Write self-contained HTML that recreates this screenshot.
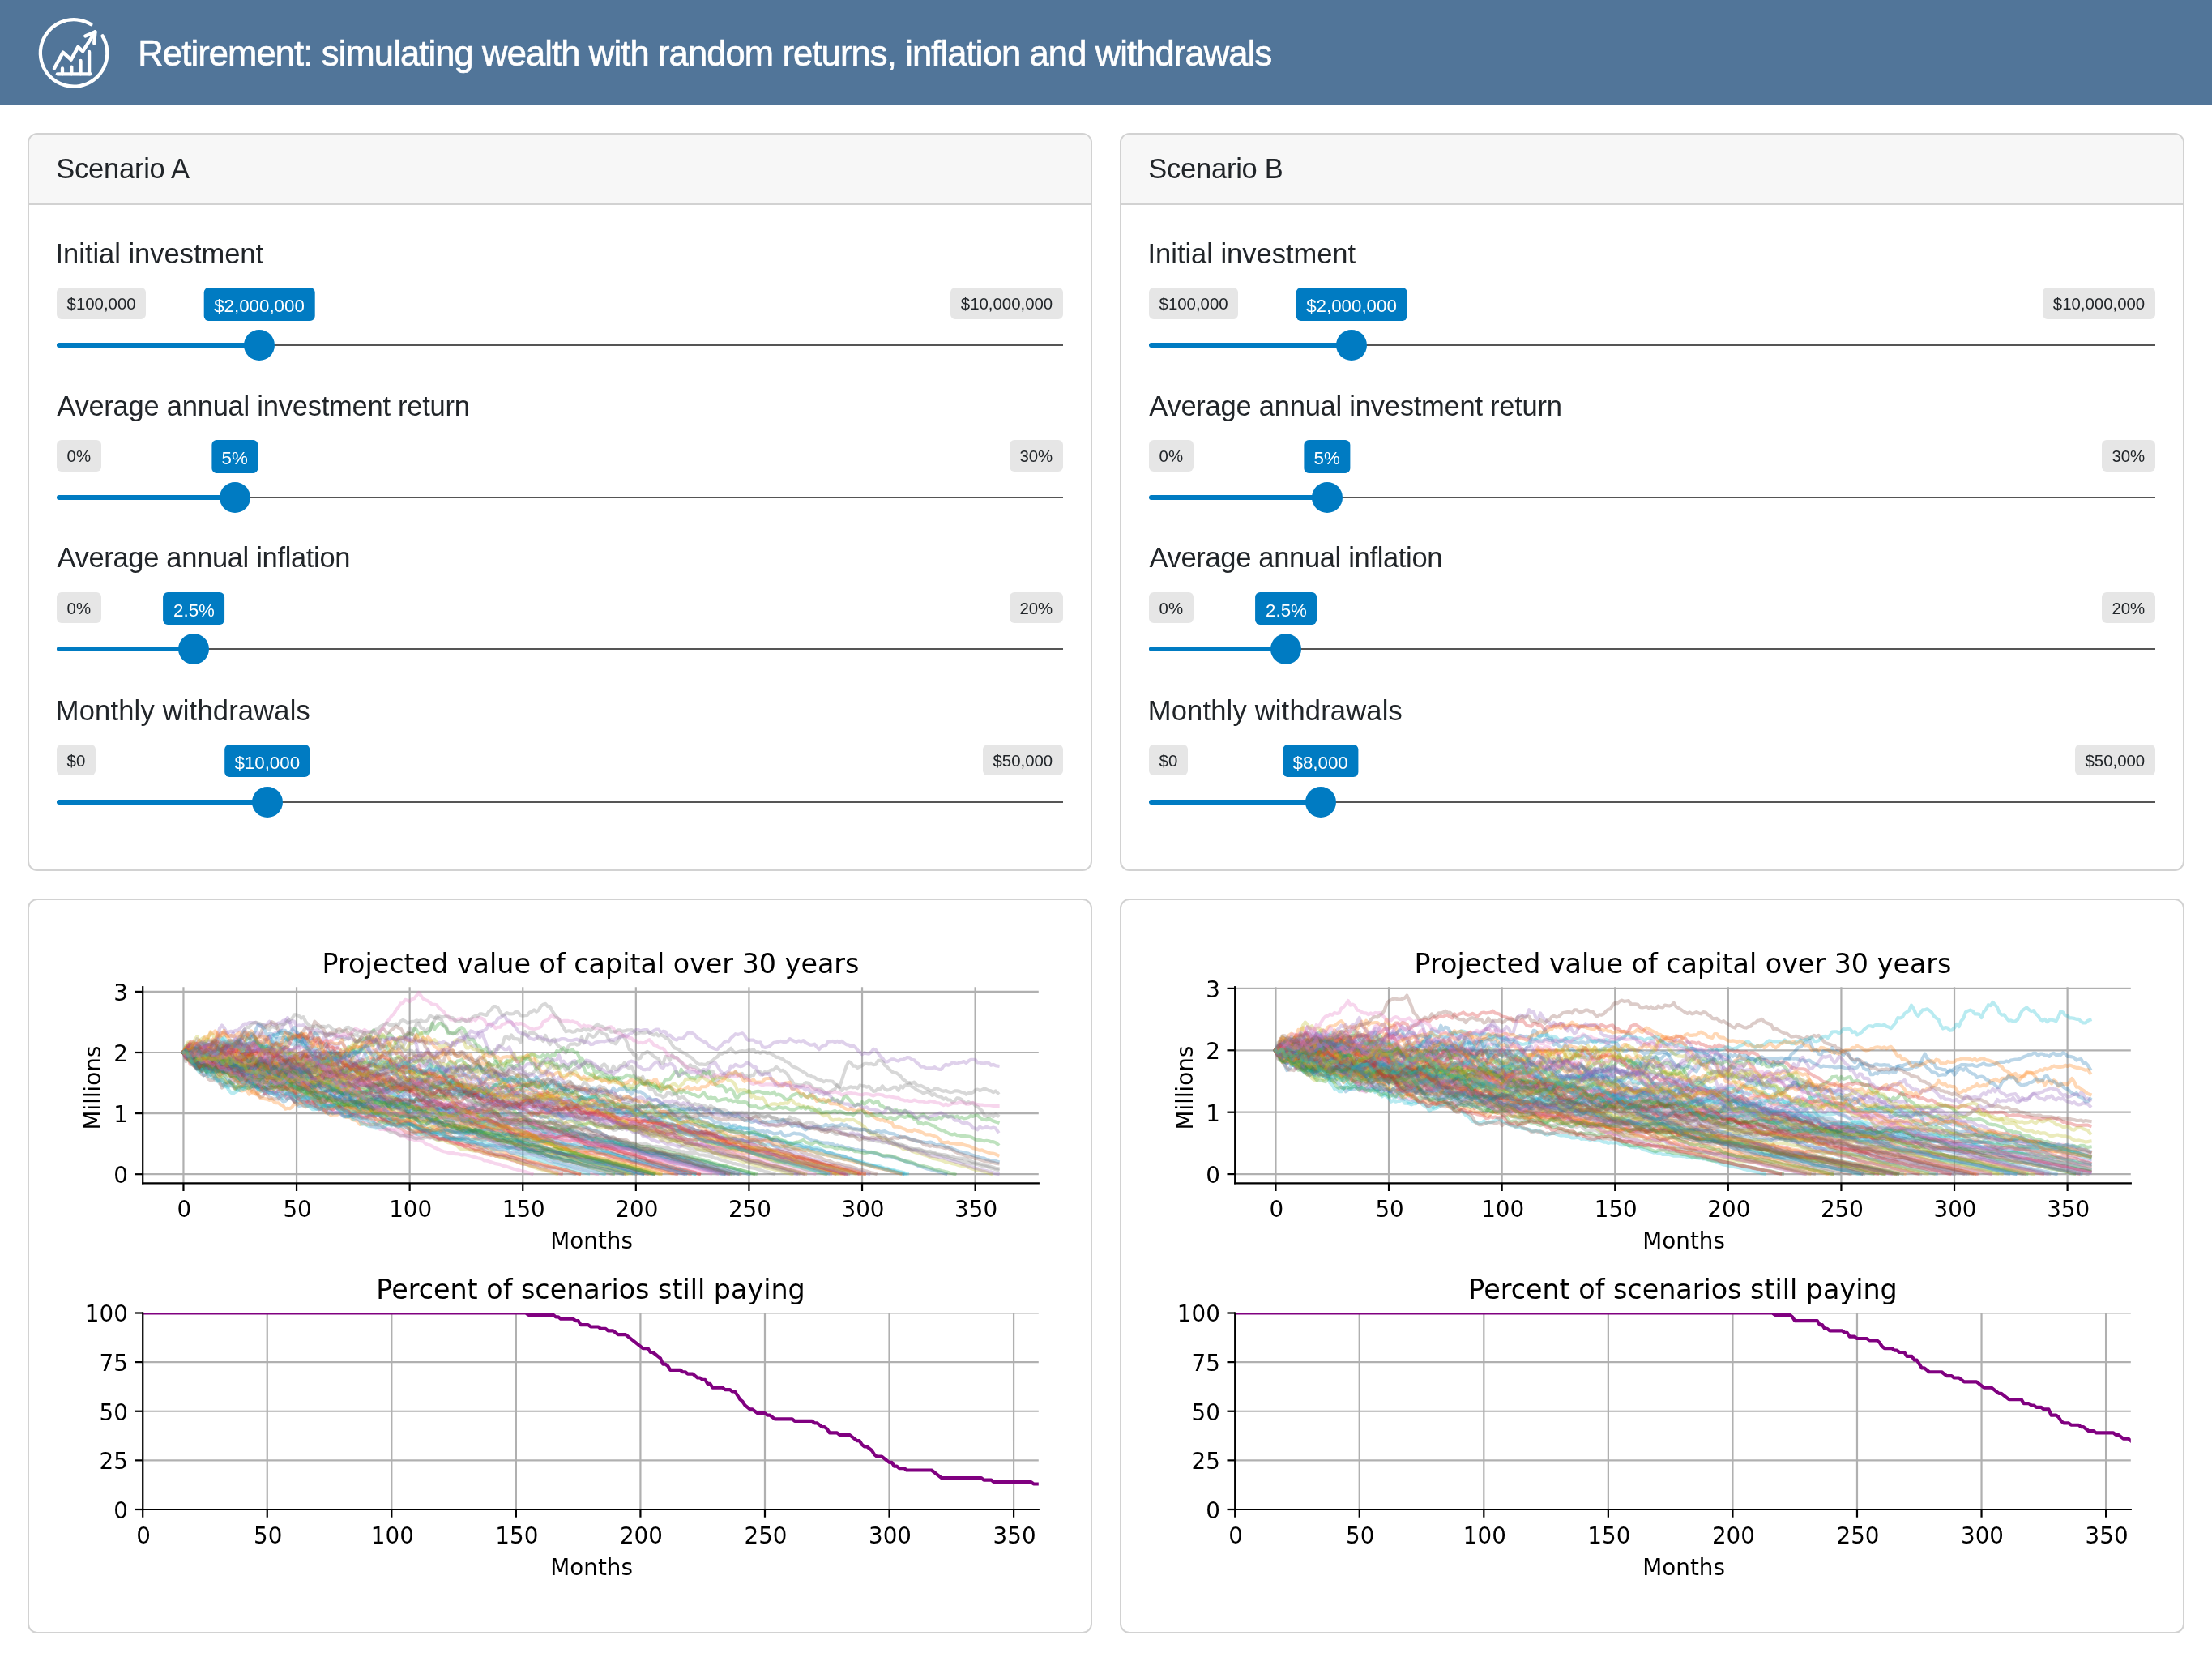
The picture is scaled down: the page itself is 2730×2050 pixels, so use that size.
<!DOCTYPE html><html><head><meta charset="utf-8"><title>Retirement</title><style>
*{box-sizing:border-box;margin:0;padding:0}
html,body{width:2730px;height:2050px;background:#fff;overflow:hidden}
body{position:relative;will-change:transform;font-family:"Liberation Sans",Arial,sans-serif;color:#212529}
.t{position:absolute;white-space:nowrap}
.hdr{position:absolute;left:0;top:0;width:2730px;height:130px;background:#517599}
.card{position:absolute;border:2px solid #d2d2d2;border-radius:12px;background:#fff;overflow:hidden}
.card-header{height:87px;background:#f7f7f7;border-bottom:2px solid #d2d2d2}
.irs-min,.irs-max{position:absolute;height:38.4px;line-height:40.4px;padding:0 12.6px;background:#e6e6e6;border-radius:6px;font-size:20.4px;color:#212529;white-space:nowrap}
.irs-single{position:absolute;height:40.3px;line-height:45.3px;padding:0 12.5px;background:#007bc2;color:#fff;border-radius:6px;font-size:22.3px;white-space:nowrap;transform:translateX(-50%)}
.irs-line{position:absolute;height:2px;background:#555555}
.irs-bar{position:absolute;height:6px;background:#007bc2;border-radius:3px}
.irs-handle{position:absolute;width:38px;height:38px;border-radius:50%;background:#007bc2}
.plot{position:absolute;left:68px;top:1143px;width:1246px;height:800px}
@media (max-width:1400px){html{zoom:0.5}}
</style></head><body>
<div class="hdr"></div><svg class="icon" width="160" height="130" viewBox="0 0 160 130" style="position:absolute;left:0;top:0" fill="none" stroke="#fff" stroke-width="4.3" stroke-linecap="round" stroke-linejoin="round">
<path d="M112.41 30.13 A41.25 41.25 0 1 0 126.53 44.33"/>
<path d="M66.9 84.5 L77.8 64.6 L87.7 73.7 L96.3 57.9 L102.2 63.3 L117.3 39.6"/>
<path d="M105.3 44.4 L117.5 39.3 L116.2 53.3"/>
<path d="M70.9 91.3 H111.8"/>
<path d="M77 91.3 V84.4 M88.3 91.3 V82.6 M99.5 91.3 V74.9 M110.1 91.3 V64"/>
</svg>
<div class="t " style="left:170.30px;top:44.92px;font-size:43.50px;line-height:43.50px;color:#fff;letter-spacing:-0.87px;-webkit-text-stroke:0.6px #fff;">Retirement: simulating wealth with random returns, inflation and withdrawals</div>
<div class="card" style="left:34px;top:164px;width:1314px;height:911px"><div class="card-header"></div></div>
<div class="t " style="left:69.35px;top:191.39px;font-size:34.50px;line-height:34.50px;letter-spacing:-0.25px;">Scenario A</div>
<div class="t " style="left:68.50px;top:296.09px;font-size:34.50px;line-height:34.50px;letter-spacing:-0.02px;">Initial investment</div>
<div class="irs-min" style="left:70.00px;top:355.30px">$100,000</div>
<div class="irs-max" style="right:1418.20px;top:355.30px">$10,000,000</div>
<div class="irs-line" style="left:70.00px;top:425.00px;width:1241.80px"></div>
<div class="irs-bar" style="left:70.00px;top:423.00px;width:250.03px"></div>
<div class="irs-handle" style="left:301.03px;top:407.00px"></div>
<div class="irs-single" style="left:320.03px;top:355.30px">$2,000,000</div>
<div class="t " style="left:70.25px;top:484.19px;font-size:34.50px;line-height:34.50px;letter-spacing:-0.24px;">Average annual investment return</div>
<div class="irs-min" style="left:70.00px;top:543.40px">0%</div>
<div class="irs-max" style="right:1418.20px;top:543.40px">30%</div>
<div class="irs-line" style="left:70.00px;top:613.10px;width:1241.80px"></div>
<div class="irs-bar" style="left:70.00px;top:611.10px;width:219.63px"></div>
<div class="irs-handle" style="left:270.63px;top:595.10px"></div>
<div class="irs-single" style="left:289.63px;top:543.40px">5%</div>
<div class="t " style="left:70.50px;top:671.39px;font-size:34.50px;line-height:34.50px;letter-spacing:-0.33px;">Average annual inflation</div>
<div class="irs-min" style="left:70.00px;top:730.60px">0%</div>
<div class="irs-max" style="right:1418.20px;top:730.60px">20%</div>
<div class="irs-line" style="left:70.00px;top:800.30px;width:1241.80px"></div>
<div class="irs-bar" style="left:70.00px;top:798.30px;width:169.47px"></div>
<div class="irs-handle" style="left:220.47px;top:782.30px"></div>
<div class="irs-single" style="left:239.47px;top:730.60px">2.5%</div>
<div class="t " style="left:68.75px;top:859.59px;font-size:34.50px;line-height:34.50px;letter-spacing:0.19px;">Monthly withdrawals</div>
<div class="irs-min" style="left:70.00px;top:918.80px">$0</div>
<div class="irs-max" style="right:1418.20px;top:918.80px">$50,000</div>
<div class="irs-line" style="left:70.00px;top:988.50px;width:1241.80px"></div>
<div class="irs-bar" style="left:70.00px;top:986.50px;width:259.76px"></div>
<div class="irs-handle" style="left:310.76px;top:970.50px"></div>
<div class="irs-single" style="left:329.76px;top:918.80px">$10,000</div>
<div class="card" style="left:34px;top:1109px;width:1314px;height:907px"></div>
<div class="card" style="left:1382px;top:164px;width:1314px;height:911px"><div class="card-header"></div></div>
<div class="t " style="left:1417.35px;top:191.39px;font-size:34.50px;line-height:34.50px;letter-spacing:-0.25px;">Scenario B</div>
<div class="t " style="left:1416.50px;top:296.09px;font-size:34.50px;line-height:34.50px;letter-spacing:-0.02px;">Initial investment</div>
<div class="irs-min" style="left:1418.00px;top:355.30px">$100,000</div>
<div class="irs-max" style="right:70.20px;top:355.30px">$10,000,000</div>
<div class="irs-line" style="left:1418.00px;top:425.00px;width:1241.80px"></div>
<div class="irs-bar" style="left:1418.00px;top:423.00px;width:250.03px"></div>
<div class="irs-handle" style="left:1649.03px;top:407.00px"></div>
<div class="irs-single" style="left:1668.03px;top:355.30px">$2,000,000</div>
<div class="t " style="left:1418.25px;top:484.19px;font-size:34.50px;line-height:34.50px;letter-spacing:-0.24px;">Average annual investment return</div>
<div class="irs-min" style="left:1418.00px;top:543.40px">0%</div>
<div class="irs-max" style="right:70.20px;top:543.40px">30%</div>
<div class="irs-line" style="left:1418.00px;top:613.10px;width:1241.80px"></div>
<div class="irs-bar" style="left:1418.00px;top:611.10px;width:219.63px"></div>
<div class="irs-handle" style="left:1618.63px;top:595.10px"></div>
<div class="irs-single" style="left:1637.63px;top:543.40px">5%</div>
<div class="t " style="left:1418.50px;top:671.39px;font-size:34.50px;line-height:34.50px;letter-spacing:-0.33px;">Average annual inflation</div>
<div class="irs-min" style="left:1418.00px;top:730.60px">0%</div>
<div class="irs-max" style="right:70.20px;top:730.60px">20%</div>
<div class="irs-line" style="left:1418.00px;top:800.30px;width:1241.80px"></div>
<div class="irs-bar" style="left:1418.00px;top:798.30px;width:169.47px"></div>
<div class="irs-handle" style="left:1568.47px;top:782.30px"></div>
<div class="irs-single" style="left:1587.47px;top:730.60px">2.5%</div>
<div class="t " style="left:1416.75px;top:859.59px;font-size:34.50px;line-height:34.50px;letter-spacing:0.19px;">Monthly withdrawals</div>
<div class="irs-min" style="left:1418.00px;top:918.80px">$0</div>
<div class="irs-max" style="right:70.20px;top:918.80px">$50,000</div>
<div class="irs-line" style="left:1418.00px;top:988.50px;width:1241.80px"></div>
<div class="irs-bar" style="left:1418.00px;top:986.50px;width:211.61px"></div>
<div class="irs-handle" style="left:1610.61px;top:970.50px"></div>
<div class="irs-single" style="left:1629.61px;top:918.80px">$8,000</div>
<div class="card" style="left:1382px;top:1109px;width:1314px;height:907px"></div>
<div class="plot"> <svg style="overflow:visible" stroke-linejoin="round" stroke-linecap="butt" width="1246" height="800" viewBox="0 0 448.56 288" version="1.1"><g><g><path d="M 0 288 L 448.56 288 L 448.56 0 L 0 0 z " style="fill: #ffffff"/></g><g><g><path d="M 38.952 114.228 L 436.968 114.228 L 436.968 27.072 L 38.952 27.072 z " style="fill: #ffffff"/></g><g><g><g><path d="M 57.043636 114.228 L 57.043636 27.072 " clip-path="url(#ap23c7c8c218)" style="fill: none; stroke: #b0b0b0; stroke-width: 0.8; stroke-linecap: square"/></g><g><g><path d="M 0 0 L 0 3.5 " transform="translate(57.043636 114.228)" style="stroke: #000000; stroke-width: 0.8"/></g></g><g><text style="font-size: 10px; font-family: 'DejaVu Sans', 'Bitstream Vera Sans', 'Computer Modern Sans Serif', 'Lucida Grande', 'Verdana', 'Geneva', 'Lucid', 'Arial', 'Helvetica', 'Avant Garde', sans-serif; text-anchor: middle" x="57.043636" y="128.826437" transform="translate(0.360 0.504) rotate(-0 57.043636 128.826437)">0</text></g></g><g><g><path d="M 107.298182 114.228 L 107.298182 27.072 " clip-path="url(#ap23c7c8c218)" style="fill: none; stroke: #b0b0b0; stroke-width: 0.8; stroke-linecap: square"/></g><g><g><path d="M 0 0 L 0 3.5 " transform="translate(107.298182 114.228)" style="stroke: #000000; stroke-width: 0.8"/></g></g><g><text style="font-size: 10px; font-family: 'DejaVu Sans', 'Bitstream Vera Sans', 'Computer Modern Sans Serif', 'Lucida Grande', 'Verdana', 'Geneva', 'Lucid', 'Arial', 'Helvetica', 'Avant Garde', sans-serif; text-anchor: middle" x="107.298182" y="128.826437" transform="translate(0.360 0.504) rotate(-0 107.298182 128.826437)">50</text></g></g><g><g><path d="M 157.552727 114.228 L 157.552727 27.072 " clip-path="url(#ap23c7c8c218)" style="fill: none; stroke: #b0b0b0; stroke-width: 0.8; stroke-linecap: square"/></g><g><g><path d="M 0 0 L 0 3.5 " transform="translate(157.552727 114.228)" style="stroke: #000000; stroke-width: 0.8"/></g></g><g><text style="font-size: 10px; font-family: 'DejaVu Sans', 'Bitstream Vera Sans', 'Computer Modern Sans Serif', 'Lucida Grande', 'Verdana', 'Geneva', 'Lucid', 'Arial', 'Helvetica', 'Avant Garde', sans-serif; text-anchor: middle" x="157.552727" y="128.826437" transform="translate(0.360 0.504) rotate(-0 157.552727 128.826437)">100</text></g></g><g><g><path d="M 207.807273 114.228 L 207.807273 27.072 " clip-path="url(#ap23c7c8c218)" style="fill: none; stroke: #b0b0b0; stroke-width: 0.8; stroke-linecap: square"/></g><g><g><path d="M 0 0 L 0 3.5 " transform="translate(207.807273 114.228)" style="stroke: #000000; stroke-width: 0.8"/></g></g><g><text style="font-size: 10px; font-family: 'DejaVu Sans', 'Bitstream Vera Sans', 'Computer Modern Sans Serif', 'Lucida Grande', 'Verdana', 'Geneva', 'Lucid', 'Arial', 'Helvetica', 'Avant Garde', sans-serif; text-anchor: middle" x="207.807273" y="128.826437" transform="translate(0.360 0.504) rotate(-0 207.807273 128.826437)">150</text></g></g><g><g><path d="M 258.061818 114.228 L 258.061818 27.072 " clip-path="url(#ap23c7c8c218)" style="fill: none; stroke: #b0b0b0; stroke-width: 0.8; stroke-linecap: square"/></g><g><g><path d="M 0 0 L 0 3.5 " transform="translate(258.061818 114.228)" style="stroke: #000000; stroke-width: 0.8"/></g></g><g><text style="font-size: 10px; font-family: 'DejaVu Sans', 'Bitstream Vera Sans', 'Computer Modern Sans Serif', 'Lucida Grande', 'Verdana', 'Geneva', 'Lucid', 'Arial', 'Helvetica', 'Avant Garde', sans-serif; text-anchor: middle" x="258.061818" y="128.826437" transform="translate(0.360 0.504) rotate(-0 258.061818 128.826437)">200</text></g></g><g><g><path d="M 308.316364 114.228 L 308.316364 27.072 " clip-path="url(#ap23c7c8c218)" style="fill: none; stroke: #b0b0b0; stroke-width: 0.8; stroke-linecap: square"/></g><g><g><path d="M 0 0 L 0 3.5 " transform="translate(308.316364 114.228)" style="stroke: #000000; stroke-width: 0.8"/></g></g><g><text style="font-size: 10px; font-family: 'DejaVu Sans', 'Bitstream Vera Sans', 'Computer Modern Sans Serif', 'Lucida Grande', 'Verdana', 'Geneva', 'Lucid', 'Arial', 'Helvetica', 'Avant Garde', sans-serif; text-anchor: middle" x="308.316364" y="128.826437" transform="translate(0.360 0.504) rotate(-0 308.316364 128.826437)">250</text></g></g><g><g><path d="M 358.570909 114.228 L 358.570909 27.072 " clip-path="url(#ap23c7c8c218)" style="fill: none; stroke: #b0b0b0; stroke-width: 0.8; stroke-linecap: square"/></g><g><g><path d="M 0 0 L 0 3.5 " transform="translate(358.570909 114.228)" style="stroke: #000000; stroke-width: 0.8"/></g></g><g><text style="font-size: 10px; font-family: 'DejaVu Sans', 'Bitstream Vera Sans', 'Computer Modern Sans Serif', 'Lucida Grande', 'Verdana', 'Geneva', 'Lucid', 'Arial', 'Helvetica', 'Avant Garde', sans-serif; text-anchor: middle" x="358.570909" y="128.826437" transform="translate(0.360 0.504) rotate(-0 358.570909 128.826437)">300</text></g></g><g><g><path d="M 408.825455 114.228 L 408.825455 27.072 " clip-path="url(#ap23c7c8c218)" style="fill: none; stroke: #b0b0b0; stroke-width: 0.8; stroke-linecap: square"/></g><g><g><path d="M 0 0 L 0 3.5 " transform="translate(408.825455 114.228)" style="stroke: #000000; stroke-width: 0.8"/></g></g><g><text style="font-size: 10px; font-family: 'DejaVu Sans', 'Bitstream Vera Sans', 'Computer Modern Sans Serif', 'Lucida Grande', 'Verdana', 'Geneva', 'Lucid', 'Arial', 'Helvetica', 'Avant Garde', sans-serif; text-anchor: middle" x="408.825455" y="128.826437" transform="translate(0.360 0.504) rotate(-0 408.825455 128.826437)">350</text></g></g><g><text style="font-size: 10px; font-family: 'DejaVu Sans', 'Bitstream Vera Sans', 'Computer Modern Sans Serif', 'Lucida Grande', 'Verdana', 'Geneva', 'Lucid', 'Arial', 'Helvetica', 'Avant Garde', sans-serif; text-anchor: middle" x="237.96" y="142.504562" transform="translate(0.396 0.864) rotate(-0 237.96 142.504562)">Months</text></g></g><g><g><g><path d="M 38.952 110.232077 L 436.968 110.232077 " clip-path="url(#ap23c7c8c218)" style="fill: none; stroke: #b0b0b0; stroke-width: 0.8; stroke-linecap: square"/></g><g><g><path d="M 0 0 L -3.5 0 " transform="translate(38.952 110.232077)" style="stroke: #000000; stroke-width: 0.8"/></g></g><g><text style="font-size: 10px; font-family: 'DejaVu Sans', 'Bitstream Vera Sans', 'Computer Modern Sans Serif', 'Lucida Grande', 'Verdana', 'Geneva', 'Lucid', 'Arial', 'Helvetica', 'Avant Garde', sans-serif; text-anchor: end" x="31.952" y="114.031296" transform="translate(0.396 0.144) rotate(-0 31.952 114.031296)">0</text></g></g><g><g><path d="M 38.952 83.196063 L 436.968 83.196063 " clip-path="url(#ap23c7c8c218)" style="fill: none; stroke: #b0b0b0; stroke-width: 0.8; stroke-linecap: square"/></g><g><g><path d="M 0 0 L -3.5 0 " transform="translate(38.952 83.196063)" style="stroke: #000000; stroke-width: 0.8"/></g></g><g><text style="font-size: 10px; font-family: 'DejaVu Sans', 'Bitstream Vera Sans', 'Computer Modern Sans Serif', 'Lucida Grande', 'Verdana', 'Geneva', 'Lucid', 'Arial', 'Helvetica', 'Avant Garde', sans-serif; text-anchor: end" x="31.952" y="86.995281" transform="translate(0.396 0.144) rotate(-0 31.952 86.995281)">1</text></g></g><g><g><path d="M 38.952 56.160048 L 436.968 56.160048 " clip-path="url(#ap23c7c8c218)" style="fill: none; stroke: #b0b0b0; stroke-width: 0.8; stroke-linecap: square"/></g><g><g><path d="M 0 0 L -3.5 0 " transform="translate(38.952 56.160048)" style="stroke: #000000; stroke-width: 0.8"/></g></g><g><text style="font-size: 10px; font-family: 'DejaVu Sans', 'Bitstream Vera Sans', 'Computer Modern Sans Serif', 'Lucida Grande', 'Verdana', 'Geneva', 'Lucid', 'Arial', 'Helvetica', 'Avant Garde', sans-serif; text-anchor: end" x="31.952" y="59.959267" transform="translate(0.396 0.144) rotate(-0 31.952 59.959267)">2</text></g></g><g><g><path d="M 38.952 29.124034 L 436.968 29.124034 " clip-path="url(#ap23c7c8c218)" style="fill: none; stroke: #b0b0b0; stroke-width: 0.8; stroke-linecap: square"/></g><g><g><path d="M 0 0 L -3.5 0 " transform="translate(38.952 29.124034)" style="stroke: #000000; stroke-width: 0.8"/></g></g><g><text style="font-size: 10px; font-family: 'DejaVu Sans', 'Bitstream Vera Sans', 'Computer Modern Sans Serif', 'Lucida Grande', 'Verdana', 'Geneva', 'Lucid', 'Arial', 'Helvetica', 'Avant Garde', sans-serif; text-anchor: end" x="31.952" y="32.923252" transform="translate(0.396 0.144) rotate(-0 31.952 32.923252)">3</text></g></g><g><text style="font-size: 10px; font-family: 'DejaVu Sans', 'Bitstream Vera Sans', 'Computer Modern Sans Serif', 'Lucida Grande', 'Verdana', 'Geneva', 'Lucid', 'Arial', 'Helvetica', 'Avant Garde', sans-serif; text-anchor: middle" x="19.509813" y="70.65" transform="translate(0.612 1.188) rotate(-90 19.509813 70.65)">Millions</text></g></g><g clip-path="url(#ap23c7c8c218)"><g transform="matrix(0.167515 0 0 -0.167515 57.0436 110.2321)" fill="none" stroke-width="8.9544" stroke-opacity="0.3" stroke-linecap="square" stroke-linejoin="round"><path d="M0 323l6-7 6 5 6-2 6 3 6-6 6 2 6-9 6-4 6 3 6-4 6 3 6-19 6-7 6 3 6 9 6-6 6-7 6 5 6 0 6 5 6 1 6-5 6-10 6-2 6-8 6-1 6-5 6 8 6 5 6-10 6 7 6-7 6 12 6-3 6 7 6 4 6 1 6-5 6 2 6-5 6-16 6-8 6 0 6 1 6 5 6 8 6 4 6 15 6 0 6-7 6 0 6-8 6 8 6 5 6-4 6 3 6 0 6 2 6-2 6 7 6-19 6-2 6 4 6-2 6 0 6-9 6-15 6-4 6-6 6-1 6-2 6 0 6 3 6 1 6 0 6-2 6 3 6-4 6-3 6 1 6-1 6 6 6-7 6 0 6 4 6 0 6 1 6 1 6-9 6 0 6-7 6 4 6 9 6 7 6-2 6 4 6-10 6 4 6 3 6 3 6 16 6-5 6 2 6 2 6-7 6 0 6 0 6-9 6-10 6 1 6 3 6-6 6-4 6 1 6-3 6 6 6-2 6-1 6-3 6-3 6 3 6-2 6-6 6 1 6 0 6 2 6 1 6-1 6-8 6-5 6-7 6 2 6-4 6-4 6 4 6 4 6 6 6 4 6 2 6-4 6 3 6-2 6-1 6-1 6 9 6-5 6 1 6 6 6 2 6-4 6-8 6-3 6-8 6-5 6 5 6-2 6-4 6-3 6 2 6-7 6 7 6 2 6 2 6-2 6-3 6 1 6 1 6 1 6-5 6-7 6 3 6-2 6 2 6-1 6 0 6 0 6 5 6-6 6-1 6-1 6-3 6 1 6 1 6 7 6 4 6-6 6-4 6 0 6-6 6-2 6-5 6-1 6 11 6-1 6 4 6-8 6-2 6 3 6-5 6 7 6-2 6 6 6 4 6-2 6-3 6 4 6-2 6 2 6-3 6 3 6 4 6 2 6-10 6-2 6-7 6-2 6 0 6-2 6 2 6 6 6 2 6-2 6 3 6-6 6-1 6-1 6 0 6-9 6-2 6-4 6-1 6 0 6-3 6-6 6-4 6 1 6-1 6-6 6 1 6-1 6 1 6-7 6 4 6 0 6-5 6 1 6-6 6 2 6-1 6 1 6-1 6-1 6-4 6-1 6-2 6 3 6-5 6 4 6-3 6-2 6-3 6 1 6 0 6 4 6-8 6-2 6 2 6 0 6 3 6 2 6-2 6 0 6-1 6-2 6-5 6-3 6-4 6-3 6 0 6-1 6-3 6-1 6-1 6 0 6 0 6-3 6 0 6-5 6 2 6-3 6 1 6-3 6-2 6-1 6-2 6 0 6-3 6 1 6-2 6 0 6-1 6-3 6 0 6-1 6-1 6-2 6-2 6-2 6-2 6-2 6 0 6 0 6-1 6-2 6-2 6-2 6-1 6-2 6-3 6-2 6-2 6-1 6-2 6-2 6-4 6-1 6-2 6-2 6-2 6-1 6-2 6-2 6-1 6-2 6-1 6-2 6-2" stroke="#1f77b4"/><path d="M0 323l6-1 6-5 6-8 6 13 6-2 6 1 6 0 6-5 6 6 6-6 6-11 6 14 6-2 6 5 6-13 6-8 6-12 6 6 6 4 6-2 6 4 6-2 6-2 6 1 6-3 6 0 6 7 6-4 6-5 6 0 6-2 6 3 6-11 6-10 6-3 6 0 6 7 6-1 6-5 6 0 6 5 6 13 6-2 6-10 6-2 6 7 6-3 6 0 6 0 6-11 6-10 6-2 6-5 6-13 6-11 6 15 6-1 6-13 6-1 6 1 6 7 6 3 6 2 6 0 6-8 6 2 6 0 6 10 6 1 6-6 6-9 6-6 6-9 6-2 6-2 6 5 6-18 6-6 6-9 6-3 6 2 6-10 6-3 6-5 6 0 6 4 6 1 6-2 6-3 6-9 6-6 6-1 6-5 6 2 6-5 6-1 6-5 6 3 6-4 6 4 6-6 6-3 6-4 6 1 6-5 6 1 6-1 6 1 6 0 6 4 6 1 6-1 6-5 6-2 6 0 6-4 6-1 6 1 6 0 6 0 6-1 6 1 6-2 6-5 6-3 6-1 6 1 6-5 6-4 6-2 6 4 6 1 6 1 6 0 6-3 6-3 6 0 6-2 6-1 6-2 6-4 6-2 6 2 6 0 6 0 6-2 6-4 6 1 6 0 6-1 6-3 6 0 6-4 6-3 6-1 6-2 6-3 6-2 6-3 6-2 6-2 6-1 6-2 6 1 6-1 6-1 6-3 6 0 6-1 6 0 6-2 6 0 6-1 6-4 6-3 6 0 6-1 6 0 6-2 6-2 6-2 6-2 6-1 6-2 6-2 6-1 6-1 6-2 6-1 6-2 6-2 6-1 6-2 6-1 6-2 6-1 6-2 6-1" stroke="#ff7f0e"/><path d="M0 323l6-4 6-14 6-6 6 0 6-2 6-4 6-11 6 13 6-2 6 5 6-3 6-9 6-8 6-9 6 6 6 6 6 3 6 2 6-2 6-5 6-11 6 3 6-5 6 3 6 4 6-6 6-1 6 5 6 14 6-2 6 1 6 1 6 6 6-14 6 4 6 4 6 0 6 4 6-2 6 1 6 4 6-11 6-3 6 4 6 1 6-12 6 6 6-6 6 8 6 6 6 5 6 12 6 5 6-7 6-19 6-11 6-2 6 3 6-2 6-2 6 4 6 1 6-9 6-1 6-4 6-13 6 1 6-6 6 3 6 2 6-3 6 0 6 0 6-6 6 1 6-6 6-1 6-5 6-1 6 0 6-4 6-2 6-2 6 6 6-5 6 1 6-2 6 3 6 0 6-7 6-4 6-5 6 3 6-5 6-3 6-2 6-9 6 1 6-4 6-4 6-4 6-7 6 3 6-6 6 0 6 8 6-3 6-3 6 2 6-1 6-2 6-5 6 0 6-3 6 1 6 2 6-4 6-3 6-7 6 0 6-1 6 0 6-5 6-2 6 3 6 3 6 1 6-3 6 2 6 6 6 0 6 2 6 7 6-3 6-1 6-4 6 1 6 0 6-6 6-6 6 1 6 0 6-2 6 1 6 2 6 2 6 3 6-3 6-2 6-2 6 1 6 3 6-2 6-5 6-1 6-5 6 1 6-4 6 1 6-7 6-1 6-2 6 2 6 1 6-3 6-4 6-2 6 3 6-4 6-6 6-1 6 1 6-5 6-2 6-1 6-1 6 3 6-1 6-2 6-3 6-3 6 2 6-5 6-3 6-2 6-1 6-1 6-1 6 2 6 1 6-5 6-1 6-1 6-3 6-4 6-2 6-3 6-3 6-2 6-1 6-1 6-4 6 0 6 0 6-1 6-3 6-2 6 1 6 0 6 0 6-1 6 1 6-2 6-3 6-2 6-2 6-2 6-1 6-1 6-1 6-1 6-1 6-1 6-2 6-2 6-2 6-1 6-3 6-2 6 0 6-2 6-2 6-1 6-1 6-2 6-2 6-2 6-2 6-1 6-2 6-2 6-1" stroke="#2ca02c"/><path d="M0 323l6-6 6-7 6-4 6 6 6-6 6 2 6-2 6-2 6-13 6 2 6 2 6-6 6 1 6-13 6-9 6-5 6 2 6 3 6 3 6-1 6-5 6 1 6-5 6-12 6 2 6-3 6 3 6-4 6 0 6-6 6 2 6-7 6-7 6 4 6-9 6-10 6 10 6-2 6 1 6-7 6 3 6 1 6 0 6-7 6-3 6 5 6 1 6-16 6-9 6 10 6 2 6 4 6 3 6 3 6-3 6 2 6-6 6-14 6 6 6-5 6-2 6-1 6 4 6 7 6-6 6-11 6 2 6-5 6-1 6-6 6 0 6 6 6 0 6-4 6-2 6-5 6-4 6 1 6 2 6 0 6-3 6-4 6-2 6-5 6-1 6 7 6-6 6-9 6-4 6-1 6-3 6-2 6-3 6-5 6-2 6-3 6-4 6-6 6-2 6-2 6-2 6 3 6-1 6 3 6 2 6-2 6-3 6-1 6 1 6-3 6-2 6-5 6-5 6 0 6 1 6 0 6-3 6-3 6 0 6 0 6-6 6-2 6-4 6-2 6-3 6-2 6-3 6-1 6-3 6 0 6-2 6-2 6-3 6-2 6-1 6-2 6 1 6-3 6 0 6-1 6-1 6-1 6-3 6-2 6-3 6-1 6-1 6-4 6-2 6-2 6 0 6-1 6-2 6-2 6-1 6-2 6-2 6-2 6-1 6-2 6-2 6-1 6-2 6-2 6-1 6-2 6-1" stroke="#d62728"/><path d="M0 323l6-10 6-5 6-4 6 5 6-9 6 11 6-15 6 11 6 5 6-12 6-5 6-7 6 10 6-3 6 12 6 6 6-5 6-1 6 4 6-10 6 6 6-9 6-2 6-12 6 4 6-5 6-1 6-2 6-8 6-6 6 3 6 8 6 5 6-6 6-6 6-7 6-1 6 8 6 3 6-4 6 2 6 0 6-4 6-1 6 2 6-4 6 8 6 1 6-7 6 0 6 2 6 6 6 6 6-11 6-2 6-4 6-11 6-2 6 0 6-8 6-4 6-2 6 1 6-1 6-6 6-5 6-11 6 6 6 9 6-8 6 9 6 2 6-1 6 4 6-5 6-7 6 3 6 7 6 1 6 7 6-6 6-4 6-9 6 4 6-7 6 4 6-1 6-1 6-3 6-1 6 7 6 5 6-3 6 3 6-3 6 10 6-6 6-5 6-3 6 5 6 3 6 3 6-2 6-5 6 1 6 1 6-1 6 0 6-1 6-2 6 5 6 2 6 9 6-1 6 5 6 0 6 0 6-1 6-14 6-2 6 5 6 8 6 3 6-11 6-4 6 1 6-6 6-8 6-4 6-7 6-2 6-1 6 6 6-2 6-10 6-2 6-5 6 5 6 5 6 6 6-6 6 4 6-1 6-2 6-3 6-4 6-5 6-3 6-8 6-2 6 4 6 2 6 1 6-4 6 3 6-11 6-5 6 1 6 9 6-3 6-3 6 5 6-3 6-1 6 0 6-9 6-3 6 2 6 1 6-6 6 0 6 2 6-3 6 3 6 0 6 0 6 1 6-1 6 0 6-3 6-2 6-5 6 1 6-7 6-1 6-4 6-8 6 1 6 2 6 2 6 2 6-3 6-10 6 4 6-1 6-6 6 2 6-5 6-5 6 0 6 1 6 0 6-4 6-3 6-2 6 1 6-1 6-1 6 1 6 1 6-3 6-4 6 0 6 0 6-3 6 1 6-3 6-1 6 1 6 0 6-4 6-4 6-1 6 1 6-2 6 0 6-1 6-2 6 2 6-2 6 0 6-2 6-3 6-2 6 0 6 1 6-2 6-2 6-1 6-1 6-1 6 0 6-1 6-1 6 1 6 0 6-1 6 0 6-2 6-3 6-1 6 0 6-2 6-4 6 0 6-1 6-2 6 0 6 0 6-2 6-3 6 0 6-3 6-1 6-1 6-2 6-1 6-1 6-2 6-3 6-1 6-1 6-1 6-1 6-2 6-2 6-1 6-2 6-2 6-1 6-2 6-2 6-1 6-2 6-1 6-2 6-2 6-1" stroke="#9467bd"/><path d="M0 323l6 0 6-14 6-7 6 0 6-11 6-13 6 0 6-13 6-3 6 2 6-12 6-3 6 1 6 8 6-6 6-5 6-18 6 11 6-3 6-2 6 1 6-5 6-4 6 3 6 0 6 3 6 0 6 4 6 0 6-14 6 4 6-5 6-11 6-6 6 2 6 8 6-4 6-9 6 0 6-3 6 1 6-1 6 9 6 1 6 0 6-10 6 8 6-4 6-10 6 1 6-2 6-1 6 1 6-2 6 5 6 5 6-1 6-2 6-1 6-2 6-5 6-3 6-3 6-3 6-1 6 1 6 1 6-7 6 7 6 0 6 5 6-5 6-1 6 2 6 2 6-4 6-6 6-2 6 1 6 2 6-3 6-1 6 0 6 3 6-2 6-2 6-2 6-8 6-5 6-4 6-2 6-1 6-1 6-2 6-2 6-7 6-2 6 2 6-1 6 0 6-4 6 0 6 0 6-6 6 1 6-8 6-2 6 0 6 0 6 0 6-1 6 4 6-2 6-2 6 0 6-3 6 2 6-5 6 4 6-2 6 4 6 3 6-1 6-3 6 1 6-1 6 1 6 0 6-3 6-6 6 1 6-5 6-2 6-2 6-1 6-1 6-6 6 1 6-1 6 0 6 0 6-2 6-2 6-4 6-1 6-3 6-4 6 1 6-2 6-1 6-2 6-3 6-2 6 0 6-1 6 0 6-1 6 0 6 0 6 1 6-1 6-2 6-1 6 1 6-1 6-2 6-3 6-2 6-2 6-3 6-3 6-2 6-2 6-3 6 0 6 0 6-3 6-1 6-1 6-1 6-1 6-1 6 0 6-2 6-2 6-1 6-3 6-1 6-2 6-1 6-2 6-2 6-2 6-2 6-1 6-2 6-1 6-2 6-1 6-2" stroke="#8c564b"/><path d="M0 323l6 5 6-7 6-4 6 4 6 4 6 3 6-9 6-2 6-1 6 4 6 1 6 0 6-3 6-9 6 2 6-10 6-17 6 5 6-10 6 6 6-4 6-7 6 4 6 7 6 2 6 7 6 6 6-9 6 3 6 7 6-3 6-1 6 5 6-4 6 3 6-5 6-2 6 3 6 6 6 16 6-8 6 3 6-3 6-1 6-7 6-9 6-2 6 5 6-15 6-6 6 0 6-9 6 8 6-1 6 1 6 6 6 1 6 0 6-7 6-1 6-14 6-4 6 3 6 2 6-5 6 2 6-3 6 6 6 0 6-2 6-8 6-7 6-6 6-3 6-2 6-6 6 8 6-11 6-8 6-2 6-3 6 2 6-5 6-4 6-5 6-2 6-2 6 1 6-7 6-4 6-5 6-1 6-4 6-1 6-1 6 2 6 0 6-8 6-6 6-2 6 0 6-7 6 1 6-2 6 6 6-1 6-3 6-3 6 0 6 2 6-1 6 1 6 1 6-1 6 3 6 6 6 6 6-2 6-4 6 0 6 1 6-4 6-4 6 0 6-3 6 0 6 0 6-2 6-10 6-3 6-4 6-6 6-1 6-3 6 4 6-1 6-1 6 3 6 4 6-2 6-2 6 1 6 2 6-6 6 1 6-1 6 2 6-3 6 2 6-3 6-3 6-2 6 2 6-3 6 0 6 2 6-2 6-2 6-3 6-4 6 2 6-2 6-5 6 0 6-2 6 3 6 1 6 3 6 0 6-3 6-1 6 0 6-2 6-2 6-3 6-3 6-3 6-1 6-2 6-2 6 3 6-4 6-3 6 1 6-3 6-2 6-3 6 0 6-1 6-3 6-3 6 0 6 0 6 1 6-1 6 2 6 0 6 1 6-3 6-1 6-1 6-1 6-1 6-4 6-1 6-2 6-1 6-4 6 0 6-2 6-1 6-2 6 0 6-1 6-2 6-1 6-3 6-1 6-1 6-1 6-1 6-2 6-1 6-3 6-3 6-2 6-2 6-1 6-2 6-1 6-1 6-2 6-2 6-2 6-1 6-2 6-1 6-2 6-1 6-2 6-1" stroke="#e377c2"/><path d="M0 323l6-7 6 0 6-8 6-2 6 1 6 4 6-12 6 4 6-1 6-11 6-11 6 4 6 1 6 10 6-3 6-9 6-4 6 8 6 5 6-10 6-2 6 0 6 4 6 13 6 10 6-1 6 0 6 6 6-3 6-1 6 6 6-9 6-8 6 3 6 8 6-2 6 2 6-8 6 14 6-6 6 6 6 10 6 10 6-11 6-7 6 0 6 11 6-4 6 12 6 7 6-1 6 3 6 16 6-1 6 6 6 8 6 5 6-5 6 1 6 1 6 1 6-5 6 2 6-5 6 4 6-1 6-4 6-7 6 3 6 0 6-7 6 4 6-2 6 11 6 2 6-2 6-1 6-4 6-2 6-5 6 5 6 1 6-12 6 7 6-2 6-8 6-4 6 0 6-13 6 13 6 2 6-8 6-3 6 10 6-14 6 5 6 1 6 13 6 16 6 22 6-8 6 2 6 16 6 3 6-13 6-1 6-9 6 7 6-4 6 15 6 14 6 9 6-6 6-3 6-14 6-3 6-15 6-4 6-2 6 1 6-1 6 9 6-5 6-16 6-10 6 2 6-9 6-3 6 3 6-16 6 0 6-1 6-5 6 3 6-5 6 1 6 6 6 6 6-1 6 11 6 2 6 19 6 2 6-7 6 11 6-10 6 0 6-1 6-8 6 23 6 5 6-12 6 8 6 1 6-1 6-4 6-11 6 1 6-7 6 15 6-14 6-10 6 12 6 2 6-13 6-6 6-4 6-10 6-3 6 16 6 7 6 0 6 1 6-3 6 2 6 19 6-16 6 8 6 15 6-3 6-4 6 3 6 9 6 5 6-7 6-2 6-2 6-13 6-6 6-1 6-4 6 8 6 10 6 5 6-7 6-12 6-19 6-3 6-11 6-1 6-10 6 2 6 12 6 1 6 4 6-3 6-4 6-6 6-3 6-3 6-11 6-2 6 19 6 0 6-10 6 15 6-8 6 1 6-9 6-2 6-10 6-5 6 0 6 6 6-6 6 1 6-4 6-5 6-1 6-4 6-4 6-1 6 8 6-1 6-18 6-7 6 8 6 1 6 10 6-6 6-3 6 8 6-2 6 7 6-5 6-5 6 6 6-13 6 7 6-5 6 7 6-1 6 12 6-1 6-2 6-7 6 8 6-4 6 6 6 3 6 0 6 8 6-5 6-6 6 2 6-6 6-5 6-11 6-6 6-11 6 0 6-1 6 0 6 0 6 7 6-1 6-4 6-7 6-4 6 0 6 0 6-2 6-5 6-8 6 3 6 5 6 3 6 3 6 11 6-8 6-7 6 7 6-2 6 3 6 2 6-2 6 1 6-3 6 8 6-2 6 0 6-3 6 2 6-6 6-7 6 1 6 6 6-1 6 8 6-8 6-3 6 1 6 4 6 3 6 0 6-9 6 12 6-5 6 7 6-1 6 4 6-7 6-2 6-6 6-3 6-2 6-4 6 2 6 2 6-5 6-5 6 4 6-5 6-2 6-1 6-6 6 3 6-5 6 0 6-6 6 4 6 7 6-1 6-3 6-6 6-4 6 4 6-4 6 1 6-7 6-3 6-5 6-6 6-11 6-4 6 2 6 2 6-4 6 6 6-4" stroke="#7f7f7f"/><path d="M0 323l6 2 6-5 6-13 6 5 6 1 6-5 6 0 6 2 6 8 6 10 6-3 6-6 6 3 6-3 6 12 6-1 6-5 6 5 6-8 6 0 6 10 6-2 6 13 6-14 6-2 6-3 6 1 6-8 6-4 6-13 6 2 6-4 6-10 6-2 6-3 6-3 6-12 6 5 6 2 6-8 6-5 6-3 6 0 6-7 6 2 6 0 6 4 6-3 6 1 6-13 6 2 6-13 6-5 6-3 6-6 6 2 6-3 6-1 6 2 6-12 6-9 6 7 6-6 6-4 6 0 6-4 6 0 6-4 6 1 6 3 6-1 6-6 6-3 6-3 6 8 6-5 6 2 6 6 6 6 6 2 6 2 6-4 6-1 6-6 6-3 6-2 6 2 6-4 6-6 6-3 6 3 6-2 6 1 6-3 6-11 6-1 6 3 6-2 6-9 6-4 6 0 6-2 6 3 6-4 6-2 6-2 6 1 6-10 6 0 6-5 6 3 6 1 6 5 6-1 6-7 6-2 6-6 6-4 6 0 6-4 6 6 6-3 6 1 6-1 6-2 6 0 6 2 6-7 6-2 6-2 6-1 6-5 6 1 6-2 6-1 6 1 6-1 6 0 6-5 6-1 6 0 6-2 6 2 6-1 6-4 6-2 6-1 6-1 6-2 6 0 6-1 6 0 6 1 6-1 6-2 6-4 6-1 6-2 6-1 6-2 6-4 6-3 6-1 6 1 6-2 6 0 6-2 6 0 6-3 6-1 6 0 6-4 6-1 6-2 6-2 6-3 6 0 6-2 6-2 6-1 6-2 6-2 6 0 6-3 6-2 6-2 6-2 6-2 6-2 6-1 6-3 6-2 6-1 6-2 6-1 6-2 6-1" stroke="#bcbd22"/><path d="M0 323l6-2 6-3 6 8 6 3 6 3 6-1 6 6 6 12 6-3 6 1 6-4 6 1 6 9 6-3 6 3 6 12 6-5 6-5 6-13 6-2 6-8 6 2 6 13 6-15 6-2 6-20 6-6 6-1 6-6 6 5 6-2 6 5 6-1 6 3 6-2 6 8 6 8 6 6 6 4 6 11 6 4 6-1 6-12 6-1 6 14 6 9 6 7 6-4 6-4 6 6 6 9 6-1 6-6 6-18 6 2 6 2 6-11 6-1 6-4 6 0 6-17 6 11 6-20 6 3 6 5 6 3 6-7 6-3 6-11 6-3 6-5 6-4 6-3 6 2 6-9 6 4 6 1 6-13 6 4 6-6 6-5 6-16 6-1 6-10 6 4 6-10 6-6 6-2 6 2 6 4 6-1 6 9 6-11 6 7 6 1 6 0 6-1 6 3 6 9 6 0 6-2 6 3 6 1 6-8 6-5 6-5 6-10 6-6 6-5 6 3 6 2 6-4 6-1 6 4 6-8 6 14 6 3 6-3 6-2 6 0 6 0 6 4 6-4 6 3 6 0 6 2 6 3 6-5 6 0 6-5 6-5 6 1 6 11 6-4 6-4 6-5 6 5 6-4 6-2 6-1 6-5 6-5 6 6 6-2 6-6 6 2 6-2 6-1 6-1 6-4 6 5 6 3 6 0 6 7 6 0 6 8 6-3 6-4 6 0 6 2 6-1 6 2 6-12 6-2 6 3 6 6 6 5 6 6 6-6 6-2 6-6 6 0 6-1 6-3 6 3 6-7 6-2 6 2 6-3 6-1 6 3 6-11 6 2 6-4 6-4 6 1 6-6 6 2 6-2 6 3 6 5 6-6 6 4 6-3 6-1 6 1 6-1 6-1 6 3 6 1 6 0 6-6 6-3 6 3 6 6 6 1 6-1 6 2 6-6 6 1 6-7 6-2 6 1 6-3 6-3 6-3 6-4 6 1 6 3 6 3 6 5 6-6 6 0 6 1 6-3 6-3 6-1 6 3 6-5 6-7 6 0 6 0 6-3 6 0 6-5 6 1 6 1 6-6 6 1 6-1 6 0 6 2 6 0 6-4 6 1 6 2 6-1 6-1 6-1 6-6 6-4 6-1 6-4 6-1 6-4 6-1 6-2 6 1 6-2 6-5 6-3 6 0 6 1 6-1 6-1 6-3 6-1 6 0 6-1 6-1 6 1 6-1 6-2 6-5 6-1 6-1 6 0 6-4 6 1 6-1 6-1 6-3 6-3 6-4 6-1 6 1 6-3 6-2 6-2 6-1 6-1 6-1 6-4 6-3 6 0 6-2 6-2 6-1 6-1 6-2 6-3 6-2 6-1 6-2 6-1 6-1 6 0 6-2 6-3 6-2 6 0 6-2 6-2 6-1 6-2 6-1 6-2 6-1 6-2 6-1" stroke="#17becf"/><path d="M0 323l6-3 6-3 6-6 6 0 6 2 6 8 6-8 6 0 6-3 6-1 6 14 6-1 6-17 6 1 6-3 6 12 6-4 6-7 6-3 6-6 6 11 6-8 6 9 6-2 6 8 6 7 6-4 6-3 6 1 6-6 6-1 6 0 6 4 6 11 6 18 6-12 6-2 6 3 6-10 6-21 6 2 6 4 6 14 6-3 6 4 6-15 6 16 6-10 6 2 6-7 6-3 6-10 6 4 6 5 6-16 6-4 6 2 6-1 6-8 6-18 6 9 6-3 6-4 6-1 6-6 6 12 6 5 6-5 6-13 6-6 6-4 6 1 6-3 6-6 6-5 6 5 6 0 6 12 6 1 6-9 6 2 6-9 6 2 6 6 6-4 6-10 6 0 6 2 6 1 6-7 6-4 6-2 6 3 6-4 6-5 6 6 6-6 6-4 6-8 6 1 6 1 6-4 6 2 6-2 6-1 6-1 6-7 6-1 6 0 6-2 6-1 6 0 6-5 6-2 6 5 6-3 6-1 6 2 6-4 6-4 6-2 6-1 6 5 6 2 6-2 6 0 6 6 6 0 6 1 6-8 6 2 6 5 6 5 6 5 6 2 6-3 6 3 6-4 6-1 6 0 6 0 6-3 6 0 6-6 6 1 6-2 6 5 6 3 6 7 6 3 6 3 6 4 6-2 6-1 6-10 6-3 6-4 6 0 6 1 6-7 6-2 6 5 6 1 6-4 6 0 6-14 6-6 6 2 6 2 6 0 6 7 6 4 6 1 6 3 6-2 6-8 6 2 6 2 6-1 6-5 6-1 6 6 6 4 6 7 6-3 6 3 6-10 6 4 6-5 6-8 6-2 6 4 6 0 6-4 6 4 6-3 6-2 6 1 6 4 6 1 6-5 6 2 6-3 6 0 6-2 6-6 6 2 6-3 6 2 6 4 6 2 6 6 6-1 6 3 6 0 6-6 6 3 6-9 6-3 6-4 6 0 6-5 6-1 6-2 6-2 6 1 6-1 6-4 6 2 6-1 6-1 6-3 6-3 6-4 6 2 6-1 6-4 6 2 6 3 6 2 6 0 6-3 6 1 6 0 6-2 6-1 6-4 6-2 6 0 6-1 6 0 6-3 6 0 6 0 6-3 6-1 6-2 6 1 6-5 6-4 6-2 6 2 6-4 6-2 6-2 6 0 6-4 6 0 6-1 6-2 6 0 6-1 6-2 6-3 6 1 6-3 6 0 6-3 6-1 6 0 6-2 6 0 6-2 6-2 6-1 6-3 6-1 6-3 6-1 6 0 6-4 6 0 6-1 6-3 6 0 6-4 6-2 6-4 6-1 6-2 6-1 6-2 6-2 6-1 6-2 6-1 6-2 6-1 6-2 6-2 6-1 6-2 6-2 6-1 6-2 6-1 6-2 6-1" stroke="#1f77b4"/><path d="M0 323l6-10 6 0 6 2 6 3 6-5 6 6 6-10 6-9 6-12 6-3 6-4 6-3 6-17 6-1 6 0 6-3 6-7 6-2 6-5 6 0 6 2 6-5 6-11 6 3 6-10 6-1 6 2 6 0 6-11 6 5 6 5 6-10 6-3 6-7 6-1 6-1 6-1 6-3 6 3 6-7 6-3 6 0 6-5 6-2 6-9 6 2 6-1 6 4 6 10 6-4 6 3 6 1 6-6 6-4 6 3 6 4 6-3 6-1 6-3 6-2 6-1 6-4 6-8 6-1 6-5 6 1 6 0 6 0 6 3 6 0 6-2 6-8 6 2 6-4 6-5 6-1 6-3 6-8 6 5 6-3 6-3 6 2 6-2 6 1 6 0 6 4 6 4 6 0 6-3 6-1 6 2 6 3 6 1 6 0 6-5 6 6 6-3 6-1 6 2 6-1 6-3 6-3 6-6 6-3 6 0 6 3 6-6 6-2 6-5 6 1 6 2 6-2 6 0 6-3 6-9 6-3 6-1 6-3 6 0 6-3 6-4 6-4 6-1 6-3 6-1 6-2 6-2 6 0 6-1 6 2 6-5 6-2 6 0 6 1 6-4 6-1 6-1 6-3 6-3 6 0 6 0 6-2 6-3 6-3 6-2 6 0 6-3 6-1 6-3 6 0 6-2 6-3 6-3 6-2 6-1 6-1 6 0 6-2 6-2 6-2 6-2 6-2 6-1 6-1 6-2 6-1 6-1 6-2 6-1 6-2 6-2 6-2 6-1 6-2 6-2" stroke="#ff7f0e"/><path d="M0 323l6 1 6-2 6 2 6 5 6-6 6-13 6-3 6 10 6-15 6 14 6 13 6-6 6 7 6 1 6 8 6-4 6 8 6-12 6 9 6-7 6 4 6 3 6 0 6-1 6-6 6-1 6 9 6-17 6 14 6-21 6-5 6-14 6-6 6-5 6 5 6 2 6 3 6 4 6-4 6 1 6 11 6 2 6 0 6-6 6-14 6-14 6 11 6-3 6-2 6 4 6 6 6-12 6-9 6 2 6 8 6 0 6 4 6 1 6 0 6 3 6 0 6 4 6 0 6 9 6 3 6-2 6 6 6-3 6-2 6 9 6 6 6 5 6 13 6-3 6-6 6 3 6-7 6 11 6-2 6 0 6 9 6-3 6 4 6-2 6 10 6-7 6-12 6 7 6-2 6 0 6-14 6-22 6 3 6 3 6 3 6 1 6-6 6-6 6-7 6 13 6 0 6-6 6-3 6 5 6 1 6-7 6 6 6-3 6 3 6-16 6 1 6-3 6-1 6-11 6-5 6-11 6-1 6 2 6-16 6 1 6-5 6-1 6 2 6-1 6-12 6-8 6-3 6-5 6-1 6-3 6-4 6 3 6-1 6-3 6-8 6 0 6 9 6-2 6-7 6 0 6 4 6-10 6-5 6-4 6-2 6-3 6-10 6-4 6 3 6-5 6-7 6-7 6 0 6-4 6-5 6 5 6-2 6-5 6 4 6 4 6-1 6 2 6-2 6-5 6-2 6-4 6-6 6-3 6-2 6 1 6 2 6-5 6-5 6-3 6 0 6 0 6 0 6-4 6-4 6-1 6-3 6 3 6-1 6-2 6-2 6-3 6-1 6 1 6-1 6 0 6 1 6-3 6-2 6 1 6-1 6 1 6-4 6 1 6-3 6-1 6-1 6-3 6-1 6 0 6 1 6-1 6-3 6-2 6-1 6-1 6 0 6-2 6-2 6-1 6-1 6-2 6-2 6-3 6 1 6-3 6 0 6-1 6-2 6-1 6-2 6-1 6-2 6-1 6-2 6-1 6-2 6-1 6-3 6-2 6-1 6-2 6-2 6-1 6-2 6-1 6-3 6-1 6-1 6-2 6-1 6-2 6-2 6-2 6-1 6-2 6-2 6-1" stroke="#2ca02c"/><path d="M0 323l6-1 6-2 6-2 6 11 6-10 6-6 6-1 6 4 6-9 6-22 6-4 6 0 6 9 6 4 6-4 6 1 6-8 6-6 6-4 6 6 6-6 6 4 6-5 6 3 6-2 6 5 6-5 6-1 6-9 6 5 6-5 6-11 6-9 6 9 6 7 6-5 6-5 6 11 6 4 6-14 6 9 6-5 6 2 6-4 6 6 6 0 6-3 6-5 6-8 6-5 6-7 6 0 6-3 6-3 6-5 6-3 6 1 6-1 6 3 6-6 6 1 6-1 6 3 6 7 6 3 6-6 6-5 6 1 6 1 6 0 6 5 6 9 6-3 6-9 6 0 6 4 6-9 6-6 6 0 6-6 6-4 6 2 6-2 6 3 6 3 6 2 6 2 6-10 6 0 6-7 6 2 6-3 6-4 6 3 6 9 6-6 6-1 6-4 6 0 6 1 6 5 6 1 6 8 6-7 6 1 6 0 6-4 6 0 6 3 6 1 6 4 6-7 6-7 6 3 6-9 6-8 6 2 6 4 6-2 6-3 6-5 6-1 6 2 6 4 6-7 6 0 6-5 6 4 6-1 6 0 6 0 6 2 6-9 6-3 6-6 6-10 6 2 6-3 6-5 6-4 6-3 6 3 6-5 6-3 6-3 6-5 6-3 6 0 6 1 6 2 6-2 6 2 6-6 6-4 6-3 6 1 6 0 6 1 6-2 6 0 6-2 6-1 6 0 6-1 6 0 6 0 6-3 6-4 6 1 6-2 6 0 6 2 6 0 6-1 6-3 6-1 6-3 6-2 6-3 6 0 6-1 6-1 6-1 6 1 6-1 6 0 6-3 6 0 6 0 6-1 6-3 6-3 6-2 6 1 6-5 6-1 6-2 6-3 6 0 6-2 6-2 6-3 6-2 6-1 6-3 6-1 6-1 6-1 6-1 6-2 6-2 6-2 6-2 6-2 6-2 6-1 6-1 6-3 6-1 6-2 6-1 6-2 6-1 6-2 6-1 6-2 6-2 6-2" stroke="#d62728"/><path d="M0 323l6-2 6-1 6 8 6 4 6 2 6 6 6-2 6-11 6-4 6-4 6-18 6 1 6 3 6 3 6-10 6 6 6-5 6 0 6-4 6-18 6-4 6-4 6-3 6 4 6 11 6 11 6 7 6-2 6 1 6-4 6-1 6-11 6 1 6-3 6-3 6-8 6-3 6 11 6 3 6-4 6-9 6-5 6-2 6-8 6-1 6-2 6 2 6-10 6 8 6 1 6 3 6 4 6 11 6-2 6 2 6 8 6 4 6 1 6-5 6-11 6 1 6-12 6-1 6 6 6-14 6 6 6-4 6-5 6-2 6-12 6 0 6-12 6 0 6-8 6 0 6-2 6 2 6-5 6-3 6-1 6 2 6-5 6 1 6 6 6-7 6-1 6-4 6 1 6-1 6-1 6-1 6-6 6 6 6-6 6 4 6-8 6 5 6-6 6-6 6 0 6 3 6-1 6-3 6 6 6 5 6 1 6 0 6 7 6 2 6 5 6 2 6 5 6-5 6-11 6-6 6 5 6-4 6-3 6-8 6-1 6 6 6-4 6-3 6-4 6 7 6-3 6-6 6-2 6-3 6-1 6 1 6-2 6-3 6 1 6 2 6 0 6 2 6 1 6-3 6 0 6 2 6-8 6 3 6-6 6-2 6-1 6 0 6-6 6-5 6 2 6 1 6-3 6 2 6 2 6-2 6-6 6-3 6-1 6 0 6-1 6-2 6-1 6-1 6-3 6 2 6-4 6-4 6 1 6-3 6 0 6 5 6-7 6 0 6-2 6-1 6-1 6 3 6-6 6-1 6 2 6 1 6 1 6 0 6-1 6 2 6-2 6-5 6-6 6-3 6-6 6-5 6-2 6-1 6 1 6 1 6-1 6-5 6 1 6-4 6-4 6-2 6-2 6-1 6-2 6-1 6-3 6-2 6 2 6-1 6-2 6-2 6-3 6-2 6-1 6-2 6-1 6-1 6-1 6-2 6-2 6-2 6-1 6-1 6-2 6-1 6-2 6-2 6-2 6-2 6-1 6-2 6-2 6-1 6-2 6-1 6-2 6-1 6-2 6-1 6-2" stroke="#9467bd"/><path d="M0 323l6-2 6 12 6 9 6-3 6-9 6-14 6-3 6 3 6 1 6-11 6 5 6-5 6-7 6 13 6-1 6 2 6-12 6-3 6 4 6 6 6 1 6-5 6-3 6-3 6 0 6 3 6 5 6 3 6 6 6-11 6-8 6-3 6-2 6-5 6-2 6-12 6-2 6-3 6 7 6-6 6-3 6 5 6 9 6-7 6-14 6 8 6-10 6-4 6 10 6-2 6-5 6-11 6 0 6-12 6-2 6 0 6 1 6-8 6-6 6 1 6 0 6-1 6 4 6 2 6-3 6 4 6 1 6-6 6-2 6-3 6-9 6-7 6 3 6-5 6-5 6 0 6-5 6-1 6 7 6-5 6 2 6-3 6 1 6-8 6 1 6-8 6-3 6 2 6 3 6 3 6-2 6-7 6-3 6-5 6 1 6-3 6-1 6-1 6-2 6-3 6 0 6-4 6 0 6 3 6-1 6-4 6-1 6-1 6 1 6-1 6 0 6 4 6-8 6-2 6 2 6 0 6 1 6-2 6-3 6 2 6-2 6-4 6 5 6-1 6-1 6-4 6 2 6 2 6-2 6 0 6-3 6-4 6 3 6-4 6-1 6 0 6-6 6 1 6-2 6-1 6-2 6-4 6 0 6 0 6-6 6-4 6-4 6-7 6 0 6-2 6 3 6-1 6-2 6-1 6-3 6-2 6-3 6-3 6 0 6-3 6-3 6-3 6-1 6-3 6-2 6-1 6-3 6-1 6-2 6-1 6 0 6 0 6-1 6 0 6-1 6-2 6-1 6-1 6-3 6-2 6-1 6-3 6-1 6-1 6-1 6-2 6-2 6 0 6-2 6-2 6-2 6-1 6-2 6-2 6-2 6-1 6-1 6-2 6-1 6-2 6-2 6-1 6-2 6-2 6-1" stroke="#8c564b"/><path d="M0 323l6-16 6 11 6-4 6 6 6-5 6-9 6-6 6-6 6 0 6-8 6-1 6-3 6 9 6 3 6-3 6 3 6 5 6 2 6-3 6 1 6 14 6-3 6-3 6-5 6 8 6 0 6 5 6-9 6-1 6 0 6-1 6 10 6-5 6 9 6-2 6-3 6-11 6-7 6 1 6 0 6-4 6 0 6 15 6-6 6-7 6 8 6-10 6-2 6 9 6-17 6-2 6 1 6-7 6 6 6-9 6-11 6 12 6 0 6-6 6-8 6 4 6-2 6-2 6-7 6-1 6 3 6-3 6-7 6 2 6 1 6-6 6-4 6 4 6-11 6-1 6-6 6 7 6-6 6-2 6-1 6-8 6 2 6-1 6-8 6-3 6 5 6 4 6 8 6-10 6 0 6-11 6-7 6 0 6 1 6 1 6 2 6-6 6 0 6-2 6 0 6 0 6-2 6-1 6 4 6 3 6 1 6-5 6 3 6 7 6 0 6 10 6 1 6-9 6 5 6 0 6 3 6 4 6 1 6-2 6 1 6-3 6 8 6-8 6-1 6 1 6-4 6-3 6 0 6 0 6 4 6-8 6 1 6-5 6-2 6-2 6 3 6-5 6-3 6 7 6 0 6-2 6 0 6-8 6 0 6-4 6-1 6-1 6 2 6-7 6-3 6 2 6-5 6-1 6 3 6 2 6-4 6 0 6-3 6 3 6-1 6 2 6 0 6 4 6-3 6 0 6-4 6 2 6 2 6-6 6 1 6-2 6-3 6 0 6 0 6-3 6-1 6 0 6-7 6 4 6 5 6-3 6-7 6-5 6 5 6 1 6-7 6-4 6 6 6 0 6 1 6-4 6-1 6-2 6-7 6-2 6-3 6 4 6 0 6 0 6-2 6-3 6-3 6-4 6-2 6 0 6 0 6 3 6-2 6-3 6-4 6-2 6-2 6 3 6-3 6-1 6 0 6-3 6-1 6-1 6-6 6-3 6-3 6 2 6-2 6-1 6-1 6-5 6-2 6 4 6-5 6 1 6-3 6-3 6-1 6-2 6-2 6-1 6-3 6-2 6 0 6-1 6-2 6-1 6-2 6-2 6-2 6-3 6-2 6-2 6-1 6-3 6 0 6-3 6 0 6-2 6-2 6-2 6-1 6-2 6-1 6-2 6-2 6-2 6-1 6-1 6-1 6-2 6-2 6-1 6-2 6-2 6-1 6-2 6-1 6-2" stroke="#e377c2"/><path d="M0 323l6 0 6 5 6 8 6-1 6-7 6 4 6-4 6 1 6-11 6 15 6-10 6-15 6 16 6-2 6 2 6-6 6 6 6-11 6-3 6-1 6-8 6-3 6 1 6 6 6-1 6 13 6-6 6-4 6 4 6 0 6 2 6-6 6-12 6-6 6 14 6 1 6-1 6-20 6 6 6 1 6 0 6-15 6-10 6-5 6 4 6-2 6 5 6-5 6 0 6-2 6-1 6 3 6 6 6 1 6 3 6 2 6-6 6 1 6 13 6 7 6-2 6-3 6-10 6 6 6-9 6 1 6-1 6 14 6-9 6-7 6-3 6-9 6-10 6-2 6 6 6-6 6 2 6 3 6-2 6-5 6 7 6 7 6-7 6-12 6-2 6 3 6 1 6-8 6-7 6 1 6 5 6-2 6-6 6 0 6-1 6 4 6-8 6 2 6 5 6 1 6 1 6 8 6-3 6-7 6 6 6-13 6-5 6-11 6-11 6 3 6 2 6-7 6-2 6-5 6-7 6-2 6 1 6-7 6 1 6 3 6-10 6 1 6-1 6 0 6-2 6-3 6 1 6-1 6-7 6 3 6-5 6-3 6 3 6 4 6 0 6 7 6-1 6-4 6-5 6-7 6-1 6-1 6-1 6-4 6 5 6-2 6-4 6 0 6 3 6-1 6 2 6-3 6-3 6-4 6-7 6-3 6 3 6-1 6-4 6-2 6 0 6 3 6 0 6 2 6-1 6-4 6-3 6 2 6 1 6 1 6-3 6 0 6-3 6 1 6-1 6 3 6-6 6 2 6-3 6 1 6-3 6-2 6-6 6-1 6 0 6-2 6 0 6-3 6-3 6-2 6-2 6-2 6 0 6-2 6-3 6-5 6 0 6 0 6-2 6-1 6-3 6-2 6-1 6 0 6-1 6 1 6 0 6-4 6-1 6-1 6 0 6 0 6-1 6-5 6 0 6-2 6-3 6-1 6-4 6-2 6-1 6 0 6-2 6-1 6-3 6-1 6-2 6-1 6-2 6-2 6 0 6-2 6-1 6-2 6-3 6-1 6-2 6-1 6-2 6-2 6-1 6-2 6-1" stroke="#7f7f7f"/><path d="M0 323l6-1 6-11 6-2 6-4 6-1 6 7 6-13 6-2 6-15 6 6 6 10 6 5 6 7 6 7 6-3 6-16 6-6 6 3 6 0 6 0 6-14 6-1 6-5 6 10 6-2 6 2 6 1 6 9 6-8 6-11 6-7 6-2 6 4 6-4 6-9 6-5 6-8 6 0 6-6 6-2 6 6 6 1 6 0 6-1 6-2 6 0 6 2 6-7 6-1 6-3 6-9 6-3 6-7 6 1 6-6 6 9 6-4 6 6 6-2 6 0 6-2 6-6 6-5 6-8 6-2 6-8 6-3 6 1 6 4 6 4 6-4 6-5 6-4 6-1 6-2 6 1 6-3 6-3 6 7 6 0 6-2 6-3 6-2 6-6 6-2 6-1 6 0 6 0 6 0 6 2 6 0 6-1 6 3 6-5 6 4 6-1 6 0 6-1 6-2 6-3 6-2 6-5 6-2 6 2 6-4 6 1 6 1 6-1 6-3 6-2 6-1 6 7 6 2 6-4 6-6 6-4 6-3 6-1 6-1 6-3 6-8 6 0 6-4 6-3 6-2 6 1 6-2 6 4 6 1 6-7 6-1 6-3 6 5 6-3 6-5 6-3 6 2 6 4 6-2 6-1 6-2 6-2 6-2 6-5 6-1 6-6 6-1 6-2 6-2 6 0 6-5 6 1 6 1 6 0 6-1 6-4 6 0 6-3 6-2 6-1 6-1 6-4 6-2 6-2 6-3 6-4 6-3 6 1 6-1 6-3 6-1 6-2 6-1 6-2 6-3 6-2 6-2 6-1 6-2 6 0 6-1 6-3 6-2 6-1 6-2 6-2 6-1 6-1 6-2 6-2 6-1 6-1 6-2 6-2 6-1 6-2" stroke="#bcbd22"/><path d="M0 323l6 4 6 0 6-7 6 5 6 9 6 2 6 4 6-13 6-8 6 4 6-5 6-6 6 11 6 3 6-4 6 8 6-1 6-2 6-7 6-14 6-8 6 2 6-2 6 14 6 3 6 0 6 1 6-9 6 7 6-1 6-4 6-12 6-11 6 4 6-8 6-8 6 1 6-10 6 12 6-2 6 2 6-5 6 2 6-7 6-2 6-2 6-2 6-4 6-3 6-12 6-3 6-13 6-2 6-5 6-10 6-2 6 1 6 0 6 1 6 3 6-3 6-2 6 1 6-6 6 13 6 7 6 3 6 4 6 4 6-1 6-5 6-9 6-4 6 1 6-2 6 1 6 5 6 0 6-1 6 2 6-1 6-3 6 9 6-1 6-4 6-5 6 13 6-3 6-4 6 10 6-3 6 6 6 7 6-5 6 1 6-1 6-4 6 0 6 7 6-9 6 4 6 0 6-4 6-2 6 3 6-6 6 1 6-3 6 2 6 7 6 5 6-8 6 1 6 8 6 4 6 0 6-1 6-1 6 11 6 5 6 9 6-6 6-2 6 10 6-5 6-3 6-5 6 4 6 2 6-3 6-16 6 12 6-2 6 1 6 5 6-1 6 3 6-1 6-5 6-1 6-2 6 6 6-4 6-9 6 7 6-2 6-7 6 1 6-6 6-16 6 3 6 6 6-4 6-3 6-4 6-1 6-7 6 0 6-2 6 8 6-2 6 10 6 1 6-3 6-4 6 7 6-4 6 10 6-7 6-5 6-7 6 3 6-4 6-3 6-10 6 6 6 0 6-4 6 2 6-1 6 5 6-1 6-10 6-1 6 1 6-3 6-5 6 1 6 0 6 0 6-2 6-2 6-3 6-3 6 2 6-5 6-1 6-4 6 0 6 2 6-5 6-2 6-4 6-5 6-4 6-3 6 4 6 3 6 1 6-2 6-5 6 2 6 3 6-1 6-6 6-2 6-2 6-3 6 0 6-5 6-2 6-4 6-3 6-7 6 2 6-5 6-2 6-2 6-1 6-4 6 0 6 1 6 0 6-1 6-1 6 3 6 0 6-8 6 0 6-2 6-1 6-2 6-2 6 1 6-6 6 1 6-1 6-6 6 4 6-2 6 1 6-2 6 0 6 0 6-3 6-2 6-4 6 2 6 1 6-3 6-1 6-1 6-1 6-1 6 3 6-1 6-1 6 1 6-3 6-2 6 1 6 0 6-1 6-2 6 0 6-3 6-1 6-1 6-2 6-3 6-1 6-3 6-1 6 1 6-2 6-2 6-2 6-2 6-2 6-1 6 0 6-2 6 0 6-1 6-2 6 0 6-2 6-2 6-2 6-2 6-2 6-2 6-1 6-2 6 0 6-2 6-1 6-2 6-1 6-2 6-1 6-1 6-2 6-1 6-2 6-2 6-1 6-2 6-2" stroke="#17becf"/><path d="M0 323l6-4 6-4 6-4 6-3 6-3 6 1 6 8 6-3 6-1 6 7 6 5 6-8 6 4 6-7 6 9 6 0 6 12 6 7 6-3 6 18 6-4 6 1 6-9 6 3 6 8 6 9 6 16 6-11 6 8 6-2 6-9 6-4 6-23 6 4 6-13 6 0 6 7 6-5 6 12 6 4 6 13 6 1 6 2 6-1 6 2 6-8 6 4 6 2 6 0 6-9 6 2 6-2 6 8 6-17 6-3 6-5 6-9 6 0 6-11 6 1 6-10 6-5 6 9 6-9 6-11 6 5 6 12 6-10 6 8 6-9 6-2 6 1 6 4 6-2 6 0 6-5 6 0 6 14 6-2 6-8 6-3 6-3 6-1 6 4 6-4 6-8 6-5 6 1 6 14 6 0 6-5 6-2 6 1 6 5 6-5 6-1 6 0 6-4 6 8 6-12 6 2 6-10 6 7 6 4 6-10 6-3 6 4 6-8 6-4 6 0 6-5 6 2 6-11 6-1 6 2 6 4 6-5 6-5 6-4 6 1 6-6 6-3 6-2 6-6 6 1 6 0 6 0 6-12 6 8 6-1 6 1 6-4 6 4 6-6 6 3 6-3 6 3 6-4 6 7 6-1 6 3 6 0 6-6 6 7 6-10 6 0 6 0 6-1 6-10 6 2 6-2 6-8 6 0 6 1 6 0 6 1 6-2 6-10 6-5 6-2 6-4 6-2 6-4 6-6 6-1 6 4 6-5 6-6 6 1 6-5 6 0 6-2 6-3 6-6 6 2 6-5 6-6 6-2 6-1 6-3 6-4 6 0 6-1 6-2 6-6 6-2 6-3 6-4 6-4 6-2 6-1 6-2 6-2 6-2 6-2 6-3 6 1 6-3 6-2 6-1 6-3 6-3 6 0 6-2 6 2 6-4 6-2 6-2 6-2 6 0 6-2 6-2 6-2 6-1 6 1 6-1 6-1 6-1 6-2 6-3 6 1 6-1 6-2 6-2 6-1 6 0 6-3 6-2 6 0 6-1 6-1 6-2 6-1 6-2 6-2 6-2 6-1 6-2 6-1 6-2 6-2 6-2 6-1 6-2 6-1 6-2 6-2 6-2 6-1 6-2" stroke="#1f77b4"/><path d="M0 323l6 5 6 3 6 6 6 1 6-23 6-5 6 6 6 9 6 10 6 4 6-4 6-5 6-1 6-6 6-4 6-4 6 1 6-2 6-1 6 9 6-7 6-16 6-7 6 9 6 7 6 2 6-8 6 4 6 9 6-20 6-6 6 9 6-11 6-4 6 1 6-5 6 5 6-1 6 3 6-9 6 7 6-11 6 11 6 6 6-1 6-3 6 9 6 4 6-1 6-9 6-1 6 6 6-3 6-10 6 10 6-15 6 1 6-1 6-2 6-2 6 9 6-11 6-5 6-6 6 6 6 7 6-2 6-5 6 2 6-1 6 3 6-1 6 2 6-6 6 1 6-6 6-3 6 2 6-10 6-5 6-1 6 4 6 7 6-2 6 1 6 3 6-16 6-2 6-3 6 10 6 0 6 12 6-5 6 4 6-7 6 11 6-3 6 0 6-7 6-1 6 5 6 1 6-6 6-2 6 0 6 1 6 0 6-1 6 1 6-1 6 7 6-5 6 8 6-3 6 4 6 8 6-4 6-2 6-1 6 6 6-3 6 1 6 1 6 0 6-3 6-5 6-3 6 12 6-9 6 4 6-6 6-12 6 2 6 11 6-3 6 10 6-13 6 0 6 3 6-10 6 3 6-3 6-6 6 0 6-7 6-9 6 0 6-6 6-8 6-3 6-9 6 5 6-1 6-3 6 1 6 7 6 1 6 7 6 1 6 2 6-4 6-1 6 1 6-2 6 0 6 3 6 7 6-4 6-2 6 1 6 2 6-1 6 6 6-11 6-3 6-9 6-5 6-7 6 3 6 8 6 2 6 3 6-2 6-2 6 1 6 5 6-6 6 0 6-3 6-1 6-3 6 2 6 0 6-7 6-6 6 0 6 0 6-4 6-11 6-4 6 0 6-1 6-2 6-2 6-1 6-4 6-4 6-4 6 1 6-2 6-3 6 3 6-4 6-6 6-2 6-4 6 0 6-2 6-2 6 3 6-5 6-5 6-2 6-2 6-2 6-2 6 1 6-1 6 0 6-2 6-2 6 0 6 0 6-3 6 1 6-6 6-5 6-1 6-1 6-4 6-3 6-5 6-2 6-3 6 0 6 0 6-2 6-1 6-4 6 0 6 0 6 1 6-4 6 0 6-5 6-3 6-2 6-2 6-2 6 0 6-1 6-1 6-2 6-2 6-1 6-1 6-2 6-1 6-1 6-1 6-2 6-1 6-2 6-1 6-1 6-2 6-2 6-1 6-2 6-1 6-2 6-1 6-2 6-1 6-2 6-1 6-2 6-1 6-2 6-1 6-2" stroke="#ff7f0e"/><path d="M0 323l6 16 6-8 6-4 6-15 6 0 6 4 6-4 6 10 6-14 6-2 6-10 6 4 6-5 6-5 6-11 6 5 6-1 6 4 6-12 6-5 6-9 6 7 6 1 6 2 6 9 6-4 6 8 6 10 6-8 6 4 6 1 6 2 6-7 6 4 6-5 6-9 6-1 6 4 6 2 6-5 6-11 6-2 6 11 6 3 6 1 6 3 6 1 6-9 6-4 6 3 6-9 6 2 6 9 6-5 6 1 6-1 6-12 6 9 6-6 6-10 6-6 6-3 6 0 6 4 6-8 6-1 6 0 6-9 6-4 6-10 6-8 6 3 6-9 6-1 6-1 6-4 6-11 6-5 6 3 6-3 6 2 6-4 6 6 6 3 6 4 6 2 6 4 6-4 6-1 6-1 6 1 6 0 6 5 6-1 6 1 6-4 6-3 6-2 6-2 6 9 6-2 6 3 6 7 6-2 6-3 6 4 6 9 6-2 6 2 6 8 6-5 6 1 6-4 6 8 6-8 6-6 6-6 6-3 6 0 6-6 6-8 6-3 6-6 6-2 6-4 6 3 6-8 6 4 6-1 6-3 6-6 6-1 6-6 6 2 6-2 6 1 6-2 6-5 6-1 6 0 6 3 6 3 6-3 6 1 6-3 6 3 6-1 6-3 6-4 6 5 6 1 6 4 6-1 6-3 6 0 6-6 6-1 6-6 6 0 6-3 6-2 6 2 6-6 6 1 6-3 6-1 6 2 6-3 6-3 6-3 6-2 6-5 6 0 6-1 6-1 6-3 6-3 6 1 6 1 6-2 6-1 6 2 6-4 6-1 6-4 6-3 6-3 6 1 6-2 6-1 6 1 6-2 6-1 6-1 6-1 6 0 6 0 6-1 6-2 6 0 6-2 6-3 6-1 6-2 6-3 6 2 6 0 6 0 6-2 6-2 6 0 6-3 6-1 6-2 6-2 6-2 6 0 6-3 6 0 6-1 6 0 6-2 6 0 6 0 6 0 6-3 6 0 6-2 6-1 6-2 6-2 6-1 6-2 6-1 6-2 6-2 6 0 6-1 6-2 6 0 6-2 6-1 6-2 6-1 6-2 6-1 6-2 6-1 6-2 6-1 6-2 6-2 6-1" stroke="#2ca02c"/><path d="M0 323l6 3 6-15 6 9 6-2 6-9 6-11 6 4 6-3 6 4 6 4 6-6 6-2 6 1 6-16 6 2 6-11 6 0 6-3 6 0 6 5 6 0 6 10 6-9 6-8 6-10 6 8 6 6 6-9 6 3 6 6 6-13 6 7 6-5 6-2 6-5 6-4 6 12 6-8 6-3 6 7 6 8 6 6 6-2 6 6 6-11 6-3 6 0 6-16 6 5 6-3 6 3 6 1 6-13 6 2 6-1 6-10 6 0 6 8 6-5 6-3 6 8 6 8 6 12 6-1 6-2 6-1 6-2 6-2 6-7 6-3 6-7 6 7 6 1 6 11 6 6 6-5 6-5 6-11 6-4 6 1 6 2 6-2 6-7 6 2 6 5 6-10 6-3 6-1 6 3 6-7 6 4 6 7 6-7 6 3 6-10 6 7 6 8 6-6 6 4 6-1 6 1 6 17 6-10 6 9 6-5 6-9 6-2 6-2 6-9 6-5 6 3 6 5 6 2 6-7 6-6 6 12 6-1 6 11 6-5 6 2 6 7 6-3 6 0 6-6 6-4 6 3 6 9 6-16 6-5 6-3 6-10 6 2 6-4 6 4 6-2 6-2 6-5 6-1 6-7 6 2 6 5 6-1 6-1 6 0 6-4 6-7 6-4 6-1 6 6 6-2 6 3 6 4 6 6 6 5 6 2 6-8 6 8 6 5 6 2 6 0 6-2 6-3 6 0 6-4 6 5 6-2 6-7 6 1 6-2 6 4 6 1 6-10 6 1 6-9 6-5 6 5 6 1 6-4 6-3 6 0 6-2 6-3 6 2 6 0 6 0 6 1 6-6 6-6 6-5 6-2 6-4 6-4 6 0 6-5 6 2 6 3 6-3 6-2 6 2 6 0 6-1 6-2 6 5 6-1 6-1 6 1 6 0 6-3 6 1 6-5 6 5 6-5 6-4 6-4 6 0 6-4 6-4 6-3 6-1 6-2 6 1 6-1 6-2 6 1 6 0 6 0 6-3 6 0 6 3 6-3 6-1 6-4 6 0 6 0 6-5 6-3 6-2 6-2 6-2 6-2 6-2 6-3 6-2 6-2 6-4 6-3 6 0 6-2 6 0 6-2 6 2 6-2 6-3 6-2 6 0 6-1 6-3 6-2 6-4 6 0 6 0 6-2 6-1 6-2 6-1 6-2 6-1 6-1 6-3 6-3 6-2 6-3 6-1 6 0 6-2 6 0 6-1 6-2 6-2 6-1 6-3 6-2 6-1 6-2 6-2 6-2 6-1 6-2 6-1 6-2 6-1 6-2" stroke="#d62728"/><path d="M0 323l6-6 6 3 6-12 6-2 6 2 6 1 6 3 6-9 6-4 6 5 6 2 6 9 6-6 6-12 6-3 6-7 6 0 6 1 6-1 6-8 6-9 6-3 6 2 6-10 6-9 6 6 6-1 6-14 6 2 6 3 6-6 6-5 6-5 6-8 6 4 6-12 6 10 6-9 6 3 6-6 6 4 6-3 6 5 6 4 6 3 6-13 6-5 6-3 6 1 6 8 6-4 6 5 6-5 6-6 6-1 6-1 6-2 6-12 6 2 6 4 6 4 6 2 6-2 6 5 6 3 6 1 6-1 6-6 6 6 6-7 6 3 6 9 6-1 6-6 6-11 6-1 6-2 6 1 6 0 6-4 6 1 6 2 6-6 6 0 6-5 6 6 6-5 6-1 6 1 6-2 6 0 6-1 6 2 6-2 6 1 6-6 6 2 6-3 6 3 6 1 6-2 6 4 6-1 6-4 6 3 6-2 6-7 6 5 6 1 6 2 6-3 6 0 6 0 6-3 6-1 6-2 6-4 6-6 6 0 6 9 6-1 6 4 6-7 6-4 6-2 6-5 6 1 6 0 6 0 6-3 6-4 6 1 6-2 6 1 6-4 6 3 6-2 6-9 6-2 6 2 6 1 6-6 6-3 6-11 6-3 6 0 6-3 6-2 6-5 6-2 6-2 6 0 6 0 6 4 6-3 6 0 6 1 6-2 6 3 6-3 6-4 6-2 6-2 6-1 6-1 6-1 6-1 6-1 6-2 6-5 6 1 6-2 6-2 6 0 6 0 6-3 6 0 6-3 6-1 6-1 6 0 6-2 6-2 6-2 6-2 6-1 6-2 6-2 6-2 6-2 6-2 6 0 6-1 6-2 6-1 6-1 6-3 6-2 6-2 6-1 6-1 6-2 6 0 6-2 6-1 6-1 6-2 6-1 6-2 6-2 6-1 6-1 6-1 6-2 6-1 6-2 6-1 6-2 6-2 6-1 6-2" stroke="#9467bd"/><path d="M0 323l6-10 6 6 6 8 6-1 6 9 6-4 6 3 6-6 6-2 6-11 6 6 6-3 6-10 6-3 6-4 6-2 6-10 6 2 6 6 6-4 6-14 6 11 6-13 6-18 6 0 6-6 6 2 6-2 6-8 6 7 6 1 6 4 6-5 6-4 6-6 6 2 6-1 6-2 6 3 6-6 6 0 6 1 6 1 6-4 6 0 6 0 6-7 6 1 6-8 6-9 6-7 6-2 6 3 6-10 6-5 6 3 6-2 6-1 6 2 6 4 6-7 6 0 6-8 6-3 6 4 6-1 6-1 6 2 6-2 6-3 6 0 6 2 6-3 6-3 6 4 6-2 6-3 6-2 6 5 6-4 6 1 6 0 6 3 6-6 6-6 6-1 6-8 6-8 6-4 6 1 6-4 6-1 6-2 6 0 6-2 6-6 6 2 6 4 6 0 6-4 6 0 6-6 6-5 6-2 6-2 6-5 6 2 6 3 6-5 6-2 6 0 6 1 6 0 6 2 6 1 6-8 6-1 6-2 6-5 6-3 6 0 6 2 6-2 6 1 6-1 6 0 6-3 6 1 6 2 6 1 6-3 6-2 6 1 6 0 6-1 6-3 6-1 6-1 6-2 6-3 6 0 6-4 6-4 6-2 6 1 6 0 6-2 6-2 6 0 6 1 6-2 6 0 6-1 6 0 6-4 6-1 6-4 6 0 6-1 6-4 6-2 6-2 6-3 6-2 6-1 6-1 6-1 6-3 6-1 6 0 6 0 6-2 6-3 6-1 6-2 6-1 6-2 6-1 6-1 6 0 6-1 6-2 6-1 6-2 6-1 6-1 6-2 6-1 6-2 6-1 6-2 6-1 6-2 6-2 6-1" stroke="#8c564b"/><path d="M0 323l6 13 6-4 6-1 6-9 6 5 6-3 6-6 6-9 6 0 6-20 6 1 6 4 6-5 6-6 6-6 6 4 6 3 6 4 6 3 6-6 6-16 6-5 6 0 6-2 6 3 6-10 6 3 6 7 6-1 6 9 6-8 6-13 6 0 6-13 6 1 6 2 6 2 6-7 6 5 6 0 6 4 6-2 6-1 6 0 6-4 6-2 6 3 6-6 6-4 6-4 6-6 6-1 6-12 6 1 6 2 6-8 6-7 6-4 6 9 6-5 6-11 6 1 6-6 6-3 6-11 6 5 6-6 6 1 6 5 6 1 6-4 6 2 6-3 6-8 6-4 6-5 6-4 6-3 6-1 6-4 6 1 6-2 6-9 6 0 6 0 6-5 6-3 6 1 6-2 6 3 6-1 6-4 6-1 6-5 6-5 6-3 6 1 6-3 6-4 6-3 6 0 6-2 6-1 6 0 6-2 6-1 6-6 6-3 6-1 6-3 6-4 6-2 6-3 6-3 6-2 6-1 6-2 6-1 6 1 6-3 6 0 6-1 6-2 6 1 6-1 6-1 6-2 6-2 6-1 6-2 6-1 6-2 6-4 6 0 6-2 6-2 6-2 6-2 6-1 6-1 6-3 6-2 6-1 6-2 6-2 6-2 6-1 6-2 6-2 6-1 6-1 6-2 6-2 6-2" stroke="#e377c2"/><path d="M0 323l6 0 6 23 6-8 6 4 6-5 6 0 6 3 6-19 6 4 6 2 6 7 6-7 6 0 6-3 6 1 6 1 6 6 6 10 6 1 6 4 6 0 6-20 6 2 6 7 6 4 6-8 6-1 6 14 6 3 6-1 6-7 6 7 6-2 6-13 6-6 6-3 6-9 6-9 6 0 6-5 6-7 6 1 6-1 6-9 6-7 6-5 6 4 6-13 6-9 6 5 6-1 6-4 6-6 6-5 6-5 6 6 6-2 6-5 6 4 6-7 6 7 6-8 6 0 6-2 6 4 6-3 6-1 6-10 6 0 6-2 6-6 6-10 6 0 6-15 6-3 6 7 6 1 6 7 6 4 6-2 6 10 6-11 6 2 6 0 6 0 6 2 6 1 6-2 6 2 6-6 6-9 6-7 6 2 6 5 6-5 6 3 6-6 6 2 6-7 6 3 6 0 6-4 6 4 6 1 6-7 6 7 6-1 6 5 6 1 6-2 6-7 6-6 6 0 6-6 6-2 6-3 6-1 6-1 6-1 6-2 6-2 6-5 6 7 6-7 6-1 6-7 6-2 6 1 6-2 6-4 6-7 6 0 6 1 6 1 6 3 6 1 6-1 6 6 6-4 6-5 6 1 6-1 6 3 6 1 6 1 6 1 6-4 6 1 6-6 6 0 6-3 6 2 6-2 6 0 6-1 6-1 6 0 6 1 6-2 6 3 6-4 6-4 6-2 6-1 6 2 6 2 6 1 6-4 6-5 6 0 6 1 6-5 6-2 6-3 6-6 6 2 6 3 6-4 6 2 6 1 6-4 6-3 6-3 6-2 6-2 6-1 6-5 6 1 6 1 6-1 6-3 6-3 6 1 6-4 6 0 6 0 6-1 6 0 6 1 6-5 6-1 6 0 6 0 6-3 6 0 6-1 6 0 6 0 6-2 6-2 6-4 6 0 6-4 6-3 6-1 6-4 6-2 6-2 6-1 6-2 6-3 6-2 6 0 6-2 6-2 6-1 6-1 6-2 6-1 6-2 6-1 6-2 6-1 6-2 6-2 6-2 6-2 6-1 6-2" stroke="#7f7f7f"/><path d="M0 323l6-5 6-12 6 0 6-6 6 1 6 0 6 8 6 3 6-3 6 0 6-2 6 7 6-3 6-9 6-7 6-6 6-5 6 4 6-18 6-3 6 2 6-15 6-5 6-4 6 0 6 0 6-4 6 3 6-8 6 4 6 10 6 12 6-7 6-3 6 1 6-3 6-2 6 5 6-6 6-6 6 3 6-7 6 7 6-6 6-10 6-3 6-3 6-3 6-13 6 1 6 0 6-1 6 2 6 3 6-1 6-2 6-4 6-3 6 0 6 0 6-2 6 3 6 7 6-3 6-6 6 0 6 4 6-10 6-3 6 3 6-8 6-10 6-4 6-3 6-1 6-4 6-6 6 5 6-2 6 2 6-8 6-4 6-3 6 1 6-3 6-3 6-3 6-3 6-1 6 2 6 0 6 0 6-4 6-2 6 3 6-2 6 0 6 1 6-6 6-7 6-3 6-4 6 0 6 1 6-8 6-5 6 3 6-4 6-1 6-2 6-3 6-4 6-1 6 1 6-2 6-2 6-3 6-1 6-1 6-3 6-4 6-6 6-3 6-1 6 1 6-1 6-1 6-2 6 0 6 0 6 0 6-1 6-4 6 0 6-3 6-1 6-1 6-3 6-1 6-3 6-1 6-2 6-1 6 0 6-2 6-1 6-3 6-2 6-2 6-2 6-2 6-2 6-3 6-2 6-2 6-2 6-2 6-1 6-2 6-1 6-2 6-2 6-2 6-1 6-2" stroke="#bcbd22"/><path d="M0 323l6-5 6 16 6-4 6-11 6-4 6-11 6-2 6 6 6 0 6 2 6-1 6-5 6 3 6-4 6 16 6-5 6 6 6 5 6 8 6 0 6 5 6 7 6-6 6-9 6-15 6 8 6-3 6 0 6 8 6-6 6 4 6 0 6 1 6 10 6-4 6 4 6 3 6-3 6-2 6-9 6-1 6 0 6 11 6-8 6-15 6-9 6-7 6-1 6-10 6-6 6-12 6-5 6-6 6-4 6-1 6 2 6 4 6-5 6-4 6-2 6-2 6-2 6-3 6-1 6-2 6-3 6 7 6 2 6 4 6-2 6-4 6 5 6-1 6-10 6-7 6-11 6-1 6 1 6-4 6 5 6 4 6 6 6-6 6 0 6 0 6 13 6 3 6 3 6-6 6-10 6 7 6-1 6-3 6-1 6-5 6-3 6 1 6-8 6-1 6-5 6-10 6-2 6-7 6-1 6-2 6-8 6-2 6 2 6 3 6-4 6-1 6-4 6 0 6-10 6 2 6-4 6 0 6 1 6-4 6 1 6 4 6 5 6-9 6-8 6 0 6-2 6-7 6-1 6-2 6 1 6-1 6-2 6 3 6-6 6 0 6 0 6-4 6 3 6 3 6-3 6 7 6 0 6-1 6-2 6-1 6-3 6-6 6-4 6-7 6-1 6-5 6-1 6-3 6 0 6-2 6-1 6 0 6 1 6-1 6-2 6-1 6-1 6-4 6 1 6-3 6-3 6-1 6-3 6-3 6-1 6-1 6-1 6-1 6-3 6-2 6 0 6 2 6-2 6 0 6 1 6-4 6 1 6-3 6-2 6 0 6-3 6 1 6-4 6-1 6-2 6-2 6-2 6-2 6-3 6-2 6-4 6 0 6-3 6-1 6 0 6 0 6 0 6-2 6-1 6-1 6-2 6-2 6-1 6-1 6-2 6-2 6-1 6-1 6-2 6-1 6-2 6-1 6-1 6-2 6-1 6-2 6-1 6-2 6-1 6-2 6-1" stroke="#17becf"/><path d="M0 323l6 3 6-2 6 0 6 2 6 5 6 8 6-3 6 3 6 5 6-12 6-7 6 3 6-4 6 6 6-3 6-2 6 17 6 0 6 3 6-7 6 3 6 3 6-3 6 5 6 10 6-15 6-14 6 5 6-9 6 0 6 2 6 7 6-5 6 0 6 12 6 18 6 0 6 9 6-11 6-12 6 3 6 5 6-4 6 4 6 6 6 2 6-12 6-2 6 0 6 0 6-2 6 11 6-15 6 2 6-14 6-10 6-5 6 1 6-13 6-3 6-9 6-3 6 8 6 1 6 1 6 14 6-4 6-12 6-9 6-7 6-1 6-2 6-5 6 6 6 7 6-8 6-3 6 5 6 5 6-3 6-9 6 6 6 0 6-3 6 4 6-11 6-2 6-2 6 2 6 5 6-3 6 2 6 1 6 0 6-13 6-2 6 7 6-2 6-3 6-8 6-1 6-6 6-1 6 12 6 1 6-12 6-4 6 8 6-10 6 5 6-7 6-1 6-2 6-3 6 0 6 1 6-9 6 2 6-5 6 2 6 3 6-9 6-5 6 8 6-3 6-3 6-1 6 1 6 1 6 1 6-1 6-3 6 2 6-2 6 9 6-2 6-1 6-10 6-10 6-3 6 1 6-10 6 4 6-6 6 2 6 4 6-6 6-5 6-7 6 6 6-3 6-1 6-1 6-1 6-9 6-3 6 3 6-5 6 1 6-1 6 0 6-8 6 1 6-3 6-1 6 0 6-2 6-11 6-3 6-3 6-4 6-3 6-2 6-1 6-3 6-4 6 0 6-4 6-6 6 0 6-5 6-5 6-2 6 3 6 0 6 1 6-3 6 2 6-3 6 0 6-3 6-3 6 1 6-6 6-3 6 0 6-2 6-2 6-3 6 1 6-4 6-2 6-2 6-3 6 0 6-1 6-2 6 0 6-2 6-2 6-1 6-2 6-2 6 0 6-3 6-1 6-1 6-1 6 0 6-3 6-2 6 0 6-2 6-1 6-2 6-2 6-2 6-1 6-2 6-2 6-2 6-1 6-2 6-1 6-2 6-1 6-2 6-2 6-1" stroke="#1f77b4"/><path d="M0 323l6-6 6 11 6 2 6-8 6 9 6-8 6-12 6 2 6-15 6-7 6-2 6-3 6-4 6-7 6 3 6-4 6 2 6 1 6-5 6-2 6-10 6 2 6-2 6-4 6-2 6 4 6 5 6 7 6-10 6-3 6-4 6 4 6 7 6-7 6 8 6 10 6 5 6 10 6 4 6-6 6-4 6 15 6-2 6 3 6 0 6-13 6-15 6-5 6-3 6 6 6-10 6 4 6-9 6 3 6 1 6 4 6-13 6 16 6-13 6 6 6 10 6-5 6-6 6 8 6 4 6-11 6 4 6-1 6-1 6-8 6 3 6-2 6 9 6 2 6-3 6 4 6 2 6-8 6-5 6-1 6 6 6-10 6 4 6-4 6-1 6 2 6-7 6 5 6 3 6-7 6 0 6 10 6 3 6 10 6-3 6 0 6 10 6-6 6 5 6-1 6-6 6 7 6 1 6 2 6-3 6 1 6-3 6-4 6 2 6-5 6 3 6-6 6-5 6-6 6-2 6-10 6 0 6 10 6 2 6-5 6-10 6 2 6-3 6-3 6 2 6-3 6 9 6-7 6-2 6 1 6 1 6 0 6-1 6-8 6-4 6-6 6-8 6 6 6-3 6 3 6 0 6-7 6-5 6 7 6 1 6-8 6 1 6-9 6 3 6-4 6 6 6 3 6 1 6-4 6 8 6 3 6 0 6 4 6-3 6 2 6 4 6-8 6-1 6-5 6 0 6-5 6-8 6-5 6-2 6-7 6-3 6 1 6-1 6 0 6-7 6-2 6 3 6-2 6 1 6 0 6 3 6-2 6 1 6-6 6 1 6-11 6-1 6 2 6-1 6-1 6-2 6-4 6-6 6 2 6-2 6-3 6-7 6 1 6 0 6-3 6 0 6-5 6-4 6 6 6 0 6-4 6-2 6 1 6 1 6 0 6-3 6 2 6-5 6 0 6-2 6 3 6 2 6-7 6-3 6-1 6 3 6 0 6 0 6-3 6 2 6-9 6 1 6-1 6 0 6-3 6-9 6-4 6-1 6-1 6-4 6-1 6-1 6-2 6-1 6-3 6 0 6-1 6-2 6-4 6 0 6-1 6-3 6 1 6-1 6 0 6 0 6-3 6-2 6-2 6-2 6-2 6-3 6-2 6-1 6 0 6-1 6-2 6-2 6 0 6-1 6-1 6-1 6 0 6-2 6-1 6-1 6-1 6-2 6-1 6-1 6-2 6-1 6-2 6-1 6-2 6-2 6-1 6-2 6-2 6-1 6-2 6-1 6-2" stroke="#ff7f0e"/><path d="M0 323l6-9 6 1 6 5 6-16 6 0 6-17 6 5 6-15 6 2 6-7 6 7 6 5 6 3 6 10 6 0 6 0 6 0 6 5 6 5 6 1 6 19 6 2 6 8 6 17 6-9 6 0 6-1 6 17 6-2 6 4 6 4 6-8 6-16 6-3 6-4 6 1 6 1 6-10 6-8 6 9 6 3 6 11 6-15 6 1 6 8 6 0 6-22 6-7 6 7 6-16 6 14 6-11 6 4 6 12 6-11 6-15 6 5 6-5 6 14 6 0 6 10 6-9 6 2 6 14 6 0 6-7 6 1 6-5 6 9 6-8 6-3 6 5 6-3 6 14 6 4 6 16 6 8 6 0 6 0 6 6 6 0 6-3 6 17 6 8 6-9 6-4 6-8 6 6 6-5 6-1 6 12 6-6 6-9 6-11 6 11 6 7 6-6 6 10 6 1 6 3 6-3 6 16 6-3 6-12 6 1 6 4 6-1 6-1 6 8 6 19 6-16 6 8 6 7 6 0 6-7 6-4 6-15 6 2 6-2 6 0 6 7 6 5 6 3 6-5 6-12 6-13 6-2 6 1 6-10 6-7 6-3 6-9 6 2 6 4 6-13 6 2 6-8 6-13 6-7 6 3 6-7 6 1 6 9 6-2 6-1 6 8 6-1 6 1 6-2 6 5 6-3 6 3 6 4 6 5 6-2 6-4 6-2 6 0 6 6 6-7 6 8 6-8 6 7 6-3 6 13 6-2 6 5 6 5 6-7 6-1 6 1 6 2 6-7 6 0 6-14 6-1 6-9 6-7 6-7 6 6 6-8 6-16 6 5 6 1 6-4 6-3 6-2 6-9 6-5 6 6 6-7 6 7 6-8 6-6 6-10 6-7 6 2 6 0 6-1 6 3 6 7 6 6 6-1 6-1 6 8 6-7 6-1 6-4 6-5 6-3 6 6 6 5 6 12 6 0 6 1 6 8 6 10 6 2 6-12 6 18 6-10 6 0 6-5 6-8 6 1 6-3 6 6 6 3 6-3 6 13 6-6 6 8 6-11 6-12 6-12 6-5 6 0 6 1 6-4 6-12 6 5 6 2 6-6 6-15 6-2 6 9 6 1 6 4 6 0 6 4 6-4 6 0 6 2 6 1 6-1 6-3 6-1 6 2 6-4 6 1 6 4 6-8 6 2 6-2 6-4 6-7 6-1 6 3 6 8 6 2 6 3 6 0 6-8 6 6 6-5 6-3 6 8 6-9 6 3 6-6 6-5 6-2 6-3 6 1 6 5 6-1 6 6 6-5 6 1 6-10 6 5 6 13 6 3 6-8 6-6 6-8 6-4 6 4 6-2 6 8 6-6 6 5 6 6 6-2 6-7 6 4 6 1 6-11 6-1 6-5 6 0 6 0 6-9 6 2 6 2 6-5 6 2 6-3 6 4 6-5 6-9 6 0 6-9 6-1 6-10 6 1 6-3 6 3 6-2 6-2 6-3 6-1 6-6 6-3 6-3 6 0 6-4 6-3 6-3 6-1 6 2 6-4 6 0 6-2 6 1 6-1 6-1 6-1 6-3 6-4 6-1 6 0 6-2 6-1 6 1 6-1 6-2 6 0 6-2 6-5" stroke="#2ca02c"/><path d="M0 323l6-16 6 6 6-9 6-7 6-11 6-3 6 2 6 5 6-2 6 7 6 5 6-4 6-8 6 10 6 2 6 2 6-2 6 6 6-8 6-1 6-9 6 4 6-5 6-4 6 0 6 10 6-6 6 1 6 5 6 0 6 1 6-4 6 6 6 5 6-4 6 4 6 0 6-4 6-7 6-1 6 3 6 2 6-5 6-4 6 11 6-6 6 5 6 0 6-13 6 10 6-7 6-2 6 4 6 5 6 8 6 0 6 1 6-6 6 1 6-2 6-16 6 0 6-1 6 10 6-11 6 11 6-9 6-8 6-4 6 11 6 5 6 7 6-1 6-7 6-1 6-3 6-8 6-1 6-4 6 4 6-7 6-12 6-7 6-4 6-3 6-2 6-11 6-6 6 11 6 0 6 5 6-2 6-1 6 1 6-2 6 8 6-8 6 1 6-3 6-6 6 3 6 8 6-9 6 4 6-4 6-2 6-1 6 1 6-5 6-6 6 6 6 4 6 6 6-1 6-1 6 5 6-3 6 13 6-5 6 3 6 4 6-6 6-9 6-6 6 3 6 2 6-9 6 0 6 4 6-6 6 7 6-1 6 7 6 2 6 4 6-1 6-2 6-3 6 3 6-2 6 6 6-4 6 1 6 5 6-9 6 7 6 0 6 11 6-6 6-9 6 4 6 6 6-10 6-3 6-4 6-1 6-6 6-1 6 3 6 4 6-6 6-3 6 2 6 3 6 2 6 5 6-1 6-1 6-8 6-6 6-2 6-3 6-1 6 1 6 0 6 2 6-4 6-2 6-2 6 2 6-3 6-5 6-4 6-2 6-3 6 3 6 1 6-2 6-7 6 2 6-6 6 1 6 4 6-6 6-8 6-6 6 4 6-5 6 0 6-3 6-8 6-2 6-3 6 1 6-5 6 6 6-4 6-2 6-1 6-9 6-3 6 4 6-2 6-1 6-5 6-1 6-3 6 1 6 1 6-1 6 4 6-2 6-4 6-3 6-3 6-4 6-4 6 2 6 2 6 0 6 2 6 1 6 2 6-2 6-2 6-7 6-3 6-4 6-3 6-3 6-3 6-1 6 3 6 0 6 0 6-2 6-7 6-1 6 1 6-1 6-4 6-1 6-2 6 0 6-2 6-1 6 2 6-2 6-3 6 2 6-1 6 0 6-1 6-1 6-2 6-2 6-2 6-1 6-3 6-2 6-3 6 0 6 0 6-1 6-2 6-2 6-1 6-3 6-3 6-1 6-1 6-3 6-2 6-2 6-1 6-1 6-1 6-3 6 0 6-2 6-2 6-1 6-1 6-2 6-1 6-2 6-1 6-2 6-1 6-2 6-1" stroke="#d62728"/><path d="M0 323l6 2 6 1 6-3 6-2 6 6 6-3 6 10 6 3 6 1 6 2 6-3 6 0 6 7 6 4 6 11 6-9 6 0 6-9 6-1 6-5 6 2 6 7 6 14 6 7 6-5 6 16 6 8 6-13 6-8 6 0 6 5 6 7 6-1 6-9 6 9 6-16 6-1 6 7 6 0 6 8 6 4 6 1 6 7 6 10 6 9 6 12 6-11 6-20 6-6 6-2 6-12 6-9 6-5 6-2 6 12 6-7 6 2 6 6 6-10 6-3 6 0 6 14 6-1 6-16 6 2 6-1 6-2 6-9 6 14 6-1 6-6 6-16 6 0 6-11 6 7 6 0 6-19 6-3 6-16 6-6 6-4 6-5 6-7 6 0 6 2 6-5 6 15 6 4 6 3 6-2 6 3 6-2 6 6 6-4 6-1 6-4 6-2 6-3 6-1 6-5 6-2 6-6 6-3 6-7 6-6 6 4 6 10 6-8 6-7 6-6 6 9 6 1 6-7 6 4 6-3 6-8 6 10 6 1 6 1 6-2 6-2 6-8 6-2 6-6 6-7 6-7 6 0 6-3 6-3 6 5 6 2 6 0 6-1 6-5 6 3 6 0 6-8 6-3 6 1 6-14 6 3 6 1 6 1 6 3 6 7 6-1 6-13 6 6 6-4 6 0 6 2 6 3 6-5 6 1 6-5 6 5 6 3 6-14 6 4 6 7 6 3 6-3 6 6 6 1 6 0 6 4 6-2 6-7 6 5 6-12 6-6 6 3 6-3 6-4 6-1 6 1 6-3 6-5 6 0 6-5 6-2 6 2 6-6 6 5 6 3 6-4 6-5 6-4 6-6 6 2 6-2 6-4 6-2 6-2 6-2 6-4 6 1 6 0 6 0 6-3 6 0 6-6 6-6 6 1 6-5 6-4 6 2 6 1 6-2 6-1 6 4 6 3 6 1 6-3 6 2 6 1 6-6 6 0 6 3 6 4 6 0 6 1 6 2 6 5 6 0 6-6 6 0 6-6 6 1 6-2 6 2 6-1 6 0 6 2 6-5 6-1 6-6 6-2 6-4 6-1 6-2 6 1 6 1 6-3 6-1 6-3 6 5 6-5 6-1 6 1 6 3 6 1 6 1 6 0 6 0 6-3 6 0 6-3 6-1 6-4 6-6 6-2 6-3 6-5 6 0 6 0 6-2 6-2 6-2 6-2 6-3 6-3 6 1 6-3 6-4 6-2 6-1 6-3 6 0 6-2 6-1 6-3 6-2 6 0 6-3 6-1 6-1 6-1 6-1 6-2 6-2 6-2 6-1 6-1 6-1 6-2 6-2 6-2 6-1 6-2 6-2 6-1 6-2" stroke="#9467bd"/><path d="M0 323l6-1 6 4 6 6 6-16 6-11 6 20 6-1 6-10 6-4 6 5 6 5 6 4 6 7 6 1 6 9 6-8 6-3 6-2 6-4 6-6 6 7 6 4 6 0 6-4 6-3 6-2 6 1 6-7 6 5 6 0 6-8 6-5 6-6 6-3 6-2 6-4 6 17 6 1 6-4 6-12 6-3 6 2 6 0 6-4 6 5 6 7 6 6 6-2 6 4 6 11 6 1 6 3 6-7 6 2 6-6 6-1 6-1 6 9 6-9 6-3 6-16 6-2 6 0 6-5 6 5 6-7 6-13 6-8 6-4 6-10 6-7 6 1 6-4 6-2 6 5 6 5 6 5 6-10 6 3 6-2 6-6 6-1 6 2 6 2 6-7 6 4 6 10 6-3 6 5 6 3 6-3 6-8 6-6 6-2 6-6 6 4 6 0 6-5 6-5 6 0 6-3 6-6 6-2 6-3 6-7 6 3 6 3 6 1 6-3 6-6 6-7 6-4 6-6 6-1 6-2 6 7 6-3 6-4 6 4 6 1 6-4 6-2 6 0 6 2 6-1 6 2 6-6 6 5 6-1 6-12 6 4 6 0 6-2 6-1 6 7 6-1 6-2 6-10 6 0 6-3 6 0 6 3 6-2 6-1 6-2 6-1 6-2 6-3 6 3 6 0 6-5 6-3 6-7 6 2 6 0 6 2 6 1 6-2 6 3 6-5 6 1 6-2 6-3 6-1 6 4 6-1 6-3 6 1 6 3 6-5 6-2 6-2 6 1 6-2 6-2 6-5 6-3 6 3 6-5 6-3 6-2 6-2 6-3 6-1 6-3 6-4 6 0 6-2 6 1 6-3 6 2 6-4 6 2 6-2 6 1 6-1 6-5 6-2 6 0 6-4 6-4 6-1 6 0 6-3 6-2 6-1 6-2 6-2 6-4 6-2 6-1 6-1 6-1 6-2 6 0 6-1 6 0 6 1 6-1 6 0 6-1 6-4 6-3 6-3 6-2 6-2 6-2 6-2 6-3 6-3 6-2 6-2 6-2 6-1 6-1 6-2 6-2 6-2 6-1 6-2 6-1 6-2 6-2 6-1 6-2 6-2" stroke="#8c564b"/><path d="M0 323l6-2 6 1 6-11 6 0 6 8 6-6 6-1 6 11 6 4 6 2 6 1 6-12 6-11 6-6 6-6 6-9 6-3 6-2 6-7 6-7 6-11 6-8 6 6 6-5 6-8 6-7 6 3 6 4 6 4 6 10 6-6 6-5 6 2 6-11 6-1 6-8 6-6 6 7 6-4 6-3 6-8 6-4 6-1 6 1 6-3 6 5 6 2 6 3 6-1 6-4 6-9 6-1 6-2 6-2 6-7 6-2 6-1 6-5 6 6 6 0 6-7 6-3 6 1 6-3 6 1 6-5 6-8 6 1 6 2 6-9 6-2 6 1 6 1 6-1 6-1 6 1 6 3 6-1 6-9 6 0 6-1 6 0 6 0 6-4 6-9 6-3 6-1 6-5 6-6 6-2 6 0 6 2 6-1 6-1 6-1 6-6 6-2 6-5 6 0 6-4 6-1 6 1 6-1 6-1 6-1 6 3 6 4 6-5 6-2 6 3 6-2 6-3 6-2 6 2 6-2 6 4 6-1 6-4 6-1 6-7 6 1 6-1 6-2 6-1 6 1 6-1 6-2 6-1 6 0 6 2 6-3 6 2 6-4 6-4 6 2 6-1 6-3 6-1 6-2 6 1 6-2 6-1 6-2 6-4 6-1 6-1 6 1 6 1 6-2 6-2 6-1 6 0 6 0 6-2 6-1 6-1 6-2 6-2 6-3 6-1 6-4 6-2 6-2 6-1 6-2 6-2 6-2 6-2 6-1 6-2 6-1 6-2 6-2 6-1 6-1 6-2 6-2 6-1 6-2 6-2 6-1 6-2 6-2" stroke="#e377c2"/><path d="M0 323l6-2 6-8 6-1 6-19 6 0 6 1 6-11 6 3 6-3 6 8 6 3 6-10 6-8 6-5 6-2 6 10 6-2 6-3 6 8 6-8 6-3 6-4 6 1 6-8 6-4 6 1 6-4 6 7 6 12 6-1 6 0 6 1 6 10 6-5 6 3 6-5 6 1 6-5 6-3 6 3 6-5 6-4 6 4 6-5 6 1 6-3 6-5 6-8 6 1 6 3 6 7 6 0 6-5 6 11 6-9 6-6 6-9 6 7 6 1 6 8 6-2 6 2 6-6 6-7 6 2 6 10 6 8 6 3 6 6 6 2 6-7 6 3 6-7 6 3 6-10 6 12 6 11 6 5 6-2 6-5 6 6 6 1 6-3 6 4 6 7 6-1 6 2 6-7 6-9 6 5 6 5 6-1 6-22 6 5 6-12 6 1 6-7 6-5 6-1 6 3 6-13 6 1 6 0 6 4 6 7 6 3 6-6 6 7 6 6 6 6 6-5 6-6 6 3 6-6 6 4 6-4 6-2 6-1 6 7 6 1 6-8 6-7 6-2 6-8 6-3 6-5 6 2 6 8 6-5 6-11 6 7 6 0 6-7 6-4 6-4 6-5 6-3 6-1 6-1 6-4 6 1 6-5 6-7 6 3 6-1 6 3 6 1 6 5 6 1 6 6 6 2 6 3 6-1 6-2 6-8 6 2 6-1 6-2 6-3 6-9 6 0 6 0 6 4 6 2 6 1 6-14 6-6 6 2 6 4 6-2 6-11 6-6 6-2 6 0 6 2 6 1 6 0 6-4 6-1 6 1 6 2 6-7 6-2 6 2 6 1 6 2 6 0 6 0 6-5 6-4 6-3 6 2 6-4 6-2 6-5 6-5 6-2 6-3 6-3 6-3 6 0 6 4 6-1 6-2 6-3 6-4 6 2 6-5 6 2 6 0 6-2 6 1 6-3 6-6 6-4 6-1 6-2 6-2 6-6 6-5 6-1 6-2 6-2 6-3 6 1 6-2 6 0 6-2 6-2 6 0 6-2 6-1 6-2 6-2 6 0 6 0 6-3 6 0 6-2 6-1 6 1 6-1 6-1 6 0 6-3 6-3 6-2 6-3 6-2 6-1 6-3 6-1 6-1 6-1 6 0 6-3 6-2 6-1 6-1 6-2 6-1 6-2 6-1 6-1 6-2 6-1 6-2 6-1 6-2 6-1 6-2 6-2" stroke="#7f7f7f"/><path d="M0 323l6-9 6-10 6-6 6 6 6-5 6 5 6 8 6 10 6 2 6 4 6 0 6-2 6 0 6-15 6 1 6 6 6-14 6 6 6 0 6-12 6 3 6 2 6 5 6-3 6 6 6 4 6-4 6 2 6-4 6 11 6-4 6-11 6 1 6 10 6 1 6 7 6-6 6 0 6 6 6 0 6 0 6 13 6-2 6 2 6-7 6-9 6 1 6 5 6 1 6-9 6-17 6-7 6 3 6-5 6 1 6 4 6-10 6-1 6-5 6 4 6 3 6 16 6 2 6 12 6-1 6-2 6-3 6 4 6 6 6 7 6 1 6-4 6 5 6 6 6 8 6 10 6-8 6 10 6-14 6 7 6 9 6 11 6-14 6 5 6-9 6-6 6 9 6 15 6-5 6-10 6-11 6-9 6 5 6 13 6 4 6-8 6-14 6-6 6 4 6 14 6-2 6 9 6 10 6 0 6 11 6-22 6 5 6-12 6 7 6 0 6 3 6-9 6-5 6-7 6 4 6 7 6-5 6-2 6 2 6 12 6 3 6-3 6 1 6-4 6-16 6 0 6 3 6-6 6-2 6 2 6-7 6 1 6-18 6-13 6-11 6 7 6-3 6-1 6-1 6 6 6-2 6-2 6 11 6-1 6 8 6 15 6-15 6 4 6 1 6 1 6 1 6 2 6 2 6 3 6-4 6-14 6-5 6-4 6 3 6-3 6-8 6 14 6-8 6-11 6 7 6-11 6-17 6 2 6 2 6 1 6-3 6 7 6 5 6-7 6-11 6-3 6 0 6-2 6 5 6 5 6 6 6-11 6 0 6 1 6-10 6 8 6-6 6-1 6-3 6 2 6-3 6 1 6-4 6-6 6-1 6 3 6 1 6-7 6 8 6 12 6 4 6 1 6-6 6-9 6-4 6 1 6 2 6 3 6-5 6-4 6 6 6-5 6-5 6 0 6 3 6 6 6 2 6-5 6-7 6 9 6 4 6 11 6 0 6 1 6-3 6 0 6-6 6 8 6 5 6-1 6-5 6-3 6-4 6 7 6 3 6 5 6-3 6-2 6 2 6-3 6-5 6 0 6-4 6-8 6-17 6 5 6-1 6 1 6-4 6 1 6-16 6 5 6-8 6 1 6-3 6 3 6-8 6-12 6 0 6 3 6 1 6-1 6-2 6 4 6-1 6 2 6-1 6 8 6 1 6-8 6-4 6 1 6-7 6 2 6-4 6 1 6-1 6 0 6-6 6-5 6-3 6-3 6-5 6 5 6-4 6-8 6-5 6 2 6 0 6 1 6-3 6-1 6 3 6-1 6 0 6 1 6-3 6-4 6-3 6-5 6-4 6-7 6-7 6-5 6-1 6-1 6-2 6-6 6-6 6 0 6-2 6-4 6-3 6-4 6-1 6-3 6-2 6-5 6 0 6-2 6 0 6-4 6-2 6-2 6-1 6-2 6-2 6-2 6-2 6-3 6-3 6-1 6-1 6-2 6-1 6-2 6-3 6-1 6-1 6-2 6-1 6-2 6-2 6-1 6 0 6-2 6-2 6-2 6-2 6-2 6-1 6-1 6-2 6-1 6-2 6-2 6-2" stroke="#bcbd22"/><path d="M0 323l6 1 6-5 6 1 6-9 6-3 6-3 6-2 6 4 6 5 6 4 6-6 6 4 6 5 6-8 6-3 6-6 6 2 6-2 6 1 6 5 6-1 6-8 6-3 6 8 6 6 6 4 6-13 6 1 6-3 6 1 6-7 6 9 6-6 6-6 6 5 6 4 6-10 6-2 6-13 6 0 6 5 6 3 6 20 6-4 6 6 6-4 6 1 6-7 6-2 6-5 6 10 6-3 6 8 6-8 6 6 6-3 6-12 6 4 6-1 6-10 6-4 6-10 6-7 6-1 6 12 6-12 6-11 6-13 6-3 6-16 6 6 6-6 6-1 6-7 6-4 6-1 6 3 6 2 6-3 6 1 6 7 6 2 6-6 6 2 6 5 6-2 6 5 6 1 6 7 6-5 6-2 6 0 6-7 6-3 6-6 6 6 6-12 6-3 6 0 6-1 6 8 6-2 6 4 6 3 6 1 6-2 6-5 6-2 6 0 6-5 6-15 6-2 6-8 6 2 6 3 6-3 6 1 6 2 6-1 6-4 6 10 6-1 6-6 6-2 6 4 6 4 6 0 6 2 6-12 6 2 6 3 6-11 6 0 6 1 6 4 6 3 6 1 6-4 6-6 6-3 6 11 6-8 6 1 6 1 6 1 6-1 6 0 6-3 6 0 6-4 6-8 6-3 6-7 6-6 6-4 6-3 6 0 6-2 6-6 6-2 6 3 6 1 6-2 6-5 6 0 6 1 6-2 6 3 6-5 6-1 6-5 6 2 6-2 6-1 6-1 6-4 6-2 6 3 6-2 6-2 6 0 6 3 6 1 6-3 6-2 6-2 6 1 6-4 6 1 6 0 6-2 6 0 6-2 6-3 6-3 6 0 6-3 6-3 6-2 6-3 6-2 6-3 6-4 6-2 6-2 6-1 6-2 6-3 6-1 6-2 6 0 6-1 6-3 6-3 6-2 6-3 6-2 6-1 6 0 6-1 6-1 6-1 6-2 6-1 6-1 6-1 6-2 6-2 6-1 6-1 6-2 6-2 6-2 6-1 6-2 6-2 6-1 6-2" stroke="#17becf"/><path d="M0 323l6 2 6 1 6-4 6-13 6-4 6-10 6-3 6 2 6 5 6-9 6 4 6-1 6 7 6-2 6 3 6 0 6-5 6-1 6-13 6 4 6-5 6 5 6-4 6-3 6 1 6 13 6-8 6-6 6-10 6-3 6 4 6 6 6 2 6-6 6-2 6-9 6-2 6-6 6-8 6 5 6-5 6-4 6 1 6-4 6 5 6 3 6-2 6-1 6-14 6 2 6 2 6-10 6 5 6 0 6-6 6-4 6-4 6 1 6-1 6-10 6 3 6 4 6-5 6-1 6 6 6-6 6 3 6-3 6 1 6-3 6-3 6-7 6 0 6 1 6-5 6-2 6-4 6 2 6 1 6 1 6 4 6-2 6 3 6-2 6 6 6 2 6-8 6-4 6 0 6-1 6-1 6 1 6 1 6-6 6-5 6 3 6 0 6 0 6 1 6-1 6-4 6 7 6-2 6-3 6-4 6-3 6 4 6 7 6-3 6-8 6-5 6 9 6 3 6-3 6-3 6 0 6-3 6-5 6 0 6 0 6-5 6-6 6-9 6-3 6-5 6 3 6 0 6-1 6 4 6-5 6 2 6-2 6 4 6 1 6 2 6-1 6-5 6-4 6 3 6-5 6-4 6 0 6-5 6 2 6-4 6 1 6-1 6 1 6-1 6 4 6-2 6 3 6-5 6-3 6-4 6-1 6-1 6-2 6-1 6 0 6-1 6 0 6 0 6-1 6-4 6 1 6 2 6 0 6 0 6 1 6-5 6-4 6-1 6-1 6-1 6-2 6-1 6-5 6-2 6-2 6 1 6-3 6 0 6-2 6-2 6 2 6 0 6-4 6 1 6-3 6-1 6 1 6-1 6 0 6 1 6-1 6 1 6-1 6 0 6-3 6-3 6-1 6-3 6-3 6-1 6-1 6-1 6 0 6 2 6 1 6-3 6-2 6 0 6-1 6-2 6-3 6 0 6 0 6-1 6-2 6-2 6-3 6-2 6-1 6-2 6-1 6-2 6-2 6-1 6-2 6-2 6-2 6-1 6-1 6-2 6-2 6-2 6-2 6-1 6-1 6-2 6-2 6-1 6-2 6-1" stroke="#1f77b4"/><path d="M0 323l6 8 6-3 6-17 6 9 6-4 6 3 6 6 6 3 6 3 6 6 6-16 6-16 6 11 6-7 6-10 6 5 6-6 6-6 6 0 6 8 6 28 6 16 6 3 6 13 6 5 6-4 6 15 6 1 6-16 6-7 6-1 6 3 6 4 6 4 6 0 6 0 6-13 6-1 6-7 6-6 6 9 6-5 6 1 6 3 6-2 6 13 6 16 6-4 6 3 6-6 6-2 6 11 6-7 6 6 6-11 6-8 6-14 6 0 6-1 6 8 6-12 6 12 6 7 6-7 6 7 6-6 6-2 6 0 6 1 6 10 6-18 6-5 6-10 6 4 6 11 6 5 6-6 6 0 6 2 6-3 6 3 6 7 6 5 6 9 6 3 6-6 6-15 6-9 6 10 6 10 6-13 6 15 6 3 6-3 6 6 6-1 6 1 6-4 6-2 6-2 6-1 6 3 6 14 6-16 6 0 6 8 6-15 6 17 6-5 6-12 6-9 6-3 6-5 6 0 6-12 6 2 6-9 6-11 6-2 6-3 6-18 6 5 6 0 6-6 6 9 6 3 6-9 6 3 6 5 6 9 6 8 6 4 6 7 6 2 6-5 6 1 6 7 6-10 6 1 6-11 6 10 6 1 6 1 6-1 6 2 6-6 6-7 6-2 6 2 6 7 6 3 6 6 6-7 6-8 6 4 6-20 6 0 6-12 6-4 6 5 6-12 6 5 6-5 6 3 6 4 6 0 6-10 6-5 6 3 6 9 6 3 6-2 6-3 6-2 6-4 6-5 6 6 6-6 6-4 6 1 6 1 6 7 6-4 6-2 6-4 6 0 6 3 6-9 6 5 6 1 6 3 6-8 6-1 6-4 6 4 6 0 6 5 6 5 6-5 6-6 6 2 6 5 6-7 6-4 6 10 6 0 6-4 6 7 6 1 6-15 6-9 6 0 6 0 6 6 6 1 6-7 6-4 6-3 6 3 6 2 6-2 6 5 6 4 6-8 6 3 6 3 6-5 6-1 6 8 6 0 6 0 6 6 6 7 6-6 6-1 6 3 6 5 6 0 6 6 6 7 6 9 6 0 6-1 6 5 6-10 6 4 6-13 6-7 6 6 6-4 6 0 6 3 6-8 6 1 6 0 6 1 6 8 6 1 6 0 6 0 6-7 6-3 6-6 6-4 6 0 6 8 6 0 6 2 6-18 6-2 6 1 6-6 6-6 6 0 6-7 6-2 6 4 6 3 6-9 6-8 6 4 6-2 6 3 6-6 6 4 6-10 6 0 6 0 6-1 6-2 6-4 6-4 6-3 6-2 6 4 6-5 6-2 6 0 6 6 6-2 6-7 6 0 6-3 6-3 6-6 6-4 6-3 6-3 6 2 6-4 6 1 6-4 6 0 6-12 6 0 6-1 6-1 6-3 6-2 6-4 6 0 6-1 6 4 6-2 6-2 6-2 6-3 6-4 6 0 6 0 6-2 6-2 6-2 6-5 6-8 6-2 6 0 6 1 6-3 6 0 6-1 6-1 6 0 6 0 6-2 6-2 6-1 6-2 6-4 6-1 6-3 6-2 6 1 6-3 6-2 6-2 6-2 6 0 6-2 6-3" stroke="#ff7f0e"/><path d="M0 323l6-1 6-1 6-1 6 0 6-10 6 2 6-1 6-1 6 2 6-9 6 2 6 4 6 6 6-7 6 17 6 0 6-15 6-16 6-3 6 2 6 0 6-4 6 10 6-3 6-7 6-9 6 3 6-1 6 7 6-1 6-2 6-18 6-4 6 0 6-2 6-2 6 3 6-8 6 0 6-1 6 0 6 2 6-6 6 7 6 9 6 8 6-6 6-6 6 5 6 13 6 0 6-15 6-6 6-2 6 4 6-6 6-6 6 5 6 4 6 5 6-1 6-4 6-6 6-3 6 0 6 6 6-3 6 7 6 12 6 2 6-6 6 1 6 6 6 1 6 2 6 0 6-11 6 3 6-9 6 7 6-14 6 5 6-5 6 5 6 1 6 9 6-10 6-6 6 8 6-9 6-5 6 3 6-1 6-3 6 5 6-3 6-5 6 2 6 1 6-3 6 3 6-7 6-13 6-11 6 0 6 1 6-6 6-3 6-4 6 4 6-1 6-2 6 4 6-4 6 6 6-5 6-4 6 5 6 2 6 1 6-5 6 10 6-1 6 3 6-4 6-2 6 2 6-8 6-11 6-9 6 2 6-2 6-10 6 2 6-4 6-4 6-2 6 2 6-8 6-9 6-2 6-1 6-3 6-4 6-5 6-3 6-2 6 2 6-2 6 2 6-1 6 4 6-5 6-3 6-3 6-2 6 1 6 1 6-3 6 2 6-2 6-2 6 3 6-1 6-2 6-5 6 5 6-4 6 1 6 3 6 2 6 5 6-2 6 3 6 3 6 0 6 2 6 1 6 6 6-3 6-2 6-5 6-2 6 2 6 2 6-2 6-5 6 2 6-3 6-1 6 4 6-4 6 2 6 1 6-1 6 1 6-4 6 2 6 0 6 4 6 2 6 0 6-3 6 0 6-3 6-1 6 1 6 5 6-5 6 0 6-1 6-5 6-2 6-6 6-1 6-1 6-1 6-4 6 2 6-4 6-2 6-3 6-3 6-2 6-1 6 0 6 3 6 0 6-1 6-4 6 0 6-2 6 0 6-4 6 0 6 1 6-4 6 1 6 1 6-5 6-2 6-4 6 2 6-1 6-2 6-3 6-3 6 2 6-3 6-1 6-2 6-3 6-3 6-1 6-2 6-1 6-4 6-2 6-2 6-3 6-2 6-1 6-1 6-2 6-1 6-2 6-1 6-2 6-1 6-2 6-2 6-1 6-2 6-2 6-2 6-1 6-1 6-1 6-2 6-2 6-1 6-2 6-1 6-2" stroke="#2ca02c"/><path d="M0 323l6-9 6-2 6-2 6 2 6 8 6-2 6 10 6 4 6-9 6 9 6-3 6 8 6 11 6-9 6-8 6-6 6 6 6 2 6-1 6 5 6-3 6-4 6 2 6 0 6-5 6-8 6-2 6 10 6 8 6 4 6 6 6-5 6-5 6-9 6-1 6-5 6-1 6 8 6-2 6-8 6-9 6-5 6 7 6-4 6-8 6-6 6 14 6-4 6 11 6-3 6-3 6-2 6 11 6 0 6-9 6-7 6 6 6 4 6-3 6 7 6 9 6-3 6 13 6 12 6-6 6-3 6-5 6 4 6-3 6-10 6 4 6-11 6 0 6-16 6-10 6-15 6 3 6-8 6-10 6 2 6 3 6 3 6-7 6 2 6-1 6-10 6 7 6-8 6-6 6 8 6-4 6 6 6-9 6-1 6-9 6-4 6-6 6 10 6 1 6-16 6 2 6-3 6-6 6-7 6-9 6-8 6-5 6-3 6-1 6-2 6-4 6-1 6-11 6 0 6 0 6-5 6-5 6 2 6 3 6-3 6 0 6-5 6-2 6 0 6-3 6 1 6-7 6-3 6-2 6-5 6-3 6 0 6-1 6-1 6-1 6-5 6 2 6-3 6 2 6-2 6-3 6 3 6 0 6-3 6-5 6-2 6-1 6 2 6-4 6 1 6-2 6-5 6 8 6-2 6-1 6-5 6-4 6 1 6-2 6-1 6-3 6-1 6-1 6-4 6-4 6-1 6-1 6-4 6-4 6-3 6-2 6 0 6-2 6-1 6 0 6-1 6-1 6-1 6-1 6 0 6 1 6-4 6 0 6 0 6 0 6-1 6-3 6-3 6-1 6-2 6-1 6-2 6-1 6-2 6-1 6 0 6-1 6-3 6 0 6-2 6-1 6-2 6-2 6-2 6-2 6-1 6-2 6-1 6-2 6-1 6-2 6-2 6-2 6-1 6-2 6-2 6-1 6-2" stroke="#d62728"/><path d="M0 323l6 5 6 9 6 6 6 3 6-3 6 4 6-4 6-2 6 6 6 6 6 3 6-4 6 2 6 0 6 6 6 12 6 4 6 0 6-2 6 3 6 2 6-1 6 3 6-1 6 7 6 6 6 6 6-1 6 4 6 0 6 0 6 0 6-5 6-5 6 5 6 0 6 2 6 6 6-6 6-3 6 2 6 3 6 0 6 6 6 2 6-4 6-3 6 5 6-2 6-12 6 2 6-1 6 2 6-5 6-5 6-9 6 7 6-4 6 3 6-4 6 0 6-7 6-3 6 4 6-6 6 4 6 0 6-5 6-1 6-1 6 0 6-1 6-3 6 0 6-3 6-5 6 1 6 4 6-5 6 0 6-2 6-3 6 4 6-1 6 7 6-3 6 3 6 0 6-3 6 3 6 0 6 4 6 0 6-3 6 0 6 1 6 4 6-3 6 1 6-6 6 4 6-3 6-5 6 1 6 6 6-5 6-3 6-1 6-3 6 3 6-2 6-1 6 3 6-1 6 3 6-3 6-3 6-6 6 9 6 0 6 3 6 1 6 2 6 2 6 9 6 0 6-2 6 0 6-1 6 8 6 8 6 2 6 1 6 5 6 12 6-6 6 9 6 1 6 11 6 2 6 5 6 0 6-12 6-1 6-4 6-9 6-6 6-10 6-3 6-2 6-3 6-2 6-7 6-2 6-2 6 4 6 5 6-2 6-5 6-2 6-1 6-2 6 1 6-3 6 4 6 0 6 3 6 0 6-1 6-3 6 0 6 0 6 2 6 1 6-4 6 1 6-4 6-1 6 0 6-6 6 1 6 4 6 2 6 1 6 1 6-1 6 2 6 0 6 3 6-2 6 4 6 3 6 2 6 1 6 5 6-4 6 5 6 3 6 4 6 5 6 0 6-3 6 2 6 1 6 0 6-8 6 2 6 4 6 3 6 0 6-8 6 3 6-1 6-11 6 2 6-6 6-5 6-2 6 5 6-1 6 1 6 8 6 6 6 0 6-1 6-4 6-8 6-3 6-4 6-4 6-1 6-8 6-5 6-2 6-3 6-1 6 7 6 5 6 7 6 3 6-1 6 9 6 5 6 6 6-2 6 2 6 2 6-5 6-11 6-3 6 1 6 0 6-5 6-2 6 1 6-12 6-2 6 1 6 2 6 6 6 4 6 1 6 1 6 2 6-2 6-1 6 3 6 6 6-3 6-3 6-2 6 3 6-2 6 3 6-6 6-3 6-3 6 0 6 2 6-8 6-6 6 7 6 4 6 0 6 10 6 0 6 1 6-3 6 3 6-3 6 3 6-5 6-4 6-1 6-4 6 2 6-4 6-8 6-5 6-6 6 4 6-2 6-1 6 5 6 8 6-2 6-9 6-8 6-5 6-9 6-1 6 3 6 4 6 0 6-3 6-2 6 4 6 0 6 3 6 3 6-1 6-5 6-1 6-7 6-4 6-7 6 1 6-4 6-1 6 0 6 0 6 3 6-4 6-2 6 0 6 9 6 4 6-2 6 2 6 6 6-2 6-2 6 3 6 1 6 2 6-4 6 5 6 4 6 0 6 0 6-8 6 0 6-2 6 0 6 2 6-1 6-6 6 2 6-3 6-1" stroke="#9467bd"/><path d="M0 323l6-5 6 1 6 0 6-7 6 7 6-6 6 1 6-7 6-3 6-7 6 12 6 9 6 8 6-3 6-4 6-1 6 1 6-13 6 19 6 5 6-4 6-4 6 14 6-2 6 0 6 5 6-7 6 1 6 4 6 8 6 3 6 17 6-1 6 7 6 16 6 2 6 6 6-2 6 11 6-3 6-4 6-17 6-7 6 1 6 3 6-2 6-2 6-4 6-9 6 9 6-17 6 19 6 8 6 10 6-2 6-2 6 2 6 18 6-6 6-5 6-4 6-6 6-19 6 5 6 5 6-1 6 0 6 9 6 2 6-5 6-1 6 3 6-10 6 2 6-12 6-9 6-2 6 7 6 8 6 10 6-15 6-7 6 11 6-16 6 5 6 10 6 14 6 8 6-4 6-8 6 3 6 6 6 4 6 6 6-5 6-1 6-11 6-12 6 10 6-1 6-1 6-4 6-13 6-1 6-2 6-1 6-15 6-4 6-20 6 0 6-5 6 11 6-14 6-6 6 1 6 21 6 5 6-7 6 3 6-1 6 0 6 3 6 2 6-3 6-5 6-9 6-8 6-2 6-2 6 3 6-12 6-7 6-4 6-5 6 3 6-3 6-4 6 2 6-1 6-6 6 4 6 0 6-11 6 5 6-1 6-5 6 4 6 8 6-1 6-2 6-2 6-6 6-6 6-7 6 0 6 3 6-7 6 0 6-2 6 8 6 7 6-1 6-8 6-6 6-2 6-2 6-4 6 1 6-1 6-4 6 5 6 0 6 0 6-7 6 1 6 2 6-1 6-3 6 2 6 1 6 0 6-1 6-1 6-1 6-3 6-5 6-3 6 3 6 1 6-3 6 2 6-14 6-1 6 1 6 0 6 7 6-1 6-5 6-2 6-1 6-3 6-11 6-4 6 1 6 3 6-5 6 0 6-3 6-11 6 0 6 2 6 1 6 0 6-2 6 3 6-6 6-6 6 0 6 0 6-2 6 1 6 0 6-11 6 4 6 0 6 1 6 0 6-8 6-1 6 0 6-3 6-2 6-6 6 2 6-5 6-3 6 1 6 0 6-6 6-1 6-2 6-2 6 0 6-4 6-1 6-1 6-4 6-2 6-4 6-1 6 2 6-2 6 2 6-4 6-2 6 0 6 2 6 2 6-3 6-1 6-1 6-3 6-1 6-4 6-4 6-8 6-2 6-4 6 1 6 0 6-2 6-1 6-3 6-2 6-2 6-4 6 0 6-2 6-2 6-1 6-2 6-2 6-4 6-2 6 0 6-3 6-3 6-3 6 1 6-1 6-2 6-1 6-3 6-1 6-1 6-2 6-2 6-2 6-1 6-2 6-2 6-1 6-2 6-2 6-1 6-2" stroke="#8c564b"/><path d="M0 323l6-1 6-2 6-8 6 0 6 3 6 6 6-5 6 3 6 6 6-5 6-3 6-1 6 5 6 6 6-6 6 6 6-6 6-12 6 15 6 8 6 5 6 9 6-10 6-14 6 6 6-1 6 10 6 3 6-7 6-2 6-8 6-2 6 2 6-16 6-9 6 1 6-1 6-1 6-4 6-1 6-1 6-2 6-4 6-7 6 1 6-3 6-4 6-10 6-2 6-5 6-2 6-4 6-4 6-1 6-1 6-15 6 8 6-4 6-1 6 4 6-5 6 5 6-2 6-7 6-5 6-2 6-3 6 5 6 1 6-4 6 6 6-4 6 0 6 4 6-8 6-2 6-12 6 3 6 8 6-12 6-6 6-6 6-9 6-3 6 2 6-1 6-2 6-6 6-7 6 3 6-1 6-6 6 2 6 0 6 1 6 0 6 0 6 9 6 4 6 3 6-1 6 4 6-5 6-2 6 4 6-1 6 2 6-2 6-7 6 3 6-3 6-7 6-2 6 2 6 1 6 0 6-4 6-2 6 6 6 3 6 6 6-3 6-2 6-2 6 0 6-1 6-4 6 0 6-9 6-6 6-5 6 1 6 0 6 1 6-4 6-2 6 3 6 4 6-2 6-4 6 0 6 0 6 2 6 0 6-4 6-6 6-4 6-5 6-3 6 0 6-5 6-2 6-1 6 1 6-1 6 0 6 0 6-4 6-5 6 2 6-2 6-1 6-1 6-2 6 0 6 3 6-2 6-1 6 2 6-3 6-3 6 0 6-1 6-1 6 1 6 1 6-4 6-1 6-5 6 0 6-3 6 0 6-3 6-1 6-4 6 0 6-2 6-1 6-2 6-1 6 2 6-1 6-3 6-3 6-1 6-1 6-2 6-1 6-3 6-3 6-2 6-1 6-2 6-2 6-1 6 0 6-3 6-2 6 0 6 0 6-1 6 0 6-2 6-3 6 0 6-1 6-3 6-1 6-2 6-2 6-2 6-1 6-2 6-2 6-2 6-1 6-2 6-1 6-1 6-2 6-1 6-2 6-1" stroke="#e377c2"/><path d="M0 323l6 1 6-18 6 7 6-5 6-1 6-3 6-6 6 0 6 1 6-7 6 2 6 6 6-6 6 2 6 5 6-1 6-1 6 4 6-1 6 3 6-7 6-10 6-8 6 9 6-13 6 3 6 5 6 1 6 1 6-13 6 4 6-9 6-1 6-4 6-5 6-7 6-7 6 0 6 0 6 4 6 3 6-3 6-4 6-2 6-1 6 0 6 7 6-6 6-11 6 1 6-2 6 0 6 4 6-7 6-1 6-1 6-4 6-11 6-12 6-11 6-7 6-1 6 4 6 7 6-5 6-2 6 7 6-4 6-7 6 1 6-11 6-5 6-2 6-7 6 3 6 0 6-5 6-3 6-1 6 0 6-1 6-2 6-2 6-6 6-5 6-3 6 0 6-4 6-3 6-5 6-4 6-4 6 0 6-1 6-3 6-3 6 0 6 0 6-2 6 0 6-2 6-3 6-2 6 3 6-2 6 0 6 3 6-1 6-1 6 1 6-3 6-1 6-2 6 2 6 2 6-4 6 3 6 1 6-1 6 0 6-2 6-1 6-2 6 1 6-5 6-1 6-4 6 1 6-3 6-5 6-3 6 0 6-3 6-2 6-5 6 0 6-3 6-4 6-2 6 2 6-2 6-3 6-2 6-1 6-1 6-1 6-3 6-2 6 0 6-2 6-3 6-2 6-1 6-2 6-1 6-2 6-1 6-2 6-2 6-1 6-1 6-1 6-1 6-1 6-2 6-2 6-1 6-2 6-1 6-2 6-2 6-1 6-2" stroke="#7f7f7f"/><path d="M0 323l6 17 6 10 6 0 6-4 6 4 6-7 6-5 6 3 6 6 6 7 6 11 6 9 6-4 6-12 6-4 6-1 6-17 6-13 6-14 6 7 6 4 6-10 6 5 6-21 6-5 6 0 6 0 6-2 6-14 6 2 6 0 6-3 6-5 6 3 6 1 6 1 6 6 6-3 6-10 6-2 6-3 6-3 6-11 6 11 6 6 6-1 6-15 6 8 6 10 6-5 6 3 6-5 6 7 6 3 6 2 6-3 6 1 6 5 6-5 6 6 6 10 6 13 6 0 6-2 6 0 6 16 6 2 6 5 6-10 6 2 6-5 6-13 6 6 6 0 6 15 6 8 6 1 6 1 6 8 6-2 6-4 6-4 6 2 6-6 6 7 6-2 6-5 6 8 6-1 6-2 6 2 6 5 6-1 6-4 6-12 6-9 6-19 6-8 6 7 6-10 6-3 6-2 6-9 6-2 6 8 6-6 6 1 6-2 6 6 6-4 6-10 6 3 6 3 6-4 6-2 6 4 6 9 6-1 6-3 6-2 6-10 6 1 6 2 6 2 6-9 6-8 6 2 6-7 6 2 6-6 6 4 6-9 6-5 6 9 6-8 6-2 6 0 6-13 6 2 6 1 6-2 6 1 6 2 6-7 6 0 6 1 6-7 6 7 6-1 6-2 6 3 6 5 6-5 6-8 6 7 6 2 6 4 6 2 6-4 6-8 6 6 6 0 6-4 6 2 6 0 6-3 6-10 6 2 6 1 6-4 6 2 6-1 6-1 6-5 6 1 6-13 6-4 6 5 6 11 6 0 6 3 6 2 6-5 6-1 6 7 6-5 6-13 6-5 6-6 6-5 6-1 6-6 6-7 6-1 6-2 6-4 6-5 6-4 6-6 6 1 6-2 6-5 6-4 6 2 6 0 6-4 6-3 6 1 6-2 6-1 6-7 6-3 6 2 6-6 6 1 6 2 6 0 6-1 6 2 6-2 6 0 6 0 6-3 6-3 6-1 6-1 6-1 6-2 6-2 6-2 6-2 6 1 6-3 6 2 6-2 6-1 6-3 6 0 6-3 6-1 6-4 6-1 6-3 6-1 6-3 6 0 6-2 6-1 6-3 6-3 6-2 6-3 6-1 6-1 6-2 6-2 6-1 6-2 6-1 6-2 6-1 6 0 6-2 6-1 6-2 6-1 6-1 6-2 6-1 6-1 6-2 6-1 6-2 6-2 6-1" stroke="#bcbd22"/><path d="M0 323l6-7 6 1 6-9 6-5 6 1 6-15 6-3 6 7 6-3 6-16 6-14 6 0 6-5 6-1 6-4 6 0 6-4 6-14 6 0 6-1 6 11 6-9 6 0 6-10 6 9 6-3 6-4 6 5 6 2 6 0 6 4 6-4 6-4 6-2 6 4 6 0 6 7 6 8 6-6 6 5 6-4 6 1 6 2 6 8 6-3 6-3 6-8 6-6 6 0 6-2 6-4 6 1 6 14 6 9 6 7 6-3 6-8 6-13 6 3 6 4 6-3 6 5 6-1 6 0 6-8 6-4 6-2 6 5 6-1 6-1 6-1 6-3 6-6 6 3 6-7 6 1 6-1 6-5 6-6 6-4 6-3 6 0 6 2 6-1 6-8 6 2 6-9 6 2 6-3 6-2 6 0 6 5 6-7 6 8 6 1 6-3 6-4 6-5 6-5 6-4 6 4 6 0 6-5 6 0 6-4 6 1 6-7 6 5 6-4 6 6 6 3 6 1 6-7 6 3 6-3 6-5 6-3 6 4 6-1 6-2 6-6 6 0 6 0 6-1 6 0 6 0 6 1 6-7 6 0 6 0 6 3 6-5 6 4 6 3 6-10 6 1 6-4 6-7 6-3 6-2 6-2 6-7 6-4 6-1 6-3 6 3 6-1 6 2 6-2 6-2 6-3 6-3 6-2 6 0 6-1 6-3 6-3 6 1 6 1 6-2 6-2 6 0 6-3 6-1 6-2 6-1 6 0 6-4 6 0 6-3 6-1 6 0 6 0 6-3 6 2 6 1 6-1 6 0 6-1 6 1 6 1 6-2 6-1 6 0 6-3 6-1 6-2 6-2 6-3 6-3 6-1 6-2 6 0 6-2 6 0 6 0 6-2 6-1 6 0 6-3 6-1 6-2 6-2 6-1 6-3 6-1 6-1 6-1 6-2 6-2 6-1 6-1 6-2 6-1 6-2 6-1 6-2 6-2 6-1 6-2 6-2 6-1 6-2 6-2 6-1 6-2" stroke="#17becf"/><path d="M0 323l6-10 6-6 6-3 6 0 6-8 6-16 6 0 6-7 6-11 6 4 6 9 6-2 6 4 6 8 6-9 6-1 6-1 6 0 6 7 6 3 6 5 6-4 6 1 6-4 6-8 6-10 6 11 6 8 6 1 6 1 6-4 6 3 6 7 6-6 6-13 6-8 6 2 6-3 6 17 6 1 6 6 6 0 6 3 6-17 6-18 6-4 6 6 6-3 6-2 6-4 6 0 6-11 6 1 6-3 6 2 6-12 6-3 6-3 6-9 6 4 6 3 6-3 6 1 6-3 6-5 6 1 6-4 6-7 6 5 6 7 6 4 6 4 6 1 6-1 6-4 6-5 6 0 6 4 6-1 6-5 6-1 6 2 6 3 6-3 6 0 6-1 6-2 6-4 6-6 6-5 6 8 6 1 6-2 6 4 6 6 6-14 6 0 6-4 6-2 6-2 6-5 6-5 6 3 6-5 6-3 6-3 6-1 6-7 6 2 6-2 6 1 6-5 6-1 6-3 6-2 6-2 6-4 6 3 6-2 6 1 6-1 6-1 6 2 6-1 6-3 6 1 6-7 6-7 6-1 6-3 6-1 6-6 6 2 6-4 6 1 6-4 6-4 6-3 6 3 6-1 6-2 6-2 6-4 6-1 6 1 6-4 6-3 6-4 6-1 6-2 6-3 6-1 6-2 6 1 6-2 6-2 6-2 6-1 6-2 6 0 6-3 6-2 6-2 6-2 6-3 6-1 6-2 6-2 6-1 6-3 6-2 6 0 6-2 6-2 6-2 6-4 6-1 6-2 6-2 6 0 6-2 6 0 6-1 6-1 6-1 6 0 6-1 6 0 6-3 6-2 6-1 6-2 6-1 6-2 6-1 6-2 6-1 6-2 6-2 6-2 6-1 6-2 6-1" stroke="#1f77b4"/><path d="M0 323l6 3 6 1 6 4 6-18 6 0 6-12 6 11 6 2 6 4 6 6 6 4 6 3 6 2 6 3 6 9 6 2 6-15 6 16 6-2 6 3 6-11 6-13 6 2 6 3 6 2 6-1 6 12 6 1 6-13 6-12 6 1 6 1 6 3 6 0 6 5 6 1 6 2 6 10 6-13 6-6 6-9 6 4 6-11 6-6 6-20 6 12 6 0 6 7 6 6 6 8 6 7 6-1 6 6 6-21 6-15 6-2 6-7 6 5 6-6 6-2 6 0 6-2 6 0 6 1 6-1 6-3 6 2 6 4 6-5 6 7 6 1 6 1 6-9 6 10 6 3 6 0 6 13 6-7 6 10 6-1 6 4 6 4 6 2 6-7 6-6 6 7 6-5 6 20 6 5 6-7 6 5 6 9 6-7 6-6 6 12 6-7 6-13 6-5 6-8 6 8 6 2 6 2 6 3 6 1 6 1 6-3 6 7 6 1 6-2 6-7 6-4 6 1 6 1 6 5 6 12 6 8 6 0 6-5 6-1 6-14 6-2 6-1 6 3 6-7 6 3 6 4 6 1 6-18 6-6 6-2 6-1 6 6 6-5 6 3 6-13 6-3 6 0 6-4 6-22 6-10 6 10 6-13 6 2 6-7 6 2 6 0 6 4 6-3 6 3 6-2 6 0 6 5 6 2 6-7 6-5 6 0 6-1 6 17 6-9 6-6 6-12 6-1 6 2 6 3 6 7 6 5 6-3 6 1 6-2 6 4 6-5 6 1 6-5 6-2 6-2 6 0 6 3 6-1 6-9 6-5 6-2 6 0 6 6 6 9 6 0 6-2 6-3 6-10 6-3 6-7 6 4 6-2 6-6 6 4 6 6 6-2 6 0 6-4 6-5 6 3 6-4 6 1 6-1 6-5 6 2 6-7 6-6 6 0 6 0 6-5 6-8 6 1 6-1 6-2 6-12 6-5 6-3 6-2 6-6 6 2 6 3 6 1 6-1 6-2 6-4 6-2 6-3 6-4 6-3 6 0 6-3 6-6 6-4 6-1 6 0 6 4 6 0 6 1 6-3 6-3 6-4 6-2 6-2 6 0 6 0 6 0 6 3 6-3 6-2 6-2 6-5 6 3 6-5 6 0 6-3 6 3 6 0 6 0 6-1 6-3 6-5 6 0 6-2 6-2 6-2 6 2 6 0 6 0 6-3 6-3 6-1 6-1 6-1 6-2 6-1 6 1 6-3 6-1 6-1 6-3 6-1 6-1 6-2 6-1 6-2 6 0 6-1 6-2 6-1 6-1 6-3 6-2 6 0 6-2 6-1 6-2 6-2 6-1 6-2 6-2 6-1 6-1 6-2 6-2 6-2 6-2 6-1 6-1 6-1 6-1 6-2 6-2 6-2 6-1 6-2 6-1 6-2" stroke="#ff7f0e"/><path d="M0 323l6-13 6-3 6-6 6-4 6-7 6-6 6-8 6-2 6 9 6 4 6 1 6-2 6-1 6 8 6 7 6 2 6 1 6-6 6-3 6-10 6-5 6-9 6 5 6 0 6-1 6 18 6-11 6-2 6 5 6-3 6 6 6 1 6-4 6-9 6 4 6-7 6-3 6-11 6-4 6-2 6 14 6 3 6 0 6 14 6 5 6-3 6-1 6 2 6-8 6-11 6 8 6 0 6 8 6 7 6 8 6-5 6 8 6-6 6-3 6 2 6-11 6-1 6 1 6 16 6 14 6-23 6-2 6 1 6-6 6-3 6-9 6 3 6 12 6 3 6-1 6 5 6-3 6 5 6 0 6 3 6 0 6-4 6-7 6 3 6-4 6 2 6-3 6 2 6-2 6-1 6-1 6-9 6 6 6-3 6-2 6-3 6-2 6-3 6 3 6 2 6 5 6-3 6-8 6-1 6 3 6 1 6 1 6-8 6-1 6-1 6 5 6-1 6 8 6-3 6-2 6 8 6 17 6 7 6-7 6-1 6 9 6 1 6 3 6-7 6-6 6-4 6-16 6 7 6 0 6 11 6-3 6-11 6 4 6 8 6 8 6-6 6 1 6 9 6-11 6-7 6-5 6 4 6 13 6-2 6-2 6-7 6 6 6 0 6 8 6-2 6 12 6 1 6-2 6-10 6-4 6-13 6 4 6 14 6 7 6-7 6 2 6-3 6 8 6-13 6 2 6-10 6 2 6 6 6-4 6-5 6 4 6 10 6-4 6 8 6 2 6-11 6-7 6-15 6-1 6-3 6-2 6-7 6 0 6 5 6 0 6-3 6-1 6-5 6 10 6-7 6 2 6-4 6 4 6-1 6 3 6 5 6-1 6-4 6 3 6-7 6-3 6-4 6-8 6 1 6 2 6-2 6-8 6-1 6 3 6-11 6-4 6 10 6 2 6 3 6-3 6-5 6-13 6 2 6 6 6-5 6 6 6-5 6 1 6-4 6-3 6 0 6-4 6-1 6 4 6 7 6-9 6-7 6 3 6-2 6 1 6-8 6 1 6 2 6 1 6 1 6-5 6 2 6-4 6 2 6-3 6-1 6 0 6 1 6-2 6-7 6-3 6 0 6 1 6-5 6-1 6 0 6 4 6 2 6-5 6-2 6-1 6 1 6 4 6-1 6-2 6 2 6-2 6-3 6-1 6 0 6 3 6 3 6-2 6 3 6-5 6 5 6-5 6-5 6 2 6-2 6 5 6-10 6 1 6 1 6 0 6-1 6 2 6 2 6-4 6 3 6-2 6-2 6-3 6 0 6 0 6-3 6 5 6 5 6 0 6 1 6-3 6-10 6-1 6 3 6 1 6-3 6 0 6 5 6-7 6-2 6-3 6 2 6 0 6-5 6 3 6 4 6 3 6-2 6-2 6 3 6-1 6-1 6-1 6 0 6 1 6 4 6 2 6-5 6-2 6-5 6 2 6-3 6 2 6 4 6-3 6 6 6 0 6-2 6 2 6 0 6-3 6 3 6-5 6 2 6-3 6 1 6 2 6 4 6-2 6 3 6 0 6-5 6-5 6-1 6-1 6 4 6-4 6-3 6-2 6-2" stroke="#2ca02c"/><path d="M0 323l6 12 6 7 6 4 6-6 6-11 6-12 6-1 6-4 6 7 6-3 6-7 6 0 6 4 6-1 6-8 6 3 6 2 6 5 6-7 6 12 6 8 6 5 6 2 6-18 6 1 6-1 6-10 6-2 6-5 6 5 6-6 6-8 6-8 6 1 6 12 6-9 6 6 6-4 6-2 6-4 6 4 6-2 6 3 6-3 6 2 6 12 6 6 6-7 6-1 6-3 6-2 6-2 6-8 6-3 6-5 6-11 6-9 6 1 6 2 6 1 6 5 6 8 6 5 6 1 6-7 6-9 6 4 6 5 6-11 6 5 6-2 6 0 6-4 6-2 6-2 6 0 6 3 6-4 6-4 6-3 6 9 6-8 6-11 6 7 6-2 6-5 6 1 6 0 6 3 6 0 6-4 6 5 6-6 6 1 6-2 6-6 6 0 6 0 6 1 6-4 6-4 6-8 6-2 6 3 6-6 6-1 6-12 6-6 6 3 6 2 6 2 6-4 6-1 6-2 6-2 6-2 6-1 6 2 6-7 6-3 6-9 6-2 6-7 6-2 6 2 6-1 6-8 6-2 6-6 6 3 6-1 6 4 6-1 6-1 6-3 6 1 6-3 6-2 6-4 6-6 6-4 6-3 6 1 6-6 6-6 6 0 6-5 6 0 6 1 6 1 6 5 6-1 6-1 6-3 6-2 6-3 6 3 6 1 6-2 6-2 6-1 6-1 6 1 6-3 6 0 6 2 6 1 6 0 6 1 6 2 6-4 6-1 6-3 6-3 6-4 6-2 6-4 6-3 6-5 6 1 6-1 6-3 6-1 6 1 6-3 6 1 6-2 6-2 6-2 6-3 6-1 6-3 6-1 6-2 6-2 6 0 6-4 6 0 6-1 6-4 6-2 6-1 6-2 6-1 6-2 6-2 6-2 6-2 6-2 6-2 6-2 6-2 6-2 6-2 6-2 6-1 6-2 6-1 6-2 6-1 6-2 6-1 6-2 6-2" stroke="#d62728"/><path d="M0 323l6-5 6 15 6-2 6 6 6 4 6 18 6-4 6-7 6 4 6-16 6 15 6-2 6 5 6 2 6 10 6 21 6 8 6-7 6-11 6-9 6-3 6 9 6-17 6-2 6-3 6-11 6-4 6-9 6 8 6 7 6 7 6-4 6 5 6 0 6-7 6-1 6 15 6 9 6-24 6 1 6 2 6-7 6 5 6-14 6 6 6-4 6-2 6-5 6-10 6 6 6-4 6-3 6 0 6-8 6 4 6 7 6 2 6 9 6 0 6 1 6-11 6 0 6 7 6-3 6-2 6-4 6-6 6-5 6-3 6 0 6 1 6 18 6-4 6 4 6 1 6 2 6-11 6 11 6 9 6 4 6 13 6 15 6-10 6-2 6 5 6-17 6-15 6-3 6-3 6 3 6-4 6 0 6 3 6-2 6 2 6 0 6-8 6-1 6-11 6 1 6 0 6-4 6 11 6 4 6-1 6-7 6 8 6-11 6 0 6 3 6-6 6-6 6-1 6-7 6-3 6-9 6-3 6 10 6-2 6 3 6-4 6 3 6-8 6-8 6-8 6-17 6 5 6-5 6-5 6-7 6 10 6 6 6 0 6 12 6 6 6 6 6-2 6 4 6-1 6-10 6-2 6-6 6-5 6 0 6-13 6-11 6-6 6-1 6 7 6-1 6-9 6-12 6-2 6-6 6 0 6 3 6-1 6-2 6-4 6-2 6-2 6-3 6 0 6 2 6 1 6-7 6-4 6 2 6 6 6 0 6-7 6-3 6 2 6-3 6-2 6-6 6 0 6 1 6-3 6 3 6-3 6-2 6 0 6-8 6-1 6-3 6-2 6 1 6-3 6-7 6 2 6-2 6 0 6-4 6-5 6 0 6 2 6-1 6-5 6-5 6-3 6-4 6-8 6-2 6-2 6-2 6-5 6-1 6-3 6-2 6 3 6-2 6-4 6-2 6 1 6-2 6-2 6-2 6-3 6 3 6 2 6 3 6 0 6 0 6-1 6-2 6 0 6 0 6 1 6-4 6 0 6 0 6-1 6-4 6-6 6-1 6-3 6-3 6 0 6-4 6-1 6-3 6-3 6-1 6 0 6-2 6-3 6-1 6-3 6-2 6-1 6-1 6-2 6-1 6-2 6-2 6-2 6-1 6-2 6-1 6-2 6-1 6-2 6-1 6-2 6-2 6-1 6-1 6-2 6-2 6-1" stroke="#9467bd"/><path d="M0 323l6 2 6-4 6-6 6 4 6-3 6-7 6-1 6-2 6-1 6-16 6-3 6-3 6 19 6 5 6-15 6 4 6-6 6-3 6 2 6-5 6-4 6-5 6-7 6-3 6 9 6-6 6 4 6 3 6-14 6 0 6-1 6 4 6-8 6 6 6 0 6 1 6-1 6 3 6 12 6 7 6 1 6 3 6 6 6 3 6 7 6-2 6-10 6-13 6-7 6 1 6 3 6 4 6-4 6 0 6-5 6-3 6 2 6 10 6 13 6 6 6 9 6-1 6 0 6 8 6 6 6 3 6-5 6 3 6-10 6-2 6-2 6-8 6-6 6 7 6 9 6-12 6-16 6 0 6-3 6-2 6-2 6-9 6 1 6-7 6 1 6-4 6-11 6 3 6 1 6 9 6-2 6-3 6-6 6-5 6-3 6-2 6 6 6-1 6 13 6-3 6 6 6-9 6 1 6 6 6-3 6-3 6-1 6 5 6-9 6-3 6 0 6-7 6 7 6-1 6 1 6 5 6-9 6-3 6-6 6-6 6 1 6 0 6-5 6-2 6-2 6-4 6 9 6 5 6 4 6 10 6-2 6-1 6 6 6-3 6-1 6 3 6-3 6-4 6 1 6-8 6 3 6 1 6-7 6-10 6 6 6-12 6-2 6 2 6 1 6-3 6 0 6-3 6-2 6-3 6 6 6-7 6 0 6-7 6-5 6-3 6 5 6-1 6 0 6-8 6 12 6-9 6 3 6 1 6 1 6-3 6 2 6 3 6-7 6 0 6 13 6 3 6-1 6-8 6-3 6-7 6 4 6 5 6 6 6 0 6-1 6-7 6-7 6-6 6 1 6-6 6 6 6-1 6-1 6 5 6 0 6-5 6-2 6-2 6 0 6 6 6-1 6-6 6-3 6-7 6-1 6-7 6 2 6-3 6-7 6 2 6-11 6-2 6-1 6-1 6 1 6 2 6-1 6 0 6-4 6 2 6 2 6-2 6-4 6-2 6-3 6-1 6-5 6 4 6-2 6-4 6 2 6-6 6 1 6-4 6-4 6 0 6-6 6 2 6-1 6 1 6-1 6-3 6 4 6-1 6-3 6-1 6-2 6-2 6 1 6-2 6 3 6-1 6 0 6-2 6-5 6-2 6-2 6-6 6-4 6-3 6 0 6 1 6-1 6-3 6 0 6-4 6-1 6-2 6-2 6-4 6-2 6-2 6-1 6-2 6-3 6-3 6 0 6-2 6-1 6-2 6-1 6-2 6-2 6-1 6-2 6-1 6-2 6-2 6-1 6-2 6-1 6-2 6-1 6-2 6-1 6-2 6-2 6-1" stroke="#8c564b"/><path d="M0 323l6 2 6 3 6 1 6-1 6 0 6-1 6 2 6 7 6 0 6 0 6 4 6 3 6 3 6-2 6 2 6 5 6-3 6 0 6-4 6-3 6-5 6 1 6-2 6 3 6 2 6 2 6-7 6 0 6 1 6 3 6-5 6-2 6-3 6-3 6 4 6-3 6 1 6 3 6-2 6 0 6 1 6 0 6-4 6 1 6 5 6-6 6 4 6 1 6-3 6 8 6 3 6-4 6 1 6 2 6 0 6 3 6 0 6 3 6 5 6-2 6 4 6 1 6 3 6-1 6 0 6 2 6 7 6 7 6-2 6 0 6 5 6-5 6 1 6 3 6 8 6 6 6-3 6-3 6-2 6 5 6-4 6-2 6 0 6-2 6-2 6 1 6 6 6 5 6 11 6 9 6 6 6 9 6 5 6 11 6 7 6 10 6 1 6 9 6-2 6-3 6 6 6 2 6 8 6 8 6-9 6-8 6-3 6-2 6-5 6-5 6 0 6-1 6-9 6-4 6-5 6-9 6-3 6-9 6 0 6-3 6 4 6 0 6 3 6-5 6-2 6 5 6-6 6 7 6-5 6 7 6 0 6-2 6-4 6-12 6 1 6 1 6-5 6-7 6 3 6 0 6 8 6 1 6 4 6 0 6 0 6-7 6 4 6-2 6 2 6-1 6-5 6-3 6-4 6-1 6-3 6 4 6 1 6 3 6 13 6 3 6 2 6 7 6 7 6-7 6-1 6-3 6-8 6 3 6 0 6 0 6-3 6 2 6-3 6-1 6-6 6-6 6 5 6-3 6 1 6-1 6-3 6-3 6 2 6-2 6-2 6-1 6 5 6 2 6 1 6-4 6-11 6-1 6-1 6-5 6-3 6-2 6-2 6-1 6-7 6 1 6-7 6 1 6-1 6 1 6 5 6 3 6-7 6-8 6 0 6-6 6-2 6 0 6-8 6-10 6-1 6-2 6-3 6-2 6-5 6-7 6-3 6-5 6-7 6-1 6-2 6-1 6-5 6-4 6-5 6-5 6 1 6-2 6 1 6 1 6 6 6-4 6 3 6-1 6 0 6-4 6-1 6 2 6 0 6 1 6-1 6 3 6 0 6-6 6-2 6-5 6-9 6-2 6 3 6 0 6-4 6-2 6 2 6 0 6 0 6 0 6-1 6 2 6 1 6 0 6-3 6 1 6-2 6 2 6-3 6-1 6-1 6-4 6 3 6 3 6-3 6 1 6 0 6-7 6-1 6-1 6-1 6-4 6-1 6-2 6 2 6 0 6-1 6 2 6-2 6-2 6-5 6 2 6 2 6 1 6 0 6-1 6 0 6-2 6-1 6-1 6 3 6 0 6-1 6-2 6-2 6 3 6 1 6-1 6-1 6-3 6-1 6 1 6-2 6-1 6-1 6 0 6-5 6-1 6-2 6 1 6-2 6 0 6 3 6-2 6-2 6 0 6 0 6-3 6 0 6 4 6-1 6-1 6-3 6 0 6-3 6-3 6 3 6-3 6 2 6 3 6 0 6 0 6 4 6-1 6-2 6-3 6 0 6 2 6 2 6-3 6-2 6-1 6 0 6-1 6 0 6 0 6-1 6-1 6 0 6 0" stroke="#e377c2"/><path d="M0 323l6-1 6 0 6-8 6-4 6-6 6-1 6-5 6 0 6-12 6-1 6 10 6-3 6-11 6 4 6-6 6 8 6-9 6-1 6-4 6-2 6-3 6 0 6 14 6 2 6-1 6-2 6 6 6-6 6 1 6 0 6-1 6 1 6 8 6 4 6-2 6-4 6 3 6-10 6 0 6 2 6-5 6-18 6-3 6 6 6 15 6 12 6 14 6 4 6-4 6-15 6-6 6 0 6 2 6-8 6-5 6 4 6 6 6-4 6-1 6 10 6-4 6 4 6-12 6-1 6-3 6-5 6 12 6 1 6-15 6 11 6-10 6 5 6 2 6 8 6-7 6 1 6-3 6-9 6 0 6-1 6-8 6 0 6 9 6-8 6 1 6-10 6-3 6 0 6 5 6 4 6 3 6-6 6-6 6 4 6 2 6-8 6-4 6 4 6 7 6-9 6-9 6-2 6 3 6 6 6 3 6 6 6 0 6 8 6 5 6 0 6-15 6 2 6 2 6 0 6 11 6 10 6 9 6-5 6-9 6 5 6 18 6 0 6-5 6 8 6-7 6-4 6-3 6-6 6 0 6 4 6 12 6-9 6-8 6 4 6 4 6 0 6-3 6 0 6 14 6 2 6-11 6-5 6 1 6 12 6 0 6-11 6 6 6-2 6 4 6-8 6-3 6-14 6 9 6-1 6 6 6 9 6-10 6-5 6 1 6 2 6 9 6 4 6 9 6-3 6-6 6 4 6 4 6 0 6-14 6 6 6-13 6 7 6 3 6 3 6 2 6 5 6 4 6 5 6-4 6 2 6-8 6-2 6-2 6-7 6 11 6 4 6-6 6-12 6-2 6 15 6-9 6 0 6 10 6 0 6 8 6-11 6-4 6 5 6-13 6-17 6 1 6-6 6 8 6-15 6-3 6-15 6-1 6-2 6-12 6-1 6-1 6-5 6 3 6 10 6-1 6-6 6 3 6-2 6-10 6 3 6 1 6-7 6-5 6-6 6-4 6 4 6-3 6 1 6-4 6 1 6-2 6-5 6-1 6-1 6 0 6-2 6 0 6-1 6 0 6-2 6-6 6 1 6-5 6 3 6-5 6-1 6-2 6 1 6-1 6-2 6-3 6 4 6 3 6-3 6 4 6-1 6-2 6 1 6 0 6-3 6-3 6-1 6-2 6 0 6-1 6 0 6-2 6 10 6-5 6 2 6-4 6-2 6-10 6-7 6-1 6-5 6 4 6 0 6-1 6-2 6-3 6 1 6 0 6-1 6-4 6 1 6-3 6-5 6-1 6 2 6 2 6-1 6-2 6-3 6 1 6-1 6-2 6-1 6 2 6-3 6-7 6 0 6-3 6 0 6 1 6-3 6-1 6 0 6-3 6 0 6 1 6-2 6 2 6-6 6 1 6-4 6 0 6 0 6-6 6-2 6-3 6 1 6 0 6 1 6 0 6-2 6-3 6-1 6-1 6 1 6-3 6-1 6-3 6-1 6-1 6 0 6-1 6-2 6-2 6 1 6-4 6-1 6-1 6 0 6-1 6-1 6-2 6-3 6-3 6-2 6-1 6-1 6-2 6-1 6-2 6-2 6-1 6-2 6-2 6-1" stroke="#7f7f7f"/><path d="M0 323l6 2 6-5 6 5 6 6 6 2 6-5 6-2 6-9 6-5 6 1 6 8 6-6 6 4 6 4 6-7 6-2 6 4 6-3 6-5 6-17 6-4 6-2 6-1 6-2 6 5 6-9 6 3 6-12 6 1 6 1 6-1 6 5 6 0 6 3 6 1 6-16 6-9 6 7 6 0 6 8 6-5 6-9 6 2 6 4 6-6 6-4 6-8 6 1 6 0 6 5 6 2 6 0 6 5 6-9 6-6 6 1 6-2 6 9 6 3 6 3 6-11 6-9 6-4 6-7 6-1 6 2 6-3 6 8 6-4 6-5 6 6 6-8 6 8 6 9 6-1 6 3 6-5 6-8 6 8 6-8 6-1 6-2 6 2 6 0 6 1 6-6 6-4 6-9 6-3 6 0 6-1 6 2 6-9 6 4 6-2 6-12 6-9 6-9 6 6 6 2 6 2 6 0 6-1 6-2 6-13 6 0 6 0 6 1 6 1 6 7 6-5 6-5 6-2 6 1 6-3 6 0 6-4 6 2 6 0 6 3 6-3 6 7 6 1 6 1 6 3 6-2 6-6 6-1 6-2 6 3 6 2 6 1 6 1 6 2 6 3 6 6 6-4 6-1 6-4 6 3 6 5 6-5 6-4 6 0 6-3 6 1 6-5 6-1 6-6 6-2 6 3 6 2 6 5 6 5 6-2 6-2 6-4 6 5 6-5 6-4 6-1 6 6 6-5 6 5 6-7 6-6 6-1 6-8 6 4 6 0 6 2 6-1 6-4 6 2 6-3 6 1 6-3 6-2 6 3 6 2 6-4 6 1 6-8 6-3 6 2 6 0 6 0 6 0 6-2 6 4 6 4 6 5 6-7 6-5 6 1 6 2 6-6 6-1 6-1 6-1 6 3 6 4 6-7 6-1 6-3 6-1 6-1 6-2 6 1 6-4 6-3 6-4 6-1 6-1 6-2 6-4 6 0 6-4 6-2 6-2 6-4 6-1 6-2 6-1 6 2 6-4 6-5 6-2 6-1 6-2 6 0 6 0 6-2 6-3 6-2 6-3 6-3 6-3 6-1 6-1 6-2 6-2 6-1 6 0 6-2 6-2 6-2 6-3 6 0 6-2 6-2 6-2 6-2 6-1 6 0 6-2 6-2 6-2 6-1 6-1 6-1 6-2 6-1 6-2 6-2 6-1 6-2 6-1 6-2" stroke="#bcbd22"/><path d="M0 323l6-5 6 3 6-4 6-5 6 7 6-1 6-8 6-10 6 3 6-1 6 1 6-12 6-9 6 4 6-9 6-1 6-2 6 0 6-9 6 7 6 3 6 3 6-6 6 0 6-9 6-4 6-1 6 3 6-12 6-8 6 0 6-8 6-7 6 0 6 2 6 2 6 2 6-3 6 0 6 3 6 7 6-5 6 0 6-7 6 1 6-2 6-7 6-2 6-8 6-4 6 7 6-4 6-5 6 1 6 4 6-3 6 3 6-7 6 7 6 2 6-2 6-4 6-4 6 0 6 7 6-2 6-7 6 0 6 2 6-6 6 3 6-7 6-5 6 0 6-5 6-1 6-3 6-1 6 4 6-5 6-1 6 0 6 5 6-8 6 0 6 2 6-10 6 3 6 3 6-1 6-8 6-6 6 2 6 3 6-1 6-2 6-5 6 5 6-3 6 8 6 2 6-4 6 0 6-2 6-7 6 2 6 0 6-2 6-2 6 3 6-1 6-3 6-2 6-6 6 0 6-6 6-1 6 0 6-6 6-11 6 0 6-4 6-3 6-1 6 3 6 4 6-6 6 1 6 0 6-3 6-5 6-3 6 0 6-4 6 1 6-5 6-2 6-2 6-1 6 1 6-2 6-2 6-2 6-1 6-3 6 0 6 0 6 2 6-2 6-3 6-4 6-1 6-4 6-3 6-2 6-1 6-3 6 1 6-1 6-2 6-1 6-2 6-1 6 0 6-1 6-1 6-1 6-1 6-2 6-1 6-2 6-1 6-1 6 0 6-1 6 0 6-3 6 0 6-2 6-1 6-2 6-2 6-1 6-1 6-1 6-1 6-3 6-2 6-1 6-2 6-1 6-1 6-2 6-1 6-1 6-2 6-2 6-1 6-2" stroke="#17becf"/><path d="M0 323l6 5 6-10 6-7 6-6 6 4 6 6 6 11 6-3 6 5 6 1 6 4 6 3 6 7 6-4 6-4 6-8 6 5 6-7 6 9 6 6 6-5 6 1 6 14 6 5 6 3 6 2 6 6 6-8 6 1 6 12 6 1 6 11 6 13 6-1 6-5 6-9 6-13 6 5 6-1 6-3 6-6 6 12 6 5 6 1 6 0 6-9 6 4 6 6 6 7 6-12 6-5 6 0 6-10 6 3 6-14 6 10 6-1 6 14 6-3 6-17 6-19 6 2 6 9 6-17 6-9 6 7 6-6 6 3 6-8 6-7 6 8 6-11 6 8 6-3 6 4 6 10 6-2 6 2 6 13 6 2 6-1 6-10 6-10 6-6 6 6 6-12 6-3 6-2 6 2 6-4 6-12 6 2 6 2 6 4 6-7 6-6 6 2 6 8 6 1 6 0 6-5 6-11 6-3 6-4 6 1 6-6 6 5 6 5 6 2 6-2 6-2 6 12 6-4 6 5 6-6 6-8 6 6 6 2 6 2 6-5 6-2 6 12 6-5 6-7 6 6 6 5 6-2 6-8 6 7 6-1 6 2 6-12 6-5 6-1 6-7 6 0 6-2 6 9 6-2 6-8 6-4 6-4 6-5 6 7 6 0 6-2 6 0 6-6 6 0 6-7 6 1 6-1 6-2 6 7 6-5 6-6 6-1 6 1 6-2 6 0 6 6 6 9 6 5 6-7 6 2 6 0 6-12 6-3 6-5 6 0 6-7 6 3 6 5 6 0 6-1 6-4 6-3 6-2 6 3 6 9 6 3 6-1 6-13 6 4 6 2 6 2 6-1 6-3 6-2 6 12 6-8 6 1 6 6 6-4 6 7 6-11 6 1 6-9 6 10 6-1 6-3 6 1 6-4 6-4 6-8 6 1 6-7 6 1 6 0 6-4 6-5 6-4 6-3 6 1 6-3 6 2 6-2 6-2 6-4 6 0 6-3 6-3 6 3 6 5 6-4 6 2 6-3 6 4 6-4 6 4 6-7 6 0 6-4 6-1 6 10 6-4 6-2 6-2 6-6 6 0 6 4 6-4 6-4 6-2 6 3 6-5 6-4 6-4 6-1 6 1 6-5 6 1 6 4 6-5 6-1 6 3 6-2 6 1 6-1 6 2 6 0 6 0 6 0 6 2 6 3 6-6 6-2 6-4 6-6 6 3 6-1 6-2 6 2 6-7 6-4 6 5 6-1 6 1 6 4 6-1 6 1 6 0 6 1 6 4 6-4 6 2 6 1 6-3 6 0 6 1 6 4 6-4 6 2 6-5 6-3 6-2 6-1 6 0 6-2 6 0 6 1 6-3 6 1 6-6 6 0 6 2 6 3 6-4 6 1 6 1 6-3 6-3 6 0 6-1 6-3 6-3 6-4 6 2 6 0 6-2 6-3 6-2 6-1 6-4 6 0 6-1 6-1 6-1 6 0 6 1 6-1 6-5 6-2 6 1 6 0 6-2 6-4 6 0 6-1 6-4 6-2 6-3 6-2 6-1 6-3 6 0 6-1 6-3 6-2 6-2 6-2 6-2 6-1 6-1 6-3 6-1 6-2 6-1 6 0 6-2" stroke="#1f77b4"/><path d="M0 323l6 11 6-10 6 4 6-6 6-1 6-8 6 7 6 5 6 4 6 2 6-2 6 12 6-5 6-3 6 6 6-9 6-10 6-3 6 9 6-1 6 9 6 2 6-6 6-13 6-18 6 5 6-9 6-7 6 6 6-5 6 4 6-2 6-9 6 6 6-3 6-8 6 7 6 10 6 1 6 10 6-13 6-5 6-3 6 3 6 6 6 3 6 1 6 7 6 7 6-9 6 1 6-3 6 12 6 5 6 12 6 3 6 6 6 10 6 2 6-18 6-1 6-7 6-13 6-5 6 1 6-9 6-1 6-2 6 10 6 9 6 7 6-4 6 5 6 13 6-2 6 5 6-1 6-5 6 16 6 0 6 0 6 4 6-6 6-13 6-4 6-10 6-10 6 5 6-3 6-7 6 0 6-4 6-4 6-5 6-14 6 3 6 6 6 2 6-4 6-11 6-6 6-1 6 9 6-3 6 4 6-3 6-9 6 10 6-8 6-3 6-5 6-6 6 2 6 7 6-15 6 2 6-6 6-5 6-1 6 0 6-1 6-1 6 3 6 5 6-9 6-9 6-1 6-2 6-3 6 6 6 1 6-2 6-2 6-11 6 3 6 2 6-5 6 1 6-5 6-1 6-4 6 5 6 4 6 1 6 2 6 4 6 7 6 0 6 0 6-4 6 1 6 0 6-7 6 4 6-6 6-4 6 5 6-7 6-5 6-1 6-3 6 3 6 7 6 0 6 8 6-14 6-2 6-12 6 4 6-1 6 6 6-12 6-3 6-1 6-1 6 3 6 2 6-4 6-9 6 0 6-6 6-5 6 1 6-4 6 6 6-8 6 6 6-1 6 3 6-4 6-8 6 0 6-5 6 0 6-2 6-3 6 5 6 0 6 4 6-8 6-5 6-6 6 0 6-3 6 3 6 5 6 3 6 0 6-3 6-4 6 0 6 3 6 0 6-2 6-3 6 1 6-2 6 1 6-1 6-7 6-4 6 1 6-6 6-2 6-2 6-4 6-1 6-1 6-2 6-4 6 0 6-3 6-1 6 0 6-2 6 0 6-2 6 0 6 2 6-5 6-3 6-1 6-1 6-1 6-2 6-1 6-3 6-3 6 0 6-1 6-1 6-1 6 0 6 0 6-2 6 2 6-2 6-3 6-1 6 0 6-2 6 1 6-4 6-4 6 0 6 0 6-2 6 0 6-2 6-2 6 0 6 0 6-3 6-2 6-1 6-2 6-2 6-2 6-2 6-1 6-2 6-1 6-1 6-2 6-1 6-1 6-1 6-1 6-2 6-2 6-2 6-1 6-2 6-1 6-1 6-2 6-2 6-1 6-2 6-2 6-1" stroke="#ff7f0e"/><path d="M0 323l6 7 6-6 6-11 6 22 6-3 6-18 6-11 6-3 6-6 6 4 6-5 6 2 6 4 6-3 6-7 6-2 6 8 6-11 6 6 6 7 6-8 6-5 6 4 6-6 6 4 6-2 6-6 6 9 6 7 6 3 6-3 6-3 6-6 6 3 6-4 6 9 6-9 6 7 6 3 6-14 6 0 6-6 6 4 6 5 6-2 6-5 6-6 6-12 6-9 6-8 6-1 6-10 6 1 6 3 6-10 6 5 6 3 6-2 6 8 6 1 6-9 6-9 6 7 6 4 6-1 6-9 6 6 6-1 6-9 6-2 6-4 6 7 6 2 6-7 6 7 6-4 6-1 6-1 6 3 6-6 6 7 6 6 6 6 6 4 6 6 6-5 6 1 6-3 6 3 6-4 6 8 6-3 6-7 6-12 6 0 6 1 6 2 6 7 6-6 6 5 6 6 6 2 6-1 6-11 6-2 6-8 6 4 6-4 6 10 6 12 6-6 6 3 6 0 6 2 6 2 6-4 6 0 6 11 6 6 6-9 6 1 6 0 6 1 6-8 6 2 6-2 6-1 6-6 6 2 6-1 6-4 6-4 6-7 6 5 6 2 6 5 6 5 6 6 6-3 6 4 6-9 6 8 6-8 6-9 6 5 6-1 6 4 6 5 6-6 6 8 6 1 6-3 6 5 6 1 6 5 6-11 6 0 6 1 6 3 6 5 6-10 6-7 6-2 6-9 6 5 6-3 6-4 6 6 6 7 6-1 6-1 6-7 6 3 6-2 6-15 6 3 6-5 6-2 6 0 6 6 6 0 6 4 6-5 6 5 6 1 6 1 6-3 6-10 6-2 6-7 6-9 6 8 6-5 6 5 6 0 6-1 6-1 6-3 6-1 6 2 6-1 6-4 6-1 6 1 6 8 6 4 6-5 6-9 6 0 6 5 6-3 6 1 6 2 6-1 6-8 6-4 6 5 6-2 6-1 6-4 6 0 6-4 6-7 6-9 6-3 6-5 6 0 6-5 6-2 6-4 6-1 6 2 6 3 6-4 6 0 6 0 6-2 6-1 6-3 6-3 6-2 6-2 6 0 6-2 6 0 6 0 6-1 6-4 6 3 6-3 6 4 6 1 6-2 6-3 6-2 6-2 6 0 6-5 6-4 6-1 6 4 6 1 6-2 6-4 6-3 6-1 6-5 6-2 6-2 6 4 6 2 6 1 6 2 6 3 6-6 6-2 6-2 6-1 6 5 6 0 6-3 6-4 6-3 6-2 6 0 6 0 6-1 6-3 6-1 6 2 6-2 6 0 6-2 6-2 6 2 6-3 6-3 6 0 6-1 6-1 6-2 6 1 6 1 6 1 6-1 6-1 6-3 6-2 6-3 6 0 6 1 6-1 6-1 6-1 6-3 6-2 6-4 6-1 6-2 6-1 6-1 6-2 6-2 6-3 6-2 6-1 6-1 6-2 6-1 6-2 6-2 6-2 6-1 6-1 6-2 6-1 6-2 6-1 6-2 6-1 6-2" stroke="#2ca02c"/><path d="M0 323l6-1 6-13 6-18 6-1 6-5 6-3 6-1 6-7 6 2 6 4 6 2 6-3 6 14 6 2 6-9 6-9 6-10 6 12 6-6 6-5 6-7 6-4 6-3 6 4 6-10 6 11 6-1 6 8 6 8 6 10 6 3 6 10 6-6 6 7 6 0 6-8 6-1 6-6 6-8 6-2 6-7 6-5 6 1 6 4 6-9 6-3 6-10 6 1 6 1 6-6 6-5 6 2 6 7 6-10 6 0 6 5 6 15 6-5 6 2 6-11 6 5 6 12 6 3 6-4 6 5 6 0 6 7 6-10 6 5 6-5 6-4 6-5 6-3 6-12 6 1 6-4 6-1 6-8 6-6 6 2 6-5 6 2 6 1 6-8 6 5 6 1 6-8 6-1 6-4 6-6 6-2 6 3 6 0 6 4 6-5 6 1 6 2 6 0 6-1 6 0 6-2 6-6 6-7 6-4 6-5 6 4 6-1 6-2 6 10 6-2 6 0 6 0 6 2 6 0 6-7 6-2 6 6 6 7 6 1 6-1 6-1 6-3 6-5 6 2 6-7 6-8 6 4 6-3 6 2 6 1 6 4 6 0 6-2 6-2 6 2 6-2 6-8 6 1 6-5 6-7 6-6 6 3 6-2 6-1 6-1 6 0 6-2 6 2 6-2 6 3 6 0 6-6 6-4 6-3 6-1 6-2 6 0 6-5 6 2 6-2 6-2 6-1 6-2 6-4 6-1 6-1 6-1 6-6 6 0 6-1 6-3 6-2 6-2 6 2 6-7 6-2 6-4 6 0 6-1 6-2 6 0 6-1 6-2 6-3 6-2 6-1 6-1 6-1 6-3 6-2 6-3 6-4 6 0 6-2 6-3 6-2 6 0 6 0 6-2 6 0 6-4 6-3 6-1 6-2 6-5 6-2 6-2 6-2 6-1 6-1 6-1 6-3 6-1 6-3 6-2 6-1 6-2 6-1 6-1 6-2 6-1 6-1 6-2 6-1 6-2 6-1 6-2 6-2" stroke="#d62728"/><path d="M0 323l6 5 6 7 6 3 6 2 6-8 6 1 6 0 6-10 6-6 6-6 6-6 6-9 6-6 6-12 6 0 6 6 6 5 6-1 6-4 6 1 6-9 6-7 6 3 6 7 6-8 6-3 6-2 6 0 6 3 6 3 6 1 6 6 6 4 6 2 6-8 6-4 6-9 6-1 6 2 6 2 6-2 6-3 6-12 6-14 6 8 6 6 6 14 6 2 6 10 6-3 6-3 6-7 6 10 6 2 6 4 6 1 6-1 6 2 6 11 6 7 6-8 6-11 6-8 6 2 6 4 6-4 6 2 6-1 6-1 6 9 6-1 6-9 6 7 6 2 6 5 6 8 6-12 6 2 6-15 6 4 6 6 6 6 6 4 6 1 6-5 6-3 6 1 6 3 6 6 6 5 6 2 6-9 6-5 6 3 6 1 6 5 6-7 6-10 6 4 6 1 6 1 6 1 6-9 6-5 6 1 6-3 6 6 6-3 6 8 6-9 6 6 6-3 6 2 6-1 6-5 6 5 6-1 6 5 6-8 6-2 6 1 6-9 6 1 6 3 6 1 6 0 6-10 6-4 6-2 6 1 6-5 6 8 6 10 6 12 6-10 6-11 6 2 6-7 6 8 6 7 6-5 6 1 6 4 6 13 6 1 6 5 6-6 6-2 6-9 6 5 6-6 6-1 6-4 6 4 6-2 6-8 6 2 6 4 6 1 6 2 6 10 6-6 6-1 6-14 6-6 6 10 6-5 6-6 6-10 6-6 6 2 6 0 6 0 6-3 6-4 6 5 6-4 6-7 6-6 6 6 6-3 6 4 6 1 6 6 6-11 6 1 6 2 6 0 6 2 6-3 6-7 6-6 6 0 6-8 6-10 6 2 6 1 6 3 6 6 6 2 6 2 6 1 6-2 6-9 6 4 6 3 6-5 6 1 6 2 6-2 6-9 6 3 6 4 6-1 6-2 6 4 6-4 6 1 6-5 6-3 6 5 6-4 6 3 6-6 6 0 6-10 6 3 6 2 6 3 6-9 6-5 6 5 6-10 6-2 6 2 6-2 6-3 6-1 6 3 6-4 6 4 6-2 6-1 6 0 6 5 6-1 6-3 6 0 6 0 6-7 6-3 6-4 6-1 6-3 6-2 6-3 6-3 6 1 6-2 6 2 6 0 6-1 6 2 6 0 6 4 6 0 6-2 6 1 6-1 6 0 6 0 6-5 6 3 6-5 6-2 6-2 6 5 6 0 6-2 6 0 6-4 6-3 6-1 6 0 6 1 6 0 6 4 6-4 6 0 6-5 6-6 6-1 6-3 6 1 6 4 6 0 6-4 6 2 6-2 6-5 6-3 6-2 6 1 6-3 6-2 6 3 6-2 6 0 6-4 6 0 6-3 6-3 6 1 6-2 6-3 6-1 6-4 6 0 6-3 6-1 6-3 6-4 6 1 6 0 6-3 6-3 6-1 6-3 6-2 6-2 6-1 6 0 6-1 6-2 6-1 6-1 6-2 6-2 6-2 6-1 6-2 6-3 6-1 6-3 6-1 6-2 6-2 6-2 6-2 6-2 6-1 6-2 6-2 6-1 6-1 6-2 6-1 6-2 6-2 6-1" stroke="#9467bd"/><path d="M0 323l6-1 6-13 6-12 6 4 6-13 6 0 6 3 6-3 6 6 6-6 6 1 6 7 6 0 6-2 6 6 6 17 6 7 6 13 6 4 6 3 6-11 6-1 6 13 6 7 6-13 6 5 6-4 6 3 6-11 6-8 6-14 6-11 6-2 6 2 6 8 6-2 6 1 6 17 6 12 6-1 6-11 6-8 6 7 6-6 6-5 6-7 6 0 6-1 6 1 6 7 6 0 6-4 6 15 6 11 6 3 6-12 6-6 6 1 6 8 6-7 6-11 6-12 6-3 6-6 6-3 6-10 6-11 6 0 6 12 6 3 6 10 6 0 6-1 6-10 6 13 6 2 6-8 6 2 6-2 6-2 6-4 6 6 6 8 6 0 6-6 6-3 6-6 6 3 6 1 6 2 6 12 6 9 6-12 6 13 6 2 6-4 6-3 6 9 6 6 6 4 6 0 6-4 6-3 6-8 6 5 6 7 6 6 6-1 6-1 6-4 6-8 6 5 6 7 6 0 6 8 6-11 6 2 6 8 6 0 6-10 6-6 6 2 6 8 6-5 6-8 6-4 6 4 6-5 6-3 6 2 6 8 6-2 6-7 6-5 6-2 6-11 6-8 6-6 6 2 6 2 6-6 6-5 6 1 6 11 6-5 6-2 6-4 6-5 6-7 6 1 6-14 6-6 6 5 6 10 6-3 6 5 6-1 6-5 6 6 6-9 6-3 6 3 6 7 6 0 6-10 6-4 6-5 6-3 6 5 6 5 6 8 6-8 6-4 6-4 6 5 6-10 6 2 6 4 6-5 6-3 6-7 6-1 6-6 6-5 6-5 6-1 6-4 6-3 6 4 6-2 6-8 6-4 6 0 6 1 6-3 6 1 6-2 6 2 6 0 6 1 6-4 6-6 6-5 6-2 6 0 6 1 6-9 6 0 6-2 6 4 6 2 6-8 6 2 6 5 6 0 6 1 6-2 6-3 6-3 6-1 6 2 6 3 6-2 6 1 6-1 6 3 6 1 6 0 6 1 6 1 6-3 6 4 6 1 6-7 6-3 6-1 6-3 6-2 6 3 6-3 6 3 6 1 6-3 6 2 6-1 6-1 6 2 6-4 6 5 6 0 6 0 6 3 6 2 6-4 6-7 6-4 6 0 6-5 6-2 6 0 6-1 6-2 6 0 6 2 6-1 6 2 6 4 6-2 6 0 6 2 6-1 6 2 6-4 6-2 6-5 6-1 6-3 6 1 6-2 6 1 6-2 6-5 6 1 6-5 6 4 6 3 6 0 6-4 6 0 6-2 6-4 6-1 6 0 6-4 6-1 6 0 6-3 6-4 6-3 6 4 6 2 6 0 6-3 6 3 6 0 6-2 6 2 6 0 6-1 6 1 6-3 6-1 6 2 6 2 6-1 6-1 6 5 6-3 6 1 6-3 6-2 6-2 6-1 6-1 6-2 6-1 6-6 6-3 6 0 6-3 6 2 6-2 6-1 6 0 6-1 6-2 6-1 6 1 6-4 6-2 6-4 6-3 6-3 6-1 6-2 6-2 6-2 6-1 6-2 6-3 6 0 6-2 6-2 6-2 6-1 6 0 6-2 6-1 6-2 6-1" stroke="#8c564b"/><path d="M0 323l6-8 6 3 6-5 6-2 6 5 6-6 6 0 6 6 6-7 6-4 6-8 6-3 6-5 6-7 6-5 6-4 6 5 6 9 6 7 6 1 6-1 6 2 6 1 6 11 6 6 6-10 6 6 6-12 6-3 6-12 6 5 6-9 6-15 6 6 6-3 6-2 6-1 6-9 6-4 6-4 6-10 6 3 6 6 6-2 6 4 6 2 6-3 6 1 6-7 6 3 6-4 6-1 6-3 6-6 6-4 6-16 6 0 6 1 6-1 6-9 6-2 6-3 6-7 6 0 6 0 6-7 6-4 6-5 6 1 6 1 6 0 6 1 6-6 6-4 6 2 6-7 6-1 6-1 6-2 6 0 6-2 6 4 6-2 6 0 6 1 6-2 6 11 6-7 6 3 6-1 6-4 6 1 6-3 6-5 6-2 6-8 6 1 6-1 6 3 6-5 6-2 6 1 6 4 6 0 6 1 6 0 6-2 6-2 6-2 6 1 6-4 6-6 6 0 6-2 6-1 6-3 6-2 6 0 6-4 6-3 6 2 6-8 6-6 6-2 6 5 6 1 6 1 6 0 6-5 6-4 6-1 6 3 6-3 6-1 6-2 6-4 6-4 6-4 6 0 6-4 6-3 6 1 6 0 6-3 6 1 6-5 6 2 6-2 6 0 6-1 6-5 6-2 6-2 6-3 6 2 6-2 6-3 6-2 6 0 6 0 6-2 6-2 6-3 6-3 6-1 6-2 6-1 6-3 6 0 6-2 6-2 6-1 6-2 6-2 6-1 6-1 6-2 6-1 6-2 6-2 6-1 6-2 6-1 6-2 6-2 6-1 6-2 6-2 6-1" stroke="#e377c2"/><path d="M0 323l6-7 6-4 6 3 6 0 6-6 6-2 6-7 6-4 6-2 6 0 6-8 6-15 6 1 6-23 6 3 6-12 6-4 6 2 6 3 6 2 6 9 6 10 6-4 6 1 6-7 6-1 6 2 6 1 6 1 6-1 6 4 6-6 6-5 6 7 6-3 6 10 6 8 6-4 6 10 6-4 6 3 6 6 6 9 6 4 6 3 6-1 6-3 6-11 6 1 6-6 6-3 6-3 6-9 6 13 6-2 6 3 6-4 6-1 6 11 6 4 6-3 6-2 6-9 6-4 6-2 6 1 6-1 6-8 6-11 6 6 6 2 6-1 6 4 6 10 6-6 6-5 6-8 6 2 6 10 6-1 6-5 6-3 6-14 6 4 6 10 6-10 6-6 6-1 6 12 6 0 6-9 6-7 6-2 6-5 6 0 6 5 6 0 6 0 6 4 6 0 6 1 6 5 6 0 6-3 6-8 6 1 6 4 6 1 6-3 6-7 6 11 6-2 6 0 6-14 6-1 6-5 6-5 6 0 6-3 6-5 6 2 6 4 6-2 6 1 6-4 6-10 6 5 6-9 6-1 6 3 6-3 6 3 6-2 6 1 6 3 6-3 6-6 6-4 6 2 6 0 6 3 6-7 6 0 6-6 6-13 6 2 6-1 6 2 6-3 6-3 6 1 6 2 6 4 6-5 6 3 6 1 6-3 6-6 6 3 6-1 6 4 6 0 6 0 6-1 6 6 6-1 6 2 6-4 6-1 6-2 6-2 6 1 6-6 6-5 6 5 6 1 6 0 6-1 6-2 6-7 6-2 6-7 6 1 6 5 6-3 6 0 6 0 6-2 6-8 6-6 6 0 6 4 6 1 6-3 6 3 6 0 6 5 6-1 6-2 6-4 6 0 6-1 6 1 6 2 6-4 6 3 6 1 6 3 6 1 6-2 6 1 6 1 6-2 6-1 6-4 6 0 6-2 6-1 6 1 6 1 6 0 6-4 6 1 6-3 6 1 6-4 6 0 6 0 6-3 6-2 6-6 6-5 6-3 6-4 6-2 6-3 6 0 6 0 6 0 6-1 6-4 6-2 6 0 6-4 6-1 6 0 6-2 6 2 6-2 6-3 6-1 6-1 6 0 6-1 6-4 6 2 6-2 6-1 6-2 6-1 6-1 6-1 6-3 6-4 6-2 6-1 6-3 6-1 6-2 6-1 6-1 6-1 6-2 6-1 6 0 6-1 6-1 6-2 6-1 6-1 6-2 6-1 6-2 6-1 6-1 6-2 6-2 6-2 6-1 6-2 6-2 6-1 6-2 6-1" stroke="#7f7f7f"/><path d="M0 323l6-2 6 4 6 1 6 18 6 13 6 8 6-13 6 7 6 4 6-11 6 6 6-3 6-4 6-5 6-14 6-6 6 5 6-7 6 1 6-1 6 9 6 12 6-9 6 3 6-7 6 5 6-8 6 12 6 2 6 0 6 3 6-1 6 4 6-9 6 6 6-14 6-7 6-10 6-9 6-2 6-9 6-9 6 1 6-4 6 7 6-10 6 6 6 2 6 5 6-5 6-2 6 3 6 0 6-5 6 3 6 0 6-7 6-3 6 4 6-1 6-10 6-1 6-7 6-11 6 2 6 5 6 1 6-8 6 8 6 2 6 13 6-5 6 5 6 3 6 4 6 3 6-2 6 7 6-1 6 8 6 0 6 1 6-2 6-7 6-7 6 4 6 9 6 6 6-3 6 4 6-1 6-7 6 2 6 5 6-4 6 3 6-4 6-12 6 10 6-6 6 5 6 3 6 7 6-2 6 1 6 6 6 1 6 3 6-2 6 0 6-6 6-8 6 1 6-8 6 5 6-4 6 1 6-7 6-13 6 6 6-3 6 11 6 6 6 5 6-8 6-17 6 4 6 3 6-4 6 3 6-10 6 7 6-4 6 0 6 5 6-5 6-10 6 3 6-6 6-4 6-5 6-4 6 5 6 5 6 0 6-8 6 12 6 6 6-11 6-7 6-2 6-6 6-1 6 3 6 1 6-2 6-8 6 6 6-11 6-17 6 0 6-4 6-4 6-3 6-7 6-8 6 0 6-2 6-3 6-5 6 6 6 2 6 4 6-4 6 6 6 3 6-8 6-2 6-5 6 1 6-4 6-1 6-4 6-6 6 3 6 1 6-1 6-7 6-2 6-3 6-2 6-1 6-3 6-3 6-2 6-5 6-6 6-1 6 0 6 0 6 5 6-6 6-2 6 1 6-5 6 3 6-6 6-3 6 0 6-2 6-2 6 0 6 3 6 4 6-3 6 0 6 0 6 0 6-4 6 0 6 2 6 2 6-5 6-4 6 3 6 0 6-2 6-4 6-3 6-5 6 2 6-1 6-2 6-1 6-3 6-3 6-5 6-5 6-2 6-1 6-3 6-1 6-1 6-1 6-3 6 0 6-1 6 0 6-2 6-1 6-2 6-3 6-1 6-1 6-3 6-2 6-1 6-2 6 0 6-1 6-3 6-2 6-3 6-1 6 1 6-2 6 0 6-3 6-1 6-1 6-2 6-1 6-3 6-2 6-1 6-2 6 0 6-2 6-1 6 0 6-2 6-1 6-2 6-1 6-2 6-2 6-1 6-2 6-2" stroke="#bcbd22"/><path d="M0 323l6-3 6-6 6-12 6-5 6 10 6-15 6 0 6 9 6 2 6 3 6 5 6 0 6-4 6-5 6-2 6-3 6-2 6-6 6-3 6-1 6-3 6-8 6-10 6-9 6-3 6-8 6-6 6 13 6-2 6 3 6-9 6-10 6-2 6 2 6-4 6-2 6 1 6 3 6-1 6 1 6 1 6-11 6 8 6-10 6-5 6-2 6-2 6-1 6-3 6-10 6-1 6 1 6 7 6-4 6 0 6-11 6-4 6-3 6 2 6 4 6-5 6 1 6 1 6-2 6-2 6-2 6 3 6-6 6-6 6-7 6-8 6-1 6 0 6 2 6-10 6 3 6 1 6-8 6-9 6 1 6-3 6-3 6 0 6-1 6-4 6 1 6 1 6 0 6 3 6 5 6-1 6-2 6 2 6-1 6-1 6-1 6-2 6-2 6-3 6-1 6-7 6-3 6-4 6 0 6 0 6 2 6-3 6 1 6 0 6 0 6-1 6 2 6-4 6-2 6-1 6-4 6-2 6-2 6 2 6-1 6 0 6-1 6 3 6 2 6 0 6-2 6-3 6-1 6 0 6-1 6-1 6-2 6 0 6-6 6-1 6-1 6-1 6-3 6-4 6 1 6 1 6-1 6-2 6 0 6-2 6-2 6-4 6-1 6-3 6-1 6-1 6-1 6-1 6-2 6-2 6-2 6-1 6-2 6-1 6-3 6-1 6 0 6-2 6-4 6 0 6-3 6-2 6-1 6-2 6-1 6-2 6-2 6-1 6-1 6-2 6-1 6-2 6-2 6-1 6-2 6-1 6-2 6-1 6-2 6-1 6-2" stroke="#17becf"/><path d="M0 323l6-6 6 14 6-10 6-15 6 6 6-16 6-3 6 6 6-4 6 1 6 8 6-10 6-6 6-7 6 2 6 0 6-8 6-12 6-7 6-7 6-7 6 0 6 4 6-4 6 2 6-3 6 0 6 6 6-3 6 2 6-11 6-3 6-1 6 4 6-3 6-2 6-9 6-7 6 1 6 2 6-1 6-13 6-3 6-7 6 1 6 6 6 1 6-2 6-5 6-6 6-7 6 1 6 0 6-1 6 1 6-1 6-3 6-2 6-3 6 0 6-1 6-4 6 1 6-8 6 6 6-6 6 2 6 0 6 0 6-5 6-6 6 2 6-2 6 4 6 3 6 4 6 0 6 1 6 1 6-2 6-6 6-1 6 2 6 1 6-1 6 0 6-5 6-3 6-2 6-7 6 4 6 0 6 0 6-1 6 0 6 1 6 1 6-5 6-3 6-4 6-4 6-1 6-5 6-3 6-4 6-2 6 1 6-1 6 1 6-6 6-1 6-3 6 1 6-1 6-4 6-2 6-1 6-3 6 0 6 2 6-1 6-2 6-2 6 0 6 0 6-3 6-4 6 0 6-2 6-3 6-1 6-1 6-3 6-1 6 2 6-1 6-1 6 0 6 0 6 1 6-3 6 0 6-3 6-1 6 1 6 2 6-4 6-1 6-1 6 1 6-1 6-2 6-2 6 1 6-2 6-3 6-2 6-2 6-4 6-2 6 0 6 0 6-1 6-1 6-1 6-2 6-3 6-2 6-2 6-1 6 1 6-3 6-2 6-2 6-2 6-1 6-1 6-2 6-1 6-2 6-1 6-1 6-1 6-1 6-1 6-2 6-1 6-2 6-1 6-2 6-2 6-1 6-2 6-1" stroke="#1f77b4"/><path d="M0 323l6-5 6-2 6-3 6 0 6 14 6-7 6 0 6 12 6-1 6-7 6 18 6-3 6 19 6-4 6 21 6-12 6 12 6-3 6-4 6-8 6-7 6-9 6 3 6-9 6-10 6-5 6-6 6 1 6-7 6-1 6-4 6-8 6 1 6-12 6 5 6-1 6-6 6-11 6 2 6-9 6 5 6-5 6 4 6-10 6-2 6-5 6-1 6-11 6 7 6 1 6-2 6-5 6-3 6-3 6 3 6 3 6-1 6 0 6 2 6-1 6-2 6-5 6 7 6-1 6 3 6-3 6 6 6-14 6-9 6-2 6 1 6 0 6-4 6-5 6-11 6 13 6-9 6-8 6-6 6-1 6-3 6-8 6-11 6 2 6-2 6 2 6-2 6 0 6 0 6 1 6 4 6-11 6-4 6 1 6-7 6 4 6-1 6-3 6 1 6 1 6 4 6 8 6 1 6-10 6 3 6 0 6 0 6-2 6-6 6-3 6-1 6-3 6 2 6 2 6-2 6 0 6 3 6 2 6-3 6-4 6 0 6-7 6-7 6 1 6 1 6 1 6-4 6-2 6 5 6-1 6-1 6-3 6 0 6 3 6 2 6-4 6-1 6 1 6 2 6-3 6 2 6-4 6-3 6-3 6-2 6-2 6 3 6-3 6-3 6-6 6-1 6-3 6 1 6-3 6-3 6-3 6-5 6-3 6-3 6-5 6-2 6 0 6 0 6-5 6-3 6-1 6-2 6-1 6-1 6-2 6-4 6-4 6-2 6-4 6-2 6-1 6-1 6-1 6-1 6-2 6-2 6 0 6-2 6-3 6-2 6-2 6-1 6-2 6 0 6-3 6 0 6-1 6-2 6-2 6-2 6-1 6-1 6-1 6-3 6-2 6-2 6-1 6-2 6-2 6-1 6-2" stroke="#ff7f0e"/><path d="M0 323l6 3 6 3 6-2 6 4 6 3 6-1 6-11 6-22 6 2 6 8 6 0 6 3 6-1 6 0 6-8 6 5 6-6 6 3 6-6 6 7 6-14 6-5 6-1 6 12 6 1 6-2 6 13 6-10 6-3 6 5 6 2 6-1 6-16 6 4 6 1 6-11 6-6 6-5 6 5 6-10 6-5 6 0 6 7 6 5 6-12 6 3 6 2 6 5 6-3 6-8 6 5 6 1 6 4 6-2 6-17 6-5 6-6 6-2 6-2 6 6 6 1 6-2 6-4 6-1 6-11 6-4 6-1 6-6 6 5 6-4 6-1 6 2 6-2 6-6 6 1 6 1 6 0 6-2 6-11 6 0 6 2 6-4 6-5 6 4 6 5 6 0 6-3 6-7 6-1 6-3 6-6 6-6 6 1 6 2 6 2 6-5 6-3 6-4 6 1 6-12 6-1 6 1 6-1 6 3 6 3 6-1 6-7 6-5 6 1 6-2 6 0 6-3 6-6 6-4 6-2 6-2 6 1 6-2 6-2 6 4 6-1 6 0 6-2 6-1 6-1 6-3 6-3 6-5 6 4 6-1 6 0 6-4 6-4 6 1 6-3 6 2 6 2 6-2 6 0 6-2 6 1 6-2 6-1 6-1 6-1 6 1 6-3 6-1 6-1 6-2 6 0 6 1 6-1 6-1 6-5 6 1 6 0 6-3 6-2 6-1 6-2 6 0 6-5 6-5 6-1 6-4 6-1 6-3 6-1 6 0 6-2 6-3 6-1 6-3 6-2 6-2 6-3 6-2 6-2 6-2 6-3 6-1 6-1 6-2 6-1 6-2 6 0 6-2 6-2 6-1 6-2 6-1 6-1 6 0 6-2 6-2 6-1 6-1 6-2 6-1 6-2 6-1 6-2 6-1 6-2 6-2 6-1 6-2" stroke="#2ca02c"/><path d="M0 323l6 7 6 9 6 11 6 1 6-5 6 1 6-8 6-5 6 4 6 2 6 4 6 0 6 4 6-1 6 4 6-18 6-2 6 4 6 3 6-11 6 3 6-1 6-14 6-13 6-4 6 3 6 3 6 7 6 7 6 10 6-4 6 3 6-5 6-12 6-4 6-9 6 1 6-8 6 9 6 20 6 3 6-16 6-6 6 2 6-2 6-9 6-6 6-4 6 1 6 2 6 7 6-4 6 5 6 10 6 15 6 0 6-4 6-5 6 2 6-3 6-15 6 14 6-12 6-3 6-1 6 0 6 2 6-1 6 7 6-2 6-9 6 4 6-6 6-8 6 14 6-2 6-1 6-5 6-1 6 4 6 2 6 2 6 14 6 4 6-12 6 9 6 6 6 3 6-6 6 3 6-6 6-14 6-4 6 0 6-12 6 0 6-2 6-20 6-2 6-2 6 0 6-18 6 10 6-5 6 6 6-2 6 6 6-7 6-4 6 0 6-5 6-3 6 1 6-10 6 1 6-7 6 0 6 1 6-13 6 3 6-8 6-5 6 4 6 7 6 4 6 0 6 9 6-5 6 0 6-4 6-3 6-6 6-5 6 4 6-2 6-3 6-7 6 1 6-1 6-1 6 3 6-7 6 4 6 4 6-1 6-4 6 2 6 2 6-9 6-3 6 0 6-4 6-6 6-6 6 6 6-3 6 0 6 5 6 1 6-4 6 0 6 1 6 4 6 5 6-1 6 0 6 1 6 4 6 2 6-4 6 4 6-1 6 0 6-4 6-7 6-5 6 3 6-3 6 0 6 3 6-1 6 2 6 4 6-4 6-6 6-3 6-4 6-5 6-1 6-5 6 2 6-9 6-3 6-1 6 1 6 1 6 1 6 2 6 1 6-5 6 3 6-1 6-3 6-3 6-2 6 5 6 3 6-7 6-8 6-5 6-2 6-1 6-3 6-1 6 0 6 3 6-3 6-8 6-1 6-1 6-3 6 0 6-1 6 1 6-1 6 1 6-2 6 3 6-4 6-3 6 0 6 2 6 1 6-3 6-3 6 2 6-3 6-1 6-3 6 0 6-1 6 0 6-2 6 1 6-4 6-2 6 1 6-1 6-2 6-2 6-2 6-1 6 0 6-1 6 0 6-1 6-3 6-3 6 0 6-3 6-1 6 0 6-3 6-2 6-1 6 0 6-2 6-1 6-3 6-1 6-1 6-1 6-2 6-1 6-3 6-4 6-2 6-1 6-2 6-1 6-2 6-2 6-1 6-2 6-1 6-2 6-1 6-2 6-1 6-2 6-1 6-2 6-2" stroke="#d62728"/><path d="M0 323l6 1 6 2 6 4 6-2 6-7 6-6 6 3 6-5 6-8 6-3 6 15 6 9 6-3 6-6 6-9 6-9 6-21 6 2 6-3 6 7 6-4 6-6 6 6 6 8 6-5 6-1 6-9 6-6 6 7 6-3 6-12 6-1 6 0 6 11 6 1 6 0 6-4 6-6 6-6 6 0 6 0 6-2 6 8 6 12 6 1 6 0 6-11 6-1 6 4 6-3 6 4 6 2 6-9 6-5 6 5 6-2 6 1 6-6 6-5 6-11 6 5 6-9 6 3 6-5 6 3 6 10 6-7 6-1 6 2 6 2 6 2 6-4 6 2 6-2 6-2 6 4 6-5 6 4 6-1 6 2 6-6 6-3 6-3 6 1 6 4 6-8 6-6 6 4 6-14 6-8 6 0 6-1 6-11 6 2 6 6 6 7 6 5 6 7 6-4 6-4 6 1 6 2 6 2 6-7 6 2 6-9 6-4 6-2 6 1 6 0 6 3 6-7 6-5 6 3 6-5 6-3 6 6 6-1 6-2 6 7 6-4 6 1 6 2 6-2 6-3 6-3 6 3 6 0 6-2 6 1 6 1 6 0 6-1 6 1 6 5 6 0 6-4 6 5 6 11 6-8 6-6 6-4 6-6 6-1 6-1 6 5 6 0 6 3 6 4 6-7 6-3 6 0 6 5 6-5 6-2 6 5 6-2 6-3 6 2 6-2 6-8 6 0 6-6 6 1 6-8 6 1 6-6 6 0 6 5 6 3 6-1 6 2 6-10 6-1 6 0 6-2 6 2 6 4 6 2 6-1 6 1 6-4 6-1 6-4 6 2 6-3 6 1 6-2 6 0 6-4 6 1 6-1 6-1 6-2 6-2 6-3 6 1 6 6 6 0 6-3 6-1 6-1 6 2 6-1 6-3 6 0 6-2 6 2 6 4 6-1 6-1 6-5 6 3 6-2 6-2 6-4 6-8 6 1 6 2 6-4 6-2 6-4 6 1 6 0 6-4 6-2 6-4 6-2 6-1 6 0 6-4 6-3 6-1 6 1 6-2 6 0 6-3 6-4 6-1 6-2 6 0 6 0 6 1 6-2 6-2 6-6 6 0 6-4 6-3 6-1 6-1 6-1 6-1 6-2 6-1 6-1 6-2 6-2 6-1 6-3 6-1 6-2 6-1 6-2 6-1 6-3 6 0 6-3 6-2 6-1 6-2 6 0 6-2 6-2 6-3 6-1 6-2 6-1 6-2 6-1 6-2 6-2 6-1 6-2 6-2 6-1" stroke="#9467bd"/><path d="M0 323l6-1 6-2 6-6 6 20 6-3 6-2 6 6 6-4 6-8 6 7 6 0 6 3 6 16 6 6 6-23 6-2 6 0 6 16 6-4 6 0 6 2 6-1 6-2 6 0 6 10 6-7 6 7 6-11 6-3 6-6 6 8 6 12 6-4 6-1 6-12 6-2 6 2 6-2 6 4 6-11 6-9 6-2 6-3 6 0 6-17 6 12 6 4 6 3 6 3 6-15 6 5 6 4 6 6 6-5 6 1 6-9 6-15 6 6 6-10 6 6 6-11 6-7 6-6 6 7 6-4 6-3 6-3 6-1 6-6 6 6 6-5 6-3 6 0 6 7 6-2 6-2 6-6 6 8 6-2 6-13 6-10 6 0 6-16 6 5 6-4 6 1 6-2 6-4 6-11 6-2 6 3 6-2 6 0 6-4 6 1 6-2 6-1 6 1 6-6 6 2 6-4 6 4 6 7 6-5 6 1 6 2 6-4 6-3 6-3 6 1 6-5 6 2 6 0 6-3 6-4 6-6 6 2 6 3 6 2 6 1 6 10 6 0 6-6 6-1 6-1 6-4 6 1 6 1 6-12 6 2 6 0 6-2 6-4 6 1 6-3 6-7 6-1 6-2 6-4 6 0 6-6 6-7 6-3 6 0 6 5 6 1 6-1 6 1 6 0 6 0 6 1 6 2 6-7 6 1 6 6 6-2 6-4 6 0 6-4 6-1 6 2 6 4 6-1 6 3 6-11 6 1 6-2 6-3 6 2 6-2 6 2 6 0 6-2 6-2 6-2 6-1 6 3 6 1 6-4 6-2 6-2 6 1 6-4 6-2 6-2 6-3 6-5 6-2 6-1 6 2 6-4 6-3 6-4 6-4 6-2 6-3 6-3 6-3 6-3 6 0 6-3 6-2 6 2 6 0 6-1 6 0 6-2 6 0 6-2 6-1 6 1 6-3 6-3 6-2 6-3 6-4 6-2 6-2 6-1 6-3 6-2 6-2 6-2 6-2 6-2 6-3 6-2 6-3 6-1 6 0 6-3 6-1 6-2 6-1 6-1 6-2 6-2 6-2 6-1 6-2 6-2" stroke="#8c564b"/><path d="M0 323l6 0 6 2 6-10 6-1 6-7 6 12 6-18 6-3 6 0 6-2 6-4 6 12 6 11 6 8 6-1 6-8 6-4 6 3 6 5 6 11 6-14 6-6 6-7 6 2 6-5 6-3 6 0 6-7 6 1 6-6 6 17 6 12 6-7 6-4 6-1 6 10 6 7 6-4 6 1 6 13 6 0 6 0 6-6 6-3 6-8 6 4 6-5 6 3 6-1 6-5 6 3 6-17 6 1 6 10 6-4 6-1 6-1 6-5 6 3 6-7 6-9 6 4 6-11 6-11 6-1 6 5 6 1 6-1 6 3 6-6 6-1 6-4 6 0 6-2 6 2 6 3 6-12 6-7 6-4 6 1 6 2 6-1 6-3 6-2 6-2 6-11 6 8 6-4 6-9 6 1 6-3 6 2 6 4 6 2 6 1 6 4 6 1 6 2 6-3 6 6 6-2 6 8 6-1 6 5 6-6 6-3 6-5 6 12 6 8 6 7 6-6 6 0 6 1 6 2 6-3 6 3 6 5 6-1 6-7 6 2 6-3 6 5 6-4 6-11 6-4 6 0 6-2 6-1 6 0 6-3 6-5 6-3 6 1 6-3 6 3 6 0 6 6 6-2 6-8 6 1 6-11 6 1 6-2 6 0 6 9 6-16 6-4 6 1 6-7 6-4 6-4 6 2 6-6 6-1 6-1 6 3 6 1 6 3 6 3 6 4 6-5 6 1 6 4 6-2 6 1 6-10 6-5 6-1 6-5 6-7 6-4 6-2 6 5 6 5 6 0 6-2 6 2 6-3 6-3 6 0 6 3 6-6 6 1 6 3 6-4 6-1 6-3 6-2 6-3 6 1 6 0 6 3 6-5 6 3 6 1 6-5 6-3 6-2 6-2 6-3 6-6 6-4 6-3 6 1 6-3 6 1 6-2 6 3 6-7 6 0 6-1 6 2 6-1 6-5 6-4 6-3 6-3 6 0 6-4 6 0 6 0 6-2 6-6 6 1 6-5 6-5 6 1 6 0 6-3 6 1 6-5 6-2 6-2 6 1 6-1 6 0 6-2 6-2 6-3 6-2 6-1 6-1 6-4 6-2 6 0 6-1 6 0 6-3 6-2 6-3 6 0 6-1 6-1 6-1 6-3 6-2 6-2 6-2 6-2 6-1 6-2 6-1 6-1 6-1 6-2 6-1 6-1 6-1 6-3 6-1 6-1 6-2 6-1 6-1 6-2 6-2 6-2 6-1 6-2" stroke="#e377c2"/><path d="M0 323l6-24 6 5 6 4 6-6 6 13 6-9 6-10 6-13 6-6 6-1 6-10 6-3 6 12 6 0 6-2 6 9 6 4 6-3 6 1 6-5 6 3 6-3 6-5 6-6 6 7 6 3 6-5 6-1 6-2 6-3 6 0 6-3 6-7 6-1 6 2 6-10 6 2 6 10 6 0 6-18 6 1 6-14 6 7 6-4 6 2 6 7 6-6 6 10 6-1 6 7 6-7 6-8 6-8 6 5 6-3 6 4 6 6 6-10 6 4 6 14 6-7 6 7 6-2 6 16 6 3 6 6 6 24 6 6 6-4 6 0 6-6 6-5 6 5 6 4 6-16 6-2 6 3 6 4 6 9 6-8 6-1 6 7 6 5 6 6 6 3 6 8 6-2 6 4 6 3 6-3 6-1 6 15 6 6 6-2 6 9 6-3 6-10 6-1 6-2 6 2 6-1 6-10 6 12 6-10 6-12 6-9 6-9 6 5 6-14 6-10 6 2 6 1 6-4 6-1 6-4 6-4 6 1 6 6 6-2 6 6 6 7 6-6 6-3 6 12 6 3 6-4 6 6 6 6 6 1 6 9 6-12 6-8 6-4 6 7 6-10 6 5 6 0 6-15 6-4 6 5 6-4 6 8 6-4 6-6 6-8 6-8 6 7 6-6 6 9 6 8 6-4 6-1 6-12 6 1 6-1 6-6 6 5 6-8 6 12 6 3 6 3 6-4 6 4 6-14 6-1 6-3 6 0 6 6 6-1 6 5 6 0 6-8 6-5 6 0 6-4 6 3 6 11 6-2 6-7 6-5 6-7 6-4 6 12 6 4 6-4 6 0 6-8 6-11 6-4 6-3 6-4 6 4 6 4 6-6 6-3 6 0 6-4 6 2 6-8 6-5 6-6 6 4 6-2 6-8 6 6 6 8 6-4 6-3 6 3 6-1 6-5 6 6 6 2 6-2 6-1 6 2 6 3 6 2 6-6 6-1 6 2 6-7 6 2 6-7 6 5 6-3 6-2 6 0 6 3 6-3 6 2 6-1 6 10 6-5 6-2 6-7 6 2 6-10 6-4 6-1 6-4 6 5 6 8 6-1 6 0 6 0 6 1 6-2 6 1 6-4 6 0 6 4 6-1 6-3 6-6 6-1 6-2 6 5 6 0 6-6 6 2 6-2 6-10 6-1 6 4 6 1 6 2 6-2 6-3 6-3 6-2 6 0 6-3 6 0 6 2 6 4 6-1 6 0 6-5 6-2 6-2 6-7 6-4 6 2 6 3 6 0 6 1 6 3 6-2 6 0 6-4 6 1 6 0 6 1 6-1 6-3 6 1 6-2 6 0 6 2 6 0 6-2 6-5 6-1 6-2 6 1 6-8 6 1 6-1 6-2 6-7 6-3 6 0 6-4 6-4 6-2 6-1 6-2 6-2 6-2 6-4 6-1 6-2 6-2 6-1 6 0 6-2 6-2 6-4 6 0 6 0 6-1 6-2 6-1 6-1 6-3 6 0 6-2 6-3 6-2 6-1 6-1 6-2 6-1 6-3 6-1 6 0 6-2 6-1 6-1 6-1 6-2 6-2 6-1 6-1 6-2 6-2 6-1 6-2 6-2" stroke="#7f7f7f"/><path d="M0 323l6-11 6-6 6 11 6-1 6 8 6-8 6-11 6-2 6 11 6-10 6-10 6-6 6-8 6-3 6-1 6-8 6-7 6 5 6-4 6-2 6 10 6-11 6-3 6-3 6-7 6 9 6-2 6 2 6 2 6-8 6-1 6-8 6 4 6-3 6 1 6 7 6-6 6-6 6-4 6-6 6 5 6-1 6-7 6 4 6-3 6 2 6 2 6-8 6-2 6-3 6 5 6-4 6 3 6-6 6-3 6 1 6-13 6-7 6-2 6 1 6-5 6-8 6-3 6 0 6-1 6 2 6 1 6 5 6-10 6 0 6 0 6 4 6-4 6-6 6 1 6 0 6-2 6 3 6 3 6 3 6-12 6 1 6 2 6-5 6 2 6-1 6-1 6-6 6-3 6 3 6 2 6 5 6-6 6 1 6-5 6-2 6-2 6 0 6-1 6-1 6-3 6 2 6-1 6-1 6-5 6-1 6 3 6 6 6-3 6 1 6 0 6-8 6-7 6 0 6 4 6-6 6 0 6-1 6 2 6-2 6-2 6-1 6 0 6 0 6 2 6-3 6-1 6 0 6-2 6 0 6-3 6 0 6-3 6 0 6-1 6-2 6-3 6 2 6-1 6-5 6-2 6-2 6 2 6 0 6-2 6-3 6 2 6-1 6-2 6-3 6 0 6-1 6-2 6 0 6 2 6-3 6-1 6-1 6-3 6 1 6-1 6-1 6-3 6-3 6-5 6-3 6-1 6-1 6 0 6-1 6-1 6-3 6-3 6-4 6-3 6 0 6 0 6-3 6-2 6-3 6-1 6 0 6-3 6-1 6-3 6-1 6 0 6 0 6-1 6-2 6 0 6-2 6-1 6 0 6-2 6-2 6-2 6 0 6-2 6-2 6-2 6-1 6-1 6-2 6-2 6-1 6-2 6-2 6-1 6-2" stroke="#bcbd22"/><path d="M0 323l6-4 6-9 6-5 6-15 6 8 6 9 6-1 6-5 6-7 6-7 6 6 6-10 6-4 6 3 6-2 6-3 6-2 6 0 6 4 6-7 6-8 6-5 6-7 6 2 6-2 6 0 6 8 6 7 6-4 6 3 6 5 6-1 6 0 6-12 6 9 6-4 6 9 6-2 6 6 6 2 6-22 6-1 6-2 6-7 6-8 6 2 6-6 6-4 6 3 6-6 6-3 6-4 6 3 6-13 6-10 6 1 6 0 6-5 6-14 6-2 6-1 6 5 6-5 6 1 6 3 6 1 6 2 6 6 6-6 6-9 6-9 6 1 6 0 6-6 6 3 6 0 6 4 6-2 6-6 6 1 6 1 6-3 6 0 6-6 6 3 6-1 6 0 6-1 6 0 6-4 6-2 6-9 6-3 6 2 6-1 6-6 6 1 6-2 6 0 6 0 6-3 6 0 6 0 6-4 6-1 6-2 6-4 6 2 6 1 6-4 6-3 6-2 6 5 6 3 6-8 6 5 6-1 6-1 6-2 6 0 6-4 6-4 6-3 6 5 6 2 6 5 6-3 6-3 6 1 6-5 6-4 6 3 6-2 6 0 6-2 6-2 6 2 6-2 6-3 6-3 6 1 6-1 6 1 6-6 6-1 6 1 6 1 6 0 6-1 6-5 6 1 6-2 6-4 6-4 6-1 6 1 6-1 6-3 6-5 6-1 6 0 6-2 6 1 6-2 6-1 6-2 6 0 6-1 6-1 6-1 6-1 6 1 6-3 6-1 6-1 6-1 6-3 6 0 6-2 6 0 6-1 6-2 6-3 6-1 6 0 6-1 6-2 6 1 6-2 6-1 6-1 6-3 6-2 6-1 6-2 6-1 6-2 6-2 6-2 6-1 6-2 6-2 6-1 6-2 6-2 6-1 6-2" stroke="#17becf"/><path d="M0 323l6 6 6-3 6-18 6-4 6-13 6-9 6-1 6-2 6 2 6 5 6 1 6 0 6 2 6-1 6-1 6 8 6-13 6 2 6 9 6-2 6 13 6-12 6-3 6-2 6-10 6-9 6-7 6 1 6-8 6 3 6-12 6 0 6-8 6 9 6 5 6-14 6-3 6 4 6 9 6 0 6 3 6 8 6-1 6 2 6 8 6-15 6 1 6 4 6-5 6-3 6-4 6 11 6-8 6 1 6-9 6-2 6-9 6 3 6-10 6 4 6-7 6 0 6 0 6 2 6 1 6 6 6-6 6 0 6-12 6 0 6 4 6-3 6-1 6-13 6-3 6-7 6-6 6 4 6 1 6 1 6-6 6 4 6-6 6-6 6 11 6-5 6-1 6 2 6-11 6-2 6-7 6 1 6 0 6-1 6-7 6-1 6 1 6 1 6-1 6-2 6 1 6-2 6-5 6-7 6-8 6-1 6 1 6 5 6 3 6-1 6 0 6 0 6 3 6-2 6-6 6 1 6-2 6-5 6-3 6 0 6-2 6-4 6-4 6 1 6-4 6-3 6 6 6-1 6-1 6 4 6-7 6-1 6 0 6-2 6-1 6 0 6-5 6 1 6 1 6-3 6-3 6 0 6-4 6-1 6 1 6-2 6 0 6-6 6 1 6-4 6-4 6-3 6-7 6-1 6-2 6 0 6 0 6 0 6-1 6-1 6 0 6-2 6 0 6-2 6-1 6 0 6-1 6-2 6-2 6 2 6-1 6-1 6-3 6-2 6-1 6-2 6 0 6-1 6-2 6 0 6-2 6-4 6-1 6-1 6-1 6-2 6-2 6-1 6-2 6-2 6-1 6-2 6-1 6-2 6-2 6-2 6-2 6-1 6-2 6-1 6-2 6-1 6-2" stroke="#1f77b4"/><path d="M0 323l6 9 6 0 6-1 6 1 6-18 6-5 6-4 6-3 6 1 6-3 6-14 6 1 6-3 6-1 6 4 6-14 6 5 6-3 6-3 6-5 6 0 6-10 6-9 6-5 6-6 6-1 6 3 6-4 6-8 6-7 6-6 6 0 6 1 6 5 6 9 6 9 6 8 6 12 6-5 6-6 6 8 6-2 6-4 6-5 6-12 6 3 6 0 6-3 6-8 6 3 6-3 6 7 6 5 6-4 6-2 6-6 6-4 6 5 6-4 6-6 6 0 6-1 6-2 6-3 6-1 6-7 6-4 6 2 6-2 6-2 6-2 6 1 6-10 6-4 6-4 6-1 6-7 6-4 6 0 6 1 6-1 6 1 6 4 6 0 6-7 6 2 6 1 6-3 6 1 6-1 6-4 6-4 6-7 6 4 6-9 6-1 6 0 6 1 6 3 6-3 6-4 6-1 6-7 6-1 6-1 6-7 6-2 6 1 6-4 6 2 6-2 6 2 6 4 6 3 6 0 6 1 6 1 6 2 6-2 6-1 6 2 6-3 6 1 6 2 6-3 6 0 6 4 6-3 6 0 6 1 6-1 6-2 6 2 6-4 6-4 6 2 6-1 6 3 6-2 6 2 6-1 6-5 6-5 6-2 6-5 6-2 6-1 6-4 6 5 6-1 6 1 6-1 6 0 6-5 6-1 6 0 6-7 6-3 6-2 6-2 6-3 6-1 6-2 6-4 6-2 6-1 6 0 6-2 6 3 6-3 6-1 6-2 6 2 6-1 6-2 6-3 6-3 6 0 6-3 6-3 6-1 6-2 6-2 6-1 6-2 6-1 6-1 6-1 6-2 6-3 6-1 6-1 6-1 6-1 6-1 6-4 6-1 6-2 6-1 6-2 6-1 6-2 6-2 6-1 6-2 6-1 6-2 6-2 6-1 6-2 6-1" stroke="#ff7f0e"/><path d="M0 323l6-9 6 2 6-3 6 6 6-8 6 3 6-8 6-15 6-7 6-12 6 1 6-2 6 3 6-4 6-11 6 1 6-4 6-1 6-12 6 4 6-4 6-6 6-13 6 12 6-4 6 0 6-1 6-2 6-1 6 3 6 5 6 2 6-3 6 6 6-8 6-4 6-3 6-3 6 8 6-6 6 8 6-2 6-4 6-2 6-1 6 3 6 8 6 4 6 1 6-5 6-7 6 2 6-3 6-4 6-6 6 0 6 7 6-6 6-10 6-5 6-12 6-1 6 5 6 7 6-1 6-6 6 2 6-3 6-5 6 2 6-9 6 5 6-3 6 0 6-1 6 1 6 8 6-2 6-7 6-5 6 0 6-3 6-5 6-8 6 0 6-2 6 4 6-2 6-2 6-3 6 5 6-3 6-2 6-2 6 1 6-3 6 3 6-1 6 4 6-8 6 1 6-1 6-5 6-6 6-5 6 6 6-3 6-4 6 5 6 6 6-2 6 4 6-6 6-3 6-8 6-1 6 3 6-5 6-3 6-2 6-2 6 1 6-4 6 4 6-6 6-2 6 3 6 0 6-2 6-2 6 1 6-2 6-4 6-4 6-1 6-3 6-2 6-2 6-4 6-1 6 1 6-4 6-2 6-1 6-1 6-1 6-4 6-3 6-2 6-5 6-1 6-5 6-2 6 0 6-1 6-1 6-2 6-1 6 1 6-4 6-3 6-2 6-4 6-1 6 0 6-1 6-3 6-2 6-1 6 0 6-1 6-1 6-3 6-2 6 0 6-3 6-2 6-1 6-3 6-1 6-2 6-1 6-2 6-2 6-2 6-1 6-2 6-2 6-2 6-1" stroke="#2ca02c"/><path d="M0 323l6 5 6-1 6-8 6 1 6-13 6 10 6-3 6 3 6-13 6-2 6 6 6 3 6-14 6 10 6 4 6 8 6 3 6 0 6-3 6 6 6-5 6 3 6-14 6 0 6 1 6-7 6 15 6 1 6 0 6-2 6 10 6-8 6 13 6-5 6-15 6 14 6 1 6-6 6-1 6-9 6 4 6 9 6-1 6 9 6 4 6 0 6 11 6 18 6-1 6 0 6 5 6-5 6 5 6-8 6 1 6 14 6-13 6-11 6 6 6 3 6-11 6-3 6-8 6-1 6-9 6 8 6-12 6-12 6 7 6-21 6-6 6-5 6-2 6-1 6 6 6-7 6-2 6-3 6-11 6 12 6-1 6-4 6-3 6-6 6-6 6-7 6 11 6 0 6 1 6 4 6 4 6 0 6 2 6 4 6-3 6 11 6-2 6-2 6 2 6 1 6-6 6 3 6 0 6 6 6-14 6-9 6 2 6-3 6 2 6 0 6-1 6-8 6 2 6-2 6 1 6-7 6 5 6 2 6-2 6-10 6 0 6-10 6-2 6-15 6 5 6-7 6-4 6 1 6 1 6 2 6 9 6 3 6-6 6-4 6-8 6-7 6-10 6 5 6-6 6-1 6 2 6-1 6-1 6-3 6-1 6 1 6-1 6-9 6 5 6 8 6 4 6-1 6-1 6-4 6-11 6 3 6 2 6-4 6 2 6-4 6 1 6-1 6-2 6-1 6 2 6-7 6 2 6-2 6 5 6-3 6-4 6 3 6 6 6 4 6-5 6-7 6-1 6-5 6-7 6 3 6 0 6-1 6-2 6 3 6-6 6 3 6-1 6-5 6 6 6-1 6-4 6-2 6-2 6 2 6 0 6-1 6-3 6-2 6 1 6-1 6-4 6 1 6-2 6 5 6-4 6-1 6 0 6-5 6 3 6-1 6 1 6-7 6 1 6 4 6-2 6 0 6-3 6-1 6-3 6-5 6 0 6-4 6-2 6-1 6-4 6 2 6-3 6 0 6 3 6 0 6 1 6-4 6-3 6-1 6-2 6-3 6-2 6-2 6-2 6-3 6 2 6-3 6-2 6-3 6 0 6-2 6-2 6-1 6 0 6-1 6 1 6-2 6-1 6-2 6-1 6-2 6-4 6-3 6-1 6-3 6-3 6-3 6-1 6-1 6-1 6-3 6-2 6-1 6 0 6-1 6-3 6 1 6-2 6-1 6-2 6 0 6-2 6-2 6-1 6-2 6-2 6-2 6-1 6-2 6-1 6-2 6-3 6-2 6-1 6-1 6-2 6-1 6-1 6-2 6-2 6-1 6-2 6-1 6-2" stroke="#d62728"/><path d="M0 323l6-5 6-1 6-10 6-2 6 16 6-1 6 4 6 4 6 6 6 10 6-1 6 0 6 0 6-15 6 7 6-1 6-5 6 2 6-12 6-4 6-4 6 0 6-2 6 1 6 1 6 0 6 4 6 13 6 10 6-11 6-1 6 12 6-3 6-8 6 0 6-7 6 4 6-14 6-7 6 1 6-2 6 8 6-12 6-4 6-11 6 2 6-9 6 9 6-2 6 0 6 1 6-10 6 10 6-3 6 14 6-6 6 8 6 12 6-9 6-3 6-7 6 4 6 1 6-9 6 4 6 4 6-7 6 4 6-18 6-7 6-2 6 0 6-10 6 4 6-2 6-12 6 8 6 5 6 2 6-3 6 0 6 8 6-10 6 5 6 8 6-8 6-2 6 9 6 9 6 4 6 6 6 7 6 2 6-7 6 4 6 10 6-2 6-10 6 9 6 1 6 0 6 12 6-7 6-3 6-14 6 1 6-3 6 12 6 7 6-12 6 6 6-1 6-14 6 1 6-7 6-5 6 13 6-1 6 3 6-3 6-6 6 4 6 5 6 0 6-6 6-6 6-2 6-7 6-8 6-4 6-7 6-11 6 4 6-3 6-8 6-7 6 3 6-6 6-3 6 6 6-5 6 3 6 7 6 0 6 2 6-10 6-4 6-8 6 3 6-1 6-8 6 4 6 8 6-4 6 3 6-8 6-6 6-1 6-2 6 1 6 2 6-1 6 2 6-1 6 5 6-6 6 5 6-3 6 1 6-5 6-9 6-2 6-1 6 2 6-7 6-1 6 0 6 5 6-1 6 3 6-5 6 3 6 1 6 0 6 1 6-3 6-9 6-4 6 2 6 0 6 3 6-3 6-3 6-3 6-7 6-1 6-2 6 4 6-1 6-4 6 0 6 1 6-6 6-3 6 0 6 6 6 0 6-2 6-4 6-1 6-3 6-8 6-3 6-2 6 2 6-1 6-4 6 2 6-2 6 1 6-2 6-8 6-2 6 0 6-8 6 1 6 0 6-2 6 0 6-1 6-1 6 0 6-1 6-2 6 1 6-5 6 1 6 0 6-1 6-1 6 1 6-2 6-5 6 0 6-3 6 2 6 3 6-2 6-4 6-3 6-1 6-2 6-3 6-5 6-4 6-1 6-3 6-3 6-1 6-3 6-3 6-1 6-1 6-4 6-2 6-1 6-2 6 0 6-3 6-2 6-1 6-1 6-2 6-2 6-3 6-1 6-1 6-2 6-2 6-1 6-1 6-2 6-2 6 0 6-2 6-1 6-1 6-2 6-2 6-2 6-2 6-1 6-2" stroke="#9467bd"/><path d="M0 323l6-4 6 3 6-5 6-24 6-8 6-6 6 4 6 5 6-3 6-3 6 1 6 10 6-15 6 4 6-5 6-4 6 5 6-5 6 16 6-10 6 5 6 1 6 0 6-4 6-6 6 1 6-2 6 7 6 2 6 3 6 0 6 2 6-10 6-10 6-3 6 0 6-11 6 3 6-3 6-2 6-5 6-8 6-6 6 2 6-4 6-6 6-7 6 0 6-3 6 8 6-5 6 4 6 6 6 1 6-6 6-3 6-8 6-7 6 0 6-4 6-1 6 4 6-10 6 7 6-3 6-2 6 2 6-2 6 1 6 2 6-8 6 3 6-2 6 2 6 0 6-2 6 3 6-10 6-7 6 0 6 1 6-1 6 0 6-5 6 2 6 3 6 0 6 6 6-2 6 1 6 5 6 1 6-3 6-7 6-6 6-3 6-4 6-1 6-5 6-7 6 0 6 0 6-2 6 1 6 1 6 2 6 1 6-9 6-6 6 0 6-1 6-2 6-3 6 3 6-1 6 3 6-3 6-2 6 0 6-4 6-5 6-2 6-3 6 0 6 0 6-3 6-2 6-3 6 0 6-8 6 0 6-2 6-3 6 2 6-4 6 0 6-1 6-3 6-2 6-3 6 0 6 0 6-3 6 2 6-2 6-4 6-6 6 4 6 0 6-1 6-2 6 0 6-2 6 0 6-2 6 0 6 1 6-3 6-3 6-4 6 2 6 0 6-5 6-3 6-2 6-1 6-1 6-2 6 0 6-3 6 1 6-1 6-1 6-2 6-1 6 1 6-2 6 1 6-3 6-1 6 0 6 1 6-1 6-2 6-1 6-2 6-1 6-2 6-2 6-3 6 0 6-3 6-1 6-2 6-1 6-2 6-1 6-2 6-2 6-2 6-1 6-1 6-2 6-1 6-2 6-2 6-1 6-2" stroke="#8c564b"/><path d="M0 323l6-12 6 4 6 0 6 5 6 2 6 4 6-13 6 14 6 2 6 3 6-5 6-3 6-9 6 1 6-6 6-3 6 3 6 0 6-1 6 14 6 3 6-1 6 7 6 6 6-3 6-1 6 6 6 6 6 1 6 3 6-6 6-4 6-5 6-17 6-12 6 4 6-6 6-10 6-17 6-8 6 3 6 3 6 9 6 2 6-1 6 4 6 5 6-5 6-3 6-2 6 5 6 1 6 6 6 6 6 0 6 4 6-6 6 9 6-10 6 2 6-12 6-8 6 3 6-2 6-6 6-8 6-11 6 1 6-1 6 6 6-11 6 8 6-6 6-5 6-1 6-12 6 6 6-1 6 4 6-3 6 4 6 8 6-7 6 4 6-1 6 1 6 5 6 1 6 3 6-9 6 7 6-8 6 3 6 2 6-6 6-2 6-7 6 3 6-5 6 3 6 7 6-4 6-4 6-4 6-14 6-2 6-3 6-14 6 3 6-7 6-7 6-5 6-2 6-3 6 3 6 6 6-1 6-1 6 2 6-5 6-1 6-4 6 0 6 5 6-3 6 4 6 1 6-2 6-3 6-9 6 0 6 4 6-3 6-1 6-1 6 3 6 5 6-1 6-4 6-5 6-4 6 2 6-4 6-4 6-4 6 0 6-3 6 0 6 7 6-2 6-10 6 1 6-4 6 1 6-7 6-9 6 3 6-3 6-5 6-2 6-5 6-3 6 3 6-5 6 0 6 0 6 4 6-2 6-5 6-5 6 0 6 1 6 3 6-6 6-4 6-2 6-1 6-1 6 0 6-1 6 1 6-4 6-2 6-1 6-2 6-4 6-2 6 0 6 1 6-5 6-2 6-2 6-2 6 0 6-3 6 0 6-2 6-1 6-3 6 0 6-2 6-3 6-1 6-3 6-3 6-3 6-1 6-1 6-2 6-1 6-3 6-2 6-1 6-2 6-2 6 0 6-2 6-1 6-2 6 0 6-1 6-1 6-2 6-1 6-3 6-1 6-2 6-1 6-2 6-1 6-3 6-1 6-2 6-1 6-2 6-2" stroke="#e377c2"/><path d="M0 323l6-7 6-12 6 1 6 7 6 13 6-5 6 8 6-6 6 7 6-13 6 0 6-11 6-7 6 9 6-14 6 5 6-1 6 0 6-3 6 10 6-2 6-1 6-2 6 0 6-3 6-5 6 2 6 6 6 5 6 3 6-7 6 0 6-1 6-3 6-6 6-11 6 8 6-6 6-4 6-12 6-1 6 4 6 5 6 6 6-3 6 3 6 9 6 12 6-7 6 2 6-2 6-9 6-2 6 10 6 6 6 3 6 3 6-1 6 9 6-7 6 1 6 7 6 4 6-7 6-12 6 11 6 6 6-19 6-9 6-8 6-10 6 8 6 9 6 0 6 10 6-11 6-11 6-2 6 2 6 1 6-7 6-3 6 9 6-4 6 3 6-4 6 3 6-1 6 0 6 2 6 1 6-3 6-5 6 2 6-8 6-7 6-6 6-12 6-8 6 6 6 3 6-3 6-1 6-3 6 7 6-1 6-8 6 4 6 2 6-16 6-2 6-3 6 5 6 6 6 1 6-4 6 0 6-6 6-4 6 6 6 4 6-1 6-8 6-7 6-6 6-2 6-1 6-8 6 3 6-1 6 1 6-8 6-2 6-4 6-1 6 1 6-4 6 5 6-5 6-1 6 2 6-3 6-6 6 2 6-1 6-6 6-2 6 2 6 2 6-8 6 0 6-4 6-7 6 1 6 0 6-4 6 1 6-1 6-3 6-5 6-6 6-2 6-3 6 4 6-1 6 5 6-4 6-3 6 1 6 2 6-3 6-3 6-1 6-4 6-3 6-3 6-1 6-1 6-2 6-3 6 0 6 2 6-3 6 0 6-4 6 0 6 2 6 1 6 0 6-2 6-4 6 0 6-1 6-2 6-2 6-2 6-2 6-2 6-1 6 0 6-1 6 1 6-1 6 2 6-2 6-2 6-3 6-2 6 2 6-2 6 0 6-1 6-2 6 2 6-4 6-3 6-1 6 0 6-1 6-2 6 0 6-2 6-2 6 1 6-1 6 1 6-2 6-4 6 0 6 0 6-2 6 0 6-2 6-2 6-3 6 0 6-3 6-2 6-1 6-2 6-2 6-1 6-3 6 0 6-2 6-1 6-1 6-3 6-2 6-1 6-1 6-1 6-1 6-2 6-2 6-2 6-2 6-1 6-2 6-2 6-1" stroke="#7f7f7f"/><path d="M0 323l6 0 6-3 6-2 6-4 6 5 6-10 6 2 6-2 6 7 6-16 6 6 6 1 6-1 6 2 6-8 6 7 6 12 6-14 6-6 6 14 6-6 6 3 6 7 6-8 6 2 6 4 6-14 6-18 6 8 6 0 6 5 6 3 6 14 6 5 6 17 6-10 6 5 6-1 6-2 6-8 6 5 6 4 6 1 6-9 6 4 6-6 6 4 6 0 6-4 6-6 6-12 6-6 6 4 6 3 6-10 6 5 6-1 6-2 6 8 6 6 6-11 6 4 6-8 6 1 6-2 6-8 6-13 6 2 6-10 6-3 6-11 6-4 6-12 6-1 6-9 6-3 6-2 6-5 6-3 6-4 6 0 6 2 6-4 6-9 6-5 6-1 6-2 6-5 6 6 6 5 6 1 6-7 6-1 6-2 6-1 6 1 6-3 6 1 6-5 6 0 6 4 6-6 6 3 6-1 6-5 6 0 6 4 6-3 6 1 6 2 6-7 6-8 6-3 6 4 6-2 6 2 6-7 6-3 6-1 6-1 6-5 6 2 6 2 6-1 6-5 6 5 6-1 6-3 6-2 6-3 6 1 6 0 6-4 6-10 6 0 6-3 6 0 6 0 6 1 6 1 6 2 6-2 6 0 6-3 6-3 6-3 6 0 6 1 6-3 6 1 6-1 6-5 6-1 6-2 6-2 6-3 6-6 6-6 6-1 6-1 6-3 6-2 6-2 6-4 6 0 6-5 6 0 6-2 6-3 6-4 6-3 6-1 6-1 6-5 6-1 6-2 6 0 6-1 6 1 6-1 6-1 6-3 6 0 6 0 6-2 6 0 6-3 6-1 6-1 6-2 6-1 6-2 6-2 6-1 6-1 6-2 6-1 6-2 6-2 6-2 6-1 6-2 6-2 6-2 6-1 6-2 6-2 6-1 6-2 6-1 6-2" stroke="#bcbd22"/><path d="M0 323l6-7 6-7 6-8 6 6 6 3 6 4 6 12 6-10 6-2 6 2 6 6 6 2 6-3 6 0 6-2 6 25 6 11 6 9 6-14 6-2 6-1 6-1 6-8 6 0 6-5 6-6 6 15 6 4 6 2 6 7 6 0 6 0 6-6 6-7 6-5 6 0 6 5 6-4 6 18 6 13 6 2 6 0 6 6 6-8 6-6 6-6 6 9 6 6 6-6 6-8 6-5 6 0 6-8 6-8 6-5 6-6 6-9 6-12 6-1 6-4 6-3 6 1 6 2 6 5 6 5 6-5 6 0 6 7 6-5 6 1 6 4 6 9 6-5 6 7 6 4 6-8 6 5 6 6 6-2 6-5 6-11 6-14 6-1 6 8 6-11 6 6 6-8 6 4 6-3 6 3 6-11 6-4 6 6 6-13 6 10 6 6 6 5 6 0 6-4 6-10 6 5 6 2 6-12 6-7 6 1 6 6 6-2 6 8 6 9 6-12 6-2 6 3 6-2 6-6 6-9 6-4 6-10 6-1 6-3 6-14 6-3 6-1 6-7 6 5 6-2 6-2 6-8 6 8 6-1 6 6 6 0 6 4 6-7 6 8 6-13 6 6 6 12 6 0 6 7 6 1 6 3 6 4 6-2 6 5 6 2 6 1 6-5 6-3 6 2 6 0 6-4 6 0 6 4 6 1 6-2 6 8 6-8 6-4 6-9 6-10 6 8 6-2 6 4 6-8 6-2 6 11 6-9 6-4 6-11 6-6 6-9 6-2 6-3 6 2 6 1 6 7 6-3 6 2 6 6 6-5 6 2 6-2 6-6 6-7 6 3 6-4 6-9 6-3 6 4 6-1 6-9 6 0 6-5 6-5 6 2 6 1 6-3 6 2 6-8 6 3 6 1 6-6 6-2 6 5 6-7 6-7 6-1 6 0 6 0 6 0 6 2 6-2 6-1 6-5 6-2 6 1 6-4 6-13 6-5 6-3 6-2 6-1 6-3 6-2 6 1 6-2 6-3 6-4 6 0 6-4 6-4 6 0 6-1 6 0 6-2 6-3 6 0 6-3 6-3 6-3 6 0 6 1 6 0 6-1 6-1 6-3 6-1 6-2 6-2 6 0 6-4 6-3 6-2 6-2 6-1 6-2 6 0 6-2 6 1 6-3 6-3 6-3 6-2 6-1 6-2 6-1 6-1 6-2 6-2 6-2 6-2 6-1 6-2 6-1 6-1 6-2 6-2 6-2 6-1 6-2 6-1 6-2 6-1 6-2 6-1" stroke="#17becf"/><path d="M0 323l6 5 6-4 6 3 6-12 6-18 6-5 6 5 6-4 6 1 6-7 6-8 6-1 6-6 6 11 6-10 6 4 6 1 6-9 6 3 6 6 6 4 6 8 6-2 6 1 6-4 6-4 6-2 6 5 6 0 6-2 6-5 6 7 6 6 6 17 6-10 6 5 6-10 6 6 6-19 6 4 6 3 6-10 6 6 6 8 6 1 6 6 6-3 6-10 6 0 6-3 6-1 6-9 6-2 6 2 6 6 6-11 6-12 6-3 6-5 6-10 6-9 6 2 6-7 6 0 6-8 6-3 6-8 6 0 6-4 6-8 6 2 6 4 6-1 6 5 6 0 6-4 6-8 6 0 6-6 6-2 6 6 6 11 6 1 6-1 6 1 6 0 6 6 6-4 6-4 6-8 6 4 6-9 6-3 6 2 6-5 6 1 6 6 6-10 6-10 6-1 6-2 6 4 6-2 6 2 6 2 6-10 6-5 6 0 6-7 6-3 6-7 6 0 6-8 6 0 6-1 6-9 6-1 6-3 6-3 6-2 6 1 6 1 6 2 6 2 6 1 6 4 6-3 6-1 6 2 6-4 6 2 6-2 6 3 6 3 6-2 6-2 6-5 6-3 6-1 6-3 6 0 6-1 6 4 6-1 6-2 6-5 6 0 6-6 6-3 6 0 6 0 6 1 6-5 6-1 6-1 6 1 6 0 6 2 6-1 6 2 6 2 6-2 6 0 6-4 6-1 6-1 6-3 6 0 6-2 6 0 6 1 6 0 6 3 6-1 6-2 6-4 6 0 6-2 6-2 6-3 6 0 6-4 6-4 6-1 6 1 6-2 6-1 6-1 6-1 6-1 6-2 6-1 6-3 6-1 6-2 6-2 6-2 6-3 6-1 6-2 6-1 6-2 6-2 6-1 6-2 6-1 6-2 6-2 6-2 6-1 6-1 6-1 6-2 6-2 6-1 6-2 6-1 6-2 6-1 6-2 6-1 6-2" stroke="#1f77b4"/><path d="M0 323l6 0 6 8 6 1 6 5 6 8 6-1 6 11 6-5 6 10 6 5 6-2 6 15 6-5 6 7 6-13 6 1 6-1 6 14 6-14 6-1 6 2 6-3 6 3 6 5 6 2 6-14 6-5 6 12 6 3 6 9 6-9 6-10 6-10 6-2 6 7 6-6 6 13 6-17 6-2 6-2 6 7 6-4 6-4 6 20 6 13 6-5 6-10 6 2 6 7 6-1 6-2 6 6 6 1 6-9 6-8 6-9 6 3 6 11 6 1 6-4 6-9 6-24 6 0 6-9 6-4 6-19 6 0 6-10 6 0 6 3 6 14 6-9 6-2 6-6 6-3 6-3 6-9 6 0 6-6 6 6 6 5 6-11 6-5 6-3 6-1 6 9 6-6 6 7 6-12 6-14 6-2 6-7 6 3 6 0 6 2 6-8 6 5 6 5 6-2 6-4 6 4 6-8 6 1 6-2 6-2 6 2 6-8 6-3 6-4 6-2 6 2 6-3 6-2 6 0 6-6 6 5 6 5 6-8 6-6 6-8 6-6 6-6 6-2 6 0 6-6 6-1 6 0 6-4 6-1 6-6 6-5 6 0 6 1 6-1 6-4 6-2 6-7 6-4 6-3 6 2 6-1 6-2 6 2 6-3 6-6 6 0 6-7 6-3 6-1 6-6 6-4 6 2 6-3 6 0 6-4 6-3 6 2 6 3 6 0 6-3 6 1 6-3 6-3 6-4 6-2 6-3 6-3 6-2 6-2 6 3 6-2 6-1 6-2 6 1 6-1 6 0 6-5 6-4 6 1 6 1 6 0 6-5 6-2 6-1 6-2 6 0 6-1 6-1 6-2 6-2 6-3 6-2 6-2 6 0 6-4 6-1 6-2 6-3 6-1 6-2 6-2 6-1 6-2 6-1 6-2 6-1 6-2 6-1 6-2 6-2 6-2 6-1 6-2 6-1 6-2 6-1" stroke="#ff7f0e"/><path d="M0 323l6 3 6-5 6-1 6-13 6 1 6-17 6-9 6 4 6 4 6 0 6-1 6-2 6-5 6 4 6-7 6-11 6 1 6 0 6 0 6-3 6-7 6 3 6 0 6-3 6-6 6-1 6-2 6 1 6 5 6-2 6-6 6 1 6 1 6 1 6-3 6-5 6 0 6-6 6 0 6-4 6-1 6 3 6 1 6 5 6 4 6 8 6-2 6-17 6-6 6 0 6-5 6-1 6-3 6-3 6-1 6 3 6-6 6-4 6-5 6-2 6 7 6 0 6-3 6-9 6 0 6-2 6-5 6-1 6-7 6 6 6-3 6 1 6-1 6 6 6 0 6 1 6 0 6 6 6-7 6 0 6 6 6-1 6 4 6-10 6 5 6-6 6 1 6 0 6 1 6-7 6-4 6 12 6 2 6-9 6-1 6 4 6 1 6-2 6-7 6 1 6 2 6-9 6-2 6 4 6-6 6-4 6 2 6-6 6-1 6-5 6 2 6-3 6 6 6-5 6-5 6-7 6 2 6-3 6-2 6-13 6-6 6 3 6 2 6-2 6-2 6-2 6-2 6-2 6 3 6-3 6-1 6-5 6 0 6-2 6-1 6 0 6-2 6-1 6-1 6-2 6-3 6-4 6 0 6 1 6-4 6 1 6-2 6 0 6-1 6-3 6-2 6-2 6-5 6 1 6-1 6-1 6 0 6 0 6-5 6-3 6-1 6 0 6-1 6 1 6 0 6-3 6 0 6-5 6 0 6-2 6-1 6-1 6 1 6-2 6-1 6-3 6 0 6-4 6-1 6-1 6-2 6-2 6-1 6-1 6-2 6 0 6-1 6-2 6-3 6-1 6-1 6-1 6-2 6-1 6-2 6-2 6-1 6-2 6-1 6-2 6-2 6-2 6-2 6-1 6-1 6-2 6-2 6-1" stroke="#2ca02c"/><path d="M0 323l6-13 6-3 6 1 6 3 6-13 6-2 6-13 6 9 6 4 6-9 6 8 6-2 6-1 6-4 6-5 6 0 6 2 6-1 6 7 6-11 6-2 6-10 6 0 6 3 6-7 6 1 6-8 6-10 6 2 6-14 6-4 6 1 6 5 6-8 6-7 6 2 6 5 6 0 6 4 6-3 6 1 6-5 6 4 6-4 6 5 6-4 6 0 6-1 6-11 6-10 6-6 6-4 6-4 6-3 6 4 6-4 6 2 6-5 6-5 6-9 6 4 6-4 6-4 6 10 6-3 6-2 6 4 6 0 6 3 6-5 6-4 6-1 6-3 6-9 6 0 6-3 6 1 6-1 6-3 6 1 6-2 6 5 6-1 6 0 6-8 6-3 6 4 6-5 6 3 6-6 6-4 6-4 6 1 6-2 6 3 6-1 6-2 6-3 6-4 6-6 6-3 6-1 6 0 6 2 6-2 6 2 6-1 6-3 6-5 6-3 6-3 6-1 6-5 6 1 6-1 6-5 6 1 6-5 6-2 6-2 6 0 6-2 6-1 6-3 6 0 6 2 6-4 6-3 6-3 6 0 6-2 6-1 6-3 6-2 6-2 6-1 6-3 6-1 6-1 6 0 6 0 6-1 6 0 6-4 6-1 6-2 6-1 6-2 6-2 6-1 6-2 6-2 6-1 6-1 6-1 6-2 6-1 6-1 6-2 6-2 6-1 6-2 6-1 6 0 6-1 6-2 6-1 6-2 6-1 6-2 6-2 6-1 6-2 6-2 6-1" stroke="#d62728"/><path d="M0 323l6-13 6 3 6 5 6 8 6 5 6 11 6 4 6 0 6-7 6-7 6-3 6 2 6-4 6-7 6-8 6 2 6-6 6 16 6 12 6 8 6-13 6 0 6 15 6-3 6-6 6 20 6-17 6 0 6 7 6-2 6 4 6-18 6 0 6-2 6 2 6-7 6 5 6 8 6-10 6-2 6-9 6 6 6 10 6 6 6-15 6 0 6 7 6 0 6 6 6-1 6 1 6-19 6 7 6 2 6 1 6 1 6 4 6-9 6-30 6 16 6 1 6 7 6 5 6-14 6-2 6 4 6-9 6 2 6-3 6 5 6 9 6-10 6-3 6-14 6-1 6 5 6 8 6 3 6-1 6 16 6 8 6 12 6-16 6 6 6-1 6 11 6 12 6-12 6 12 6 13 6-1 6-1 6-2 6 0 6-8 6 6 6-4 6 12 6-9 6 2 6-4 6-1 6-9 6-28 6 8 6-9 6 5 6 11 6-12 6-5 6 2 6 10 6-3 6 5 6 4 6-1 6-2 6 9 6 12 6-7 6 12 6 7 6 1 6 0 6 8 6 1 6 9 6-2 6-3 6 2 6-14 6 11 6-15 6-17 6-11 6-11 6-1 6 3 6 19 6-3 6-3 6-4 6 0 6 6 6-14 6-8 6-12 6-9 6-13 6-1 6 7 6 5 6 1 6-1 6 2 6-7 6 5 6-4 6 9 6 5 6 4 6-6 6 5 6-3 6 1 6 13 6-18 6 2 6-8 6-3 6 5 6 5 6 2 6-12 6-6 6 9 6 0 6 10 6-1 6-2 6-6 6-2 6-7 6-6 6 0 6-3 6-7 6 1 6 3 6-8 6 9 6 1 6 6 6 6 6 0 6 3 6 9 6 2 6-2 6-2 6-11 6-1 6-6 6-1 6 2 6-1 6 9 6 6 6 5 6-2 6-12 6-2 6 9 6-2 6 4 6-1 6-7 6-16 6-7 6 2 6 4 6 1 6 6 6-5 6 2 6 0 6-5 6 7 6-2 6 6 6-3 6 6 6 11 6 2 6 2 6-9 6-10 6-8 6-3 6 3 6 4 6 14 6-2 6 6 6-3 6-2 6 1 6 3 6 6 6-2 6-5 6-5 6 0 6-12 6-8 6 0 6 2 6 0 6 0 6-15 6-6 6-10 6-2 6 2 6 4 6 0 6-3 6-2 6-6 6-1 6 6 6-1 6-1 6-2 6-6 6 4 6-8 6-2 6 1 6 3 6-6 6 4 6-8 6 5 6-4 6-4 6-12 6-3 6 3 6-6 6 1 6-4 6-1 6 0 6-6 6 0 6 2 6 3 6-1 6-8 6 0 6 2 6-5 6-1 6 0 6-2 6-1 6-4 6-2 6 3 6 10 6-1 6-4 6-7 6 4 6-6 6-3 6 4 6 5 6-3 6 0 6-3 6-8 6-5 6-2 6 5 6 1 6-2 6-3 6 5 6 1 6 3 6 1 6 4 6 1 6-7 6 1 6-5 6 1 6-2 6-8 6 0 6-1 6-5 6-2 6 2 6-3 6-3 6-9 6 0 6-4 6 8 6-4 6 1 6 3 6-3 6-1 6 2 6-2 6-9" stroke="#9467bd"/><path d="M0 323l6-9 6-3 6 5 6 6 6-5 6 4 6 6 6-5 6-1 6 8 6-5 6-5 6 5 6 3 6 9 6-6 6-3 6-5 6-5 6 6 6 1 6-14 6-8 6 0 6-4 6-7 6-4 6 2 6 0 6 0 6 1 6-1 6 12 6 8 6-8 6-8 6-13 6-8 6 6 6 5 6-5 6-13 6 5 6-1 6 1 6 1 6-1 6 24 6-7 6 6 6-2 6 2 6-4 6-15 6-3 6-7 6-6 6-2 6-7 6 0 6 11 6 3 6 7 6-2 6 3 6-2 6 2 6-9 6 2 6 2 6-2 6-3 6-4 6-4 6-5 6-10 6 7 6 3 6 6 6-5 6 6 6 15 6-4 6 3 6 3 6-7 6-1 6 2 6 2 6-2 6-8 6-9 6-3 6-8 6-4 6 3 6 5 6-10 6-1 6-8 6 1 6 0 6-3 6-9 6 4 6 0 6-5 6 0 6 1 6 5 6-3 6 7 6 3 6-6 6-3 6-7 6 5 6 14 6 2 6-3 6-5 6-1 6 0 6 0 6-3 6-9 6 3 6-8 6-7 6-2 6-1 6-5 6-5 6-2 6 1 6-4 6 1 6 5 6-6 6-4 6 1 6 2 6 7 6-2 6 1 6 2 6 4 6-4 6 0 6 3 6-3 6 2 6 1 6-4 6-5 6-1 6-7 6-1 6 5 6 1 6 1 6-7 6 0 6 1 6 2 6 3 6-5 6 3 6 5 6-5 6-8 6-3 6-2 6-9 6-2 6-3 6-4 6 5 6 1 6-6 6-1 6-8 6 0 6-4 6-1 6-2 6-3 6-3 6 2 6-2 6 4 6 3 6-5 6 1 6 1 6 0 6-1 6-1 6 5 6-2 6-4 6 1 6-2 6-3 6-2 6 0 6-1 6-2 6 1 6-2 6-1 6-6 6-3 6-2 6-3 6-1 6 1 6-4 6-4 6 2 6-2 6-6 6 0 6-1 6-3 6-1 6 1 6-4 6-2 6-3 6-1 6-5 6-2 6-4 6-1 6 0 6-2 6-1 6-2 6-1 6-2 6-1 6 0 6-1 6-1 6-2 6-1 6 0 6-3 6-2 6-2 6-1 6 0 6 0 6-2 6-2 6-3 6-2 6-1 6-1 6-2 6-1 6-1 6-2 6-2 6-1 6-2 6-2 6-2 6-1 6-2 6-2 6-1 6-2" stroke="#8c564b"/><path d="M0 323l6-7 6 1 6 4 6-8 6 4 6 1 6-10 6-11 6 2 6-1 6 1 6-6 6-5 6 8 6-5 6-8 6-2 6 1 6-8 6 4 6-13 6 0 6 1 6-2 6-8 6-9 6 4 6 9 6-5 6-6 6 0 6-6 6 0 6-7 6 10 6 2 6-12 6 7 6 3 6-2 6-6 6 5 6-1 6 0 6 9 6 4 6 11 6-14 6 5 6 0 6-8 6-2 6 3 6-4 6-7 6 12 6 1 6 2 6-2 6 3 6 0 6 12 6-5 6 1 6-3 6-6 6 1 6-17 6-1 6-5 6-12 6-6 6 3 6 7 6-2 6-4 6-5 6-5 6 1 6-9 6-4 6 2 6-4 6-9 6-8 6-3 6-6 6 1 6 5 6-7 6-9 6 1 6 5 6-2 6-4 6 4 6 0 6-4 6-2 6 0 6 1 6 2 6 1 6 3 6 0 6-5 6 0 6-2 6 2 6 4 6 1 6-3 6-7 6-5 6 3 6 1 6-4 6 0 6-1 6-2 6 2 6-1 6 2 6-2 6 1 6 6 6 0 6 2 6 11 6 1 6-2 6-1 6-4 6 0 6-4 6-5 6 2 6 0 6-5 6-4 6 0 6 3 6 1 6-6 6-8 6 1 6 0 6-2 6 0 6 5 6-4 6-1 6 0 6 2 6-1 6-5 6-4 6-2 6-2 6-3 6-4 6-4 6-5 6-8 6-5 6 0 6 0 6 0 6-1 6-1 6 0 6-1 6 1 6 0 6-1 6-3 6-2 6-1 6-3 6 0 6-3 6 0 6 1 6-1 6 0 6 0 6-1 6-1 6 0 6-3 6-3 6 0 6 0 6-1 6-1 6-1 6 0 6-3 6-4 6 1 6-5 6-2 6-1 6-1 6 0 6-1 6-3 6 0 6-2 6-3 6-1 6-2 6-2 6-2 6-2 6-1 6-1 6-1 6 0 6-1 6-3 6-1 6-1 6-2 6-2 6-2 6-1 6-2 6-1 6-1 6-1 6-1 6-2 6-2 6-1 6-2 6-1 6-2" stroke="#e377c2"/><path d="M0 323l6 0 6 2 6-6 6 8 6 3 6 7 6 10 6 3 6-4 6 0 6-2 6 1 6 3 6-5 6 4 6-3 6 4 6 2 6 2 6 2 6 1 6 0 6-4 6 2 6 11 6 11 6 9 6 6 6-1 6 9 6 3 6 2 6-2 6-2 6-3 6-2 6-7 6-3 6 8 6-2 6-3 6 6 6 5 6-1 6 2 6 7 6 4 6 3 6 10 6 0 6-3 6-6 6 3 6-12 6-7 6-5 6-1 6-1 6 3 6-6 6 4 6 0 6-2 6 4 6-3 6-8 6 0 6-5 6-2 6 3 6 3 6 7 6 1 6-5 6-2 6-3 6-4 6 3 6-1 6-7 6 4 6 1 6 2 6 2 6 4 6 1 6 7 6 3 6 3 6 3 6-5 6 0 6 0 6 3 6-3 6 10 6 3 6-3 6-5 6 2 6 2 6 0 6 3 6-2 6 2 6-3 6 0 6 4 6 12 6-4 6-2 6-2 6 6 6-2 6 0 6 2 6-2 6-2 6 0 6-7 6-3 6 0 6 4 6 2 6-6 6 1 6 6 6 5 6 3 6-1 6 6 6 0 6-2 6-1 6 10 6 4 6 9 6 0 6-3 6-12 6-9 6 3 6 4 6-3 6 0 6 1 6 6 6-3 6-8 6-1 6 1 6 1 6 7 6 2 6 5 6-5 6 4 6 11 6 4 6 2 6-7 6 0 6-12 6-9 6-7 6-7 6-12 6-9 6-11 6 2 6 0 6-3 6 1 6 5 6-2 6 0 6 4 6-3 6 2 6-3 6 6 6 6 6 5 6-5 6-1 6-4 6-3 6 2 6-10 6 1 6-1 6 5 6 0 6-3 6 1 6 2 6 0 6 1 6-3 6-9 6 3 6 2 6-1 6 0 6 3 6-3 6-4 6-2 6 4 6-6 6 3 6-3 6-5 6-2 6-6 6-11 6-8 6-2 6-2 6-6 6-3 6-2 6-6 6-3 6-4 6-7 6-5 6-4 6 1 6-1 6 0 6 5 6 2 6 4 6 6 6 3 6 9 6-1 6 4 6 0 6 6 6 5 6-8 6-4 6 2 6 2 6 1 6-1 6 1 6 2 6-1 6 3 6-8 6 2 6-4 6 4 6-1 6-3 6 1 6-3 6-4 6-5 6 0 6-3 6-2 6-6 6-1 6-5 6-6 6-3 6-2 6-4 6-3 6-4 6-3 6-6 6 0 6-4 6-1 6-5 6-1 6-2 6-4 6 3 6-1 6 0 6-1 6-7 6-5 6-3 6 18 6 19 6 18 6 13 6-3 6-9 6 0 6-5 6 3 6 3 6 5 6 0 6-1 6 1 6-3 6 1 6 10 6 1 6-3 6-10 6-4 6-7 6-5 6-4 6 0 6-4 6-5 6-8 6-4 6-6 6 1 6-2 6 3 6-7 6-3 6 1 6-3 6-4 6-2 6-4 6-1 6 5 6 2 6-3 6-3 6-2 6 2 6-3 6-2 6 1 6 3 6 0 6-1 6-3 6 0 6-5 6 3 6 0 6 2 6 6 6 2 6-3 6 2 6 3 6-2 6-3 6-1 6-4 6 4 6-6" stroke="#7f7f7f"/><path d="M0 323l6-4 6 1 6-17 6-5 6 2 6 4 6-1 6-1 6 5 6 3 6 0 6-6 6 0 6 1 6 5 6 3 6-17 6-5 6-3 6 10 6-5 6 11 6-7 6 0 6-8 6 1 6-2 6-15 6 0 6-2 6 1 6-7 6 11 6-6 6-3 6 1 6-10 6-1 6-1 6 1 6-2 6-7 6 4 6 14 6-10 6-5 6-2 6-1 6 2 6 3 6-6 6 5 6 0 6-1 6-3 6-1 6-2 6 1 6-2 6 12 6-6 6-8 6 4 6-4 6-2 6-2 6-5 6-3 6 9 6 10 6 0 6 4 6 6 6-7 6 4 6 2 6 4 6 8 6-5 6-3 6-1 6 10 6-1 6 2 6 10 6-5 6 4 6 10 6 5 6-11 6 6 6-13 6 11 6-18 6 1 6-10 6-5 6-8 6-3 6 12 6 3 6-5 6 3 6 7 6-2 6-5 6-14 6 2 6-7 6 1 6-8 6-1 6-2 6-1 6 0 6 5 6-6 6 1 6 3 6 7 6 1 6-2 6-6 6-3 6 4 6-7 6 3 6 6 6 1 6-15 6 3 6-6 6-2 6 6 6-1 6 2 6-2 6 1 6 3 6-10 6 5 6-13 6 4 6-3 6 2 6-7 6 3 6 1 6 1 6 3 6-2 6-6 6 4 6 0 6 3 6 0 6-7 6-3 6-6 6 6 6 10 6 3 6-4 6-8 6 0 6 2 6 1 6 6 6 1 6-6 6 6 6 0 6-10 6-6 6-5 6-1 6 5 6-4 6-1 6-3 6 3 6 1 6-5 6-3 6 4 6-4 6-3 6 5 6 2 6 2 6-9 6-1 6 0 6 4 6-1 6-4 6-3 6-3 6-8 6-7 6 2 6 2 6 3 6 3 6-1 6 0 6 4 6-8 6-4 6 1 6-4 6-3 6-1 6 2 6 1 6-3 6-3 6-4 6-7 6-1 6 3 6 0 6 1 6 0 6 1 6 1 6-1 6 1 6-4 6-2 6-1 6-3 6-2 6-1 6-8 6-2 6-3 6-3 6-7 6-5 6-5 6-4 6-4 6-4 6 2 6 1 6-4 6-1 6-4 6-3 6-3 6-1 6 0 6 0 6-2 6-1 6-1 6-1 6 0 6-3 6-2 6-1 6-5 6-3 6-1 6-1 6-1 6-3 6-2 6-3 6-3 6-4 6-1 6 0 6-2 6-1 6-1 6-1 6-1 6-2 6-1 6-1 6-1 6-2 6-1 6 0 6-2 6-1 6-2 6-1 6-1 6-2 6-1 6-2 6-1 6-2 6-2" stroke="#bcbd22"/><path d="M0 323l6 6 6-17 6 1 6-17 6-9 6-9 6-7 6 7 6-3 6 5 6-10 6-7 6 5 6-9 6-13 6 1 6 4 6-7 6-10 6-11 6-7 6-2 6 4 6 4 6 0 6 4 6 5 6 6 6 8 6-9 6-4 6 0 6-6 6-5 6-2 6 4 6-5 6-1 6 0 6-6 6-3 6 5 6-1 6-11 6 10 6 6 6-5 6 1 6-5 6-5 6 2 6-6 6-7 6-7 6-4 6-4 6-5 6 0 6 1 6 1 6-1 6 10 6-7 6-2 6 8 6-1 6-1 6-7 6-1 6-2 6-4 6 0 6-10 6-1 6-4 6 4 6 0 6-4 6-3 6-5 6 1 6-5 6-5 6 3 6-6 6 1 6 7 6 0 6-4 6-3 6 2 6-3 6 2 6-5 6-2 6 3 6 3 6-2 6 0 6 3 6 1 6-9 6-1 6-3 6-1 6-2 6 0 6-4 6-5 6-1 6 3 6-1 6-1 6-1 6 0 6-7 6-4 6-3 6 0 6-2 6-1 6-1 6-1 6-1 6-2 6-2 6 0 6-1 6 2 6-3 6-1 6-1 6-6 6 0 6-1 6-4 6-2 6-2 6 0 6-1 6 0 6 1 6-1 6-4 6-4 6-1 6-1 6-2 6-2 6-1 6-3 6-1 6-1 6-2 6-2 6 0 6-2 6-2 6-2 6-2 6-2 6-1 6 0 6-2 6-1 6-1 6-3 6-2 6-1 6-2 6-2 6-2 6-2 6-1 6-2 6-1 6-2 6-2 6-1" stroke="#17becf"/></g></g><g><path d="M 38.952 114.228 L 38.952 27.072 " style="fill: none; stroke: #000000; stroke-width: 0.8; stroke-linejoin: miter; stroke-linecap: square"/></g><g><path d="M 38.952 114.228 L 436.968 114.228 " style="fill: none; stroke: #000000; stroke-width: 0.8; stroke-linejoin: miter; stroke-linecap: square"/></g><g><text style="font-size: 12px; font-family: 'DejaVu Sans', 'Bitstream Vera Sans', 'Computer Modern Sans Serif', 'Lucida Grande', 'Verdana', 'Geneva', 'Lucid', 'Arial', 'Helvetica', 'Avant Garde', sans-serif; text-anchor: middle" x="237.96" y="21.072" transform="translate(0.000 -0.360) rotate(-0 237.96 21.072)">Projected value of capital over 30 years</text></g></g><g><g><path d="M 38.952 259.2 L 436.968 259.2 L 436.968 171.9 L 38.952 171.9 z " style="fill: #ffffff"/></g><g><g><g><path d="M 38.952 259.2 L 38.952 171.9 " clip-path="url(#ap429e85f748)" style="fill: none; stroke: #b0b0b0; stroke-width: 0.8; stroke-linecap: square"/></g><g><g><path d="M 0 0 L 0 3.5 " transform="translate(38.952 259.2)" style="stroke: #000000; stroke-width: 0.8"/></g></g><g><text style="font-size: 10px; font-family: 'DejaVu Sans', 'Bitstream Vera Sans', 'Computer Modern Sans Serif', 'Lucida Grande', 'Verdana', 'Geneva', 'Lucid', 'Arial', 'Helvetica', 'Avant Garde', sans-serif; text-anchor: middle" x="38.952" y="273.798437" transform="translate(0.360 0.504) rotate(-0 38.952 273.798437)">0</text></g></g><g><g><path d="M 94.232 259.2 L 94.232 171.9 " clip-path="url(#ap429e85f748)" style="fill: none; stroke: #b0b0b0; stroke-width: 0.8; stroke-linecap: square"/></g><g><g><path d="M 0 0 L 0 3.5 " transform="translate(94.232 259.2)" style="stroke: #000000; stroke-width: 0.8"/></g></g><g><text style="font-size: 10px; font-family: 'DejaVu Sans', 'Bitstream Vera Sans', 'Computer Modern Sans Serif', 'Lucida Grande', 'Verdana', 'Geneva', 'Lucid', 'Arial', 'Helvetica', 'Avant Garde', sans-serif; text-anchor: middle" x="94.232" y="273.798437" transform="translate(0.360 0.504) rotate(-0 94.232 273.798437)">50</text></g></g><g><g><path d="M 149.512 259.2 L 149.512 171.9 " clip-path="url(#ap429e85f748)" style="fill: none; stroke: #b0b0b0; stroke-width: 0.8; stroke-linecap: square"/></g><g><g><path d="M 0 0 L 0 3.5 " transform="translate(149.512 259.2)" style="stroke: #000000; stroke-width: 0.8"/></g></g><g><text style="font-size: 10px; font-family: 'DejaVu Sans', 'Bitstream Vera Sans', 'Computer Modern Sans Serif', 'Lucida Grande', 'Verdana', 'Geneva', 'Lucid', 'Arial', 'Helvetica', 'Avant Garde', sans-serif; text-anchor: middle" x="149.512" y="273.798437" transform="translate(0.360 0.504) rotate(-0 149.512 273.798437)">100</text></g></g><g><g><path d="M 204.792 259.2 L 204.792 171.9 " clip-path="url(#ap429e85f748)" style="fill: none; stroke: #b0b0b0; stroke-width: 0.8; stroke-linecap: square"/></g><g><g><path d="M 0 0 L 0 3.5 " transform="translate(204.792 259.2)" style="stroke: #000000; stroke-width: 0.8"/></g></g><g><text style="font-size: 10px; font-family: 'DejaVu Sans', 'Bitstream Vera Sans', 'Computer Modern Sans Serif', 'Lucida Grande', 'Verdana', 'Geneva', 'Lucid', 'Arial', 'Helvetica', 'Avant Garde', sans-serif; text-anchor: middle" x="204.792" y="273.798437" transform="translate(0.360 0.504) rotate(-0 204.792 273.798437)">150</text></g></g><g><g><path d="M 260.072 259.2 L 260.072 171.9 " clip-path="url(#ap429e85f748)" style="fill: none; stroke: #b0b0b0; stroke-width: 0.8; stroke-linecap: square"/></g><g><g><path d="M 0 0 L 0 3.5 " transform="translate(260.072 259.2)" style="stroke: #000000; stroke-width: 0.8"/></g></g><g><text style="font-size: 10px; font-family: 'DejaVu Sans', 'Bitstream Vera Sans', 'Computer Modern Sans Serif', 'Lucida Grande', 'Verdana', 'Geneva', 'Lucid', 'Arial', 'Helvetica', 'Avant Garde', sans-serif; text-anchor: middle" x="260.072" y="273.798437" transform="translate(0.360 0.504) rotate(-0 260.072 273.798437)">200</text></g></g><g><g><path d="M 315.352 259.2 L 315.352 171.9 " clip-path="url(#ap429e85f748)" style="fill: none; stroke: #b0b0b0; stroke-width: 0.8; stroke-linecap: square"/></g><g><g><path d="M 0 0 L 0 3.5 " transform="translate(315.352 259.2)" style="stroke: #000000; stroke-width: 0.8"/></g></g><g><text style="font-size: 10px; font-family: 'DejaVu Sans', 'Bitstream Vera Sans', 'Computer Modern Sans Serif', 'Lucida Grande', 'Verdana', 'Geneva', 'Lucid', 'Arial', 'Helvetica', 'Avant Garde', sans-serif; text-anchor: middle" x="315.352" y="273.798437" transform="translate(0.360 0.504) rotate(-0 315.352 273.798437)">250</text></g></g><g><g><path d="M 370.632 259.2 L 370.632 171.9 " clip-path="url(#ap429e85f748)" style="fill: none; stroke: #b0b0b0; stroke-width: 0.8; stroke-linecap: square"/></g><g><g><path d="M 0 0 L 0 3.5 " transform="translate(370.632 259.2)" style="stroke: #000000; stroke-width: 0.8"/></g></g><g><text style="font-size: 10px; font-family: 'DejaVu Sans', 'Bitstream Vera Sans', 'Computer Modern Sans Serif', 'Lucida Grande', 'Verdana', 'Geneva', 'Lucid', 'Arial', 'Helvetica', 'Avant Garde', sans-serif; text-anchor: middle" x="370.632" y="273.798437" transform="translate(0.360 0.504) rotate(-0 370.632 273.798437)">300</text></g></g><g><g><path d="M 425.912 259.2 L 425.912 171.9 " clip-path="url(#ap429e85f748)" style="fill: none; stroke: #b0b0b0; stroke-width: 0.8; stroke-linecap: square"/></g><g><g><path d="M 0 0 L 0 3.5 " transform="translate(425.912 259.2)" style="stroke: #000000; stroke-width: 0.8"/></g></g><g><text style="font-size: 10px; font-family: 'DejaVu Sans', 'Bitstream Vera Sans', 'Computer Modern Sans Serif', 'Lucida Grande', 'Verdana', 'Geneva', 'Lucid', 'Arial', 'Helvetica', 'Avant Garde', sans-serif; text-anchor: middle" x="425.912" y="273.798437" transform="translate(0.360 0.504) rotate(-0 425.912 273.798437)">350</text></g></g><g><text style="font-size: 10px; font-family: 'DejaVu Sans', 'Bitstream Vera Sans', 'Computer Modern Sans Serif', 'Lucida Grande', 'Verdana', 'Geneva', 'Lucid', 'Arial', 'Helvetica', 'Avant Garde', sans-serif; text-anchor: middle" x="237.96" y="287.476562" transform="translate(0.396 0.864) rotate(-0 237.96 287.476562)">Months</text></g></g><g><g><g><path d="M 38.952 259.2 L 436.968 259.2 " clip-path="url(#ap429e85f748)" style="fill: none; stroke: #b0b0b0; stroke-width: 0.8; stroke-linecap: square"/></g><g><g><path d="M 0 0 L -3.5 0 " transform="translate(38.952 259.2)" style="stroke: #000000; stroke-width: 0.8"/></g></g><g><text style="font-size: 10px; font-family: 'DejaVu Sans', 'Bitstream Vera Sans', 'Computer Modern Sans Serif', 'Lucida Grande', 'Verdana', 'Geneva', 'Lucid', 'Arial', 'Helvetica', 'Avant Garde', sans-serif; text-anchor: end" x="31.952" y="262.999219" transform="translate(0.396 0.144) rotate(-0 31.952 262.999219)">0</text></g></g><g><g><path d="M 38.952 237.375 L 436.968 237.375 " clip-path="url(#ap429e85f748)" style="fill: none; stroke: #b0b0b0; stroke-width: 0.8; stroke-linecap: square"/></g><g><g><path d="M 0 0 L -3.5 0 " transform="translate(38.952 237.375)" style="stroke: #000000; stroke-width: 0.8"/></g></g><g><text style="font-size: 10px; font-family: 'DejaVu Sans', 'Bitstream Vera Sans', 'Computer Modern Sans Serif', 'Lucida Grande', 'Verdana', 'Geneva', 'Lucid', 'Arial', 'Helvetica', 'Avant Garde', sans-serif; text-anchor: end" x="31.952" y="241.174219" transform="translate(0.396 0.144) rotate(-0 31.952 241.174219)">25</text></g></g><g><g><path d="M 38.952 215.55 L 436.968 215.55 " clip-path="url(#ap429e85f748)" style="fill: none; stroke: #b0b0b0; stroke-width: 0.8; stroke-linecap: square"/></g><g><g><path d="M 0 0 L -3.5 0 " transform="translate(38.952 215.55)" style="stroke: #000000; stroke-width: 0.8"/></g></g><g><text style="font-size: 10px; font-family: 'DejaVu Sans', 'Bitstream Vera Sans', 'Computer Modern Sans Serif', 'Lucida Grande', 'Verdana', 'Geneva', 'Lucid', 'Arial', 'Helvetica', 'Avant Garde', sans-serif; text-anchor: end" x="31.952" y="219.349219" transform="translate(0.396 0.144) rotate(-0 31.952 219.349219)">50</text></g></g><g><g><path d="M 38.952 193.725 L 436.968 193.725 " clip-path="url(#ap429e85f748)" style="fill: none; stroke: #b0b0b0; stroke-width: 0.8; stroke-linecap: square"/></g><g><g><path d="M 0 0 L -3.5 0 " transform="translate(38.952 193.725)" style="stroke: #000000; stroke-width: 0.8"/></g></g><g><text style="font-size: 10px; font-family: 'DejaVu Sans', 'Bitstream Vera Sans', 'Computer Modern Sans Serif', 'Lucida Grande', 'Verdana', 'Geneva', 'Lucid', 'Arial', 'Helvetica', 'Avant Garde', sans-serif; text-anchor: end" x="31.952" y="197.524219" transform="translate(0.396 0.144) rotate(-0 31.952 197.524219)">75</text></g></g><g><g><path d="M 38.952 171.9 L 436.968 171.9 " clip-path="url(#ap429e85f748)" style="fill: none; stroke: #b0b0b0; stroke-width: 0.8; stroke-linecap: square"/></g><g><g><path d="M 0 0 L -3.5 0 " transform="translate(38.952 171.9)" style="stroke: #000000; stroke-width: 0.8"/></g></g><g><text style="font-size: 10px; font-family: 'DejaVu Sans', 'Bitstream Vera Sans', 'Computer Modern Sans Serif', 'Lucida Grande', 'Verdana', 'Geneva', 'Lucid', 'Arial', 'Helvetica', 'Avant Garde', sans-serif; text-anchor: end" x="31.952" y="175.699219" transform="translate(0.396 0.144) rotate(-0 31.952 175.699219)">100</text></g></g></g><g><path d="M 38.952 171.9 L 209.2144 171.9 L 210.32 172.773 L 221.376 172.773 L 222.4816 173.646 L 223.5872 173.646 L 224.6928 174.519 L 230.2208 174.519 L 231.3264 175.392 L 232.432 175.392 L 233.5376 177.138 L 236.8544 177.138 L 237.96 178.011 L 241.2768 178.011 L 242.3824 178.884 L 244.5936 178.884 L 245.6992 179.757 L 247.9104 179.757 L 250.1216 181.503 L 253.4384 181.503 L 261.1776 187.614 L 263.3888 187.614 L 264.4944 189.36 L 265.6 189.36 L 268.9168 191.979 L 270.0224 194.598 L 271.128 194.598 L 272.2336 195.471 L 273.3392 197.217 L 277.7616 197.217 L 278.8672 198.09 L 279.9728 198.09 L 281.0784 198.963 L 283.2896 198.963 L 285.5008 200.709 L 286.6064 200.709 L 287.712 201.582 L 288.8176 201.582 L 289.9232 203.328 L 291.0288 203.328 L 292.1344 205.074 L 296.5568 205.074 L 297.6624 205.947 L 299.8736 205.947 L 300.9792 206.82 L 302.0848 206.82 L 304.296 210.312 L 305.4016 211.185 L 306.5072 212.931 L 308.7184 214.677 L 309.824 214.677 L 312.0352 216.423 L 315.352 216.423 L 316.4576 217.296 L 317.5632 217.296 L 319.7744 219.042 L 327.5136 219.042 L 328.6192 219.915 L 336.3584 219.915 L 337.464 220.788 L 338.5696 220.788 L 340.7808 222.534 L 341.8864 222.534 L 342.992 223.407 L 344.0976 225.153 L 347.4144 225.153 L 348.52 226.026 L 352.9424 226.026 L 356.2592 228.645 L 357.3648 228.645 L 358.4704 230.391 L 359.576 231.264 L 360.6816 231.264 L 362.8928 233.01 L 363.9984 234.756 L 365.104 235.629 L 367.3152 235.629 L 370.632 238.248 L 371.7376 238.248 L 372.8432 239.994 L 373.9488 239.994 L 375.0544 240.867 L 377.2656 240.867 L 378.3712 241.74 L 389.4272 241.74 L 393.8496 245.232 L 411.5392 245.232 L 412.6448 246.105 L 415.9616 246.105 L 417.0672 246.978 L 433.6512 246.978 L 434.7568 247.851 L 436.968 247.851 L 436.968 247.851 " clip-path="url(#ap429e85f748)" style="fill: none; stroke: #800080; stroke-width: 1.5; stroke-linecap: square"/></g><g><path d="M 38.952 259.2 L 38.952 171.9 " style="fill: none; stroke: #000000; stroke-width: 0.8; stroke-linejoin: miter; stroke-linecap: square"/></g><g><path d="M 38.952 259.2 L 436.968 259.2 " style="fill: none; stroke: #000000; stroke-width: 0.8; stroke-linejoin: miter; stroke-linecap: square"/></g><g><text style="font-size: 12px; font-family: 'DejaVu Sans', 'Bitstream Vera Sans', 'Computer Modern Sans Serif', 'Lucida Grande', 'Verdana', 'Geneva', 'Lucid', 'Arial', 'Helvetica', 'Avant Garde', sans-serif; text-anchor: middle" x="237.96" y="165.9" transform="translate(0.000 -0.360) rotate(-0 237.96 165.9)">Percent of scenarios still paying</text></g></g></g><defs><clipPath id="ap23c7c8c218"><rect x="38.952" y="27.072" width="398.016" height="87.156"/></clipPath><clipPath id="ap429e85f748"><rect x="38.952" y="171.9" width="398.016" height="87.3"/></clipPath></defs></svg> </div>
<div class="plot" style="left:1416px"> <svg style="overflow:visible" stroke-linejoin="round" stroke-linecap="butt" width="1246" height="800" viewBox="0 0 448.56 288" version="1.1"><g><g><path d="M 0 288 L 448.56 288 L 448.56 0 L 0 0 z " style="fill: #ffffff"/></g><g><g><path d="M 38.952 114.228 L 436.968 114.228 L 436.968 27.072 L 38.952 27.072 z " style="fill: #ffffff"/></g><g><g><g><path d="M 57.043636 114.228 L 57.043636 27.072 " clip-path="url(#bp23c7c8c218)" style="fill: none; stroke: #b0b0b0; stroke-width: 0.8; stroke-linecap: square"/></g><g><g><path d="M 0 0 L 0 3.5 " transform="translate(57.043636 114.228)" style="stroke: #000000; stroke-width: 0.8"/></g></g><g><text style="font-size: 10px; font-family: 'DejaVu Sans', 'Bitstream Vera Sans', 'Computer Modern Sans Serif', 'Lucida Grande', 'Verdana', 'Geneva', 'Lucid', 'Arial', 'Helvetica', 'Avant Garde', sans-serif; text-anchor: middle" x="57.043636" y="128.826437" transform="translate(0.360 0.504) rotate(-0 57.043636 128.826437)">0</text></g></g><g><g><path d="M 107.298182 114.228 L 107.298182 27.072 " clip-path="url(#bp23c7c8c218)" style="fill: none; stroke: #b0b0b0; stroke-width: 0.8; stroke-linecap: square"/></g><g><g><path d="M 0 0 L 0 3.5 " transform="translate(107.298182 114.228)" style="stroke: #000000; stroke-width: 0.8"/></g></g><g><text style="font-size: 10px; font-family: 'DejaVu Sans', 'Bitstream Vera Sans', 'Computer Modern Sans Serif', 'Lucida Grande', 'Verdana', 'Geneva', 'Lucid', 'Arial', 'Helvetica', 'Avant Garde', sans-serif; text-anchor: middle" x="107.298182" y="128.826437" transform="translate(0.360 0.504) rotate(-0 107.298182 128.826437)">50</text></g></g><g><g><path d="M 157.552727 114.228 L 157.552727 27.072 " clip-path="url(#bp23c7c8c218)" style="fill: none; stroke: #b0b0b0; stroke-width: 0.8; stroke-linecap: square"/></g><g><g><path d="M 0 0 L 0 3.5 " transform="translate(157.552727 114.228)" style="stroke: #000000; stroke-width: 0.8"/></g></g><g><text style="font-size: 10px; font-family: 'DejaVu Sans', 'Bitstream Vera Sans', 'Computer Modern Sans Serif', 'Lucida Grande', 'Verdana', 'Geneva', 'Lucid', 'Arial', 'Helvetica', 'Avant Garde', sans-serif; text-anchor: middle" x="157.552727" y="128.826437" transform="translate(0.360 0.504) rotate(-0 157.552727 128.826437)">100</text></g></g><g><g><path d="M 207.807273 114.228 L 207.807273 27.072 " clip-path="url(#bp23c7c8c218)" style="fill: none; stroke: #b0b0b0; stroke-width: 0.8; stroke-linecap: square"/></g><g><g><path d="M 0 0 L 0 3.5 " transform="translate(207.807273 114.228)" style="stroke: #000000; stroke-width: 0.8"/></g></g><g><text style="font-size: 10px; font-family: 'DejaVu Sans', 'Bitstream Vera Sans', 'Computer Modern Sans Serif', 'Lucida Grande', 'Verdana', 'Geneva', 'Lucid', 'Arial', 'Helvetica', 'Avant Garde', sans-serif; text-anchor: middle" x="207.807273" y="128.826437" transform="translate(0.360 0.504) rotate(-0 207.807273 128.826437)">150</text></g></g><g><g><path d="M 258.061818 114.228 L 258.061818 27.072 " clip-path="url(#bp23c7c8c218)" style="fill: none; stroke: #b0b0b0; stroke-width: 0.8; stroke-linecap: square"/></g><g><g><path d="M 0 0 L 0 3.5 " transform="translate(258.061818 114.228)" style="stroke: #000000; stroke-width: 0.8"/></g></g><g><text style="font-size: 10px; font-family: 'DejaVu Sans', 'Bitstream Vera Sans', 'Computer Modern Sans Serif', 'Lucida Grande', 'Verdana', 'Geneva', 'Lucid', 'Arial', 'Helvetica', 'Avant Garde', sans-serif; text-anchor: middle" x="258.061818" y="128.826437" transform="translate(0.360 0.504) rotate(-0 258.061818 128.826437)">200</text></g></g><g><g><path d="M 308.316364 114.228 L 308.316364 27.072 " clip-path="url(#bp23c7c8c218)" style="fill: none; stroke: #b0b0b0; stroke-width: 0.8; stroke-linecap: square"/></g><g><g><path d="M 0 0 L 0 3.5 " transform="translate(308.316364 114.228)" style="stroke: #000000; stroke-width: 0.8"/></g></g><g><text style="font-size: 10px; font-family: 'DejaVu Sans', 'Bitstream Vera Sans', 'Computer Modern Sans Serif', 'Lucida Grande', 'Verdana', 'Geneva', 'Lucid', 'Arial', 'Helvetica', 'Avant Garde', sans-serif; text-anchor: middle" x="308.316364" y="128.826437" transform="translate(0.360 0.504) rotate(-0 308.316364 128.826437)">250</text></g></g><g><g><path d="M 358.570909 114.228 L 358.570909 27.072 " clip-path="url(#bp23c7c8c218)" style="fill: none; stroke: #b0b0b0; stroke-width: 0.8; stroke-linecap: square"/></g><g><g><path d="M 0 0 L 0 3.5 " transform="translate(358.570909 114.228)" style="stroke: #000000; stroke-width: 0.8"/></g></g><g><text style="font-size: 10px; font-family: 'DejaVu Sans', 'Bitstream Vera Sans', 'Computer Modern Sans Serif', 'Lucida Grande', 'Verdana', 'Geneva', 'Lucid', 'Arial', 'Helvetica', 'Avant Garde', sans-serif; text-anchor: middle" x="358.570909" y="128.826437" transform="translate(0.360 0.504) rotate(-0 358.570909 128.826437)">300</text></g></g><g><g><path d="M 408.825455 114.228 L 408.825455 27.072 " clip-path="url(#bp23c7c8c218)" style="fill: none; stroke: #b0b0b0; stroke-width: 0.8; stroke-linecap: square"/></g><g><g><path d="M 0 0 L 0 3.5 " transform="translate(408.825455 114.228)" style="stroke: #000000; stroke-width: 0.8"/></g></g><g><text style="font-size: 10px; font-family: 'DejaVu Sans', 'Bitstream Vera Sans', 'Computer Modern Sans Serif', 'Lucida Grande', 'Verdana', 'Geneva', 'Lucid', 'Arial', 'Helvetica', 'Avant Garde', sans-serif; text-anchor: middle" x="408.825455" y="128.826437" transform="translate(0.360 0.504) rotate(-0 408.825455 128.826437)">350</text></g></g><g><text style="font-size: 10px; font-family: 'DejaVu Sans', 'Bitstream Vera Sans', 'Computer Modern Sans Serif', 'Lucida Grande', 'Verdana', 'Geneva', 'Lucid', 'Arial', 'Helvetica', 'Avant Garde', sans-serif; text-anchor: middle" x="237.96" y="142.504562" transform="translate(0.396 0.864) rotate(-0 237.96 142.504562)">Months</text></g></g><g><g><g><path d="M 38.952 110.19598 L 436.968 110.19598 " clip-path="url(#bp23c7c8c218)" style="fill: none; stroke: #b0b0b0; stroke-width: 0.8; stroke-linecap: square"/></g><g><g><path d="M 0 0 L -3.5 0 " transform="translate(38.952 110.19598)" style="stroke: #000000; stroke-width: 0.8"/></g></g><g><text style="font-size: 10px; font-family: 'DejaVu Sans', 'Bitstream Vera Sans', 'Computer Modern Sans Serif', 'Lucida Grande', 'Verdana', 'Geneva', 'Lucid', 'Arial', 'Helvetica', 'Avant Garde', sans-serif; text-anchor: end" x="31.952" y="113.995198" transform="translate(0.396 0.144) rotate(-0 31.952 113.995198)">0</text></g></g><g><g><path d="M 38.952 82.692429 L 436.968 82.692429 " clip-path="url(#bp23c7c8c218)" style="fill: none; stroke: #b0b0b0; stroke-width: 0.8; stroke-linecap: square"/></g><g><g><path d="M 0 0 L -3.5 0 " transform="translate(38.952 82.692429)" style="stroke: #000000; stroke-width: 0.8"/></g></g><g><text style="font-size: 10px; font-family: 'DejaVu Sans', 'Bitstream Vera Sans', 'Computer Modern Sans Serif', 'Lucida Grande', 'Verdana', 'Geneva', 'Lucid', 'Arial', 'Helvetica', 'Avant Garde', sans-serif; text-anchor: end" x="31.952" y="86.491648" transform="translate(0.396 0.144) rotate(-0 31.952 86.491648)">1</text></g></g><g><g><path d="M 38.952 55.188879 L 436.968 55.188879 " clip-path="url(#bp23c7c8c218)" style="fill: none; stroke: #b0b0b0; stroke-width: 0.8; stroke-linecap: square"/></g><g><g><path d="M 0 0 L -3.5 0 " transform="translate(38.952 55.188879)" style="stroke: #000000; stroke-width: 0.8"/></g></g><g><text style="font-size: 10px; font-family: 'DejaVu Sans', 'Bitstream Vera Sans', 'Computer Modern Sans Serif', 'Lucida Grande', 'Verdana', 'Geneva', 'Lucid', 'Arial', 'Helvetica', 'Avant Garde', sans-serif; text-anchor: end" x="31.952" y="58.988098" transform="translate(0.396 0.144) rotate(-0 31.952 58.988098)">2</text></g></g><g><g><path d="M 38.952 27.685329 L 436.968 27.685329 " clip-path="url(#bp23c7c8c218)" style="fill: none; stroke: #b0b0b0; stroke-width: 0.8; stroke-linecap: square"/></g><g><g><path d="M 0 0 L -3.5 0 " transform="translate(38.952 27.685329)" style="stroke: #000000; stroke-width: 0.8"/></g></g><g><text style="font-size: 10px; font-family: 'DejaVu Sans', 'Bitstream Vera Sans', 'Computer Modern Sans Serif', 'Lucida Grande', 'Verdana', 'Geneva', 'Lucid', 'Arial', 'Helvetica', 'Avant Garde', sans-serif; text-anchor: end" x="31.952" y="31.484548" transform="translate(0.396 0.144) rotate(-0 31.952 31.484548)">3</text></g></g><g><text style="font-size: 10px; font-family: 'DejaVu Sans', 'Bitstream Vera Sans', 'Computer Modern Sans Serif', 'Lucida Grande', 'Verdana', 'Geneva', 'Lucid', 'Arial', 'Helvetica', 'Avant Garde', sans-serif; text-anchor: middle" x="19.509813" y="70.65" transform="translate(0.612 1.188) rotate(-90 19.509813 70.65)">Millions</text></g></g><g clip-path="url(#bp23c7c8c218)"><g transform="matrix(0.167515 0 0 -0.167515 57.0436 110.1960)" fill="none" stroke-width="8.9544" stroke-opacity="0.3" stroke-linecap="square" stroke-linejoin="round"><path d="M0 328l6-3 6-3 6-11 6-12 6-7 6 11 6 2 6-6 6-6 6 12 6-8 6-4 6 3 6-11 6 5 6-1 6 8 6-7 6-5 6 10 6 1 6-9 6-1 6 1 6 0 6-7 6-6 6 5 6-7 6 14 6-7 6 2 6-19 6 4 6 1 6-5 6 9 6 8 6-4 6 10 6 6 6-9 6-2 6-6 6 1 6-7 6-1 6-14 6 7 6-19 6 8 6-2 6-5 6 2 6 8 6-6 6 0 6 13 6 11 6-4 6-1 6 15 6 1 6-2 6-6 6-5 6 9 6 7 6 8 6 6 6 6 6-5 6 6 6-5 6 1 6 4 6 1 6 3 6 6 6 5 6-2 6-6 6 7 6 9 6-3 6 7 6-4 6 0 6-9 6-4 6-8 6 16 6 0 6-16 6 2 6-4 6-1 6-17 6 6 6 3 6 0 6 5 6-10 6 4 6 1 6 2 6 5 6 7 6 6 6 14 6 6 6 3 6 25 6 17 6-2 6-11 6-4 6 7 6 13 6-20 6-5 6 1 6-17 6 3 6-5 6-4 6-2 6 12 6-10 6-8 6 4 6-8 6-1 6 3 6 0 6-1 6-7 6-3 6 1 6 4 6-6 6 13 6-2 6 6 6-1 6 7 6 3 6-4 6 1 6-5 6-4 6-15 6-8 6-3 6-1 6-2 6 3 6-7 6-2 6 10 6-11 6-7 6 8 6-16 6 2 6-12 6 5 6-8 6-1 6 1 6-8 6-4 6 3 6 0 6 8 6-14 6-5 6 1 6 4 6-10 6-3 6 1 6 4 6-4 6-6 6-2 6-6 6-5 6-5 6 1 6-6 6 2 6 8 6-8 6 0 6-8 6-5 6-2 6 0 6-3 6-1 6 4 6-2 6-3 6 1 6 4 6-6 6-7 6-4 6 4 6-2 6 1 6-1 6 0 6-9 6-3 6-1 6-1 6 3 6-10 6 3 6-3 6-6 6 2 6-1 6 0 6-6 6-8 6-5 6-2 6-4 6-1 6 0 6-7 6-1 6 2 6-1 6 3 6-4 6 0 6 3 6-4 6 0 6 3 6-5 6-1 6-5 6-2 6 0 6-1 6-2 6 2 6-5 6-6 6-4 6-1 6-3 6 0 6 1 6 4 6-3 6 1 6-1 6 0 6-1 6-3 6 2 6-2 6 0 6-3 6 1 6 2 6-2 6-2 6-1 6 1 6-3 6-3 6-2 6 0 6 0 6-2 6-1 6-3 6 2 6 4 6-4 6-1 6-3 6-2 6 3 6-4 6 0 6-3 6 0 6 0 6-1 6 0 6-2 6-1 6-1 6-2 6-1 6 2 6-2 6-1 6 0 6-2 6-2 6-1 6-1 6-3 6-1 6 0 6-1 6-2 6-2 6-1 6-2 6-1 6 0 6-2 6-2 6-3 6-1 6 0 6-2 6-1 6-2 6-1 6-1 6-2 6-1 6-1 6-2 6-1 6-1 6-1 6-2 6-1 6-1 6-2 6-1 6-1 6-2" stroke="#1f77b4"/><path d="M0 328l6 5 6-5 6-6 6-1 6 4 6-16 6-7 6-6 6-1 6 14 6-8 6 0 6 2 6 9 6-8 6 16 6 3 6-3 6-1 6-4 6 8 6 0 6 8 6 0 6 1 6-4 6-5 6-10 6-9 6-1 6 13 6 0 6 2 6 14 6 3 6 9 6 1 6-10 6 3 6 2 6 4 6-12 6 12 6-7 6 9 6-3 6-17 6 4 6-15 6-8 6-9 6-13 6 17 6 1 6-13 6-1 6-2 6-6 6 2 6-11 6 9 6-1 6-5 6-7 6-10 6 3 6-7 6-9 6 0 6 1 6 14 6 8 6 3 6-5 6 7 6 6 6 1 6-6 6 3 6-2 6-1 6-2 6-8 6 2 6-2 6-4 6-13 6-4 6 0 6-1 6 9 6 4 6 8 6-9 6-3 6 3 6-3 6-2 6 2 6 1 6 8 6 3 6 2 6 0 6-13 6 1 6 1 6-7 6 4 6-3 6 5 6-12 6 6 6 3 6 1 6-4 6 4 6 3 6-4 6-5 6 9 6 5 6 17 6 0 6 8 6 0 6-7 6-5 6-1 6 2 6 2 6 0 6-8 6-4 6 9 6-14 6 0 6 1 6-6 6-4 6-12 6-1 6-2 6 2 6 8 6-1 6 6 6-6 6-1 6-5 6-1 6-5 6 5 6-6 6-2 6 1 6-5 6-3 6-3 6 0 6-4 6 7 6 5 6 7 6-5 6-3 6 3 6 10 6-2 6 0 6-1 6 6 6-5 6-5 6 3 6 0 6-4 6-1 6-7 6 1 6 3 6 4 6-8 6 0 6-3 6-4 6-2 6-1 6 6 6-4 6 7 6-1 6 1 6-8 6-4 6 0 6 3 6-2 6-3 6-3 6-10 6 0 6 5 6-6 6 4 6 8 6-6 6-7 6 7 6 2 6 1 6-1 6 3 6 2 6 7 6-3 6-3 6-14 6-5 6-2 6 0 6 1 6-1 6-4 6 0 6 3 6-2 6 7 6 2 6-6 6 2 6-4 6 8 6-3 6 4 6 0 6-4 6 6 6-4 6-7 6-2 6-9 6 8 6 6 6 4 6-8 6 1 6-8 6-5 6-2 6 4 6 0 6-6 6 0 6 2 6-7 6-2 6-3 6-3 6-4 6 3 6 0 6-7 6 4 6-5 6-4 6-3 6-2 6-3 6 1 6-3 6-6 6 1 6 5 6 1 6-4 6-2 6-5 6 0 6-2 6 0 6 3 6 2 6-6 6 0 6-2 6-1 6-1 6 3 6 0 6-1 6 1 6-1 6 0 6 0 6 0 6 0 6-3 6 1 6-3 6-3 6-1 6-1 6-1 6 2 6-1 6 0 6-2 6 2 6-1 6-6 6 0 6 0 6-2 6 1 6-2 6 0 6-2 6 0 6-1 6-4 6 1 6-2 6 1 6-2 6 0 6-3 6-7 6-1 6-2 6-3 6 2 6 1 6-2 6 1 6-2 6-1 6-1 6-3 6-2 6-2 6 1 6-2 6 0 6-2 6 0 6-2 6-1 6 0 6-1 6 0 6-2 6 0 6-2 6-1 6 0 6-1 6-1 6 1 6-2" stroke="#ff7f0e"/><path d="M0 328l6-6 6-3 6 0 6-1 6 6 6 1 6-6 6 9 6-8 6 0 6-5 6-7 6-12 6-10 6-1 6-2 6-10 6 7 6 0 6 5 6 0 6-2 6-4 6-3 6 2 6 5 6-1 6 2 6 6 6 4 6-7 6 4 6-7 6 1 6-13 6-2 6-9 6 1 6-3 6 2 6 0 6 7 6-2 6-6 6 1 6 14 6 5 6-5 6 0 6-7 6-10 6 7 6 4 6-9 6-6 6 5 6-13 6 6 6 5 6 8 6 1 6-5 6-8 6-8 6-3 6-6 6 1 6 13 6 0 6 5 6 6 6-4 6-1 6-3 6-8 6-7 6 0 6 7 6 6 6-4 6-13 6 6 6-1 6 3 6-9 6 0 6 2 6-5 6 0 6 2 6 2 6-3 6 9 6-7 6-2 6 2 6 2 6-2 6 0 6-7 6-6 6 0 6 11 6-1 6 6 6 3 6-2 6-1 6-6 6 3 6 5 6-1 6 0 6 0 6 3 6 2 6-2 6-1 6 3 6 12 6 7 6 4 6-4 6 7 6 5 6 4 6 11 6 11 6-6 6 10 6 5 6-2 6 14 6-7 6-3 6 0 6 0 6-4 6 2 6 1 6 0 6-3 6 7 6-12 6-6 6-11 6 3 6 4 6 13 6 3 6 4 6-3 6-10 6 3 6 5 6-5 6-3 6-11 6 8 6-3 6 2 6-10 6-2 6 6 6 12 6 3 6 0 6 8 6-9 6-8 6-4 6 5 6-2 6 2 6-10 6-9 6 3 6 11 6-7 6-4 6-9 6-9 6-14 6-9 6 4 6 4 6 9 6-10 6 4 6 11 6 7 6 0 6 3 6 3 6-2 6-4 6-2 6-4 6 0 6-6 6 9 6-7 6 2 6-3 6-3 6 0 6 0 6 7 6-13 6 0 6 0 6 1 6-11 6 2 6-1 6 0 6 7 6-4 6-7 6 0 6-1 6-8 6 3 6-7 6 8 6 0 6 2 6 4 6-2 6 2 6 3 6-3 6 8 6-3 6-5 6 0 6 4 6-8 6-1 6-4 6 10 6 2 6 3 6 4 6 5 6 8 6 0 6 1 6-9 6 8 6-6 6 2 6 3 6 1 6-13 6 1 6 2 6-2 6-6 6-6 6 2 6 1 6-11 6-8 6-2 6-1 6-10 6 3 6-6 6-1 6-1 6-5 6 8 6-4 6 4 6 8 6 5 6-11 6-11 6 4 6-7 6-3 6-8 6 2 6-7 6 0 6 2 6-1 6 2 6-5 6 0 6 3 6 1 6 4 6 0 6 0 6-2 6-2 6-2 6-6 6-7 6-5 6-1 6-4 6 0 6-5 6 1 6-4 6 1 6 0 6 2 6-3 6-2 6-3 6-6 6-1 6-1 6 0 6-2 6-2 6-2 6-2 6-6 6-2 6 0 6-4 6 1 6-2 6-1 6-6 6-2 6 2 6-2 6-4 6-2 6-5 6 1 6 0 6-3 6-3 6 2 6-3 6-1 6-2 6-5 6 1 6-3 6 1 6 2 6-3 6-2 6 2 6 1 6-3 6 1 6 3 6 0 6-3 6-2 6 1" stroke="#2ca02c"/><path d="M0 328l6-14 6 7 6 6 6 0 6 0 6 3 6 2 6 11 6-3 6 1 6-1 6 12 6-22 6 8 6 7 6-7 6 7 6 1 6 12 6 1 6-14 6-16 6 7 6 7 6 8 6-9 6 2 6-13 6-3 6-4 6-4 6-4 6 0 6 4 6-4 6 12 6 1 6 1 6-9 6-2 6 21 6 14 6-10 6-9 6-13 6 5 6 0 6-7 6-2 6 4 6 1 6 10 6 9 6 1 6-27 6-4 6 4 6 2 6-1 6-20 6-1 6 0 6-8 6-23 6-2 6-9 6-1 6 5 6-6 6-1 6 2 6 1 6 0 6 1 6 10 6 0 6-3 6-10 6-10 6 5 6 6 6-1 6 4 6-5 6 10 6-7 6-3 6-4 6-5 6-2 6-2 6 2 6-2 6-2 6-5 6 3 6 2 6-12 6 3 6 11 6 3 6-6 6 12 6-4 6 3 6-11 6-5 6 0 6 1 6-8 6-1 6-4 6-3 6-3 6 2 6-1 6 5 6-4 6 5 6 6 6-8 6-3 6-2 6 2 6 7 6 1 6 10 6 9 6-2 6-3 6-9 6-1 6-5 6 9 6-5 6-5 6 0 6 8 6-5 6-12 6 1 6-8 6 5 6 2 6 3 6 2 6-1 6-6 6-3 6 1 6 5 6 0 6-5 6-4 6 6 6-6 6-1 6 2 6 3 6 1 6 2 6 1 6-4 6 0 6 11 6 1 6 0 6-17 6-1 6-3 6 1 6 5 6-7 6 3 6 1 6 3 6 2 6 6 6 7 6-10 6-1 6 2 6-6 6-2 6 3 6-8 6 2 6-1 6 10 6 1 6-6 6-4 6 2 6 3 6 4 6 7 6-7 6-3 6-3 6-1 6 5 6-5 6-5 6 2 6 6 6 4 6-9 6 1 6-8 6-6 6-1 6 1 6-5 6-8 6 0 6 2 6-4 6-3 6-6 6-2 6 0 6-2 6 3 6-1 6 3 6-3 6-4 6 0 6-5 6-8 6 0 6-5 6-1 6 3 6-5 6-5 6-1 6 0 6-2 6-5 6-1 6-3 6 0 6 3 6 2 6 1 6-3 6-1 6-1 6 0 6-4 6-2 6 1 6-1 6-1 6-1 6-1 6-3 6-8 6 3 6-5 6 2 6-2 6-2 6-3 6 0 6 4 6 3 6 2 6-5 6-2 6 1 6-5 6-2 6-1 6 2 6-1 6-1 6-4 6 1 6 2 6-1 6-1 6-2 6 1 6-2 6 2 6-1 6-2 6-3 6-2 6-1 6-2 6-2 6 0 6-1 6-1 6 0 6 0 6-3 6-2 6-1 6-1 6-2 6-1 6 0 6 2 6-3 6-1 6-1 6-3 6-2 6-1 6-1 6 0 6 0 6-1 6-1 6-2 6-1 6 0 6-1 6-2 6-2 6-1 6-1 6-2 6-2 6-1 6 0 6-2 6-1 6-1 6-1 6-2 6 0 6-1 6-1 6-2 6-1 6 0 6-2 6-1 6-1 6-1 6-2 6-1 6-1 6-2 6-1 6-1 6-1 6-2 6-1 6-1" stroke="#d62728"/><path d="M0 328l6-1 6-12 6 5 6 5 6 14 6 1 6 18 6-1 6-8 6 5 6 9 6 1 6 7 6 19 6-2 6-15 6-7 6-3 6-11 6-2 6-9 6-2 6-6 6 3 6 8 6-3 6-3 6 4 6-8 6-7 6 11 6 2 6 5 6 1 6-2 6-5 6 8 6 0 6 1 6-14 6-4 6 10 6 0 6 1 6 5 6-16 6-2 6 5 6-3 6 6 6 4 6-7 6-4 6-8 6 0 6 1 6-13 6 3 6 2 6-7 6-9 6 14 6 5 6 1 6-6 6 4 6 5 6 2 6 3 6-9 6-13 6-12 6-8 6-6 6-3 6 4 6 3 6 4 6-1 6-12 6-1 6-13 6 2 6 4 6 18 6 1 6-9 6-3 6 5 6 3 6 1 6-12 6 8 6 7 6 4 6-1 6-7 6-9 6 5 6-6 6 2 6-10 6-3 6-11 6 2 6 1 6-16 6 7 6 3 6 7 6-6 6-1 6 0 6-13 6-7 6-3 6-6 6-6 6-2 6 3 6 1 6-8 6-6 6-1 6 5 6 2 6-10 6-6 6-8 6-4 6-1 6 7 6 0 6 1 6 3 6-3 6 0 6 4 6 4 6 2 6-2 6 5 6-6 6 4 6 10 6-1 6-3 6 10 6-4 6 8 6-5 6-6 6-7 6-6 6-6 6-3 6 0 6-7 6-7 6 7 6-2 6 3 6-3 6 0 6 1 6-2 6-2 6-3 6-7 6 1 6-3 6 1 6-2 6 5 6 0 6-1 6-3 6-2 6-1 6 0 6-2 6-4 6 1 6-2 6-2 6 0 6-1 6 1 6-1 6 2 6 0 6-8 6 5 6-3 6-1 6-2 6 5 6-2 6-6 6-1 6-4 6-5 6 0 6-5 6-2 6-3 6-1 6-3 6 3 6-1 6 0 6-4 6 1 6-3 6-1 6-3 6 1 6-1 6-4 6-4 6 1 6-1 6 2 6 4 6-6 6 2 6 0 6-5 6-1 6-6 6-4 6-1 6-2 6-2 6-3 6 0 6-1 6 0 6-2 6-1 6-1 6 0 6-3 6-4 6-2 6 1 6 0 6-2 6-1 6 0 6-2 6-1 6-2 6-1 6-1 6-3 6-1 6 0 6-1 6 0 6-1 6-2 6-2 6-1 6 1 6-2 6 0 6-3 6-2 6 0 6 0 6-1 6-1 6-1 6-1 6-1 6 1 6-2 6-1 6-1 6-1 6-1 6 0 6-2 6-2 6-1 6-1 6-1 6-1 6-1 6-1 6-2 6-1 6-2 6-1 6-1 6-2 6-1 6-1" stroke="#9467bd"/><path d="M0 328l6 3 6 3 6 17 6 9 6-11 6-9 6-3 6 1 6 9 6 5 6 4 6-6 6 9 6-9 6-3 6 10 6 8 6 2 6-9 6 1 6-4 6-10 6 10 6 4 6 1 6-1 6-15 6-4 6 16 6 7 6-3 6 6 6-12 6-3 6-8 6 0 6-2 6-7 6-11 6 6 6-6 6-5 6 0 6 5 6 10 6-8 6-8 6-14 6-4 6 4 6-10 6 1 6-2 6-2 6-3 6-3 6 1 6-4 6-1 6-6 6 1 6-5 6 8 6-4 6 3 6 10 6-2 6 1 6 2 6 1 6-1 6-5 6 0 6 6 6 2 6-10 6-1 6-8 6-12 6-5 6 8 6-1 6 2 6-5 6-7 6 0 6-3 6 11 6-1 6-3 6 13 6 5 6-4 6-8 6 8 6 4 6-5 6-5 6-2 6-1 6 8 6-12 6-8 6 4 6 5 6-9 6-2 6 1 6-6 6 1 6-7 6 5 6 4 6-4 6-3 6-8 6 1 6-6 6 5 6-7 6 10 6 4 6-2 6-3 6 0 6 3 6-4 6-4 6 2 6 4 6-2 6 2 6-5 6 2 6 0 6-3 6-2 6 5 6 4 6-11 6-1 6-4 6-6 6-9 6 1 6 0 6-6 6-2 6 2 6-4 6-1 6-6 6 3 6-5 6 5 6-1 6 0 6-7 6-2 6-6 6-2 6-4 6 4 6-5 6 1 6 4 6 6 6-1 6-4 6-10 6-1 6-5 6 1 6-2 6 5 6 3 6-7 6-1 6 5 6 0 6-1 6-1 6 2 6-3 6 1 6 1 6-7 6-1 6-1 6-2 6-5 6-4 6-1 6-4 6-6 6 3 6-2 6 0 6-1 6-2 6-4 6-1 6 3 6-2 6-2 6-2 6 2 6 1 6-2 6-2 6 3 6-3 6-5 6-1 6 2 6-5 6-3 6 0 6-1 6-1 6 1 6-1 6-2 6 1 6 0 6-2 6-3 6-2 6-1 6 3 6 0 6-2 6-1 6-1 6 1 6-1 6-1 6 1 6 1 6-4 6 0 6 0 6-3 6-4 6 1 6-1 6-7 6-2 6 2 6 0 6-1 6-1 6-1 6-3 6-1 6-3 6-1 6-6 6 0 6-2 6-2 6 0 6 1 6-4 6 1 6-3 6-3 6-2 6 0 6 0 6-3 6-1 6-1 6-2 6-2 6 1 6-1 6-1 6-2 6-1 6-2 6-2 6 0 6-2 6-1 6-2 6-1 6-1 6-2 6 0 6-2 6-1 6-1 6-1 6-2 6-1 6-1 6-2 6-1 6-2 6-1 6-1 6-1 6-2" stroke="#8c564b"/><path d="M0 328l6 3 6-10 6 1 6 0 6 0 6-15 6 1 6-1 6 4 6 6 6-13 6 5 6-17 6-3 6 12 6 8 6-2 6-5 6-2 6 2 6 9 6-7 6-5 6-9 6-6 6-15 6 5 6-13 6-2 6 4 6 5 6-6 6 2 6-13 6-3 6-4 6-4 6-17 6-3 6-2 6 9 6 5 6 0 6-3 6-8 6-1 6-2 6 4 6 3 6-6 6-3 6-6 6-2 6-3 6-5 6-1 6 0 6 1 6-2 6-1 6-1 6 0 6 0 6 0 6 0 6 5 6-3 6-2 6-2 6 1 6 3 6-5 6 1 6 5 6 2 6-3 6 4 6 0 6-6 6-14 6 3 6 4 6-4 6-3 6 5 6 2 6 14 6 1 6 5 6-7 6 7 6-1 6-6 6-9 6-1 6-1 6-5 6 0 6 0 6-4 6 1 6 0 6-1 6-5 6-2 6-5 6 6 6-7 6-1 6-5 6 7 6 4 6 2 6-7 6-11 6 1 6 3 6-2 6 4 6 3 6 1 6-1 6-4 6-1 6-5 6-6 6-9 6-5 6 2 6 1 6 0 6 1 6-3 6-1 6 3 6-4 6-3 6-3 6 2 6-4 6 1 6-3 6-4 6-6 6-1 6-5 6 1 6 1 6 1 6-7 6 0 6-1 6 2 6-6 6 0 6 1 6-2 6 1 6 0 6 1 6-1 6 1 6-1 6-6 6 2 6-2 6 0 6-3 6-1 6-3 6 3 6-1 6-5 6-3 6-4 6 0 6 0 6-2 6-4 6 0 6 1 6-2 6 1 6-1 6-2 6-1 6-2 6 1 6-1 6-4 6 0 6 0 6-1 6-2 6-2 6-1 6-3 6-3 6-2 6-1 6-2 6-3 6-2 6 0 6-1 6-1 6-1 6-1 6-2 6-2 6 0 6-1 6-1 6-1 6-2 6-1 6-1 6-1 6-1 6-1 6-1 6 0 6-2 6-2 6-2 6-1 6-2 6-1 6-2 6-1 6-1 6-1 6-2 6-1 6-1 6-1" stroke="#e377c2"/><path d="M0 328l6 7 6 4 6-8 6-8 6-2 6 0 6 3 6 8 6 13 6-10 6 3 6-3 6 1 6-2 6 2 6-11 6 5 6-5 6 7 6 1 6-5 6-8 6 0 6 10 6-1 6 17 6-12 6-9 6-12 6 5 6 0 6 5 6-7 6 6 6-2 6 5 6 8 6-6 6 7 6-21 6-5 6-6 6-12 6 4 6-4 6-15 6-12 6-3 6-2 6 1 6-4 6-8 6-10 6 8 6-16 6 0 6 7 6-9 6 5 6-3 6 6 6-8 6 2 6-5 6-7 6 6 6-4 6 1 6-1 6 8 6-7 6-11 6 8 6-3 6 5 6-9 6 3 6-4 6 2 6 0 6 6 6 3 6-4 6-4 6-1 6 2 6-1 6-5 6-6 6 0 6-6 6-3 6-5 6-7 6 0 6-1 6 4 6 0 6-8 6-8 6 0 6 0 6-1 6-6 6-4 6-5 6-3 6-1 6-7 6 1 6 0 6-1 6 4 6-2 6-2 6-2 6-1 6-1 6-4 6-2 6-4 6 2 6 2 6 2 6-3 6 4 6-1 6-4 6 2 6-2 6-4 6 3 6-2 6 2 6 1 6-7 6-4 6 0 6-4 6 4 6 0 6-2 6-4 6-3 6 2 6 0 6 0 6 2 6-4 6-2 6 2 6-6 6-3 6 1 6-4 6 0 6-3 6-1 6 1 6-3 6-2 6-2 6 2 6 1 6-1 6-1 6 3 6 1 6-2 6-1 6 1 6-2 6-6 6 2 6-2 6-5 6-3 6 1 6-3 6 0 6-2 6-1 6-2 6-3 6 0 6-1 6-1 6-3 6-1 6-1 6-1 6-1 6 0 6-3 6 2 6-1 6-3 6-3 6 0 6-1 6-2 6-1 6-1 6-3 6-1 6 0 6-2 6-1 6-1 6 1 6-1 6 0 6-3 6-1 6-2 6-2 6-2 6-1 6-2 6-1 6-2 6-1 6-1 6-1 6-2 6-1 6-1 6-1 6-2 6-1 6-1 6-2 6-1 6-1" stroke="#7f7f7f"/><path d="M0 328l6 5 6-23 6-13 6 9 6 2 6 2 6-1 6-13 6-2 6-6 6-4 6 8 6-5 6-11 6-15 6-7 6-4 6-2 6 7 6 1 6-6 6 4 6-1 6 6 6-10 6-5 6 9 6 2 6 8 6 13 6 1 6 1 6 2 6-4 6-1 6-8 6 0 6-4 6 10 6-2 6-4 6 2 6-9 6-3 6 6 6-6 6 2 6-4 6 1 6 9 6 4 6-8 6 8 6-7 6 1 6-6 6-8 6-6 6-7 6 2 6-1 6 2 6-3 6 0 6 0 6 14 6 4 6 5 6-9 6 5 6 4 6-3 6 5 6-6 6 3 6 9 6-12 6 1 6-1 6-5 6-4 6-11 6-2 6 11 6-12 6-1 6-6 6-6 6 7 6 1 6-8 6 3 6 1 6 1 6-4 6-1 6-2 6 5 6-2 6-15 6 1 6-3 6-8 6 1 6-1 6 6 6-4 6-1 6-4 6 1 6-4 6-2 6-9 6 9 6 1 6-3 6-4 6-1 6-7 6 2 6-6 6-6 6-1 6 0 6-1 6 1 6-6 6-3 6 1 6-2 6-7 6-1 6-1 6-3 6-5 6-3 6-3 6 4 6-6 6-3 6 0 6-4 6-4 6-3 6-1 6 3 6 1 6 3 6-4 6-5 6-1 6 0 6-2 6-5 6 3 6-3 6 0 6-1 6 0 6 1 6-4 6 1 6-6 6-2 6 2 6-5 6-3 6 0 6-1 6-4 6-2 6-5 6-1 6 0 6-2 6 0 6-4 6-2 6-3 6-2 6-1 6 0 6-2 6 0 6-2 6 0 6-1 6 0 6-2 6-3 6-2 6-1 6-2 6 1 6-1 6-1 6-2 6 0 6-1 6-2 6 1 6-2 6 0 6 0 6-2 6-1 6 1 6 0 6 0 6-1 6-1 6-1 6 0 6-1 6 0 6-2 6-1 6-1 6-1 6-2 6-2 6-1 6-1 6-1 6-2 6-1 6-2 6-2 6-1 6-1 6-1 6-2 6-1 6-1 6-2 6-1" stroke="#bcbd22"/><path d="M0 328l6-5 6 16 6 2 6-2 6 11 6 4 6 3 6-4 6 1 6 7 6 13 6-6 6-10 6-4 6-6 6 7 6-12 6 12 6 2 6 0 6-6 6 15 6 0 6 6 6 3 6-20 6 3 6-7 6-6 6-11 6-17 6-1 6 1 6-7 6-1 6-6 6-1 6-6 6 3 6 9 6 13 6 2 6-6 6-4 6-2 6-10 6-3 6-5 6 4 6 1 6 0 6-13 6 14 6-3 6-4 6 4 6-7 6-1 6 1 6-5 6-10 6 5 6 3 6-6 6-2 6-7 6 2 6 4 6-3 6 7 6-7 6 6 6 2 6-17 6 7 6 2 6 2 6 14 6 3 6 1 6 1 6 2 6 0 6-5 6-1 6-15 6 6 6-10 6-10 6 5 6-3 6-3 6 0 6 7 6-7 6 5 6-7 6 5 6 3 6-9 6 2 6 2 6 3 6-4 6-5 6-5 6-1 6-4 6 10 6 1 6-5 6-2 6-4 6 4 6 0 6-7 6-13 6-1 6-6 6 7 6-4 6 6 6 1 6 6 6 0 6 6 6 6 6-7 6-1 6 3 6 9 6 4 6 6 6-8 6-2 6-4 6-3 6-7 6-1 6 1 6 9 6-5 6 2 6 5 6-3 6 0 6 1 6-8 6 2 6-9 6-6 6 5 6 9 6-6 6-6 6 2 6-2 6 1 6 2 6-3 6-4 6-1 6-6 6-3 6-3 6 0 6 1 6 6 6 2 6 0 6-3 6-3 6 6 6-5 6-10 6-7 6-3 6-4 6-4 6 4 6-3 6 5 6-4 6-2 6 11 6 4 6-5 6-1 6-4 6 7 6 6 6 0 6 6 6-4 6-2 6 6 6 0 6 4 6 9 6-1 6 6 6 0 6-2 6-6 6-3 6 2 6-14 6-6 6-5 6-3 6 1 6 8 6 0 6-2 6-3 6 1 6-1 6 1 6 3 6-6 6-1 6-1 6-5 6 1 6-2 6-3 6-2 6-6 6 1 6-4 6-8 6 0 6 3 6-4 6-3 6-3 6-2 6-5 6 1 6-7 6-7 6-2 6-4 6-3 6-8 6-4 6-2 6-2 6 1 6-9 6-1 6 3 6-4 6-3 6 0 6-3 6-4 6-4 6-2 6-3 6-3 6-4 6 0 6-2 6-1 6-2 6 1 6 0 6-1 6-1 6 0 6 0 6-3 6-1 6-3 6 1 6-2 6-3 6 0 6 0 6 0 6-3 6 0 6-1 6-2 6 0 6-2 6-1 6 0 6-1 6-1 6-1 6-1 6 0 6-2 6 0 6-1 6-1 6-3 6-1 6-1 6-1 6-2 6-2 6-1 6-1 6-1 6-1 6-1 6-2 6-1 6-2 6-1 6-2 6-1 6-2 6-1 6-1 6-2 6-1 6-1 6-1 6-1 6-2 6-1 6-2 6-1" stroke="#17becf"/><path d="M0 328l6-14 6-1 6-8 6-7 6-3 6 5 6-5 6-7 6 5 6-2 6-6 6 8 6 8 6-16 6-6 6-8 6 0 6-3 6 5 6 10 6-8 6-2 6-12 6-12 6 1 6 0 6-6 6-5 6-10 6 1 6-11 6 4 6 4 6-1 6 0 6 6 6 1 6 4 6 1 6 6 6-5 6 3 6-12 6-4 6 0 6-1 6 4 6-7 6 2 6-5 6 3 6 4 6 5 6-8 6-3 6 1 6 4 6 6 6 9 6-7 6 1 6-2 6-11 6-1 6-6 6-1 6-1 6 3 6 7 6-1 6 5 6 9 6 1 6 8 6-5 6 9 6-6 6-8 6 0 6 3 6 1 6-2 6-1 6-1 6 2 6 0 6-4 6 0 6-6 6 3 6 2 6 4 6 3 6 1 6-1 6 4 6-1 6 8 6 4 6 4 6 1 6 1 6-10 6-2 6 0 6 0 6 1 6 0 6-3 6 1 6-3 6 6 6-13 6 9 6 7 6-8 6 4 6 2 6 3 6 1 6-5 6-5 6-3 6 2 6-13 6 5 6 2 6-2 6 6 6-4 6-9 6 3 6 5 6-7 6-9 6 10 6 4 6-1 6 12 6-15 6-6 6 6 6-6 6-3 6 1 6-5 6-4 6 4 6 0 6-9 6 1 6 1 6-1 6 1 6-15 6-7 6-5 6 10 6-8 6-4 6-1 6-4 6 3 6 0 6 11 6-5 6 0 6-11 6 6 6 2 6-1 6-2 6-3 6 4 6 4 6-2 6 1 6-2 6 1 6-5 6-9 6 0 6 1 6-4 6-9 6 3 6-1 6 1 6 6 6-4 6-6 6 1 6-1 6 4 6-3 6 0 6 3 6 5 6 1 6-5 6 0 6-2 6-5 6-2 6 2 6 2 6-6 6-3 6 4 6-1 6 2 6 6 6 3 6 1 6 0 6-6 6 1 6 1 6-7 6-5 6-6 6-5 6 2 6 4 6-5 6 0 6-6 6-2 6 2 6 4 6-3 6-6 6-5 6 5 6 3 6-2 6-6 6-3 6-4 6 0 6-2 6-3 6-5 6 1 6-1 6 1 6 4 6 0 6-3 6 1 6-4 6-6 6 2 6 0 6-2 6-4 6-5 6-2 6-1 6 3 6 0 6 0 6-2 6-1 6 0 6 1 6-2 6-5 6-2 6-2 6-5 6-5 6-1 6 1 6-2 6-4 6 2 6-2 6 0 6 0 6 0 6 0 6-2 6 0 6 0 6-2 6-1 6 0 6-1 6-2 6-2 6 0 6-3 6-3 6 0 6-2 6-2 6-2 6-4 6-1 6-1 6-1 6 1 6-2 6-1 6-3 6 0 6-1 6-3 6-1 6-2 6-1 6-1 6-1 6-1 6-1 6-1 6-1 6-2 6-1 6-1 6-1 6-2 6-1" stroke="#1f77b4"/><path d="M0 328l6-3 6 8 6 11 6 8 6-5 6 4 6-3 6 10 6 7 6-12 6-15 6 9 6-1 6-8 6-1 6 1 6 1 6-4 6 5 6 6 6 7 6 9 6-5 6 5 6 2 6 18 6-8 6 4 6-10 6-18 6-3 6-4 6-3 6 4 6-5 6-6 6-8 6 9 6-9 6 1 6 0 6 3 6-8 6-11 6 0 6 4 6-1 6-16 6-1 6-5 6 1 6 4 6 2 6 0 6-1 6-9 6-1 6-7 6-2 6-3 6 5 6 13 6 9 6 11 6-5 6 7 6-4 6-4 6-5 6 0 6-1 6 14 6-1 6 2 6-2 6-8 6 1 6 7 6 1 6-1 6 0 6-11 6-9 6 5 6 3 6 1 6-7 6 10 6 9 6 1 6-1 6 3 6 9 6 9 6-3 6-3 6 0 6 0 6-4 6-12 6 8 6-9 6 1 6-9 6 1 6-2 6-8 6 4 6 7 6-2 6 1 6 10 6 2 6-1 6 7 6 7 6-11 6 11 6-7 6 8 6-4 6-10 6 0 6 8 6-17 6-1 6-13 6-2 6-5 6-14 6 6 6 10 6-9 6-8 6-6 6 3 6 2 6 5 6 0 6-14 6-3 6-3 6-14 6-4 6-1 6-3 6-8 6 4 6-2 6-12 6 7 6-10 6 0 6 4 6 9 6-7 6 2 6-2 6 2 6-8 6-9 6-6 6-5 6-1 6 2 6-3 6 1 6 1 6 1 6 3 6 0 6-5 6 6 6-1 6-1 6 10 6-9 6-5 6 2 6 2 6 0 6 5 6 3 6-7 6-4 6-2 6-1 6-1 6-4 6-6 6-6 6 1 6-6 6 1 6-1 6 3 6-5 6-10 6 1 6-8 6 0 6-5 6-2 6-8 6-1 6 0 6 0 6-1 6-4 6-1 6-6 6-2 6-4 6-3 6-3 6 0 6 1 6-1 6-1 6 0 6-2 6-2 6-4 6-3 6-1 6 1 6-2 6-1 6 3 6-2 6-5 6 0 6 2 6-3 6-3 6 2 6-1 6 5 6 0 6 2 6-1 6 0 6-1 6-2 6 2 6-6 6-6 6 3 6-2 6-2 6 2 6-1 6-5 6-3 6-1 6 0 6 1 6-6 6 0 6-1 6 1 6 0 6 0 6-2 6 0 6-1 6-2 6-3 6-1 6 1 6-3 6-2 6-3 6-2 6-1 6-2 6 0 6-1 6-3 6-1 6-2 6-1 6-1 6-2 6 0 6-2 6-2 6-3 6 0 6-1 6-3 6 0 6-2 6-1 6-2 6 0 6-2 6-1 6-2 6-1 6-1 6-2 6-1 6-1 6-2 6-1 6-1 6-2 6-1" stroke="#ff7f0e"/><path d="M0 328l6 5 6-4 6-9 6 4 6 3 6 7 6-1 6 5 6 1 6-19 6-8 6-16 6-4 6 7 6 0 6-22 6 3 6-4 6-2 6-1 6 4 6-3 6-1 6 7 6-8 6-1 6-7 6-2 6-3 6 7 6-2 6-3 6 8 6 10 6 2 6 2 6-7 6 2 6-2 6 7 6-4 6-9 6-7 6-3 6 9 6-5 6-6 6-6 6 3 6 0 6 1 6-6 6 5 6 4 6 12 6 0 6-9 6 2 6 1 6-3 6-6 6 1 6-4 6-5 6-2 6 5 6 1 6 0 6 3 6 14 6-5 6 2 6 6 6-6 6 2 6-2 6-5 6-1 6-5 6-2 6 10 6-3 6 2 6 0 6-2 6 4 6 0 6-14 6 5 6-7 6-10 6-5 6-2 6 2 6-8 6 0 6-2 6-8 6-1 6 5 6-5 6-5 6-1 6-3 6-2 6 4 6-1 6-8 6-6 6 1 6-2 6-1 6 2 6-5 6 2 6-5 6 6 6-9 6 4 6 0 6-1 6 5 6 0 6-7 6 4 6-3 6 1 6 3 6 0 6-3 6-2 6-3 6-3 6-7 6-4 6-3 6 2 6-5 6-2 6 3 6 5 6 4 6-5 6-6 6 2 6-8 6-3 6-2 6-5 6-2 6-5 6 0 6 3 6 1 6-5 6-3 6-1 6 1 6-5 6 3 6-6 6-3 6-2 6-2 6-1 6-1 6 5 6-3 6-8 6-1 6-2 6-2 6-3 6-3 6 1 6 1 6 0 6-2 6 2 6-2 6 0 6-2 6 3 6-1 6 1 6-3 6-1 6-3 6 0 6 2 6-2 6 3 6-4 6-1 6-2 6-1 6-1 6-2 6 1 6 3 6-2 6-5 6-1 6-5 6-1 6-2 6-1 6-3 6-2 6 0 6-1 6 0 6-1 6-2 6-1 6-3 6-1 6-2 6-1 6 0 6-1 6-1 6 1 6 0 6-2 6 0 6-3 6-1 6 0 6-1 6-1 6 1 6-2 6 0 6-3 6 0 6-4 6 0 6-1 6-2 6 0 6-1 6 0 6-1 6-2 6-2 6-1 6-1 6-2 6-1 6-2 6-1 6-2 6-2 6-2 6-1 6-1 6-2 6-1 6-2 6-1 6-2 6-1 6-1" stroke="#2ca02c"/><path d="M0 328l6-11 6-1 6 0 6 0 6-2 6-7 6 3 6 4 6 7 6-2 6 1 6-1 6-9 6 4 6 10 6-1 6-3 6 9 6 10 6-5 6-3 6 7 6 0 6 2 6-1 6-8 6-9 6 11 6 2 6-6 6-5 6 15 6-6 6-1 6 10 6-4 6-11 6-6 6 0 6-10 6-4 6 9 6-8 6 2 6 6 6 16 6-6 6-3 6-11 6-5 6-8 6-6 6 3 6-10 6 8 6 4 6-5 6-14 6-4 6-6 6-2 6 2 6-2 6 4 6-2 6 7 6-15 6 5 6-5 6 0 6-7 6-5 6-4 6 0 6-4 6-9 6 12 6 1 6 9 6-4 6 0 6 0 6 2 6 2 6-2 6-4 6 4 6 6 6 5 6-2 6-4 6 5 6 6 6-6 6-8 6 10 6-6 6 5 6-5 6 1 6 1 6-14 6-4 6 2 6-1 6-2 6-7 6 2 6 1 6 7 6-2 6 4 6-4 6 1 6-10 6 0 6 4 6 2 6-8 6-7 6-12 6-5 6-4 6 0 6 1 6-5 6-3 6 0 6 1 6-1 6-8 6-4 6 2 6-3 6-6 6-4 6-3 6 1 6-4 6 3 6 3 6-7 6 4 6-5 6-4 6 7 6 6 6 4 6-5 6 3 6-2 6 4 6-2 6-2 6 0 6 1 6 1 6 8 6-3 6-2 6-8 6-2 6-5 6 2 6-1 6 3 6-7 6-3 6-7 6 1 6-2 6-4 6 4 6 6 6 7 6-1 6-2 6 0 6-7 6-3 6 1 6-2 6 2 6 4 6-3 6 2 6 1 6 2 6 5 6-1 6-7 6-1 6-2 6-1 6-6 6-5 6 1 6 8 6-2 6 2 6-5 6 3 6-5 6-6 6 0 6-5 6-2 6 0 6-3 6-1 6-2 6 0 6-8 6 1 6-2 6-2 6 0 6 0 6 1 6-4 6 1 6 3 6 0 6 2 6-2 6 0 6 2 6 3 6 2 6 1 6-1 6-4 6 0 6-1 6-3 6-2 6 0 6 1 6 0 6 0 6 2 6-5 6 4 6 0 6 2 6-2 6-4 6 2 6-4 6-4 6-1 6-2 6 1 6 2 6 2 6-4 6 1 6-1 6 4 6-2 6-1 6 2 6-2 6-8 6-4 6-1 6-2 6-1 6-3 6-2 6 1 6 0 6-2 6-3 6-2 6 0 6-2 6 0 6-2 6-1 6-1 6 2 6 0 6-2 6-7 6 0 6-1 6 0 6-1 6-3 6-1 6-3 6-1 6 0 6 1 6 0 6-2 6-2 6-2 6-2 6 1 6-1 6 0 6-2 6-1 6-1 6-1 6 1 6-2 6 0 6-1 6-2 6-3 6 0 6-1 6-1 6-1 6-2 6 0 6-1 6-1 6-2 6-1 6-1 6-2 6-1 6-1 6-1 6-1 6-2 6-1 6-1 6-1 6-2 6-1 6-2 6-1 6-1 6-1" stroke="#d62728"/><path d="M0 328l6 6 6 7 6 0 6 9 6 1 6-15 6-5 6 6 6 6 6-4 6-12 6 9 6-10 6-5 6-7 6 2 6 6 6 3 6-7 6-6 6 3 6 0 6 25 6-8 6-16 6-13 6 1 6-8 6 0 6-2 6 0 6-7 6 2 6-20 6-8 6 14 6 4 6 7 6 13 6-6 6-3 6 11 6-1 6-1 6 3 6-3 6-4 6-6 6-6 6-3 6-7 6-5 6 8 6-13 6 6 6-1 6 13 6-8 6 5 6 10 6 1 6 7 6 8 6 0 6 4 6-9 6 13 6-5 6-15 6-3 6-1 6-4 6-11 6-6 6 8 6-2 6-3 6-3 6-2 6-4 6-2 6-7 6 3 6-4 6-3 6-3 6-1 6-2 6 2 6 5 6 7 6-2 6-4 6-7 6 9 6 4 6 3 6 5 6-8 6 2 6-3 6-10 6-9 6-4 6 3 6 11 6 0 6-4 6-1 6-2 6 1 6 2 6-7 6 7 6-6 6-16 6-3 6 3 6 6 6-8 6-2 6 1 6 12 6-4 6 7 6 3 6-4 6 0 6-2 6 4 6-3 6-10 6-2 6 0 6 0 6-1 6-2 6 5 6 0 6-1 6 7 6-2 6 0 6 15 6-2 6 0 6-3 6-3 6 1 6-3 6 0 6 1 6-1 6 9 6-2 6-3 6-5 6-8 6 3 6 3 6 1 6-6 6-5 6 1 6 2 6 5 6 7 6-4 6-4 6 4 6-1 6-7 6-2 6 7 6 18 6-7 6 9 6 8 6 5 6-3 6 5 6 0 6 12 6 5 6 4 6 11 6 4 6-5 6-1 6 7 6-3 6 7 6-2 6-5 6 2 6-3 6-9 6-13 6 0 6 4 6 11 6-3 6-1 6-4 6-1 6-1 6-1 6-7 6-5 6-3 6-9 6 1 6-3 6-1 6-2 6-5 6 2 6 7 6 3 6 2 6 3 6-7 6 2 6 5 6 3 6-8 6 4 6 3 6-10 6 1 6-2 6 3 6-5 6-3 6 3 6-6 6-7 6-2 6 1 6 0 6 2 6-1 6-7 6-4 6 3 6-2 6-1 6-1 6 2 6-5 6-7 6-3 6 1 6 2 6-7 6-6 6 2 6 4 6 2 6-6 6 7 6-1 6-6 6 0 6-8 6 4 6 2 6-7 6-1 6 3 6 5 6-5 6 0 6 1 6 0 6-3 6 1 6 1 6-7 6-8 6-4 6-6 6-2 6 5 6 1 6-4 6 7 6 3 6-4 6-3 6-2 6-2 6-6 6-2 6-5 6 1 6-9 6 2 6-2 6-7 6 4 6-5 6 1 6-2 6-3 6-9 6 3 6-1 6-7 6-8 6-3 6-1 6 0 6-2 6-5 6-7 6-1 6 0 6-3 6 1 6-3 6 0 6-1 6 1 6 3 6 2 6-6 6-3 6-2 6-1 6-3 6 2 6-2 6-2 6 1 6-4 6-1 6-1 6-2 6-4 6-1 6-1 6 1 6 2 6-5 6 0 6 0 6-5 6-1 6-2 6-2 6-1 6-2 6-2 6-2 6-4 6-2 6-1 6 0 6-2" stroke="#9467bd"/><path d="M0 328l6-1 6-3 6-4 6 11 6-20 6 8 6 1 6-4 6 12 6-1 6 1 6-3 6 10 6 5 6 8 6-16 6 7 6 9 6 7 6-3 6 8 6 5 6-14 6 1 6-16 6-13 6-4 6 11 6-25 6 1 6 2 6-7 6-10 6-7 6-9 6-4 6-1 6-11 6 4 6 4 6-1 6-9 6 3 6-4 6-6 6-13 6-3 6 8 6-4 6 8 6 8 6 2 6 5 6 5 6-6 6-4 6 12 6 5 6-11 6 7 6-7 6 5 6-2 6-8 6 3 6 5 6 7 6 0 6-3 6-5 6 3 6-5 6-4 6 5 6-5 6-8 6-1 6 2 6-8 6-7 6-11 6 2 6 6 6-1 6-5 6-6 6 2 6-2 6 0 6-8 6-3 6 2 6-8 6-7 6-5 6 8 6-1 6 5 6-13 6-13 6-1 6-1 6-4 6 2 6 2 6 0 6-5 6-6 6 2 6-3 6 1 6-5 6-1 6 0 6-2 6-4 6-3 6-2 6 3 6 5 6 0 6 5 6-10 6-6 6 0 6 1 6-1 6 1 6 1 6-2 6-5 6 0 6-6 6 0 6 1 6-5 6-2 6-1 6 0 6 0 6 2 6 2 6-1 6 0 6 2 6-4 6-2 6-1 6-2 6-2 6 3 6-3 6-2 6 0 6 1 6-4 6-2 6-1 6 0 6 1 6 0 6 3 6 0 6-4 6 2 6-1 6 1 6-7 6 2 6 0 6 1 6-1 6-1 6 2 6 3 6-2 6-2 6-5 6-1 6 1 6-1 6-2 6-5 6 1 6-3 6 2 6-1 6 3 6-4 6-7 6-2 6-1 6 4 6-3 6-2 6-3 6-2 6-8 6 1 6-1 6 0 6 0 6-3 6-4 6-3 6-3 6 0 6-3 6 0 6-1 6-1 6-1 6-3 6-1 6-1 6-2 6-2 6 1 6 1 6-2 6-1 6-1 6-1 6-1 6-2 6-1 6 0 6-1 6-1 6-2 6-2 6-1 6-3 6-1 6-1 6-1 6 0 6-1 6-2 6-1 6-1 6-2 6-1 6-2 6-1 6-1 6-2 6-1 6-1 6-1 6-2 6-1 6-1 6-2" stroke="#8c564b"/><path d="M0 328l6-2 6-5 6 10 6-2 6 7 6 7 6-9 6 5 6-7 6-5 6 1 6 9 6-9 6-5 6 2 6 9 6-4 6-2 6-7 6-5 6 2 6 4 6 1 6 11 6 10 6-12 6-2 6 6 6-2 6-5 6-10 6-1 6 0 6 15 6-14 6-3 6-3 6 1 6 2 6-16 6-11 6-5 6-7 6 15 6-1 6 1 6-2 6-1 6-4 6 9 6-13 6-2 6-9 6 7 6 1 6-7 6-5 6-4 6-1 6-14 6 6 6 5 6-3 6-3 6 2 6-12 6-19 6 2 6-8 6 6 6 4 6 1 6-12 6-7 6-2 6 0 6 7 6-2 6-9 6 0 6-9 6-1 6 0 6 3 6 0 6-2 6 10 6-2 6 0 6-1 6-3 6-3 6 1 6 12 6 11 6-3 6 1 6-3 6 2 6-1 6-3 6-2 6-8 6-5 6-7 6 2 6-8 6 0 6-5 6 0 6-7 6 2 6 2 6-6 6 3 6 0 6-3 6 8 6 3 6-2 6-3 6 5 6-6 6-1 6 3 6-1 6 4 6-11 6 3 6-1 6-1 6-3 6 0 6 1 6 6 6-6 6-3 6-2 6 5 6-6 6 4 6 1 6-6 6-3 6-4 6-3 6-2 6-8 6-3 6-1 6-4 6-5 6-3 6 3 6 4 6-1 6-2 6 1 6-6 6-1 6-1 6 2 6 0 6-1 6 3 6-2 6 1 6-6 6 3 6-2 6-1 6 2 6 1 6-3 6 2 6-4 6 0 6-3 6 1 6-6 6-1 6 2 6 0 6 1 6-5 6-1 6-1 6 1 6 0 6 2 6-2 6-4 6 3 6-3 6-1 6-5 6-2 6-2 6-1 6-2 6-2 6 0 6 0 6-1 6 1 6-2 6 2 6-3 6-2 6-4 6 1 6-1 6 0 6-4 6-2 6-2 6-2 6-1 6-2 6 1 6 0 6-3 6-2 6-2 6 0 6-1 6 0 6-2 6-1 6 0 6-1 6-1 6-1 6-1 6-1 6-3 6-1 6 0 6-2 6 0 6-2 6 0 6-1 6-3 6 1 6 0 6-2 6-2 6-2 6-1 6-3 6-1 6 0 6-2 6-1 6-2 6 0 6-2 6-1 6-2 6-1 6-1 6-2 6-2 6-1 6-2 6-1 6-1 6-1 6-2 6-1 6-1" stroke="#e377c2"/><path d="M0 328l6-6 6 2 6-3 6-4 6-1 6 2 6-5 6 12 6-6 6 1 6 6 6 5 6 13 6-5 6-3 6 1 6-10 6-1 6 6 6 2 6-4 6 3 6-1 6-2 6 0 6 5 6-3 6 6 6 0 6 1 6 4 6 10 6-9 6-6 6 1 6-4 6 4 6 0 6 4 6-12 6-1 6 0 6 3 6 6 6 1 6-2 6 6 6-7 6 1 6 2 6-3 6-2 6-12 6 1 6 2 6-2 6 5 6 14 6 8 6-4 6 0 6 2 6-1 6-4 6 9 6-1 6-10 6-6 6-6 6 9 6 1 6-3 6-4 6-10 6 6 6-2 6-4 6-3 6-3 6 1 6-4 6-18 6-1 6-2 6-6 6-3 6 8 6-8 6-15 6-2 6 7 6-1 6 1 6-10 6 2 6 5 6-8 6 3 6 0 6-12 6-12 6-1 6-8 6-3 6 0 6-4 6-2 6-3 6 0 6 3 6-1 6-2 6 2 6-5 6-1 6 3 6 1 6 11 6-5 6 1 6-6 6 0 6 5 6-1 6-1 6 2 6-5 6 6 6-6 6-6 6 0 6 1 6 2 6-7 6-1 6-1 6-7 6 1 6 1 6 1 6 4 6-3 6-7 6-6 6 0 6 3 6-1 6-3 6 3 6-8 6 0 6 3 6-5 6 3 6 2 6 2 6 3 6-7 6 0 6-2 6 6 6-4 6 1 6 2 6-8 6 2 6-13 6-6 6-6 6-1 6 0 6 1 6 0 6-14 6 1 6-1 6 1 6-2 6 2 6-6 6-2 6-2 6-5 6-3 6 0 6 0 6 3 6-3 6-6 6-3 6-2 6 3 6-2 6 1 6-1 6-6 6-2 6 1 6 0 6-4 6-2 6 0 6 2 6-1 6-3 6-2 6 2 6 2 6 0 6-5 6-4 6 1 6-3 6 1 6-1 6-2 6 1 6-1 6-4 6-3 6 3 6 3 6 1 6-2 6-1 6-3 6 0 6-2 6-2 6 1 6-7 6-3 6-3 6-2 6 0 6-2 6-5 6 1 6-3 6-2 6-2 6-1 6 1 6 1 6-2 6-1 6-1 6-3 6-3 6 0 6-1 6 0 6-2 6-1 6-2 6-1 6-3 6-1 6-1 6-2 6-2 6-1 6-2 6 0 6-1 6-3 6-1 6-1 6-1 6-2 6-1 6-2 6-1 6-1 6-1 6-2 6-2 6-1 6-1 6-1 6-1 6-2 6-1 6-1 6-1" stroke="#7f7f7f"/><path d="M0 328l6 1 6-18 6-14 6 2 6 1 6-1 6 14 6-2 6 1 6 2 6-16 6 4 6-1 6-5 6 2 6-9 6-6 6 3 6-8 6 3 6-2 6-11 6-6 6 3 6 12 6 3 6 2 6 3 6-11 6 3 6 5 6-8 6-9 6-8 6 18 6-3 6 0 6 1 6-3 6 0 6-7 6-2 6-5 6 1 6 5 6 11 6-1 6 7 6 2 6 6 6-7 6 0 6 2 6 0 6-1 6-11 6 1 6 8 6-6 6-5 6 3 6 4 6-2 6-4 6 4 6-4 6-9 6-11 6-14 6 3 6 11 6-5 6 4 6-2 6-4 6-14 6-2 6 1 6 0 6-1 6 2 6-4 6 4 6-1 6 0 6 9 6 4 6-5 6 2 6-8 6 7 6 9 6 6 6-12 6-5 6 3 6-6 6-9 6 0 6 1 6 0 6-3 6-9 6 11 6 0 6 0 6-10 6-1 6 1 6 9 6-9 6-15 6 3 6-3 6-7 6 1 6 0 6-5 6 7 6-1 6 3 6-9 6 5 6-2 6-2 6 1 6-4 6 1 6 4 6 4 6-6 6 2 6 1 6 4 6-6 6 1 6-5 6-6 6-3 6-6 6-2 6-8 6-7 6 0 6 0 6-2 6 2 6-2 6-3 6 1 6 2 6-3 6-3 6 3 6 0 6-3 6 5 6 4 6-3 6 0 6 1 6-1 6 3 6 1 6 0 6-3 6-4 6 0 6-3 6-6 6-2 6-7 6 2 6-2 6 3 6 1 6 5 6-4 6 2 6 0 6 3 6-7 6-4 6-7 6-3 6 0 6-4 6-2 6-1 6-5 6 0 6 2 6-5 6-1 6-4 6-4 6-6 6 0 6-1 6-2 6 0 6 1 6-1 6 1 6-1 6-3 6-3 6 0 6-4 6-1 6 0 6-3 6 2 6-4 6 1 6-1 6 0 6-4 6 1 6-4 6 0 6-4 6-3 6 1 6-1 6 0 6 0 6-2 6-3 6-1 6-2 6 0 6-3 6 0 6-1 6 0 6-1 6 0 6 1 6-1 6-1 6-1 6-1 6-1 6-2 6-2 6 0 6-2 6 0 6-1 6-1 6-2 6-1 6-2 6 0 6-1 6-1 6-1 6-2 6-1 6-1 6-1 6-2 6-1 6-1 6-2 6-1 6-2 6-1 6-2 6-1 6-1 6-1 6-2" stroke="#bcbd22"/><path d="M0 328l6-1 6-16 6 6 6-2 6 3 6-8 6 1 6-16 6 12 6-8 6 1 6-3 6-3 6-5 6-13 6 2 6-1 6 10 6-7 6-5 6 6 6-8 6 2 6-1 6-6 6-2 6 5 6-14 6-2 6-11 6 3 6-8 6-5 6 5 6 1 6-5 6-7 6 0 6-5 6 4 6 5 6-11 6 8 6-2 6-6 6-2 6-13 6 4 6-3 6-5 6-10 6 4 6-4 6 2 6 0 6 4 6-10 6 0 6-1 6-3 6 3 6 0 6 6 6 0 6-3 6-3 6-5 6-2 6 2 6-9 6 2 6 3 6 5 6 0 6 5 6-2 6 3 6 7 6 4 6-5 6 9 6 1 6 7 6-1 6-5 6-3 6 6 6 9 6-3 6-3 6 2 6-6 6-1 6 4 6-15 6-2 6-3 6 0 6-3 6 3 6-1 6 0 6-5 6 0 6 2 6-9 6 6 6 8 6-2 6 4 6-2 6-7 6-1 6 5 6 8 6 3 6 2 6-9 6 2 6 1 6 8 6-1 6 0 6-2 6-3 6-4 6 2 6 2 6 6 6-12 6 0 6 4 6-3 6 9 6 0 6-2 6-9 6 1 6 2 6-5 6 4 6-2 6-6 6 10 6 1 6-1 6-4 6-1 6-1 6 2 6-1 6-6 6 5 6 6 6-5 6-8 6 1 6 4 6-2 6 3 6-6 6-1 6-3 6-6 6-3 6-1 6 0 6-1 6-7 6-3 6-4 6-6 6-6 6 2 6-4 6-5 6-3 6-2 6-7 6-5 6 1 6 1 6 3 6 0 6-3 6-2 6-2 6-8 6 0 6-3 6 0 6-1 6-4 6-3 6 4 6-4 6-1 6-1 6-5 6-1 6 3 6 0 6-2 6-2 6-2 6 1 6 0 6-1 6-3 6 1 6 1 6-1 6 0 6-4 6 0 6-5 6 0 6-5 6 0 6-3 6 1 6-1 6-2 6-1 6-1 6-1 6-2 6 0 6-2 6 0 6-2 6 1 6-1 6-3 6-1 6 1 6-3 6 1 6-1 6-4 6-1 6 0 6-1 6-2 6 0 6 0 6-2 6-1 6-1 6-2 6-2 6-1 6 0 6-1 6-1 6-2 6-1 6-1 6-2 6-2 6-1 6-1 6-1 6-2 6-1 6-1 6-1 6-1 6-1 6-2 6-1 6-1 6-2 6-1 6-1 6-1 6-2" stroke="#17becf"/><path d="M0 328l6-13 6 0 6-13 6-12 6-15 6 4 6 11 6-2 6-4 6 3 6-2 6-12 6-5 6 2 6-8 6 6 6 11 6-3 6-12 6 2 6-4 6-6 6 5 6-5 6 7 6-8 6 11 6 0 6 1 6-7 6-4 6-1 6 6 6-2 6 5 6 7 6-5 6-7 6 11 6-11 6 6 6-5 6-1 6-3 6 3 6-6 6-6 6-8 6 15 6-5 6-2 6-1 6 5 6 10 6 0 6 6 6-4 6 5 6-8 6 4 6 1 6 3 6-5 6-7 6-1 6-7 6-5 6 2 6 1 6-4 6-9 6 4 6-1 6 4 6-6 6-14 6 5 6 5 6 3 6 2 6 5 6-8 6 2 6-1 6-4 6-5 6 1 6 3 6 8 6 4 6-7 6 10 6-7 6 3 6-5 6 2 6-4 6 2 6 6 6-2 6-3 6 6 6-1 6 4 6-5 6-9 6-6 6 4 6-2 6 3 6 2 6-1 6 5 6 1 6-9 6 6 6-8 6-5 6-4 6-6 6-2 6 0 6-3 6-2 6-1 6-1 6-2 6-1 6-2 6 3 6 6 6 0 6-4 6-4 6 3 6 2 6 3 6-1 6 0 6-4 6 0 6 0 6 0 6 8 6 4 6 2 6 4 6-7 6-2 6 2 6-2 6 1 6-8 6-1 6 2 6 0 6-1 6 0 6-2 6 9 6 13 6-4 6 4 6 0 6 4 6-7 6-1 6 7 6-1 6 4 6-6 6-5 6 2 6-1 6 4 6-1 6 8 6 0 6-2 6 1 6 3 6-8 6 12 6-4 6 1 6-1 6-8 6 3 6-2 6-2 6-1 6-7 6 5 6 3 6-6 6 2 6 3 6-4 6-6 6-11 6-5 6 2 6-5 6-6 6-6 6-2 6-8 6-1 6 0 6-3 6-3 6-4 6 4 6 2 6 2 6-6 6-3 6 2 6 3 6 1 6 10 6 4 6 0 6 1 6 0 6 2 6 9 6-9 6-4 6-5 6-1 6 8 6-4 6 0 6-8 6-9 6 1 6-2 6 2 6-6 6-3 6 0 6-4 6 0 6 2 6-2 6-3 6-4 6 0 6-1 6-2 6 1 6-9 6 1 6 1 6-3 6 4 6 0 6 1 6-1 6-5 6-1 6-3 6-6 6 0 6 0 6 0 6 1 6 0 6 5 6-5 6 1 6-2 6-2 6-3 6-2 6-4 6 1 6 0 6-2 6-1 6-1 6 0 6 0 6-3 6-2 6-2 6-4 6 4 6 0 6 0 6 1 6 0 6-6 6-2 6 1 6-4 6-1 6 0 6-2 6 0 6-1 6-1 6 2 6 0 6 1 6-2 6-4 6 0 6 0 6-2 6-3 6-2 6-1 6-1 6 1 6-2 6-2 6-1 6 2 6-3 6-2 6-2 6-2 6 1 6 2 6-1 6 0 6 0 6-3 6-3 6 1 6-1 6 1 6-1 6-3 6 1 6 1 6-2 6-3 6 0 6-2 6 0 6-2 6 0 6 0 6 0 6-2 6-2 6-3 6 0 6-1 6-2 6-3 6 0 6-1 6-1 6-1 6-1 6-1" stroke="#1f77b4"/><path d="M0 328l6-4 6 12 6-3 6-17 6 6 6 5 6-9 6 3 6-5 6 1 6 6 6-6 6 15 6 5 6 9 6-2 6 16 6 11 6 5 6 5 6 1 6-4 6 11 6 4 6 0 6 0 6 5 6 5 6 3 6-7 6-11 6 1 6 2 6-2 6 3 6-8 6 9 6 12 6-16 6 18 6-11 6 5 6 0 6 1 6 0 6-5 6 0 6-6 6 20 6-13 6-6 6 3 6-3 6-22 6-1 6-9 6-15 6-6 6 4 6-9 6 12 6 7 6 3 6-6 6 10 6 5 6-4 6 5 6-15 6-13 6-3 6 9 6 3 6-7 6 9 6 4 6 7 6 9 6-12 6 2 6-5 6-13 6-12 6-3 6 2 6-2 6-11 6-4 6-7 6-11 6-2 6 4 6-6 6 5 6 5 6 4 6 13 6-11 6-13 6-1 6 1 6-1 6 3 6 15 6-4 6 6 6-2 6-4 6-4 6-10 6 14 6 1 6 3 6 12 6 4 6 11 6-10 6-7 6 7 6-4 6-8 6 8 6-1 6 8 6-3 6-4 6 9 6 9 6-6 6 8 6-4 6-1 6-2 6-5 6-2 6 2 6 4 6-5 6 0 6-3 6 10 6-12 6-11 6-1 6-3 6 5 6-3 6 0 6-4 6 13 6-8 6-3 6-3 6-4 6 11 6 0 6-5 6-4 6 5 6 5 6-1 6-6 6-7 6 1 6 0 6-3 6 4 6-6 6 0 6-6 6-3 6-13 6-8 6-4 6 0 6-5 6 7 6-4 6-7 6-2 6 1 6-4 6-2 6 10 6 3 6-5 6 2 6-2 6 8 6-1 6-4 6-2 6-2 6 1 6 2 6 8 6-4 6 0 6 3 6 6 6 17 6 5 6 10 6 3 6 10 6-7 6-1 6-4 6-4 6-15 6 0 6-10 6-6 6-7 6-2 6 4 6-3 6 7 6 2 6-4 6 3 6 0 6-1 6 5 6 0 6-3 6-2 6 1 6 2 6 4 6-4 6-2 6-4 6 3 6-3 6-13 6-7 6-8 6-3 6 4 6-2 6 3 6-7 6 5 6 1 6-2 6 3 6 5 6-5 6-5 6-3 6-1 6 2 6-1 6-8 6 4 6-2 6 1 6 2 6-5 6-8 6 9 6-5 6-6 6 2 6 7 6 5 6 4 6 5 6 3 6-11 6 8 6 4 6 2 6-2 6 2 6-8 6-7 6-11 6 2 6-1 6-7 6 8 6-10 6 8 6 9 6-2 6 6 6-2 6 6 6 3 6 3 6 11 6-7 6-3 6 1 6-7 6 2 6-2 6 0 6-9 6-8 6 2 6 5 6-2 6 6 6 1 6 5 6 1 6 6 6-6 6 1 6 3 6-3 6 7 6 6 6 0 6 5 6-3 6-4 6 9 6 0 6 0 6 8 6-2 6-1 6-6 6-8 6 7 6 7 6 5 6 7 6-1 6-1 6-5 6-7 6-13 6 2 6 2 6-12 6 9 6 1 6-6 6 9 6-4 6-12 6 4 6 2 6 0 6-1 6 7 6 9 6-9 6-14 6 0 6-5 6-4 6-4 6-5 6-2" stroke="#ff7f0e"/><path d="M0 328l6 3 6 6 6-12 6 1 6 1 6-13 6-3 6-10 6-4 6-2 6-5 6-11 6-7 6-7 6 7 6 2 6 0 6-1 6 2 6-11 6-3 6 3 6 4 6-5 6 3 6 6 6 7 6 1 6-8 6 0 6-1 6 6 6 8 6 7 6 7 6-3 6 2 6 3 6-8 6-14 6 7 6-8 6-1 6-11 6-3 6 7 6-3 6-1 6-10 6-4 6 1 6-1 6-3 6-3 6-5 6 2 6 5 6-2 6-3 6-2 6-7 6 9 6 0 6 5 6-4 6 3 6 5 6 2 6-5 6 9 6 3 6 9 6-9 6 10 6-3 6-6 6 3 6-2 6-3 6-1 6 12 6 1 6-3 6 4 6 2 6 16 6-1 6-4 6-10 6 6 6-3 6-7 6-11 6 5 6 1 6-8 6-2 6-4 6 14 6-2 6 12 6-1 6 2 6 0 6-15 6-14 6-2 6 3 6 6 6-9 6 0 6-6 6-1 6-2 6 7 6-9 6 3 6 0 6 1 6 3 6-6 6-12 6 10 6 5 6 6 6-10 6-4 6-1 6-4 6-4 6 0 6-4 6-8 6-6 6-1 6 5 6 5 6-4 6 0 6-4 6 3 6-10 6-1 6-7 6-4 6-5 6 3 6-1 6 1 6 14 6-7 6 7 6 6 6-10 6-1 6-2 6 3 6-2 6-2 6 8 6-3 6-1 6-8 6 2 6 7 6-4 6-4 6 2 6 2 6-8 6-8 6 2 6 0 6 2 6 7 6-2 6 3 6-6 6 0 6-1 6 0 6-3 6 2 6 3 6-2 6-1 6-2 6-5 6 2 6-1 6 2 6 2 6-10 6-3 6-1 6 0 6 2 6 3 6 0 6 3 6 1 6-1 6 1 6 5 6-3 6 0 6 3 6-3 6-9 6-5 6-5 6-5 6 1 6 3 6-5 6-3 6-7 6 0 6-2 6 1 6-2 6-1 6 3 6-2 6 7 6 3 6 0 6 4 6-3 6 3 6-5 6-3 6-4 6-2 6 5 6 0 6-11 6-4 6-2 6-3 6-2 6-1 6-2 6-6 6-4 6 0 6-1 6-3 6 7 6 5 6-2 6-2 6 4 6 2 6 2 6-1 6-5 6-1 6-1 6 0 6-6 6 1 6 0 6-4 6 0 6-1 6-2 6 1 6 1 6-3 6-1 6-4 6 4 6-4 6 0 6-1 6 1 6 2 6-1 6-2 6 2 6-5 6-4 6-2 6-3 6-1 6 2 6-4 6-2 6-2 6-3 6 1 6-2 6 0 6 0 6 0 6-2 6-1 6-2 6-1 6 1 6-2 6-2 6-1 6-1 6 1 6 0 6-2 6-1 6-2 6 0 6-3 6 0 6-2 6-3 6 0 6-3 6-2 6-2 6 0 6-1 6 0 6-2 6-1 6-2 6-1 6 0 6-1 6-1 6 0 6 0 6-2 6-1 6 0 6-2 6-1 6-2 6-1 6-1 6-2 6-2 6-1 6-1 6-1 6-1 6-2 6-1 6-1 6-2 6-1 6-1 6-2 6-1" stroke="#2ca02c"/><path d="M0 328l6 1 6 3 6-23 6 10 6 3 6-2 6-5 6-5 6-8 6-1 6-8 6-14 6 2 6 14 6-9 6-1 6 1 6 8 6 0 6 1 6 11 6 10 6-12 6-4 6-5 6 1 6 5 6-7 6-1 6 3 6 3 6 3 6-6 6-1 6 5 6-16 6-7 6-1 6 5 6 0 6 3 6-1 6 6 6-2 6-2 6 0 6-2 6 3 6-3 6 7 6 5 6 0 6-4 6-21 6 4 6 1 6 3 6 0 6 5 6-11 6-11 6 3 6-7 6 1 6-7 6 5 6 5 6-1 6-2 6-8 6 3 6-9 6-7 6 4 6-6 6-3 6 1 6-3 6 10 6-12 6-1 6-7 6 4 6-6 6 1 6 0 6-1 6 4 6-11 6-8 6-6 6-6 6-5 6-8 6 2 6-6 6-10 6 4 6 4 6-1 6 0 6-2 6 1 6 3 6-4 6-4 6 3 6-8 6-6 6-4 6 2 6-4 6 8 6 4 6-1 6-6 6-2 6 5 6-2 6-4 6-1 6 0 6 0 6 0 6 6 6 6 6 5 6 6 6 0 6 1 6-2 6 1 6-6 6-1 6 4 6-6 6-2 6 0 6-4 6 2 6-6 6-3 6-11 6-1 6 4 6-3 6 3 6 0 6-1 6-1 6-2 6-3 6 4 6-7 6 1 6 0 6 1 6 0 6 3 6 2 6-3 6-4 6 0 6-1 6 0 6 6 6-2 6 0 6-3 6-3 6-7 6-1 6-2 6-7 6 0 6 1 6-1 6 4 6-1 6-2 6 0 6 1 6 0 6-3 6 2 6-3 6 4 6-3 6-3 6-3 6-5 6 1 6 0 6-2 6 0 6-1 6-1 6 0 6 1 6-4 6-2 6 3 6 2 6-1 6-1 6-2 6-5 6 0 6 1 6-2 6-3 6-1 6-1 6-2 6-4 6 2 6-1 6-3 6 0 6 3 6-5 6 1 6-1 6 0 6-1 6-1 6-3 6-5 6 0 6 0 6-1 6-1 6-1 6-1 6 3 6 0 6 0 6 0 6 0 6 0 6 1 6 0 6-2 6-2 6 0 6-2 6-3 6 0 6-2 6 0 6-1 6-1 6-1 6-4 6-3 6-1 6-2 6-3 6-2 6 0 6-3 6-1 6 1 6-1 6-2 6-1 6-1 6-2 6-1 6-1 6-1 6-2 6-2 6-1 6-2 6-1 6-2 6-1 6-1 6-2 6-1 6-1 6-2 6-1" stroke="#d62728"/><path d="M0 328l6-4 6 0 6-8 6-15 6-3 6-4 6 0 6 1 6-14 6 1 6 2 6 2 6 11 6 6 6-15 6-4 6 4 6-9 6 2 6 0 6-5 6 9 6-1 6-7 6 6 6-1 6-6 6 1 6-6 6-3 6-6 6 7 6-2 6-1 6 8 6 5 6-8 6-2 6-1 6 4 6 7 6-1 6 0 6-6 6-1 6-1 6 0 6-3 6 4 6 6 6-9 6 5 6 12 6-6 6-1 6-6 6-1 6-3 6-2 6-1 6 1 6 1 6-12 6-8 6-5 6 2 6 2 6 2 6 0 6-10 6-3 6-4 6-1 6 1 6-2 6-10 6-2 6-3 6 1 6 5 6 0 6-1 6-2 6-6 6 0 6-7 6-6 6-1 6-6 6-1 6 1 6-1 6 3 6 3 6-1 6 11 6 0 6-4 6 2 6-1 6 2 6-2 6-13 6-2 6 8 6-2 6 5 6-10 6 3 6 0 6 0 6 2 6 1 6 1 6-4 6 2 6-4 6-8 6-3 6 1 6 4 6-5 6 0 6 1 6-5 6-6 6 2 6 3 6-4 6 9 6 4 6 1 6 2 6 2 6 6 6-1 6-6 6-9 6-1 6 0 6 1 6 4 6 2 6 2 6 4 6 1 6 0 6-1 6 2 6 1 6-4 6 2 6-3 6-6 6-5 6-2 6-1 6-5 6 6 6-5 6 0 6 5 6-5 6 0 6 0 6-5 6-5 6 2 6 1 6-5 6-2 6 0 6 0 6 3 6-1 6-3 6-2 6-2 6-2 6-1 6-2 6-4 6 0 6 0 6-1 6-4 6-1 6-1 6-1 6-1 6 2 6-3 6 1 6-1 6 2 6-2 6 1 6 1 6-1 6 4 6-3 6 3 6 0 6-4 6-4 6 1 6-3 6-1 6-1 6 0 6-1 6-1 6 1 6 3 6 1 6-5 6-2 6 0 6-3 6-2 6 1 6-2 6-4 6 2 6 4 6-2 6-3 6-1 6 0 6 0 6 0 6-4 6-2 6-5 6-4 6-3 6 1 6 1 6-1 6-3 6-5 6-1 6 0 6-3 6 0 6 2 6-3 6 2 6-2 6-5 6-1 6-1 6-4 6-1 6-1 6-1 6-1 6 0 6-4 6-3 6-2 6-3 6-3 6 0 6-2 6-3 6-3 6-1 6-2 6 0 6 0 6 0 6-2 6 0 6 0 6 1 6-1 6 0 6-2 6-1 6-3 6-2 6 0 6-1 6 0 6-1 6-3 6-1 6-2 6-1 6-2 6-1 6-1 6-2 6-1 6-1 6-2 6-1 6-1 6-2 6-1 6-1 6-2 6-1 6-1" stroke="#9467bd"/><path d="M0 328l6-22 6 4 6-9 6 2 6-6 6 3 6 9 6 4 6 0 6-1 6 13 6 3 6 1 6-13 6-12 6-2 6-11 6-1 6 5 6-13 6 1 6 2 6 10 6 0 6 0 6-2 6-4 6-13 6-6 6-1 6 4 6 9 6-3 6-5 6 1 6-14 6-4 6-4 6 7 6-16 6 3 6 7 6 0 6 9 6 2 6 1 6-2 6-4 6 4 6-4 6 1 6-8 6-8 6-5 6-16 6 2 6-4 6 2 6-4 6 1 6 0 6-3 6 3 6 4 6-4 6-6 6 7 6 2 6 5 6-1 6 4 6 0 6-3 6-10 6-5 6-2 6 6 6 3 6-11 6 1 6-9 6-5 6-1 6-3 6-4 6-5 6 1 6-11 6 4 6-2 6-8 6-7 6 3 6 8 6 3 6 5 6 6 6-8 6 2 6-4 6-6 6 0 6-5 6 0 6 6 6 4 6-5 6-4 6-3 6 2 6 0 6-1 6 3 6-6 6-1 6 0 6-1 6 0 6-3 6 3 6-3 6-4 6-2 6 3 6-3 6 3 6 0 6 1 6-2 6-1 6 3 6 0 6 1 6 1 6-7 6-1 6-2 6 3 6-1 6 3 6-3 6 1 6-1 6-6 6 0 6-1 6 9 6-6 6-1 6 5 6-1 6-3 6-4 6-2 6-1 6-3 6-1 6-1 6-5 6-2 6-7 6 2 6-3 6-5 6 0 6 2 6 6 6 2 6-2 6 0 6-1 6 0 6 0 6 2 6-4 6 3 6-9 6-4 6 2 6 0 6-5 6 1 6 2 6-3 6-4 6 0 6-2 6 4 6 0 6-3 6-2 6-4 6-2 6-1 6-2 6-5 6-2 6-1 6-2 6 3 6-1 6 3 6-1 6-4 6-2 6-2 6 1 6 2 6 0 6-3 6-2 6-1 6-2 6-2 6 0 6-2 6-2 6 1 6-1 6-2 6 0 6-3 6 0 6-2 6-2 6-3 6-4 6-3 6-1 6-2 6-1 6-2 6-3 6 0 6-1 6-3 6-1 6-2 6 0 6-3 6-1 6-1 6-2 6-1 6-1 6-1 6-1 6-2 6 0 6-2 6-1 6-2 6-1 6-1 6-1 6-2 6-1 6-1 6-2" stroke="#8c564b"/><path d="M0 328l6 1 6-1 6-12 6-4 6-9 6 2 6 2 6 5 6 7 6 1 6 5 6-7 6 0 6 3 6-6 6-2 6 8 6 8 6 8 6-8 6 6 6 7 6-4 6-8 6-10 6-13 6 3 6 4 6-13 6-5 6 2 6 6 6-6 6-8 6 4 6-5 6-8 6 5 6 2 6-8 6-2 6 6 6 0 6 3 6 5 6-10 6-14 6-3 6-7 6 8 6 1 6-2 6 13 6-7 6 5 6-14 6-3 6-12 6 1 6 10 6 7 6-12 6-4 6-2 6-1 6 8 6-3 6-5 6-2 6-5 6-5 6-2 6 3 6 3 6 12 6-12 6-5 6 0 6-3 6-2 6 0 6 2 6-1 6 1 6 4 6 2 6 4 6-1 6-1 6 6 6 6 6-1 6 10 6-7 6 11 6-6 6-8 6-7 6 9 6-8 6-9 6-5 6 1 6 10 6-5 6 0 6-5 6 3 6-5 6-1 6 0 6 8 6 0 6-7 6 4 6 2 6 8 6-2 6-2 6-1 6-3 6-6 6 2 6-6 6 11 6-3 6 5 6 1 6 1 6 5 6-2 6-5 6-6 6 1 6 4 6-2 6-4 6-11 6 3 6-1 6 2 6-4 6-5 6-2 6-1 6-1 6 0 6 5 6 4 6-6 6-8 6-2 6-8 6-3 6-6 6-2 6 1 6 9 6-4 6 5 6 2 6 2 6-3 6 2 6-2 6-1 6 0 6-1 6-4 6-1 6-9 6 3 6 7 6-4 6-6 6 0 6 2 6-13 6-1 6-2 6 1 6 4 6 2 6-5 6 2 6-3 6 1 6 3 6 1 6-5 6-2 6 11 6 2 6-9 6 6 6-1 6 0 6 3 6 5 6-2 6 2 6-3 6 1 6 1 6 0 6 1 6 4 6-1 6-2 6-1 6 3 6-2 6 6 6-2 6 4 6-1 6-4 6-2 6-2 6 4 6-8 6 8 6-3 6 0 6-3 6 1 6 4 6-2 6-1 6-4 6 4 6 14 6 5 6-6 6-2 6-2 6-6 6 1 6-6 6 2 6-2 6 10 6 9 6-1 6-6 6-7 6 0 6 5 6-2 6-10 6 4 6-8 6-2 6-2 6-2 6-7 6 1 6 0 6-5 6 3 6-2 6-1 6 6 6-1 6-1 6-2 6 0 6-3 6-2 6-1 6 0 6 0 6-3 6-2 6 5 6 0 6 4 6-3 6-3 6-1 6-1 6-4 6-3 6-3 6 2 6 2 6 7 6-4 6 0 6 1 6-4 6 0 6 1 6 4 6-4 6-6 6-2 6-2 6-3 6 1 6 5 6-7 6-1 6-6 6-2 6-7 6-2 6 3 6-4 6 1 6-2 6 0 6-8 6-2 6-4 6 3 6 2 6-5 6-1 6-5 6 2 6-1 6 1 6-1 6-2 6 1 6 0 6-2 6 1 6-3 6-2 6 3 6-1 6 3 6-2 6 0 6-3 6-2 6-1 6-1 6 0 6 2 6-3 6 1 6-1 6-1 6 0 6 0 6-1 6-2 6-3 6 0 6-4 6-2 6-2 6 0 6 0 6-2 6-3 6-2" stroke="#e377c2"/><path d="M0 328l6-7 6-7 6-5 6 4 6 2 6 1 6-4 6 3 6 11 6-3 6-2 6 4 6-8 6 6 6-1 6 12 6-13 6 0 6-4 6-1 6-13 6-5 6 1 6-8 6 11 6-8 6 5 6-4 6-6 6 4 6 1 6-7 6-3 6 0 6 5 6-4 6 0 6 5 6-4 6-6 6-1 6-7 6-3 6-4 6 3 6 3 6-6 6-1 6-11 6 2 6-10 6-4 6-1 6-7 6-4 6 1 6 5 6-2 6-3 6 3 6 9 6 8 6-9 6 1 6-3 6-5 6 1 6-2 6 0 6-3 6 0 6-6 6-7 6 1 6-6 6 2 6 3 6-5 6 0 6-10 6 1 6 4 6 3 6-7 6 3 6 9 6-5 6 7 6-5 6 0 6 3 6-10 6-9 6 1 6-6 6-1 6 2 6-7 6 5 6-4 6-1 6 0 6-1 6 0 6 2 6-2 6 2 6 0 6 2 6 5 6 0 6-3 6 9 6-3 6-11 6-2 6-11 6 1 6 7 6-3 6-3 6 6 6 1 6 0 6-9 6-6 6-9 6-2 6 2 6 8 6 1 6 1 6 1 6-7 6-5 6-2 6-5 6-2 6-2 6-1 6 0 6-4 6-1 6 4 6-6 6 0 6-5 6-2 6 5 6 3 6 0 6-1 6-2 6 0 6 6 6-3 6-1 6 0 6-1 6 0 6 4 6-2 6 0 6-5 6 2 6 1 6 0 6-2 6-5 6-7 6-3 6 4 6-2 6-4 6-5 6-2 6-2 6-5 6-1 6-1 6-4 6-1 6-3 6-1 6-3 6 3 6-2 6 6 6-2 6-1 6 3 6-3 6-6 6-1 6-1 6-2 6-2 6-2 6 0 6-1 6-2 6 2 6-3 6-5 6-3 6-4 6-1 6-1 6-1 6-1 6-4 6-1 6-1 6-1 6 1 6-3 6 0 6-1 6 0 6-2 6-2 6-2 6-1 6-2 6-2 6-4 6-2 6 0 6-2 6-1 6-2 6-3 6-2 6-2 6-2 6 0 6 0 6-3 6-1 6-1 6-2 6-1 6-1 6-1 6-2 6-1 6-2 6-1 6-1" stroke="#7f7f7f"/><path d="M0 328l6-4 6-4 6-5 6-5 6 4 6-6 6-8 6-5 6-5 6 3 6-5 6-3 6-7 6-15 6 4 6-6 6-6 6 5 6 0 6 6 6-3 6 5 6 3 6-1 6 1 6-2 6-1 6-1 6-4 6 0 6-3 6 7 6 7 6-12 6 1 6-1 6 1 6 8 6-9 6-3 6 12 6 0 6 3 6-3 6 1 6-4 6-5 6-5 6-2 6-2 6 4 6 2 6 3 6-4 6-2 6-9 6-4 6 4 6 0 6-4 6 2 6 2 6 0 6-5 6-3 6-2 6-5 6 3 6 5 6 5 6-5 6 9 6-12 6-4 6-2 6-8 6 8 6-4 6 2 6 3 6 2 6-3 6 4 6 2 6 7 6-2 6-2 6 1 6-2 6-3 6-8 6 4 6-2 6-1 6 2 6-12 6 4 6-9 6-4 6-6 6 1 6-2 6 1 6-13 6-4 6 4 6-2 6-2 6-4 6-7 6-10 6 0 6 2 6-3 6-1 6-5 6 0 6 7 6 5 6-1 6-3 6-2 6-2 6 2 6 0 6 8 6-4 6-3 6 6 6-1 6 0 6 2 6 2 6-5 6-2 6-7 6 8 6 3 6-3 6 3 6-5 6-4 6 3 6-3 6 2 6 1 6-4 6-2 6-6 6 1 6 0 6-9 6-1 6-2 6-2 6-1 6-1 6 4 6 0 6 1 6-4 6 4 6 1 6-4 6 0 6 0 6-1 6-6 6-2 6-1 6-1 6-4 6 0 6-2 6 1 6 0 6-2 6 1 6-2 6-2 6-6 6 2 6 1 6-4 6-1 6-2 6 5 6 6 6-4 6-2 6-2 6-6 6 0 6-2 6 2 6-3 6 4 6 1 6 2 6 4 6 1 6-2 6-6 6-2 6 0 6 3 6-1 6 1 6 1 6-4 6 0 6 1 6-3 6 2 6 1 6-1 6-1 6-2 6-1 6-2 6-4 6 1 6-4 6 0 6-3 6 0 6-2 6 2 6 2 6-3 6 0 6-2 6 3 6 2 6 0 6 2 6 0 6-3 6 4 6 2 6-2 6-2 6 0 6 0 6 1 6-5 6 3 6-1 6-2 6-6 6 0 6-3 6-2 6 1 6-3 6-2 6-2 6-2 6-3 6 0 6 1 6 3 6 1 6-1 6-1 6 2 6-3 6-2 6 0 6-3 6-1 6 0 6 0 6-2 6-3 6-4 6-1 6 1 6-3 6-1 6-2 6 1 6-2 6-1 6-1 6-3 6-3 6-2 6-1 6 0 6-1 6 0 6-1 6-1 6-1 6 0 6-1 6-1 6-2 6 0 6-1 6-1 6-2 6 0 6-3 6-1 6-2 6-1 6-2 6-1 6-1 6-1 6-2 6-1 6-2 6-1 6-1 6-1 6-1 6-2 6-1" stroke="#bcbd22"/><path d="M0 328l6-8 6-1 6 4 6-6 6-3 6-9 6-7 6-10 6 7 6 1 6 10 6-8 6-2 6 1 6-9 6-17 6-10 6 3 6-6 6 5 6-3 6-5 6 3 6-16 6-5 6-11 6 2 6-9 6 0 6 8 6 9 6-7 6-5 6 7 6 2 6-6 6-1 6 4 6-2 6 0 6-6 6 7 6-4 6-8 6 3 6 10 6-7 6-11 6-1 6 4 6-2 6-8 6-2 6 7 6-5 6-1 6-5 6-3 6-6 6 1 6 4 6-3 6-2 6 1 6-7 6-4 6-4 6-9 6 6 6 4 6 3 6 5 6 0 6 2 6-1 6 2 6-4 6-3 6-12 6 1 6-1 6-1 6-5 6-7 6-2 6-6 6-8 6-1 6-2 6-3 6 2 6 5 6-5 6 2 6 0 6 1 6 3 6 5 6-1 6-6 6-2 6-2 6-4 6-3 6-1 6-3 6-2 6 1 6-3 6-1 6-1 6 0 6-4 6-2 6 3 6-1 6-2 6-4 6-3 6-2 6 2 6 2 6 1 6-3 6-2 6-2 6 1 6-1 6-1 6-3 6-2 6 0 6 1 6 0 6-4 6 1 6-1 6 0 6-3 6 3 6-3 6 1 6 0 6-4 6-2 6 0 6-3 6 2 6-1 6 0 6 1 6-4 6-3 6 0 6 0 6-1 6-4 6 0 6-2 6 2 6-1 6-4 6-3 6-1 6-2 6-2 6-2 6 1 6-3 6 0 6-3 6 0 6 0 6 0 6-2 6-2 6 0 6 0 6 0 6-1 6 0 6-2 6-1 6-1 6 1 6-1 6-1 6 0 6-2 6 0 6-2 6 0 6-2 6-1 6-3 6-3 6-2 6-2 6-1 6-1 6-2 6-1 6-1 6-1 6-1 6-2 6-2 6-1 6-2 6-1 6-1 6-1 6-2 6-1 6-2 6-1" stroke="#17becf"/><path d="M0 328l6 1 6-6 6-7 6-5 6-2 6 7 6-1 6 4 6 9 6-5 6-6 6-14 6 0 6 2 6 15 6 5 6 8 6-4 6-13 6-7 6-1 6-6 6 4 6 2 6 4 6-5 6-9 6-6 6-11 6-5 6-5 6-8 6 1 6 2 6-9 6-5 6 1 6-5 6 2 6 4 6-5 6 4 6-5 6-3 6 3 6 3 6 8 6-9 6-6 6 2 6 7 6 0 6-2 6 5 6-5 6-4 6-4 6-9 6-1 6 3 6-1 6-18 6 14 6-11 6-4 6-1 6 6 6 0 6-1 6-4 6-2 6-11 6-3 6-1 6-7 6-5 6-7 6-7 6 3 6 6 6 6 6-3 6-4 6 1 6 3 6 1 6-7 6 0 6-1 6 9 6-4 6 0 6-5 6-2 6-1 6-2 6 6 6 3 6 1 6-1 6 2 6-3 6-3 6 5 6 2 6 3 6 0 6-5 6 1 6-2 6 0 6-5 6-3 6 0 6 5 6-1 6-1 6 3 6 4 6-2 6-3 6 9 6-3 6-3 6-2 6-8 6-3 6-3 6 4 6 1 6 5 6 8 6 2 6-2 6 5 6-2 6-2 6-1 6-3 6 8 6 3 6-2 6 0 6-1 6 3 6 3 6-2 6 5 6 7 6 4 6-7 6-3 6 4 6 5 6 0 6-1 6-1 6 2 6-4 6 3 6 1 6-5 6-3 6-4 6 0 6 3 6 1 6 1 6-3 6-5 6 5 6 1 6 1 6 9 6 2 6 2 6-4 6 3 6 1 6-4 6 1 6-7 6-12 6 1 6 2 6 0 6 0 6-5 6 4 6 0 6 2 6 1 6 6 6 3 6-7 6 1 6 0 6-3 6-3 6-4 6-6 6-11 6 0 6 2 6 0 6 0 6 0 6-2 6 0 6-6 6-2 6 6 6 0 6 4 6-3 6-2 6-3 6-5 6-2 6-3 6 3 6-4 6-2 6-2 6-1 6-4 6 7 6-1 6 1 6 5 6 3 6 0 6-7 6 0 6-6 6-4 6-6 6 2 6-1 6-2 6-7 6 2 6-4 6-6 6-1 6 0 6-6 6 4 6 2 6 3 6 1 6-4 6 0 6-5 6 2 6-1 6-3 6-1 6 3 6-2 6 4 6-1 6-3 6-2 6-3 6 0 6 1 6 2 6 5 6 2 6 3 6-3 6 3 6-1 6 2 6 0 6-3 6 0 6-3 6 2 6-2 6 0 6-9 6 0 6-2 6-4 6-1 6-2 6-5 6-1 6-1 6-3 6-2 6-2 6 0 6-3 6-2 6-2 6 1 6 0 6 0 6-4 6-2 6 0 6 0 6-2 6-1 6 2 6-2 6 2 6-2 6-3 6-1 6-1 6-3 6-1 6-4 6 0 6-1 6 1 6-2 6-1 6-3 6 0 6-3 6 0 6-1 6-1 6-2 6 0 6-1 6-2 6-2 6-1 6-2 6-2 6 0 6-1 6 0 6-1 6-2 6-1 6-1 6-1 6-2 6-1 6-1 6-1 6-1 6-2 6-1 6-1 6-2 6-1 6-2 6-1 6-1 6-1 6-1 6-2" stroke="#1f77b4"/><path d="M0 328l6 0 6-15 6-1 6 6 6-3 6 3 6-5 6 0 6 5 6-4 6 15 6 5 6-5 6 0 6 16 6-8 6 1 6-2 6-6 6-6 6 5 6 14 6 2 6-9 6-1 6-2 6-6 6 9 6-2 6 4 6-8 6 6 6-4 6 3 6-2 6 10 6-2 6 3 6 13 6 2 6-6 6-2 6-4 6-8 6-19 6-11 6 8 6-6 6-11 6-12 6 5 6-4 6 6 6 4 6 3 6-8 6-13 6 1 6 5 6-2 6-2 6 5 6-10 6-1 6-2 6 4 6-6 6 0 6-3 6 0 6 3 6 0 6-5 6 0 6 12 6-9 6 0 6 2 6 8 6 1 6 8 6 1 6-14 6 7 6 2 6-10 6 5 6 7 6-6 6-3 6 15 6-4 6-11 6 0 6-10 6-13 6-2 6-4 6-3 6 0 6 7 6 1 6 1 6 7 6-12 6-2 6-4 6-3 6 1 6-1 6-1 6-9 6-2 6 2 6 5 6 3 6-7 6-2 6 3 6-5 6-13 6-5 6 7 6 1 6-1 6-6 6-6 6-5 6 1 6 5 6-1 6 6 6-1 6-1 6 1 6-5 6-2 6 1 6-7 6-4 6 1 6-3 6-3 6-4 6 1 6-2 6 0 6-2 6-2 6-3 6 3 6 0 6-1 6-5 6 2 6 4 6-7 6 1 6-6 6-3 6-3 6-3 6 2 6-5 6-1 6-4 6-3 6-2 6-1 6 2 6-2 6 0 6 0 6 1 6-1 6-4 6 0 6-5 6-4 6-5 6-4 6-1 6 2 6-1 6-1 6 0 6 1 6 3 6 1 6-6 6-3 6-6 6 2 6 0 6-2 6-8 6-4 6-2 6 1 6 0 6-1 6 1 6-1 6-3 6-3 6 0 6-1 6-3 6-2 6 0 6-1 6 0 6 1 6 1 6-3 6-3 6-4 6-1 6 1 6 1 6-5 6-1 6-2 6-3 6-1 6 1 6-2 6 1 6-1 6-1 6 0 6-3 6-2 6-2 6-3 6-1 6 0 6-1 6-2 6-3 6-1 6-1 6-1 6-2 6-1 6-2 6-2 6-1 6-2 6 0 6-1 6-1 6-2 6-1 6-1 6 0 6 0 6-2 6 0 6-1 6-2 6-2 6-1 6-1 6-1 6-1 6-2 6-1 6-2 6-1 6-1 6-2 6-1 6-1 6-1 6-2 6-1 6-1" stroke="#ff7f0e"/><path d="M0 328l6-1 6-12 6-3 6 4 6-5 6-4 6-8 6-3 6-11 6 3 6-12 6 4 6 2 6 5 6-1 6-6 6-3 6-4 6 7 6 6 6 13 6 6 6 7 6-14 6-2 6 4 6-2 6 0 6 9 6-5 6-20 6-6 6 4 6 5 6-7 6-10 6-10 6 4 6 0 6 6 6-1 6-6 6 4 6 3 6 1 6 2 6 1 6-11 6-14 6-4 6 1 6 4 6-5 6 0 6-3 6-12 6 4 6 11 6 8 6-1 6-8 6 2 6-14 6-6 6 12 6 5 6-1 6-1 6-8 6 1 6 6 6-17 6-3 6 0 6-9 6 0 6 3 6-5 6 0 6-3 6-8 6-5 6-4 6 3 6-1 6 4 6-2 6-1 6-2 6 3 6-3 6-7 6-10 6-1 6-4 6 0 6 0 6-4 6 6 6-2 6 1 6-2 6-6 6-5 6-2 6 1 6-2 6-1 6 2 6-5 6 2 6-7 6 4 6-3 6-1 6 1 6-2 6-2 6 4 6-3 6 1 6 3 6-3 6-1 6-5 6-1 6 2 6-3 6-1 6-5 6 0 6 3 6 3 6 4 6-2 6-6 6-4 6 4 6 4 6 0 6-1 6 0 6-5 6 0 6-2 6 0 6 2 6 2 6 2 6 0 6 2 6-1 6 1 6 2 6 1 6 0 6 2 6-5 6-4 6 4 6-4 6 1 6 2 6 1 6-3 6 3 6 2 6-3 6 3 6-2 6 0 6-1 6 1 6 3 6-2 6-2 6-1 6-3 6-7 6-2 6-3 6-2 6 3 6-1 6-3 6-3 6-2 6-5 6 1 6 0 6-3 6-3 6 5 6-5 6-3 6-5 6-4 6 0 6-1 6-2 6 5 6-3 6-2 6 0 6-1 6 0 6 0 6-2 6-1 6-1 6-2 6-3 6-4 6 0 6-2 6 0 6-1 6-3 6 2 6-3 6-2 6-1 6-3 6 1 6 1 6-3 6-3 6-2 6 1 6-1 6 2 6-1 6 1 6-3 6-2 6 0 6-2 6-2 6 0 6-1 6 0 6-1 6-1 6-3 6 0 6-3 6-2 6-1 6-2 6-1 6-1 6 0 6-1 6-1 6-1 6-1 6-1 6 0 6-2 6-1 6-1 6 0 6-2 6-1 6-2 6-1 6-1 6-2 6-1 6-1 6-1 6-1 6-2 6-1 6-1" stroke="#2ca02c"/><path d="M0 328l6 10 6 3 6 0 6 5 6 3 6-1 6 4 6-1 6-5 6 9 6-1 6-1 6 3 6-5 6-4 6-1 6-1 6 2 6 5 6-1 6 3 6 4 6-3 6 2 6-3 6 6 6 3 6 1 6-4 6 1 6-2 6 3 6 0 6-3 6 4 6 3 6-2 6 5 6-1 6-1 6 1 6-2 6-2 6 0 6 7 6 6 6 0 6 7 6 0 6 2 6 3 6 1 6 11 6 0 6-5 6 6 6-2 6-2 6-13 6 4 6 4 6 3 6 4 6 7 6 0 6 4 6-4 6-1 6 7 6 4 6-4 6 4 6 2 6-2 6 4 6 1 6-5 6-3 6 11 6-5 6 4 6 2 6 3 6-5 6-2 6 1 6 3 6-3 6-5 6 5 6 5 6 1 6-2 6 1 6 1 6 4 6-6 6-1 6-2 6-6 6-1 6-1 6-3 6 1 6-8 6-1 6 0 6 0 6 4 6-7 6-8 6-1 6-1 6 8 6 0 6-5 6 1 6-6 6-8 6 9 6-1 6 2 6 0 6 6 6-1 6 3 6-6 6-8 6 4 6 4 6 0 6-1 6-1 6-5 6 5 6 1 6 0 6-1 6 3 6 0 6 1 6-7 6 0 6 8 6-4 6-3 6 2 6 2 6 1 6-9 6 1 6-5 6-5 6 2 6-2 6 3 6 12 6 3 6 2 6-4 6-4 6-5 6-3 6-5 6-3 6-2 6-5 6-6 6-6 6 1 6-1 6 4 6 3 6-2 6 2 6-6 6 8 6 3 6-1 6-6 6 1 6-8 6-4 6 2 6-1 6-3 6 3 6-5 6 0 6-3 6-4 6 1 6-4 6 6 6-3 6 6 6-5 6 1 6-5 6-6 6 0 6 1 6-5 6 3 6-4 6 0 6 0 6 1 6-7 6 5 6 0 6-2 6-4 6-7 6-6 6 1 6-2 6-5 6-2 6 4 6-2 6-3 6 3 6 1 6-1 6-3 6-6 6-5 6-2 6-2 6 0 6 0 6 0 6-1 6-4 6-7 6-3 6-4 6-3 6-2 6-5 6-5 6-1 6-1 6-3 6 0 6-2 6-4 6-1 6 4 6-3 6 2 6 3 6 2 6-3 6 4 6-1 6-1 6-2 6 0 6-2 6-2 6 2 6-4 6-4 6 0 6 0 6 1 6-4 6 1 6-1 6 3 6-5 6-1 6-2 6-6 6-3 6 0 6-2 6-4 6 1 6 0 6 1 6-4 6-2 6 1 6-3 6-4 6 0 6 2 6-3 6-6 6-3 6-3 6 0 6 1 6-1 6-2 6 0 6-2 6 0 6-2 6 5 6 2 6-2 6-3 6-1 6-3 6-2 6-2 6 2 6-1 6-2 6-3 6-3 6 0 6-1 6 2 6-1 6 1 6 0 6-1 6-5 6-3 6 0 6 2 6-1 6 1 6-2 6-1 6-2 6 0 6 0 6-1 6-2 6 0 6 0 6-3 6 2 6 0 6-1 6 1 6 1 6-1 6 0 6-3 6-2 6-5 6 1 6-4 6 0 6-2 6-2 6-2 6 0 6 0 6 1 6 0 6 0 6-2" stroke="#d62728"/><path d="M0 328l6 5 6-13 6 0 6 10 6 6 6-5 6-7 6 8 6 3 6 14 6 7 6-3 6 3 6-12 6 3 6-14 6 0 6-3 6-2 6 4 6 10 6-10 6-2 6-6 6 1 6 3 6-7 6-3 6-1 6 11 6 7 6 6 6-11 6 0 6-10 6-7 6 15 6 6 6-2 6 3 6-4 6 6 6 2 6 6 6 10 6 2 6-9 6-9 6 6 6 5 6-8 6 26 6 5 6-7 6-2 6 7 6-8 6-9 6 6 6 9 6-2 6-2 6-16 6-8 6-6 6-1 6 4 6 7 6 2 6 12 6-11 6 3 6 1 6 0 6 10 6-1 6-7 6-13 6 4 6 9 6 4 6 14 6-2 6-2 6 6 6 0 6-2 6 4 6-4 6 1 6 0 6 8 6 4 6-1 6 8 6 13 6-12 6-4 6-10 6 1 6 3 6 8 6-5 6-13 6 2 6 21 6 21 6 5 6-1 6-3 6 3 6 15 6-8 6 3 6-17 6-3 6 16 6-10 6-7 6-5 6-4 6-9 6 10 6-9 6 0 6 7 6 0 6-12 6-8 6 12 6-11 6-8 6 4 6 15 6 2 6-3 6 8 6-4 6-1 6 0 6-1 6 2 6-9 6-14 6-4 6-1 6-2 6-1 6-1 6 0 6-2 6-4 6 3 6 0 6 11 6 3 6-4 6-8 6 1 6-13 6-2 6-8 6 4 6 2 6 0 6 8 6-2 6-10 6-10 6 8 6 12 6-6 6-3 6 5 6 4 6 0 6 2 6 1 6-5 6-2 6-5 6 7 6-3 6-11 6-6 6 1 6 0 6 1 6-5 6-13 6 2 6 6 6 4 6-6 6-1 6-5 6-8 6-24 6-3 6-7 6-9 6 6 6-3 6-6 6-8 6 5 6 2 6-9 6 5 6-5 6 1 6 4 6 0 6-7 6 9 6 3 6-5 6-6 6-5 6 14 6-5 6-2 6-3 6-5 6-9 6-9 6 7 6 0 6 12 6-3 6-5 6-9 6-7 6-1 6-4 6 1 6-7 6-3 6 6 6-6 6 9 6-4 6-8 6 2 6 0 6-3 6-2 6 2 6 2 6-3 6 2 6-2 6-10 6-5 6-3 6 4 6 2 6 5 6 7 6-3 6-7 6 2 6 0 6-3 6-5 6-5 6 8 6-2 6-4 6 2 6 1 6-3 6-6 6 0 6-3 6-1 6 3 6 1 6 2 6-1 6 0 6-3 6 1 6 0 6 2 6-12 6-3 6-3 6-1 6-1 6-6 6-2 6-1 6-3 6-2 6 1 6 0 6 7 6-2 6 1 6-2 6-2 6-5 6 0 6-1 6-1 6 0 6-1 6-4 6-4 6-2 6 1 6-3 6-2 6-5 6-2 6-2 6-3 6-7 6 1 6 1 6 0 6 2 6-5 6 0 6-1 6-1 6 0 6-1 6-3 6-5 6-2 6 0 6-2 6-3 6-1 6 1 6 0 6-3 6-2 6-3 6-3 6-3 6-1 6-4 6-1 6-1 6 1 6-1 6-2 6-1 6-3 6 0 6-1 6-3 6-2 6-1 6-3 6 0 6-3" stroke="#9467bd"/><path d="M0 328l6-6 6-7 6 12 6-3 6-5 6 8 6-21 6-4 6 3 6-3 6-8 6 3 6-6 6-4 6-4 6-3 6 5 6-19 6-3 6 2 6-2 6-1 6-4 6 5 6 8 6 8 6 5 6-7 6-5 6-9 6-6 6 3 6-4 6-8 6-3 6-5 6-2 6 12 6 10 6-4 6-14 6-2 6-9 6-1 6 8 6-12 6 2 6-2 6-1 6-3 6-2 6-4 6 4 6 4 6 2 6-7 6 3 6-2 6 5 6 3 6 2 6 1 6 13 6-3 6-1 6-4 6 6 6 10 6-6 6 4 6 9 6-10 6-9 6 7 6-1 6 0 6 1 6 2 6 2 6 4 6-5 6-8 6 1 6 6 6 6 6-6 6-7 6-3 6 12 6-12 6-8 6 4 6-11 6-2 6-12 6-2 6-3 6 6 6 3 6-2 6-2 6-2 6-8 6-4 6 0 6-5 6 1 6-2 6-5 6 1 6-3 6 5 6 1 6-5 6-2 6-2 6 0 6-6 6 3 6-1 6 6 6 3 6 4 6 7 6 2 6-9 6-19 6-1 6-6 6-4 6 0 6-5 6-1 6 3 6 4 6 3 6-4 6-4 6-2 6 1 6 0 6 1 6-4 6 0 6-2 6-1 6 1 6-10 6 1 6 0 6 1 6 0 6 0 6-4 6-1 6 6 6 1 6 1 6 5 6-4 6 2 6-1 6 3 6 1 6-7 6 2 6-1 6 0 6-3 6-1 6-3 6 2 6-6 6 2 6 3 6 0 6-4 6-4 6 0 6-2 6-5 6 0 6-4 6 0 6 1 6 3 6 4 6 2 6-1 6-1 6-3 6-1 6-2 6 2 6 0 6 2 6 0 6-1 6 0 6-3 6-3 6 0 6-2 6 3 6-2 6-3 6-2 6-3 6 0 6-2 6 6 6 1 6-3 6-1 6-1 6-3 6 0 6 1 6-1 6-4 6-3 6 1 6-3 6 0 6-2 6-1 6 2 6 0 6 3 6 2 6 1 6 2 6-2 6 1 6 2 6-1 6-3 6 1 6-1 6 1 6-1 6 2 6 0 6 1 6 1 6-2 6 2 6-2 6-3 6-1 6-4 6 0 6-1 6-4 6 0 6-3 6-4 6-3 6-2 6-1 6-1 6-3 6 1 6-1 6-1 6 0 6 2 6-2 6 1 6-2 6-2 6-2 6-1 6-1 6-1 6 0 6-1 6 3 6-2 6-3 6 1 6-1 6-1 6 0 6 0 6-2 6 1 6 0 6-3 6-2 6-2 6 0 6-1 6 0 6 0 6-3 6-2 6-3 6 0 6 0 6-1 6-2 6-2 6-1 6-1 6-2 6 0 6-2 6-3 6-2 6-1 6-2 6-2 6 1 6-2 6-1 6-1 6-2 6-1 6-2 6-1 6-1 6-1 6-1 6-1 6-1 6-2 6-1 6-2 6-1 6-1" stroke="#8c564b"/><path d="M0 328l6-11 6-1 6 0 6 11 6 12 6-1 6 4 6 8 6 3 6 1 6 12 6-2 6 7 6-1 6-11 6 7 6-5 6 12 6-11 6-9 6-13 6 11 6-4 6 5 6 13 6-6 6 6 6-10 6 5 6 1 6-3 6 0 6-9 6 4 6-11 6 1 6 5 6-5 6 12 6 0 6 5 6 11 6 9 6 12 6 4 6-20 6 7 6 0 6 1 6-12 6-10 6 16 6 12 6 8 6-4 6-8 6-1 6-5 6-5 6 9 6-8 6-10 6 2 6 12 6 3 6-11 6 0 6-12 6-7 6-6 6 4 6 7 6 8 6-7 6-12 6-14 6-7 6 2 6 8 6-14 6-2 6 16 6-5 6 3 6-10 6-1 6-7 6 1 6-3 6-8 6-13 6-4 6 7 6-12 6-5 6 0 6 1 6-9 6-3 6-2 6 1 6-6 6-2 6 2 6-11 6 2 6-6 6-1 6-7 6-4 6-1 6-6 6-9 6 0 6-3 6 5 6 1 6 8 6 0 6-2 6 3 6 5 6 10 6 2 6-5 6-4 6-10 6-5 6-1 6-3 6 0 6-8 6-1 6 0 6-7 6 1 6 3 6-4 6-1 6-2 6-7 6 5 6 4 6 4 6-1 6-2 6-4 6 1 6-6 6-6 6-2 6 1 6 5 6 0 6 0 6 3 6-2 6-4 6-1 6-1 6-1 6-6 6-7 6 1 6 3 6-6 6 1 6 2 6-1 6 4 6-2 6-8 6-2 6 4 6 4 6 0 6-9 6-3 6 1 6 1 6 3 6 1 6 2 6 4 6-1 6 1 6-4 6-10 6-2 6 0 6 1 6 2 6-6 6-2 6 0 6 4 6-3 6-7 6 6 6-1 6-4 6-3 6 0 6-1 6-8 6-4 6-3 6 1 6-2 6 2 6-1 6-3 6-5 6 1 6 1 6 5 6-3 6 3 6 2 6 2 6-6 6-3 6 1 6 2 6-4 6 2 6-1 6 1 6 3 6-4 6-1 6-2 6 2 6-5 6-6 6-3 6-1 6-6 6-5 6-2 6 3 6-2 6 0 6-1 6-1 6-1 6-3 6 0 6 0 6 0 6 2 6-3 6 3 6 0 6-4 6 2 6-3 6 2 6-3 6 0 6-1 6 1 6 1 6 4 6-4 6-2 6 1 6 0 6-4 6-2 6-1 6-7 6-1 6-3 6 0 6-1 6-2 6-2 6-4 6-1 6 0 6-2 6 0 6-1 6 0 6-1 6 1 6-2 6-1 6-2 6-1 6 0 6-1 6 0 6-3 6-1 6-2 6-1 6 0 6-1 6-2 6-1 6-2 6-2 6-1 6-1 6 0 6-2 6-1 6-1 6-2 6-2 6-1 6-2 6-1 6-1 6-2 6-1 6-2 6-1 6-1 6-2 6-1 6-1 6-2 6-1 6-1" stroke="#e377c2"/><path d="M0 328l6-7 6-10 6 3 6-4 6-7 6 6 6-1 6 10 6-3 6-6 6-3 6-1 6 4 6-2 6-1 6-4 6 1 6-4 6 2 6-12 6 2 6-15 6 6 6-9 6 4 6-3 6 7 6-5 6-8 6 7 6 3 6-2 6-4 6-6 6 4 6 7 6 2 6-6 6-5 6-3 6 0 6 2 6 7 6-8 6 7 6 8 6-2 6 6 6-2 6-9 6-7 6-1 6 6 6-6 6-10 6-1 6 3 6-4 6 3 6 7 6 10 6-11 6-7 6-7 6 3 6 1 6 1 6 7 6 7 6-11 6-3 6-8 6 11 6 6 6 2 6-13 6 5 6 3 6-12 6-3 6 5 6 1 6 3 6-2 6-8 6 5 6-3 6-1 6 6 6 2 6 6 6-10 6-5 6-1 6-3 6-14 6 1 6 1 6-2 6 7 6 2 6-4 6 4 6-9 6 2 6 2 6-1 6 1 6-11 6 2 6-2 6 1 6-9 6 5 6 0 6-3 6-3 6-6 6-1 6 9 6 2 6 4 6 9 6-7 6 6 6-5 6-3 6-8 6-5 6-2 6 7 6-7 6 0 6 1 6 0 6-13 6-1 6 4 6 2 6 3 6 7 6 5 6-2 6 6 6 0 6 3 6-1 6-3 6-1 6-3 6-5 6-3 6-4 6-4 6-3 6 1 6 2 6-12 6-4 6-6 6 4 6-5 6 4 6-4 6 1 6-3 6 1 6-4 6 0 6-6 6-3 6-2 6-3 6 6 6-2 6-2 6 0 6 0 6-5 6-11 6 0 6-2 6-1 6 3 6 2 6 7 6 3 6 0 6-8 6 0 6 0 6-6 6 2 6-3 6-3 6-6 6 3 6-4 6-2 6 2 6-3 6 0 6-6 6-1 6-2 6-2 6-1 6-4 6 0 6 2 6-6 6 1 6 2 6 4 6-2 6-1 6-1 6 2 6-3 6 1 6-7 6-1 6-1 6 0 6 1 6-1 6 0 6-5 6 0 6-2 6-4 6 1 6 0 6 1 6 2 6 0 6-2 6-2 6-2 6 1 6-1 6-2 6-4 6-1 6-3 6-2 6-2 6 0 6 1 6-2 6-3 6-1 6 0 6-2 6 0 6-1 6-2 6-2 6-3 6-3 6 2 6-1 6-2 6-1 6-1 6-2 6-1 6-2 6-2 6 0 6-3 6-2 6-2 6-1 6 0 6-2 6-2 6-1 6-1 6-1 6-1 6 0 6-1 6-2 6-2 6-1 6-1 6-1 6-2 6-2 6-1 6-1 6-1 6-2 6-1 6-1 6-1 6-2 6-1 6-1" stroke="#7f7f7f"/><path d="M0 328l6 1 6 17 6 18 6-9 6-17 6-6 6-8 6-5 6 1 6 0 6 1 6 2 6-6 6 6 6-14 6 11 6 2 6-2 6 0 6-2 6 13 6 9 6 3 6 4 6 9 6 6 6-20 6 7 6-15 6-17 6-2 6 3 6-6 6-7 6-16 6-10 6 9 6 4 6-12 6-8 6 6 6 6 6 1 6 1 6 8 6-1 6-12 6 0 6-6 6-10 6 4 6 8 6-8 6 8 6-2 6-10 6 6 6-5 6 9 6-10 6 10 6 10 6 4 6 2 6 7 6 3 6-7 6-9 6-2 6-5 6 0 6-6 6 6 6-2 6 2 6 1 6 1 6 1 6 8 6 3 6-3 6-4 6-14 6-6 6-4 6-2 6 0 6 4 6 10 6 0 6-13 6-3 6 9 6 1 6 2 6-2 6-3 6 2 6-2 6 4 6-5 6 4 6 6 6 9 6 16 6 6 6-5 6-1 6 5 6-7 6 2 6 4 6-2 6-5 6-7 6 2 6 4 6-1 6 2 6-4 6-7 6 5 6 6 6-8 6 9 6-3 6 8 6 3 6 2 6 12 6-10 6 5 6 1 6-5 6 17 6 3 6-2 6-6 6-1 6 8 6 9 6-5 6-4 6-4 6 10 6-7 6-2 6 3 6-14 6-7 6 0 6 11 6-11 6-18 6 1 6-11 6 3 6-3 6-15 6 15 6 0 6 3 6 8 6 6 6-13 6-4 6 5 6 11 6-4 6-15 6-6 6 3 6-3 6 0 6-4 6 0 6-2 6 1 6 4 6-10 6 2 6-11 6 3 6-8 6 1 6 4 6-9 6 5 6-5 6 6 6 7 6-10 6 2 6 6 6 10 6 1 6-2 6 2 6 10 6-1 6 6 6-14 6-2 6-6 6 9 6-2 6-5 6 15 6-4 6-6 6-3 6-5 6 6 6 0 6-4 6-2 6 2 6 1 6 0 6-9 6-1 6 15 6-9 6 0 6 2 6 6 6 2 6-6 6 7 6 4 6-10 6-8 6 0 6-7 6 3 6-11 6 1 6-12 6-6 6-8 6-2 6-1 6-5 6 2 6-7 6 3 6 0 6 0 6 3 6-1 6-4 6 10 6-1 6 4 6 2 6-1 6 7 6-1 6-5 6-6 6 2 6 3 6 1 6 4 6 6 6-6 6-5 6-1 6-1 6-11 6-7 6-5 6-3 6 3 6-5 6-2 6-6 6 0 6-1 6-4 6-6 6 1 6-8 6 6 6-5 6 0 6 4 6-1 6-7 6-7 6 3 6 3 6 3 6-5 6 0 6 1 6-2 6 4 6 0 6 1 6-4 6-1 6 0 6 2 6 2 6 5 6 2 6 6 6 1 6-3 6-4 6-2 6-3 6 6 6-3 6-6 6 0 6-3 6-2 6-1 6-1 6-11 6 0 6-1 6 1 6 2 6-4 6-8 6-2 6-4 6-2 6-2 6 0 6 1 6-4 6-3 6 3 6-4 6 1 6 0 6-3 6-4 6-1 6 1 6 2 6 0 6-2 6-2 6 1 6-3 6 0 6-5 6-3 6-1 6 1 6-2 6-1 6-2 6 1 6 1" stroke="#bcbd22"/><path d="M0 328l6 7 6-1 6-1 6 0 6-6 6 3 6 0 6-7 6 1 6 4 6-5 6-7 6 11 6-2 6 13 6 2 6 2 6 3 6 5 6-6 6-12 6-13 6-2 6 0 6-5 6-1 6-10 6 2 6-2 6-3 6 5 6-12 6 6 6-6 6-4 6 5 6-4 6-9 6-4 6-7 6 5 6 6 6-8 6 2 6-1 6 2 6-6 6 0 6 3 6 0 6-2 6 17 6 2 6 16 6-17 6 4 6-11 6-6 6 0 6 0 6-2 6 2 6 3 6 0 6 1 6-5 6 7 6 8 6-5 6 0 6 7 6-1 6 4 6-7 6 1 6-2 6 2 6-8 6 3 6-5 6-5 6-22 6 1 6-20 6 1 6-2 6 8 6 0 6 3 6 0 6 3 6-5 6 1 6-5 6 7 6-4 6-8 6-3 6 3 6-7 6-2 6 5 6-2 6 2 6-6 6 5 6-4 6 6 6 6 6-1 6 3 6 0 6 5 6 2 6 0 6-1 6 3 6-4 6-4 6-4 6-5 6-4 6-1 6-7 6-3 6-2 6 2 6 2 6 6 6-2 6-3 6 0 6 0 6-3 6 1 6-2 6 0 6-3 6 2 6 0 6 5 6 1 6-5 6 1 6 7 6-3 6-1 6-6 6-1 6-3 6 5 6-11 6 4 6-1 6-13 6 3 6-5 6-1 6-5 6-1 6-4 6 1 6 0 6-6 6 4 6 2 6 4 6-8 6-3 6-2 6 11 6 3 6 0 6-5 6 0 6 0 6-1 6-2 6-2 6 6 6-5 6-3 6-1 6 6 6 2 6 5 6 3 6 1 6-7 6-6 6-7 6 1 6-6 6 2 6 4 6 3 6 7 6-6 6 6 6-3 6-4 6 0 6 3 6-6 6 5 6 3 6-4 6-1 6-4 6-3 6-4 6-7 6 0 6-5 6-1 6-2 6-4 6 4 6 1 6 0 6 0 6-4 6-1 6-2 6 1 6 7 6 0 6 3 6 2 6 2 6-2 6-1 6-3 6-3 6-4 6-2 6-3 6-2 6-5 6-4 6 2 6 6 6 0 6-7 6 1 6 7 6-1 6-2 6-1 6 1 6 4 6-3 6 3 6-2 6 6 6 2 6-1 6 2 6-1 6-3 6-1 6-2 6 0 6-2 6-3 6-5 6-1 6 0 6-2 6-4 6 0 6-3 6-5 6 0 6 4 6 1 6 0 6-7 6 0 6 1 6 1 6-6 6-1 6-1 6-3 6-1 6-3 6 0 6-3 6-4 6-1 6 0 6 0 6 3 6-2 6-2 6-3 6 1 6 3 6-2 6-5 6 1 6-1 6-1 6-1 6-2 6 0 6 1 6 2 6-3 6-1 6-2 6 1 6 0 6-1 6-2 6-1 6 0 6-1 6-2 6 0 6-3 6 2 6-2 6-1 6-2 6-2 6-1 6-2 6-1 6-1 6-1 6-4 6-1 6 0 6-3 6-1 6-2 6-1 6-1 6-2 6 0 6-1 6-3 6-2 6 0 6-1 6-2 6-1 6-1 6-1 6-2 6-1 6-3 6 0 6-2 6 0 6-2 6-1 6-1" stroke="#17becf"/><path d="M0 328l6 6 6 0 6 0 6-3 6-6 6 0 6-2 6 3 6-5 6 6 6 2 6 0 6-2 6-2 6-3 6-1 6 1 6 0 6-4 6 0 6-3 6 2 6 7 6 4 6-1 6-5 6-4 6-5 6 3 6-2 6 1 6-1 6 1 6 6 6-1 6-1 6-2 6 4 6-3 6-3 6-4 6-5 6 3 6 10 6-3 6 5 6 2 6-4 6 0 6 0 6-1 6 8 6-7 6 3 6 2 6-1 6 1 6 4 6 2 6 2 6 3 6-6 6 6 6 10 6 4 6 5 6-5 6 1 6-2 6-2 6 5 6-2 6 0 6-6 6 0 6 1 6-2 6-2 6 9 6-4 6-4 6-4 6 5 6 8 6 1 6-3 6-2 6 4 6-4 6 6 6 5 6 0 6 2 6 3 6 6 6-4 6 4 6-2 6-3 6 0 6 0 6-4 6-6 6-4 6 5 6 7 6 3 6 4 6-2 6-1 6 1 6-4 6-4 6 0 6-1 6-4 6 1 6-1 6 4 6 0 6-2 6 1 6-1 6-3 6-1 6 2 6 2 6 5 6-6 6-2 6-2 6 1 6-2 6-2 6 3 6 0 6-4 6 5 6 3 6-2 6 3 6-3 6 4 6-1 6-3 6-2 6-3 6 1 6 0 6 0 6-2 6-13 6 0 6-7 6 1 6 4 6 0 6-1 6-1 6-1 6-2 6-3 6-4 6 3 6-1 6 3 6-2 6 0 6-2 6 1 6 2 6 0 6-3 6-4 6 6 6-2 6-2 6 4 6 3 6 1 6-2 6 8 6 0 6 1 6-1 6-6 6-5 6 0 6 1 6-2 6-5 6-5 6-2 6-6 6 2 6 3 6 9 6 3 6-3 6-4 6-12 6-2 6-1 6 3 6 2 6 1 6 1 6 2 6 4 6-4 6-1 6-5 6 5 6 4 6 2 6-4 6 0 6-1 6 0 6-1 6 2 6-2 6 3 6 0 6-1 6 0 6-2 6 2 6-1 6 1 6-2 6-5 6 3 6-4 6 2 6 1 6-5 6-4 6-2 6-3 6-4 6 3 6-1 6 0 6-1 6 1 6-3 6 0 6 1 6 0 6-1 6-3 6 1 6 2 6 0 6-2 6 2 6 8 6 0 6 2 6 1 6-7 6 1 6-2 6 5 6 0 6-2 6 0 6 1 6-1 6 0 6-6 6-2 6 1 6 5 6 1 6-1 6 3 6 2 6 3 6 2 6-1 6-1 6-1 6 0 6-1 6-4 6-7 6-4 6-7 6-1 6-2 6-6 6 1 6 1 6-1 6 6 6 7 6-1 6 5 6 3 6 3 6 4 6 0 6 0 6-1 6 0 6 1 6-3 6-1 6 3 6 2 6 3 6-4 6-1 6 0 6 2 6 0 6 5 6 1 6 0 6 0 6 3 6-2 6 4 6 1 6 1 6 0 6 2 6 3 6 3 6 2 6 3 6 0 6 4 6 0 6-7 6 5 6 0 6-4 6 0 6-3 6 7 6 2 6-5 6 1 6-1 6 6 6-3 6-7 6 0 6-1 6-2 6-7 6 2 6 1 6-10 6 0 6-6 6-10" stroke="#1f77b4"/><path d="M0 328l6 3 6 18 6 13 6-3 6 0 6 10 6 4 6-5 6-2 6 17 6-1 6 6 6-11 6-14 6-11 6-2 6 4 6-5 6-6 6-9 6 3 6 7 6 0 6-5 6-2 6 1 6-4 6-5 6-4 6-8 6-9 6 8 6 7 6 3 6-11 6 8 6-7 6 6 6-3 6 6 6-5 6-6 6-7 6 6 6 3 6-1 6-3 6-6 6 12 6 6 6-4 6-2 6-6 6-5 6 5 6 6 6 4 6-9 6 5 6-6 6-2 6-3 6-5 6-3 6-8 6 2 6 6 6-7 6 4 6 5 6 9 6 7 6-6 6 15 6 5 6-12 6 8 6 1 6-5 6 4 6 3 6 11 6 13 6 14 6 0 6 9 6-18 6-15 6-3 6 9 6 2 6 7 6-1 6 0 6-2 6 1 6 4 6-7 6-12 6-3 6 5 6-6 6 1 6-2 6 9 6-11 6-2 6-3 6-2 6-14 6 2 6-2 6 2 6-2 6 0 6 9 6 2 6 0 6 0 6-1 6 5 6-2 6 1 6 0 6-9 6 5 6 2 6-8 6-17 6-8 6-5 6 3 6-8 6 11 6-6 6-6 6 1 6 5 6 14 6 8 6 6 6-7 6-3 6 8 6-4 6 7 6 8 6 7 6 4 6-2 6-2 6-2 6 7 6 7 6 0 6-10 6-3 6 1 6-3 6-2 6 8 6 0 6 10 6-8 6 7 6-9 6 2 6-7 6 15 6 8 6 13 6-2 6-9 6-1 6-1 6-8 6 5 6-3 6 8 6-8 6-4 6-13 6-2 6-8 6-9 6-8 6-4 6-8 6-1 6-12 6 13 6 5 6 4 6-8 6-1 6-20 6-13 6 1 6-14 6 1 6-6 6 4 6 0 6-1 6 2 6-6 6-1 6-8 6-2 6-2 6 2 6-5 6-5 6 1 6-2 6-10 6 0 6-2 6 2 6-6 6 12 6 6 6-4 6-1 6-5 6-5 6 2 6-10 6 5 6 0 6-7 6 4 6 1 6-2 6-4 6 1 6-7 6 4 6 3 6 4 6-9 6-5 6 0 6 0 6 2 6 6 6-6 6-7 6 1 6 1 6 6 6 9 6 2 6 1 6-6 6-1 6-1 6 8 6-2 6-10 6-5 6-2 6 0 6-2 6 3 6-7 6 1 6 0 6-5 6-2 6 0 6-4 6 6 6 6 6 1 6 1 6 2 6-4 6 5 6 1 6-2 6-5 6-9 6-2 6-4 6 4 6-2 6-4 6-3 6-2 6-4 6-6 6 3 6-1 6-5 6 0 6-1 6 0 6 0 6 1 6-8 6-2 6 0 6-6 6-4 6 0 6 2 6-4 6-1 6-7 6 0 6-4 6 2 6 1 6 4 6 1 6 0 6-3 6 0 6-2 6-1 6-2 6 1 6-1 6-4 6-2 6-2 6-5 6 0 6-1 6-4 6-2 6 1 6-1 6 0 6 1 6-1 6 0 6-5 6-4 6-3 6-4 6 0 6 0 6 0 6-1 6-1 6 1 6-2 6-1 6-2 6 2 6-2 6 0 6 2 6 0 6-2 6 1 6-3 6-4" stroke="#ff7f0e"/><path d="M0 328l6-3 6-9 6-6 6 13 6 10 6 4 6-3 6 18 6-7 6-4 6-5 6 5 6 1 6-2 6 10 6 8 6-10 6 4 6 7 6-3 6-18 6 11 6 5 6-7 6 10 6 15 6-6 6-9 6-4 6 7 6 8 6-2 6 1 6 1 6 13 6-10 6-15 6-5 6 0 6-11 6 10 6-3 6 6 6 0 6-1 6 17 6-11 6-9 6 1 6 2 6-13 6-2 6-7 6 1 6-8 6-9 6 3 6-2 6-13 6 7 6-3 6 0 6 2 6-5 6-2 6 5 6 19 6 13 6-15 6-6 6 7 6-7 6-13 6 9 6 5 6-6 6 13 6-10 6 1 6 0 6 2 6-2 6 4 6-9 6 6 6 1 6-6 6-4 6 5 6-14 6 1 6-10 6 6 6 1 6 0 6-2 6 4 6 1 6 3 6-5 6-9 6-6 6 4 6-14 6-4 6-6 6 1 6 6 6-4 6 3 6-1 6 0 6 1 6-3 6-10 6-3 6-1 6-6 6-3 6 6 6-4 6 1 6 0 6 7 6 4 6-4 6-4 6 8 6 6 6-5 6 3 6-6 6-1 6 6 6 1 6 3 6 9 6 5 6 5 6 5 6 6 6 3 6 0 6-15 6-8 6-3 6 1 6 0 6 16 6 1 6 11 6-3 6-7 6-1 6 3 6 7 6 2 6-6 6-4 6-5 6-11 6-7 6 5 6 9 6 9 6-1 6-5 6-5 6 2 6-1 6-13 6 2 6-6 6 1 6 1 6 9 6-10 6 1 6 5 6-3 6 13 6 1 6 16 6 5 6 4 6 9 6-5 6-6 6-1 6 3 6-10 6 5 6 2 6 0 6-9 6 2 6-6 6 6 6 2 6 2 6-13 6-5 6 2 6 10 6 0 6-1 6-8 6 11 6 6 6-7 6-5 6 11 6 5 6-2 6-15 6 5 6-9 6-1 6 1 6 9 6-5 6-1 6 2 6-2 6-5 6-6 6-16 6 2 6-10 6 0 6-14 6-8 6 2 6-3 6-9 6-16 6-8 6-4 6 0 6-1 6 3 6 0 6-7 6 3 6-4 6-3 6 4 6-4 6 3 6-1 6-2 6 2 6-6 6 4 6-9 6-7 6-2 6 6 6-5 6 4 6-1 6 0 6 5 6-1 6 5 6-2 6-3 6 0 6-2 6 1 6-6 6 0 6-6 6-4 6-3 6-2 6 0 6-4 6 7 6-6 6-7 6-3 6-5 6-2 6-2 6 1 6 0 6 2 6-9 6 0 6-2 6 3 6-3 6-1 6-5 6-2 6-2 6-3 6-3 6 0 6 2 6-4 6-1 6-2 6-1 6 1 6 1 6 1 6 1 6-1 6-1 6 0 6 0 6 3 6 2 6 0 6-2 6-2 6-3 6-2 6-2 6-2 6-3 6 0 6 2 6-2 6 1 6 1 6 3 6-3 6-3 6-1 6-3 6-1 6 1 6-2 6-4 6 3 6-4 6 0 6-1 6-1 6-3 6 0 6-3 6-1 6-4 6 0 6 0 6-3 6-3 6-1 6-1 6 0 6-4 6-2 6-1 6-2 6-2 6-2" stroke="#2ca02c"/><path d="M0 328l6 9 6 1 6-16 6 18 6-15 6-7 6 4 6 1 6 5 6 0 6-3 6-3 6-1 6-2 6 13 6 2 6 3 6 0 6-1 6-22 6 13 6 3 6-1 6 11 6-2 6 11 6-13 6 23 6-8 6 1 6-3 6 3 6-12 6 2 6-6 6-11 6-11 6-12 6-3 6-3 6-1 6 5 6-12 6 2 6-26 6-6 6 8 6-2 6-7 6-12 6 7 6-1 6-4 6-10 6 5 6-1 6 3 6-9 6-1 6-5 6 9 6-2 6-9 6-2 6 4 6 4 6-7 6 1 6-3 6 0 6 5 6-5 6 2 6-5 6 4 6 2 6-13 6 4 6-2 6-2 6 3 6 1 6 3 6 0 6 4 6-4 6-10 6 3 6-2 6-2 6 7 6 4 6-2 6 3 6-6 6-8 6-11 6-7 6 1 6-3 6 4 6-5 6-5 6-4 6 2 6-1 6-5 6 0 6-2 6-2 6 0 6 2 6-10 6-3 6 5 6 1 6-8 6 3 6-1 6-1 6 0 6-2 6-5 6 1 6 9 6-2 6-3 6-7 6 1 6-2 6-4 6-2 6 0 6 2 6-3 6-4 6-3 6 4 6-6 6 1 6 0 6-5 6 2 6 1 6 2 6-7 6-2 6-4 6-2 6-1 6-1 6-1 6 0 6 2 6 2 6-3 6-3 6 1 6 3 6 2 6-2 6 4 6-2 6-8 6 5 6-1 6-1 6 0 6 2 6 2 6-4 6 0 6-3 6 1 6-4 6 2 6 0 6-6 6 1 6 3 6-1 6-3 6-1 6-2 6-2 6-4 6-1 6-1 6 2 6 1 6-3 6-1 6 0 6 0 6-1 6-1 6-1 6 1 6-2 6-3 6-5 6 2 6-3 6 1 6-6 6-1 6-2 6-2 6 0 6 0 6-1 6 0 6-3 6 2 6-3 6 1 6-1 6 0 6-3 6-2 6-2 6-2 6-3 6 0 6-1 6-3 6 1 6 0 6 1 6-1 6-3 6-1 6-1 6 0 6-1 6-1 6-2 6 1 6-2 6-2 6-2 6-2 6-1 6-1 6-3 6 0 6-2 6-2 6-2 6-1 6-1 6-1 6-2 6-1 6-2 6-1 6-1 6-1 6-1 6-1 6-2 6-1 6-1 6-1 6-2 6-1" stroke="#d62728"/><path d="M0 328l6-3 6 1 6-9 6 7 6 0 6 1 6-1 6 13 6 1 6 0 6-10 6 1 6 12 6 3 6-16 6 11 6 5 6-12 6-6 6 6 6 8 6-10 6-5 6-10 6-2 6 0 6 2 6 7 6 3 6-19 6-11 6-1 6-6 6 9 6 1 6-1 6-9 6 3 6 1 6-2 6-4 6 1 6 2 6 2 6 7 6-3 6 5 6-12 6 14 6-5 6-3 6 3 6-1 6-3 6 2 6 5 6 13 6-3 6-2 6 1 6-5 6 6 6 1 6 0 6 15 6-2 6-3 6-3 6 5 6-10 6-10 6 0 6-13 6-4 6 4 6-13 6 5 6-2 6-4 6-6 6 8 6-1 6 9 6 1 6 8 6 4 6-1 6 2 6-1 6-15 6 1 6-1 6 0 6-11 6-5 6 0 6 1 6-2 6-2 6 4 6-1 6-3 6 1 6-8 6 5 6 5 6 6 6-6 6 5 6-3 6-3 6 14 6-4 6-4 6 1 6 9 6 8 6-7 6-1 6-7 6 3 6 11 6 5 6-14 6 2 6 1 6 14 6-9 6-7 6-6 6 8 6 10 6-3 6-8 6 6 6-5 6-7 6-10 6-12 6 1 6 10 6 6 6-5 6-2 6 11 6 1 6-4 6 4 6 8 6-4 6-3 6-1 6-2 6-1 6-6 6-11 6-5 6 4 6 7 6 6 6-3 6-1 6 3 6 7 6-14 6-12 6 5 6 3 6 9 6 6 6-11 6-11 6-4 6-9 6 0 6 4 6-2 6-5 6-7 6-7 6 0 6 1 6-3 6-1 6-9 6 2 6-11 6-2 6-9 6-7 6 2 6-3 6-3 6 4 6 1 6 1 6 4 6-10 6-4 6 1 6-5 6-5 6 0 6-1 6 1 6 1 6-6 6-3 6-1 6 2 6-2 6 6 6 0 6-10 6-3 6-1 6 1 6-2 6-1 6-1 6-2 6-5 6-2 6-3 6 0 6-1 6-4 6-2 6-4 6-3 6 4 6-1 6 1 6 0 6 0 6-4 6-2 6 3 6-2 6-2 6-2 6 2 6 0 6-5 6 3 6 1 6-2 6 1 6 0 6-3 6 3 6-2 6 2 6-3 6 0 6 1 6 0 6 0 6 1 6-3 6 0 6 2 6 0 6-1 6-5 6 3 6 1 6-2 6 1 6 2 6-1 6-4 6-3 6-3 6-1 6-2 6-1 6 1 6-5 6 2 6-3 6 0 6-3 6 1 6-3 6 3 6 1 6 0 6 2 6 1 6-5 6 1 6-2 6-3 6-2 6-2 6 2 6-3 6 0 6 2 6-1 6 0 6 0 6 0 6-2 6-1 6 1 6-1 6-2 6-3 6-1 6 0 6-2 6 0 6-2 6-1 6 0 6 0 6-2 6-4 6-1 6-1 6-2 6-1 6-2 6-3 6-1 6-1 6-1 6-3 6-1 6-1 6-2 6 0 6-2 6-3 6 0 6-2 6-1 6-2 6-1 6-1 6-1 6 0 6-1 6-2 6-1 6-2 6-2 6-1 6-2 6-1 6-1 6-2 6-1 6-1 6-2 6-1 6-1 6-1" stroke="#9467bd"/><path d="M0 328l6-4 6 0 6 7 6-3 6-1 6 8 6 20 6 6 6 0 6-2 6 13 6-5 6 6 6 3 6-4 6-15 6-3 6-6 6 1 6 3 6-8 6-8 6-1 6 3 6-12 6 17 6-6 6 5 6-4 6 4 6-6 6 4 6 21 6-12 6-12 6-1 6-6 6-1 6 4 6 10 6 1 6 13 6-15 6-14 6-10 6 1 6-1 6-5 6 4 6-10 6-2 6 5 6 20 6-3 6-3 6 1 6-5 6-12 6 0 6 10 6 4 6 4 6 5 6-15 6-3 6 0 6-8 6 2 6-1 6-4 6 1 6 7 6 3 6 7 6 12 6 4 6 5 6-3 6 2 6-1 6-15 6 5 6 5 6-19 6 5 6 1 6 8 6 3 6 1 6-5 6 1 6-4 6 2 6-9 6-1 6-3 6 10 6-6 6 1 6-3 6 5 6-1 6 1 6 4 6-1 6-10 6 7 6 1 6 11 6-12 6-12 6-9 6-11 6 1 6-6 6-2 6 2 6 1 6-8 6 11 6-7 6-10 6-7 6-5 6-6 6-5 6 4 6-5 6 11 6-3 6-1 6 0 6-1 6-4 6 5 6-2 6-1 6 1 6 0 6 2 6-2 6-5 6-11 6 3 6 12 6 4 6 2 6-10 6-6 6 0 6-6 6-8 6-17 6 0 6 11 6 7 6-3 6-5 6-6 6 5 6 1 6-7 6 1 6 6 6-9 6-14 6-7 6-2 6 3 6-1 6 2 6-6 6-2 6 1 6 0 6-4 6-1 6 2 6-9 6 1 6-2 6 2 6-9 6-1 6-2 6 2 6-3 6 2 6-5 6-4 6 2 6-2 6-2 6 0 6-3 6 1 6 1 6 1 6 0 6-3 6 2 6-1 6 3 6-4 6 1 6-2 6-8 6-5 6-2 6-4 6 2 6-1 6 1 6 0 6 1 6-6 6-2 6 1 6-1 6-1 6-3 6-2 6-1 6 1 6 0 6-2 6 4 6 0 6-3 6-2 6-1 6-3 6-5 6 5 6-4 6 0 6 1 6-4 6-1 6-6 6-3 6 1 6 0 6-3 6 1 6-5 6-4 6 1 6 1 6-4 6-3 6-2 6-1 6-2 6-2 6-4 6 1 6 1 6-1 6 0 6-3 6 0 6-2 6-2 6 0 6-2 6 0 6 0 6-2 6 1 6-2 6 2 6-3 6 0 6-2 6-3 6-2 6 0 6-1 6-1 6-1 6-1 6-1 6 0 6-2 6-2 6-1 6-1 6-2 6-1 6-1 6-1 6-1 6-2 6-2 6-2 6-2 6-1 6-1 6-2 6-1 6-1 6-2 6-1 6-1 6-2 6 0 6-2 6-1 6-1 6-1 6-1 6-2 6-1 6-1 6-1" stroke="#8c564b"/><path d="M0 328l6 4 6-1 6-7 6-4 6 7 6-5 6-20 6-7 6-16 6 3 6-6 6 9 6 8 6-5 6 2 6 6 6 1 6-1 6-1 6 11 6 6 6-2 6 1 6 6 6-2 6-7 6 1 6 10 6 5 6 1 6-4 6-1 6 1 6 16 6 8 6-8 6-1 6 9 6 1 6-14 6-7 6-2 6-10 6-7 6 0 6-4 6 8 6-6 6 4 6 8 6 12 6-18 6-15 6-3 6 3 6 2 6-4 6 11 6 3 6-4 6-3 6 17 6-1 6-9 6 8 6-7 6 3 6 4 6-1 6 3 6 12 6-8 6 7 6 0 6 10 6-1 6-9 6 10 6-3 6 5 6-3 6-6 6 1 6-3 6-2 6 6 6 2 6-5 6 4 6 18 6-21 6 4 6 5 6 5 6 0 6-1 6-1 6-7 6-12 6 10 6 2 6-3 6-1 6 8 6 1 6-3 6 5 6-6 6-12 6-10 6-4 6-4 6-1 6 21 6 15 6-7 6 0 6-5 6 9 6-1 6-2 6-8 6 2 6-7 6-5 6-10 6-8 6 3 6-3 6-5 6-5 6-6 6 3 6-10 6-11 6-2 6 0 6-2 6-10 6 3 6-2 6-11 6 0 6 6 6 4 6 7 6 5 6 0 6-2 6 5 6 7 6-4 6-7 6-6 6 2 6-3 6 5 6 6 6 1 6-15 6 5 6-10 6-3 6-5 6-7 6-2 6-4 6 3 6-8 6-9 6 5 6 1 6-11 6 2 6-6 6-3 6 2 6-1 6 7 6 5 6-1 6 2 6-5 6 5 6 0 6-2 6-1 6 1 6 3 6-5 6 12 6-12 6-1 6-3 6-6 6-4 6 0 6 4 6 0 6 13 6-3 6-6 6 0 6-2 6 4 6-1 6-3 6-3 6-2 6-5 6 5 6-5 6-9 6-6 6-1 6-1 6-2 6-1 6-2 6-7 6 3 6 4 6-2 6-2 6 3 6-2 6-1 6-4 6-4 6 2 6-5 6 0 6-3 6-1 6-1 6-7 6-5 6 3 6-2 6-3 6-5 6 0 6 1 6-1 6 3 6-5 6 6 6-2 6-5 6-4 6 0 6 0 6-3 6 1 6 2 6-1 6 0 6-4 6 4 6 4 6-2 6-4 6 2 6-1 6 1 6 2 6-4 6-3 6 1 6-3 6 9 6 5 6 2 6 3 6 1 6 1 6-3 6 1 6-1 6-3 6-3 6-8 6-1 6-6 6 1 6-2 6-1 6-6 6-2 6-1 6-6 6 1 6-2 6-3 6-2 6-1 6-4 6-1 6 1 6-5 6-4 6 4 6-2 6-4 6-2 6 0 6-2 6 1 6 0 6 0 6-1 6-1 6 1 6-1 6-4 6-2 6 2 6-1 6-4 6-2 6 0 6-3 6-1 6-5 6-1 6-2 6-2 6-1 6 0 6-2 6-2 6 0 6-2 6-3 6 0 6-1 6 0 6-1 6-3 6 0 6-2 6-2 6-1 6 0 6-1 6-2 6-1 6-1 6-1 6-2 6-1 6-1 6-2 6-1 6-1 6-1 6-1 6-1 6-1 6-1" stroke="#e377c2"/><path d="M0 328l6 9 6-3 6 18 6 3 6-3 6 5 6 2 6-13 6 7 6 9 6-14 6 16 6-9 6 2 6-4 6-1 6-9 6 5 6 14 6-24 6-7 6-9 6-7 6 2 6-9 6 7 6-5 6-11 6-2 6-10 6 11 6-3 6 1 6 9 6-1 6 1 6-1 6-1 6 0 6-8 6 2 6 3 6-6 6 2 6-8 6 8 6 9 6-2 6 8 6-2 6 12 6 3 6-7 6 19 6-5 6-1 6 10 6 9 6-10 6-2 6 4 6-2 6 1 6 1 6-4 6-2 6-5 6-4 6 5 6-19 6 0 6-12 6-7 6-13 6-6 6-9 6-10 6 2 6 4 6 9 6 0 6 3 6 1 6-5 6-7 6-3 6 9 6-1 6-1 6 0 6 4 6-3 6-1 6 6 6 2 6-1 6-3 6 7 6-3 6 10 6 15 6-6 6 0 6-3 6-2 6-2 6-8 6-8 6-4 6-11 6 4 6-2 6-4 6 0 6 5 6-2 6 12 6 7 6 3 6-2 6 4 6 8 6 2 6 7 6 2 6-5 6-3 6-13 6-6 6 6 6-3 6 6 6 5 6 7 6-4 6-9 6-2 6 3 6-8 6-5 6 5 6-16 6-6 6 5 6-1 6 3 6-9 6-4 6 3 6-7 6-9 6 6 6 6 6-2 6-3 6 5 6-2 6-4 6-1 6 0 6 11 6-5 6-3 6-7 6-2 6 5 6 2 6-5 6 1 6-1 6-3 6-2 6 2 6-13 6-7 6-5 6 3 6 3 6-7 6 5 6 2 6 1 6-6 6-7 6 4 6-7 6-13 6 4 6 2 6-6 6 2 6-3 6 6 6 0 6-4 6 2 6 3 6-3 6-9 6 3 6 6 6 8 6 4 6-7 6-5 6 1 6-11 6 6 6-8 6-8 6 9 6-7 6 0 6-4 6-6 6-5 6 0 6-7 6-1 6-2 6 5 6-4 6-1 6-3 6 0 6 0 6-2 6-2 6-3 6-4 6 3 6-2 6-4 6-8 6 3 6-3 6 0 6-3 6-4 6-3 6-3 6-1 6 2 6-4 6-4 6 0 6-4 6-1 6 0 6-1 6 1 6 0 6 0 6 0 6-1 6-2 6-4 6-2 6 2 6 0 6-3 6 1 6-4 6-2 6 1 6-1 6 2 6 1 6 2 6 2 6-3 6-4 6-4 6-3 6-2 6-2 6-4 6-1 6-1 6 0 6-1 6 2 6 1 6-2 6-1 6-1 6-1 6-3 6 0 6 1 6-1 6 2 6-4 6 0 6-2 6-2 6 1 6 0 6-1 6-1 6 1 6 1 6-3 6-2 6-1 6 0 6-1 6-1 6 0 6-2 6 0 6-1 6 0 6-1 6-2 6-2 6-1 6-2 6-1 6-1 6-2 6-1 6-2 6-1 6-2 6-1 6-1 6-2 6-1 6-1 6-1 6-1 6-1 6-1 6-1 6-2 6-1 6-1 6-1 6-2 6-1 6-1" stroke="#7f7f7f"/><path d="M0 328l6 4 6-3 6 6 6 15 6 2 6-3 6 0 6 10 6 8 6-1 6-2 6 30 6 9 6-6 6-11 6 7 6-9 6 1 6 3 6-6 6-23 6 1 6-4 6 13 6-11 6 9 6 1 6 9 6-2 6-8 6-4 6-9 6 0 6-6 6-6 6-12 6-13 6-12 6-7 6-12 6 2 6-6 6-1 6 1 6 4 6-9 6 8 6-2 6-4 6 8 6 0 6-8 6-4 6 7 6-13 6 5 6-1 6-2 6-4 6-2 6-8 6-7 6 2 6 7 6-1 6-8 6 4 6 13 6-15 6 4 6-8 6 4 6 6 6-5 6-6 6 10 6-1 6 2 6 3 6 8 6-2 6-11 6 0 6 0 6-1 6-2 6 1 6-2 6 5 6-8 6-3 6-2 6-6 6-12 6-3 6 9 6 3 6 3 6 3 6-2 6 6 6-9 6 3 6-6 6 4 6 0 6-5 6-10 6-1 6 4 6-6 6 6 6-3 6-1 6 0 6-3 6 1 6 0 6 5 6-7 6-2 6-1 6 3 6 5 6-2 6-1 6-4 6 2 6 5 6 1 6 0 6 1 6 2 6 3 6-2 6 0 6-1 6 3 6-1 6 9 6 3 6-6 6 0 6-6 6-2 6-3 6-8 6-11 6-3 6-6 6-4 6 4 6-2 6-2 6 1 6-6 6-4 6-3 6 14 6-2 6 4 6 1 6 2 6-3 6 0 6 0 6-4 6-4 6-4 6 6 6 2 6-9 6 5 6 2 6 3 6-3 6-4 6-5 6 2 6-1 6 4 6-6 6-2 6 2 6-2 6 4 6-2 6 3 6 1 6-5 6 2 6-1 6 3 6-7 6 3 6-6 6 5 6 1 6 1 6 4 6-2 6 1 6-15 6-1 6-1 6-4 6-3 6 1 6 1 6-3 6-7 6 4 6 1 6-7 6-1 6 1 6-3 6-4 6-1 6-4 6-5 6 0 6 1 6-2 6 5 6-4 6-1 6-1 6-1 6-4 6-8 6-4 6-3 6 0 6 2 6-3 6 2 6-2 6-3 6-3 6 0 6 0 6 4 6-2 6-5 6-2 6 2 6-5 6-3 6 3 6-4 6 2 6-4 6 2 6-4 6 2 6 0 6 0 6-2 6-2 6-2 6-2 6-3 6-3 6-3 6-3 6 0 6-1 6-1 6 0 6-3 6 1 6 0 6-1 6 0 6-1 6-1 6 0 6-3 6-2 6-2 6 0 6-4 6-2 6-2 6-1 6-2 6-1 6-2 6-3 6-2 6 0 6-2 6-2 6-1 6-1 6-2 6-2 6-1 6-1 6 1 6-2 6-1 6-1 6-2 6-1 6-1 6-1 6-1 6-1 6-2 6-1 6-2 6-1 6-1 6-1 6-2 6-1 6-1" stroke="#bcbd22"/><path d="M0 328l6-4 6-5 6-1 6 5 6 12 6 3 6 1 6 5 6-1 6 0 6 0 6-1 6-1 6 4 6 0 6 4 6 8 6 14 6 5 6-11 6-6 6-21 6 11 6-5 6-4 6-1 6 5 6-8 6 14 6-14 6-7 6 6 6-15 6 4 6 0 6 3 6 7 6-11 6 1 6 2 6 5 6-1 6 0 6 0 6-7 6 7 6 2 6 0 6-9 6 0 6-2 6 20 6-10 6-5 6-5 6 0 6-12 6-11 6 0 6 7 6 1 6 0 6-1 6 3 6-1 6-3 6-2 6 7 6 6 6 2 6 4 6 6 6 17 6 1 6-15 6 5 6 7 6-1 6-2 6-9 6 14 6 5 6 6 6-15 6 6 6 3 6-7 6-9 6-10 6 17 6 11 6-23 6 10 6 1 6-10 6 5 6 7 6 0 6-6 6-8 6-5 6-2 6-13 6-3 6 0 6-4 6-11 6 8 6-15 6-11 6 6 6 5 6-12 6-6 6-4 6 3 6 5 6-4 6 7 6-4 6-3 6 12 6-4 6-7 6-6 6 2 6-8 6-3 6 8 6-6 6-3 6-5 6 5 6 5 6 8 6-2 6-3 6 7 6 1 6-10 6 4 6 5 6-6 6 6 6-3 6-2 6-3 6-6 6 4 6-9 6 6 6 0 6-2 6-2 6 8 6 1 6 0 6-13 6 3 6-4 6-1 6 6 6-10 6-1 6 4 6-1 6 3 6-1 6 0 6-4 6 4 6-3 6 8 6-10 6-1 6 4 6 1 6-9 6-4 6 9 6-4 6 4 6 0 6-6 6 5 6 2 6 6 6 0 6-8 6-7 6-1 6 2 6-3 6 4 6-5 6 3 6-2 6 1 6 3 6 2 6 1 6 0 6-11 6-2 6-2 6 2 6-3 6-1 6-6 6 6 6 6 6-3 6-7 6 0 6 1 6 2 6-4 6-1 6-9 6-1 6 8 6-8 6-10 6 7 6-5 6 2 6 3 6-5 6 1 6 9 6 1 6-10 6-8 6-2 6 3 6-3 6-4 6-13 6-6 6-4 6 2 6 0 6 0 6 1 6-1 6 1 6 1 6 2 6-3 6 1 6-5 6-3 6-3 6-3 6-8 6-3 6 0 6 2 6-3 6-2 6-4 6-5 6-3 6-5 6-1 6-2 6-2 6-1 6 1 6-4 6-1 6-4 6-2 6 0 6-1 6 3 6 0 6-2 6-2 6 5 6 2 6-2 6 3 6 1 6-4 6-1 6 0 6 0 6 2 6 0 6-2 6 3 6-2 6-2 6-4 6 0 6-1 6 1 6-1 6 0 6-4 6-1 6 2 6-3 6-2 6 2 6 1 6-6 6 0 6 0 6 2 6 0 6 1 6 0 6-2 6-5 6 0 6-4 6 3 6-2 6-3 6 2 6-1 6-2 6 0 6-1 6-2 6-1 6 1 6 0 6-2 6-1 6 1 6-2 6-1 6-2 6-1 6-1 6-3 6 0 6-4 6-3 6-2 6-2 6-1 6-2 6-2 6-2 6 0 6 0 6-1 6-2 6 0 6-2 6-4 6 0 6 0 6-1 6-1 6-2" stroke="#17becf"/><path d="M0 328l6-5 6-4 6 7 6-5 6 2 6 5 6-3 6 1 6-7 6-3 6 0 6 13 6-23 6 0 6 8 6 0 6 5 6 17 6 12 6-7 6 1 6 6 6-3 6-8 6 7 6-2 6 4 6 0 6 7 6-7 6 3 6 4 6-3 6-6 6 6 6 2 6 4 6 7 6-3 6 8 6-4 6 0 6 2 6 9 6-18 6 0 6-2 6 7 6 6 6 0 6 3 6 2 6-3 6 7 6 5 6-5 6-13 6 6 6 8 6-3 6-2 6-6 6-5 6 6 6-2 6 0 6-7 6 4 6 21 6-5 6 0 6-2 6 17 6-12 6 8 6-2 6-9 6-10 6 7 6-10 6-8 6 10 6-6 6-1 6-5 6-20 6-7 6 12 6 12 6 0 6-2 6-14 6 16 6 3 6 1 6-11 6 5 6-11 6 8 6 6 6 0 6-10 6-14 6-11 6-13 6 7 6-2 6-3 6-12 6-8 6-2 6 9 6-6 6 1 6-4 6-9 6-5 6-1 6-1 6 15 6 1 6-1 6-5 6-7 6-2 6-10 6-4 6-3 6-3 6 4 6 7 6 2 6-4 6-2 6-6 6 8 6 4 6 2 6-4 6-2 6-3 6-5 6 6 6-1 6 4 6 2 6-8 6 4 6 2 6-1 6-12 6-4 6-5 6-8 6 1 6-4 6-6 6 1 6-1 6-2 6 0 6-4 6-2 6 10 6-4 6-4 6-6 6 0 6-3 6 8 6 7 6-2 6 0 6 0 6-1 6-6 6 8 6-1 6-4 6 0 6-4 6-3 6 2 6 9 6 7 6 4 6 2 6 6 6-1 6-6 6-5 6 0 6-12 6 7 6 1 6-4 6-2 6 3 6 5 6-15 6 7 6 0 6-7 6 8 6 9 6 1 6 7 6 1 6 8 6-3 6 2 6-8 6 7 6 3 6-15 6-3 6 5 6-3 6 0 6 0 6-14 6 2 6-3 6 2 6 5 6 3 6 11 6-1 6 10 6-1 6-11 6-6 6-1 6 6 6 2 6-4 6-8 6 1 6 7 6-6 6 3 6-1 6-1 6-4 6 5 6-7 6-4 6-3 6 1 6-2 6-15 6 4 6 2 6-8 6 2 6 6 6-3 6-10 6-4 6-2 6-7 6-1 6 0 6-8 6 4 6-2 6-2 6 1 6-3 6 1 6-1 6-13 6 4 6 3 6 3 6-3 6-1 6 1 6-1 6 1 6-5 6 3 6 3 6-2 6-1 6-14 6-8 6-2 6 1 6-1 6 3 6-4 6 5 6-3 6-3 6-2 6-6 6-1 6-5 6 1 6-3 6-3 6 1 6 1 6 0 6 0 6 1 6-5 6-2 6-4 6-3 6-1 6-1 6-3 6 1 6 3 6 0 6-4 6-3 6-1 6 0 6 0 6-2 6-1 6 2 6-1 6-1 6-1 6 0 6-1 6 0 6-2 6-6 6 0 6 1 6-2 6 3 6 0 6 2 6-2 6-2 6-1 6-1 6 0 6 0 6 3 6-2 6-2 6 1 6 2 6-2 6 0 6-3 6-2 6-2 6-2 6-1 6-2 6-2 6-2" stroke="#1f77b4"/><path d="M0 328l6 11 6-12 6-21 6-6 6 0 6 4 6 14 6-9 6-5 6 7 6-2 6 2 6 10 6-2 6-2 6-1 6-11 6 8 6-6 6-6 6 13 6 1 6 3 6 7 6 12 6-12 6-15 6-7 6 1 6 0 6-16 6-6 6-17 6 4 6 3 6-1 6-6 6 1 6-4 6 8 6 9 6-6 6-11 6-6 6 14 6 4 6-4 6 2 6 1 6-5 6 2 6-9 6-6 6-6 6-7 6-8 6-10 6-9 6-5 6 2 6-11 6-3 6-4 6-1 6 2 6-1 6-5 6-1 6 2 6-3 6-3 6 5 6 0 6 0 6-1 6-7 6-5 6 0 6-7 6-2 6 2 6 8 6-1 6-2 6 0 6-5 6 2 6-6 6 0 6-2 6-2 6-3 6-1 6-4 6 8 6 4 6-2 6-1 6-1 6 0 6-3 6-1 6 2 6-5 6-1 6 4 6-4 6-1 6 0 6-2 6-2 6 1 6 1 6 3 6 1 6 2 6-6 6 3 6 4 6-6 6 0 6 1 6-2 6 3 6-2 6-5 6 0 6 1 6 7 6-4 6 0 6 1 6-2 6-4 6 2 6-2 6 1 6-5 6 6 6 6 6 6 6 3 6 1 6-7 6-4 6-4 6 1 6-3 6 0 6 1 6-1 6 2 6 3 6-9 6-4 6 1 6 0 6-6 6-6 6-3 6 3 6-1 6 0 6 0 6 0 6-3 6-3 6-4 6 2 6-6 6-1 6 0 6 1 6 2 6-5 6-6 6 0 6 2 6-2 6 2 6 1 6 1 6-5 6-5 6-2 6-1 6 2 6-1 6-1 6 2 6-4 6 3 6 3 6 3 6 1 6 1 6 0 6-3 6-1 6-1 6-5 6-1 6-4 6-1 6-1 6-1 6 0 6 0 6-1 6-2 6 0 6-5 6-2 6-2 6 0 6-3 6-3 6 1 6-3 6-1 6 1 6-1 6-1 6-1 6-1 6-1 6-3 6-1 6-4 6-2 6-2 6-1 6-1 6-3 6-1 6 0 6 1 6-1 6-2 6-2 6-2 6-1 6-1 6-1 6 0 6-1 6-1 6-3 6-1 6 0 6-1 6-2 6-1 6-1 6-2 6 0 6-3 6-1 6-1 6-2 6-2 6-1 6-2 6-1 6-1 6-2 6-1 6-1 6-1" stroke="#ff7f0e"/><path d="M0 328l6-11 6-1 6-2 6 2 6-5 6-9 6-12 6 0 6 1 6 0 6 6 6-2 6-12 6-1 6-5 6-1 6-5 6 7 6 3 6-2 6 6 6-3 6 4 6-6 6 2 6-3 6 5 6-4 6-5 6-6 6-3 6 8 6-1 6 7 6-3 6 3 6 9 6 0 6 7 6 7 6-11 6-9 6-6 6-3 6 0 6-5 6-3 6-2 6 6 6-4 6-6 6-6 6-7 6 4 6-1 6-1 6 10 6 5 6 8 6 2 6-12 6 1 6 14 6 9 6-2 6 1 6 4 6 2 6-2 6-4 6-2 6-1 6-1 6-4 6-10 6 6 6-13 6 0 6-10 6 12 6-10 6-7 6 6 6-1 6 0 6 1 6 9 6-6 6-10 6-5 6 0 6 1 6 4 6-8 6-7 6 2 6-1 6 7 6-8 6-2 6-2 6 1 6 10 6-5 6 2 6-6 6-7 6-13 6-6 6 6 6 1 6 2 6 1 6-1 6 5 6 0 6 1 6-7 6-5 6 4 6-6 6 2 6 7 6 0 6-4 6 3 6-2 6-7 6-7 6-9 6 5 6 0 6 3 6-7 6 2 6-8 6-2 6 2 6-4 6 2 6 5 6-5 6 4 6-3 6-5 6-2 6 0 6 7 6 0 6-9 6-5 6 1 6-1 6 1 6-1 6 1 6-3 6-4 6 1 6 3 6-4 6-4 6-2 6-1 6-2 6-3 6-1 6-6 6-3 6-3 6-3 6-7 6-1 6-7 6 2 6-3 6 0 6-5 6-4 6 0 6 2 6-1 6-7 6-3 6-1 6-4 6 1 6-1 6 1 6 0 6-2 6-1 6 0 6-5 6 0 6 3 6 1 6-4 6 1 6 0 6-3 6 0 6-3 6 0 6-1 6-1 6-2 6-2 6-3 6 1 6-1 6-2 6 2 6-3 6-3 6 0 6-1 6-2 6-3 6 0 6-2 6-2 6-1 6-1 6 0 6-2 6 1 6-1 6-2 6-2 6-4 6-1 6-1 6-2 6-1 6-1 6-1 6-1 6 0 6 0 6-1 6-2 6 0 6 0 6-1 6-1 6-1 6-2 6-1 6-2 6-1 6-1 6-2 6 0 6-2 6-1 6-2 6-1 6-1 6-2 6-1 6-1 6-2 6-1 6-1 6-1 6-1 6-2 6-1" stroke="#2ca02c"/><path d="M0 328l6 5 6-13 6 18 6 3 6-7 6-8 6 3 6-3 6 11 6 3 6-8 6 1 6-15 6 15 6-3 6-3 6 15 6 12 6-22 6-10 6 12 6 4 6-1 6 2 6-17 6 3 6 3 6-5 6 4 6 3 6-7 6-7 6-4 6 8 6 2 6-8 6-13 6 11 6-8 6-13 6 2 6 4 6-3 6 2 6 9 6-2 6 6 6 5 6-3 6-3 6 0 6 11 6 11 6-11 6 4 6-7 6-11 6 5 6 0 6-22 6 10 6-5 6 4 6-1 6 3 6 1 6 10 6 13 6 1 6-1 6 3 6-6 6-1 6 6 6 2 6-2 6 3 6 3 6-10 6 9 6-4 6-2 6-4 6-5 6-15 6 1 6-1 6 6 6-6 6 2 6 1 6 0 6-2 6 4 6 0 6 2 6 7 6-2 6 14 6 4 6 0 6-12 6 6 6-7 6-7 6-4 6-4 6-1 6 1 6-7 6-11 6 11 6-6 6 6 6-3 6 5 6-2 6 22 6-6 6 3 6-15 6-5 6 11 6-6 6 1 6 2 6-5 6 3 6 1 6-1 6 8 6 10 6-5 6 3 6-1 6 21 6-1 6-12 6-5 6-12 6-1 6-3 6 6 6 3 6 9 6-6 6 2 6 0 6-4 6-7 6-4 6 2 6-6 6 1 6-12 6-3 6 3 6-12 6 6 6 7 6-12 6 1 6-10 6-1 6-14 6-6 6 9 6 5 6-6 6-3 6 2 6-3 6 4 6-2 6-5 6 0 6-4 6-7 6-1 6-11 6 0 6 7 6-5 6-5 6 4 6-5 6 11 6-5 6 1 6-4 6-7 6 4 6-3 6 0 6-7 6-3 6-6 6-5 6-4 6 4 6-4 6 3 6 0 6 6 6-5 6 0 6-7 6-10 6 3 6 2 6-3 6 1 6-2 6-1 6-4 6 0 6-4 6-5 6-5 6-11 6-1 6 1 6-4 6 2 6 5 6-2 6-4 6 1 6-2 6 5 6-6 6-4 6-6 6 1 6 1 6-6 6 3 6-6 6-6 6 0 6-6 6-1 6 7 6 0 6 1 6-3 6-3 6 1 6-6 6-3 6-4 6 1 6 0 6-5 6-2 6-1 6 1 6-2 6 5 6 0 6-1 6 0 6-2 6-3 6 0 6 0 6 2 6-4 6 3 6-3 6-1 6-1 6 0 6 3 6-2 6-3 6-4 6 0 6-3 6 0 6 0 6-1 6 0 6-1 6-4 6-4 6 0 6 0 6-3 6 1 6-3 6 1 6 2 6-1 6 0 6 0 6-1 6-4 6 1 6-1 6 1 6 2 6-1 6-1 6 0 6-3 6-1 6 0 6-3 6 2 6-1 6-1 6-3 6 0 6-1 6 0 6-1 6 0 6-1 6-2 6-2 6 1 6-1 6 0 6-1 6-2 6-1 6-3 6 0 6-1 6 0 6 1 6 0 6-1 6-2 6-1 6-1 6-1 6-1 6-3 6-1 6-1 6-1 6-1 6-1 6-1 6-2 6-1 6-1 6-1 6-2 6-1 6-1 6-2 6-1 6 0 6-2 6-1 6-1 6-1" stroke="#d62728"/><path d="M0 328l6-14 6-11 6 15 6 9 6 3 6 2 6 2 6 4 6 2 6-5 6 4 6 14 6-19 6 5 6 6 6 0 6-4 6 11 6-8 6-14 6 7 6 0 6-9 6-9 6-7 6-6 6-6 6-14 6 8 6-5 6 5 6 0 6-2 6-3 6-4 6-3 6-3 6 1 6-3 6 13 6 3 6-13 6 0 6 7 6 7 6-11 6 4 6-8 6 0 6-7 6 2 6 5 6-14 6 0 6-5 6 1 6 8 6-6 6 4 6-5 6-1 6-1 6-1 6 9 6-2 6-1 6-1 6 2 6 4 6-9 6 0 6-9 6-10 6-11 6-7 6-3 6-3 6-1 6 0 6-1 6 5 6-7 6-9 6-1 6 5 6 1 6-1 6 2 6-9 6-2 6-6 6 2 6 6 6 1 6-2 6 0 6 1 6 0 6 2 6 0 6-12 6 4 6-2 6 4 6-8 6-7 6-8 6-1 6-1 6 0 6 6 6 1 6-1 6 5 6 1 6-1 6-4 6-4 6-1 6 2 6-1 6 2 6 3 6 1 6 3 6-2 6-1 6-8 6-6 6-2 6-1 6 1 6 1 6-1 6-3 6 2 6-1 6 7 6-8 6-1 6-9 6-4 6-6 6 0 6-3 6-2 6 0 6 2 6-7 6 0 6 1 6-2 6 6 6-3 6 3 6 4 6-2 6-1 6-5 6 3 6 2 6 3 6 3 6 3 6-3 6 1 6 1 6-6 6 5 6 2 6-1 6-1 6-2 6-7 6-1 6-3 6-1 6 2 6 0 6-4 6 0 6 2 6-3 6-2 6-1 6-2 6-7 6-1 6-3 6 3 6-1 6-4 6-1 6 4 6-5 6-2 6-1 6-1 6-4 6-2 6-1 6 0 6-1 6 1 6-1 6-2 6-5 6 0 6-2 6-5 6-2 6 0 6-2 6-2 6-3 6 0 6-2 6 1 6-4 6-4 6-2 6 0 6 1 6-2 6-2 6-5 6 0 6 0 6-1 6 2 6 0 6-1 6-3 6-1 6 0 6-4 6-2 6-1 6-1 6-3 6 0 6-1 6-3 6-2 6 0 6-1 6 0 6-1 6-3 6 0 6 0 6-2 6-1 6-2 6-1 6-1 6-1 6-2 6-1 6-1 6-2 6-1 6-1 6-1 6-2 6-1 6-1 6-1 6-2 6-1 6-2 6-1" stroke="#9467bd"/><path d="M0 328l6-11 6-10 6-11 6-6 6-8 6-6 6 1 6-2 6 7 6 2 6-1 6 6 6-12 6 10 6 1 6-7 6-4 6 3 6 5 6-4 6-6 6 8 6-17 6 1 6 11 6 4 6 1 6 3 6 9 6-4 6-5 6-2 6 2 6 6 6 3 6-5 6 3 6 2 6 3 6 2 6-7 6 5 6-14 6 9 6 17 6-10 6-2 6-9 6 4 6-2 6-11 6-1 6-6 6-3 6-7 6-14 6-9 6-4 6 5 6 3 6-4 6 7 6 1 6-4 6-4 6-6 6-2 6-3 6-4 6 15 6-3 6 2 6-1 6-3 6-4 6-2 6 13 6 1 6 1 6-14 6 3 6-1 6 0 6 5 6-2 6-2 6-10 6-6 6-8 6-4 6 4 6-2 6 1 6 2 6-7 6-3 6-2 6 8 6-3 6-1 6 0 6-5 6 3 6 0 6-1 6-3 6-5 6 5 6-2 6-7 6-3 6-6 6-2 6 4 6 2 6-6 6-2 6 5 6-5 6-4 6 2 6-1 6 1 6-8 6-6 6-3 6-4 6 3 6-1 6-5 6-7 6-1 6 0 6-4 6-1 6 0 6 0 6-7 6-3 6 2 6 0 6 0 6-3 6-1 6 8 6-5 6 0 6-2 6 0 6-6 6-4 6-4 6-1 6 0 6 2 6-2 6-1 6-1 6 2 6 3 6-1 6 2 6-1 6 2 6 4 6 1 6 1 6-6 6-1 6 3 6-1 6 2 6-1 6-2 6 0 6 6 6 2 6-5 6-2 6-2 6-1 6 0 6 2 6-2 6 2 6 1 6-3 6 1 6 2 6 2 6 1 6 0 6-7 6-4 6-5 6-1 6 3 6-1 6 0 6-4 6 2 6 1 6-5 6-3 6-1 6-2 6 2 6-4 6-1 6 0 6-2 6-4 6-2 6-1 6-1 6-3 6 0 6-2 6-1 6-1 6-4 6-2 6-2 6-2 6 0 6 1 6-2 6-2 6-2 6-1 6 0 6-1 6 1 6-2 6-3 6 0 6-1 6-2 6-4 6 0 6-1 6-1 6-1 6-2 6-1 6-2 6-2 6-1 6-1 6-1 6 0 6-1 6-2 6-1 6-2 6-1 6-1 6 0 6-2 6-2 6 0 6-2 6-2 6-1 6-2 6-1 6-1 6-1 6-2 6-1 6-1 6-1 6-2 6-1" stroke="#8c564b"/><path d="M0 328l6-9 6 7 6-8 6-12 6-2 6-3 6-6 6 9 6-7 6-6 6-1 6-3 6 5 6 3 6 6 6-5 6 1 6 10 6 3 6-17 6-1 6-2 6 0 6-18 6 2 6-7 6 6 6-3 6-3 6-1 6 4 6-12 6-10 6 4 6-3 6-11 6-17 6 0 6 1 6 7 6-2 6 8 6 6 6 4 6-1 6 0 6 1 6-3 6 10 6-3 6-3 6 4 6 1 6 1 6-2 6 3 6-8 6-7 6-9 6-2 6 7 6 3 6 4 6-7 6 7 6 2 6-3 6-7 6-9 6-1 6-4 6 4 6 14 6 4 6 10 6-8 6 6 6-9 6 1 6 3 6-3 6-10 6-1 6-1 6-10 6-6 6 5 6-3 6 6 6-7 6-4 6 0 6-8 6-4 6-5 6 4 6-3 6-6 6 0 6-5 6-2 6 0 6 0 6-5 6-6 6-2 6-1 6-1 6-3 6-3 6-3 6 3 6 2 6 2 6-2 6-3 6 0 6-2 6 2 6-6 6 4 6 2 6-3 6-5 6-1 6 1 6 5 6-2 6-6 6-2 6-7 6 3 6-1 6-1 6 1 6-7 6-2 6 3 6-6 6-4 6 3 6-4 6-2 6-6 6-1 6-4 6-1 6 0 6-3 6-1 6-6 6-3 6-3 6-2 6 1 6-3 6 0 6 1 6-1 6-1 6-4 6 0 6-3 6-1 6-2 6 0 6-1 6-2 6-3 6-5 6-2 6 0 6 0 6-4 6 0 6 0 6-1 6-1 6-3 6-1 6-1 6-1 6-1 6-2 6-1 6-3 6 1 6-1 6-2 6-1 6-2 6-2 6-2 6 0 6-2 6-1 6-2 6 0 6-2 6-1 6 0 6-3 6-2 6 0 6-2 6-1 6-1 6-2 6-1 6-1 6-1 6-1 6-2 6-1 6-1 6-1 6-1 6-1 6-1 6-1 6-2 6-1 6-1 6-2" stroke="#e377c2"/><path d="M0 328l6-3 6-2 6 2 6-2 6-3 6 2 6 8 6-13 6-6 6 11 6-1 6-12 6-1 6 6 6 2 6 12 6-4 6 4 6 6 6-2 6-10 6 5 6-13 6 11 6 8 6-2 6-9 6-17 6-6 6-1 6-6 6-4 6-6 6 10 6-5 6-9 6 1 6-2 6 10 6 0 6 2 6 8 6 11 6 0 6 4 6 7 6 6 6 0 6-16 6-4 6 4 6 10 6 8 6-4 6 2 6-7 6-9 6 12 6-13 6-10 6-7 6 5 6-7 6-12 6 15 6 9 6 3 6-9 6 1 6-2 6 0 6-4 6-2 6-2 6 2 6 2 6-1 6-1 6 6 6-7 6 3 6-7 6 8 6-2 6-4 6 8 6-6 6-3 6-6 6-4 6-4 6 2 6-3 6 3 6-12 6 15 6-11 6-3 6 2 6-5 6 3 6 4 6 3 6 3 6 1 6 14 6-6 6 3 6 5 6-8 6 1 6-1 6 2 6-1 6-6 6 2 6 18 6-3 6 12 6 0 6 1 6-1 6-10 6-2 6-5 6-5 6 0 6 0 6-5 6-2 6-2 6 0 6-3 6 8 6 3 6 5 6-4 6 5 6-1 6-11 6 4 6-11 6 6 6 0 6 14 6-2 6-9 6 4 6-3 6 2 6-8 6-4 6-5 6 5 6-2 6 0 6-1 6 8 6-5 6 1 6-11 6-16 6-4 6 0 6-9 6 9 6 1 6 0 6 2 6 1 6-2 6 3 6-2 6 2 6-2 6 3 6-2 6-6 6-4 6 5 6-6 6-8 6 3 6 2 6-8 6 3 6-1 6 7 6-9 6 4 6-5 6-3 6-6 6-1 6 12 6-2 6-1 6-10 6 2 6-4 6-4 6 3 6 2 6-2 6-3 6-12 6-9 6 4 6-4 6-1 6-5 6-10 6-1 6-5 6-5 6 8 6-4 6 4 6 4 6-5 6 3 6-8 6-1 6-3 6-1 6-3 6-2 6 1 6-1 6 2 6-3 6-2 6-6 6-2 6-2 6-5 6-2 6-5 6 1 6-1 6-6 6-5 6-1 6-3 6-1 6 0 6-6 6 0 6 1 6 2 6-2 6-5 6-3 6 3 6 3 6-2 6 1 6 3 6 0 6-3 6-4 6-3 6 0 6-5 6-2 6 0 6-5 6-1 6-2 6 1 6 0 6-1 6-5 6-5 6 1 6-4 6-1 6 1 6 0 6 1 6-2 6 0 6-1 6-2 6-1 6-4 6 0 6-3 6-2 6-1 6-2 6-1 6 0 6-2 6 0 6-1 6 0 6-1 6 0 6-2 6-1 6-2 6-2 6-1 6 0 6-1 6-2 6-1 6-2 6 0 6-1 6-2 6-2 6-1 6-2 6 0 6-2 6-1 6-1 6-1 6-1 6-1 6-2 6-1 6-1 6-1 6-2 6-1 6-1 6-2" stroke="#7f7f7f"/><path d="M0 328l6-5 6 2 6 5 6 6 6 5 6 11 6-9 6-11 6 5 6-16 6-5 6-1 6-3 6-8 6-3 6-2 6-5 6-2 6 5 6-7 6 5 6-5 6-5 6-15 6 4 6-6 6-6 6 0 6-6 6 1 6 1 6-6 6 3 6-7 6 1 6 6 6-1 6-3 6 0 6-7 6 4 6-4 6-2 6 7 6-1 6-8 6 5 6-9 6-5 6-5 6 5 6 18 6 7 6-6 6 2 6 3 6-6 6-2 6 3 6-8 6-6 6 10 6-2 6 10 6-7 6 18 6 3 6-1 6 3 6 0 6 5 6-3 6 2 6 8 6 5 6 6 6 5 6 8 6 12 6 1 6 10 6 3 6-2 6-5 6-14 6-1 6 2 6-5 6-5 6 13 6 5 6 1 6 7 6-15 6-9 6-1 6-6 6-4 6-5 6 2 6 13 6-7 6 13 6-5 6 4 6 5 6-2 6-6 6-7 6 8 6 1 6 1 6 12 6 3 6-8 6 0 6-2 6-7 6 4 6 12 6-3 6-9 6 2 6-4 6-2 6 0 6 1 6 7 6 17 6-9 6-3 6 1 6-4 6-3 6 1 6 0 6-11 6-11 6 6 6-2 6-7 6 7 6 2 6-11 6 9 6 1 6-4 6 18 6 2 6 1 6-6 6 7 6-9 6-1 6 6 6-8 6-17 6-6 6 1 6-4 6-8 6-4 6 0 6 6 6-3 6 2 6 3 6-8 6 3 6-6 6 9 6-2 6-12 6 10 6-1 6 1 6 8 6-2 6-8 6-8 6-2 6-7 6 1 6-10 6-5 6 2 6-1 6 0 6 6 6 5 6 5 6 9 6 15 6-5 6 3 6 2 6-4 6 4 6 2 6-7 6-10 6-9 6-6 6-12 6 2 6-5 6 1 6 2 6-1 6 2 6-4 6 0 6-9 6-4 6 3 6-3 6-7 6-9 6 6 6 5 6-3 6 7 6-4 6-7 6 1 6-1 6-2 6-10 6 2 6-2 6 5 6-2 6-4 6-13 6 8 6-4 6-1 6 0 6-1 6-6 6 5 6 0 6 5 6 0 6-7 6-1 6-1 6 5 6-6 6 5 6-3 6 2 6 2 6-4 6-2 6-2 6 3 6 0 6 1 6 8 6-3 6-2 6-1 6 5 6 2 6-1 6-8 6 0 6-1 6-2 6-1 6-3 6 6 6-2 6 2 6 2 6 1 6 2 6-3 6-1 6 0 6 2 6 1 6 0 6 0 6 2 6-4 6 3 6-2 6 3 6-3 6 4 6 4 6 0 6-4 6 1 6-3 6-3 6-2 6-2 6-2 6 6 6 4 6-1 6 1 6 3 6 1 6 3 6-2 6-2 6-16 6-9 6 0 6-5 6 0 6-4 6-6 6-1 6-1 6 0 6 5 6-3 6 5 6-7 6 1 6-1 6-2 6-2 6-1 6 1 6-3 6 1 6 1 6 4 6-4 6-3 6 7 6 0 6-3 6 2 6 3 6 0 6-4 6-2 6-7 6 0 6-2 6-4 6 0 6 3 6-6 6-4 6-1 6 5 6 1 6 0 6-3 6-2 6-2 6-8" stroke="#bcbd22"/><path d="M0 328l6 10 6-11 6 9 6 2 6-4 6-17 6-1 6 16 6 2 6 1 6-11 6 5 6 5 6 16 6-10 6-7 6 15 6 0 6 11 6-6 6-1 6-8 6-5 6-3 6 8 6-12 6 2 6-2 6-14 6-3 6-3 6 2 6-6 6 0 6-5 6-5 6 8 6 22 6 6 6-11 6 11 6 3 6 21 6-15 6-1 6-1 6-3 6-2 6-7 6-11 6-3 6-17 6-1 6-6 6-5 6 3 6-7 6 2 6 4 6 8 6-9 6 3 6 1 6-6 6-7 6 9 6-3 6-6 6 5 6 3 6-11 6-1 6 3 6 11 6 3 6 1 6 4 6-14 6 3 6 0 6 1 6-4 6 11 6 4 6-7 6 6 6-1 6-12 6-3 6 2 6 10 6 1 6 2 6 14 6 9 6 4 6 6 6 0 6-12 6-4 6 5 6 10 6-10 6-1 6-6 6 7 6 9 6-6 6-4 6-6 6-4 6-16 6 1 6-1 6-5 6-6 6-4 6 1 6-3 6-9 6-8 6-1 6 2 6 2 6-10 6 4 6 6 6-1 6 2 6-6 6 3 6-3 6 4 6 0 6-7 6 8 6 6 6-7 6-4 6-7 6-9 6-4 6-5 6 2 6-6 6-8 6-2 6-1 6-3 6-4 6-1 6 7 6 1 6 3 6-3 6-5 6-5 6 1 6-1 6-1 6 1 6-4 6-6 6 0 6 2 6-3 6 2 6-1 6 0 6-2 6-1 6 3 6-3 6-5 6 4 6 2 6-3 6-7 6 9 6-2 6 0 6 0 6 3 6-4 6-7 6 7 6-1 6-2 6 6 6 1 6 4 6-1 6 0 6-4 6-2 6 2 6-3 6-8 6 1 6 3 6 6 6 4 6 0 6-7 6-8 6-2 6 6 6-3 6 6 6-3 6-5 6 1 6-1 6 10 6-2 6 2 6 8 6-3 6-5 6 3 6 6 6 1 6 0 6 0 6-8 6-1 6-2 6 1 6 0 6 0 6 0 6-5 6-1 6 7 6 7 6 6 6 0 6 2 6 3 6 5 6-9 6-7 6-3 6-1 6-4 6-4 6 1 6-5 6-4 6-3 6 1 6 10 6 2 6-5 6-10 6-5 6 2 6 0 6 0 6-2 6 4 6-4 6-1 6 6 6-2 6 5 6 2 6 0 6 1 6 2 6 0 6-2 6 0 6-9 6 1 6-3 6 7 6-4 6-1 6-1 6-3 6-5 6 6 6-4 6 3 6-6 6-1 6 0 6-1 6-4 6 0 6 2 6-4 6-4 6-4 6-5 6-3 6 0 6 8 6-5 6-8 6-1 6-1 6-1 6 1 6-5 6 1 6 1 6-3 6-2 6-6 6-1 6-4 6 0 6-5 6 2 6 0 6-3 6 0 6-2 6 3 6 0 6-1 6-3 6 0 6-3 6 0 6-1 6 2 6-2 6-2 6-5 6-3 6-2 6-4 6-1 6 1 6-1 6-1 6-1 6 0 6-2 6-2 6 1 6-1 6 0 6-3 6-4 6 0 6-2 6-1 6-1 6-2 6-1 6 0 6-4 6-3 6-1 6-2 6-1" stroke="#17becf"/><path d="M0 328l6-3 6-9 6-5 6 5 6 16 6 8 6-17 6-8 6 0 6-4 6 15 6-9 6 5 6-7 6-3 6-6 6-11 6 4 6-11 6-10 6 8 6 5 6 1 6-4 6 15 6 2 6-3 6-5 6 5 6-5 6-9 6 7 6-3 6 9 6-1 6-18 6-9 6 0 6-8 6-5 6 5 6 4 6 6 6 1 6-1 6 7 6 5 6 4 6 5 6-12 6 5 6-15 6-1 6 1 6 3 6 1 6-1 6 1 6 8 6-8 6-5 6-6 6-12 6-14 6 7 6 2 6 6 6 10 6-4 6 1 6-3 6-1 6 0 6-12 6 0 6-5 6 4 6-2 6 10 6 0 6 5 6 6 6-6 6-4 6-1 6 9 6 4 6 3 6-6 6 9 6-5 6 3 6 6 6 2 6-1 6-6 6-3 6 10 6-3 6 1 6 6 6 4 6-6 6 4 6 6 6-13 6 4 6 3 6 7 6 3 6 5 6 6 6-9 6 3 6 12 6 1 6-3 6-1 6-9 6-5 6 2 6 0 6 1 6 2 6 13 6-15 6-5 6 11 6-2 6-11 6-6 6-3 6-1 6 1 6 11 6-10 6-10 6 3 6-13 6 4 6 9 6 3 6-1 6-5 6 3 6 3 6 5 6-10 6-5 6 10 6-3 6-8 6 6 6-3 6-3 6 13 6 8 6-5 6 1 6-1 6 1 6 16 6 10 6-6 6 7 6-2 6 0 6 2 6-6 6-1 6 5 6 7 6 3 6-8 6-9 6-9 6-9 6 4 6-5 6-1 6 5 6-2 6-1 6-3 6-6 6-4 6 12 6 7 6 9 6-4 6 7 6-1 6-8 6 18 6 17 6-14 6-3 6-9 6 0 6 4 6 9 6-4 6 5 6-6 6 5 6-4 6 3 6-1 6-7 6-2 6 2 6-4 6-9 6-1 6 10 6 0 6-9 6 0 6-4 6-5 6 10 6 3 6-6 6 2 6 9 6 5 6-1 6 12 6 3 6 7 6 7 6 1 6 6 6 6 6 3 6 3 6-16 6-11 6 1 6-10 6-2 6 9 6 1 6 1 6-2 6 9 6-14 6 5 6-4 6 1 6-7 6 9 6-3 6-13 6-7 6-6 6 10 6-4 6-10 6-12 6-3 6 0 6-13 6 0 6 4 6-2 6 7 6-2 6-2 6 2 6-3 6 7 6-6 6 1 6 15 6-5 6 0 6-3 6 0 6 1 6 2 6 6 6-2 6 2 6 5 6 17 6 11 6-12 6-5 6-7 6-2 6-11 6-2 6-1 6-2 6 0 6-6 6 3 6 0 6-11 6 8 6 7 6 2 6-4 6 6 6-7 6-5 6-4 6-1 6-9 6 2 6 1 6-2 6-6 6-2 6-8 6 2 6-7 6-6 6 1 6 12 6 7 6 2 6 8 6-5 6 2 6-4 6-11 6-4 6-3 6 2 6 1 6 5 6 0 6 3 6 7 6-3 6 0 6-2 6 11 6 2 6-12 6-2 6-2 6-4 6-6 6 6 6-9 6-5 6-1 6-6 6-5 6-4 6 4 6-9 6-2 6-3 6-9 6 1 6 7" stroke="#1f77b4"/><path d="M0 328l6 0 6-7 6-4 6 5 6-5 6 12 6 8 6 2 6-1 6 10 6 0 6-2 6 10 6 0 6 0 6-3 6-8 6-19 6-6 6-5 6-9 6-2 6 2 6 11 6-8 6 9 6 18 6-8 6 0 6 14 6 21 6-1 6-4 6 4 6 5 6 9 6-10 6 4 6-2 6 18 6-23 6-11 6 3 6-9 6 5 6 5 6 4 6 11 6-1 6-27 6-13 6 12 6 2 6-3 6-2 6-3 6-5 6 7 6 13 6-9 6-23 6 7 6 4 6-6 6-10 6-10 6 3 6-4 6-4 6-2 6 1 6 3 6-3 6-8 6 2 6-4 6 2 6-6 6-1 6 2 6-11 6-2 6-13 6-7 6-11 6-11 6-2 6 0 6-6 6 0 6 0 6 0 6-2 6-4 6-7 6 5 6-1 6-7 6-6 6 0 6-4 6 4 6-13 6 2 6 0 6-1 6 5 6-1 6-9 6 3 6 7 6-3 6-5 6-2 6-8 6-2 6-2 6-5 6 1 6-3 6-1 6 1 6-1 6 0 6-3 6-2 6-3 6 3 6 0 6 0 6 0 6-9 6-2 6-3 6 0 6-3 6-3 6-4 6 0 6 1 6 0 6-1 6-2 6-1 6-4 6-2 6-2 6-2 6-1 6 5 6 0 6-4 6-3 6 1 6 3 6 0 6-6 6 3 6-2 6 3 6 1 6-4 6-3 6-4 6-3 6-1 6 3 6-3 6-5 6 3 6-6 6 0 6-3 6 1 6-1 6-3 6-3 6 1 6-2 6-4 6 2 6-1 6-4 6-1 6 1 6-2 6 3 6-2 6-3 6-2 6 0 6-2 6-2 6-2 6 2 6-1 6-3 6-2 6-2 6 0 6-2 6-1 6 0 6-2 6-2 6-3 6-4 6-2 6 0 6 0 6-1 6-1 6 1 6-1 6-1 6-1 6 0 6-2 6-2 6-1 6-3 6-1 6-1 6-1 6-2 6-1 6-1 6-2 6-2 6-1 6-1 6-2 6-1 6-1 6-2 6-3 6-1 6-2 6-1 6-1 6-1 6-1 6-1 6-2 6-1 6-1" stroke="#ff7f0e"/><path d="M0 328l6-12 6-8 6-8 6 6 6 5 6-6 6-7 6-4 6-4 6-14 6 2 6-3 6-7 6 9 6 1 6-8 6-10 6-10 6-2 6 0 6-1 6-2 6 7 6 2 6-6 6-7 6-9 6-4 6 3 6-4 6 3 6 0 6-1 6 2 6 3 6-6 6-5 6 8 6-4 6-7 6 3 6-3 6 3 6-2 6-1 6-10 6 0 6 4 6 0 6-9 6 3 6 2 6-4 6 8 6-1 6-6 6 5 6 1 6-6 6 1 6-2 6-8 6 4 6 2 6-4 6 0 6 0 6-3 6 3 6-3 6-5 6 3 6-1 6 0 6-4 6 0 6-2 6-1 6-11 6 5 6 0 6 4 6-3 6 1 6-1 6-5 6 7 6 0 6-7 6-4 6 1 6-6 6 1 6 2 6-4 6-3 6 7 6-5 6 0 6-7 6-5 6-2 6-11 6-2 6 2 6 0 6-9 6 5 6-2 6 1 6 3 6-1 6-2 6 1 6-2 6-4 6-2 6 2 6 2 6 0 6-3 6-5 6-2 6 1 6-4 6 0 6-2 6-3 6 0 6-4 6 0 6 1 6-7 6 3 6 1 6-3 6 2 6 0 6 0 6-1 6-2 6-2 6 1 6 1 6-3 6-4 6 3 6-2 6-4 6-1 6 0 6-4 6-4 6-5 6-1 6-5 6 1 6-1 6 0 6 1 6-3 6 0 6-2 6-1 6-2 6-4 6-2 6-2 6 3 6 0 6 0 6 0 6-4 6 0 6-2 6-1 6 0 6-1 6-2 6-1 6 0 6-2 6-2 6-2 6 0 6-1 6-1 6 0 6-2 6 0 6-3 6-2 6-1 6-1 6 1 6-2 6-1 6-1 6-1 6-1 6-2 6 0 6-1 6-2 6 0 6-2 6-1 6-2 6-1 6-1 6-1 6-1 6-2 6-1 6-1 6-2 6-1 6 0 6-1 6-2 6-1 6-2 6-1 6-1" stroke="#2ca02c"/><path d="M0 328l6 2 6 3 6 15 6 4 6 2 6-11 6 7 6 7 6 12 6-1 6 1 6-2 6 6 6-2 6-17 6 5 6-6 6-3 6-12 6 16 6 2 6-3 6-18 6-8 6-15 6-6 6 2 6 5 6-1 6-4 6 2 6 0 6-2 6-12 6-14 6 4 6 2 6-4 6 1 6 8 6 9 6 3 6 6 6-10 6 8 6 9 6-4 6-9 6-1 6-7 6-4 6 7 6-10 6 0 6-11 6-1 6-1 6 3 6 17 6-6 6-9 6 0 6-13 6-2 6-1 6-5 6-3 6-4 6-3 6-3 6-8 6 3 6-4 6-1 6-6 6-3 6-3 6-12 6-7 6 0 6 2 6 7 6 0 6 9 6 1 6-5 6-7 6 8 6-4 6-1 6-4 6-6 6 1 6-3 6 7 6-8 6 1 6-10 6 7 6 1 6-1 6 0 6 3 6-1 6-4 6-2 6-3 6-8 6 6 6-6 6 7 6-8 6 7 6-6 6 3 6 5 6 11 6-2 6-3 6 3 6-6 6 1 6-11 6 0 6 3 6-2 6 2 6-8 6 3 6 6 6 6 6-7 6-2 6-3 6-3 6 0 6 1 6-7 6-1 6-1 6-4 6 2 6-1 6 3 6 5 6-8 6 1 6 0 6 3 6-4 6-2 6-7 6-5 6 9 6-11 6 5 6 0 6-1 6 2 6-4 6-1 6-2 6-1 6-2 6-1 6 0 6 6 6 1 6-5 6-7 6 5 6 6 6-5 6 3 6-1 6-1 6 3 6-5 6 3 6 0 6 5 6-5 6 7 6-4 6 3 6-5 6-4 6-2 6-7 6-2 6 4 6-1 6 3 6 1 6 3 6-1 6 2 6-9 6-1 6 4 6 0 6-6 6 1 6 1 6-4 6 0 6 0 6-4 6-9 6-4 6-2 6-6 6 0 6-2 6-5 6 1 6-2 6 3 6 0 6 4 6-3 6-2 6 1 6-2 6 0 6-1 6-1 6-2 6-1 6-2 6-2 6-1 6 1 6-6 6-4 6 1 6-1 6-2 6-3 6-1 6 3 6-2 6 1 6-5 6 3 6-1 6-5 6-1 6 0 6-3 6-2 6-2 6 0 6-1 6-2 6 0 6 0 6-2 6-1 6 0 6-1 6 1 6 0 6 1 6-2 6-3 6 0 6-3 6-3 6 0 6-2 6-1 6-1 6-1 6-1 6 0 6 0 6-1 6-2 6-1 6 0 6-2 6-1 6-2 6-3 6-2 6 1 6-2 6-1 6-1 6-1 6-2 6 0 6-2 6-2 6-1 6-1 6-1 6-2 6-1 6-1 6-2 6-1 6-2 6-1 6-1 6-2 6-1 6-1 6-2" stroke="#d62728"/><path d="M0 328l6-10 6 0 6 7 6 2 6 9 6-1 6-1 6 1 6-12 6 13 6-8 6-19 6 0 6-12 6 19 6 11 6 26 6 6 6 1 6 5 6 16 6-5 6-7 6-1 6 0 6 3 6 10 6 6 6 7 6-4 6 6 6-11 6 5 6 7 6-4 6 11 6 11 6-21 6-6 6-8 6-5 6-3 6 3 6 11 6-7 6 9 6 9 6 1 6-13 6-11 6-11 6 0 6-5 6-1 6 8 6-8 6 3 6 1 6-15 6-10 6-12 6-1 6-8 6 2 6-3 6 11 6 10 6-5 6 0 6 2 6 3 6-2 6 0 6-10 6-2 6 7 6 4 6-15 6-10 6 1 6-2 6 8 6 8 6 9 6 3 6-6 6-15 6-2 6 9 6 8 6 0 6-2 6 2 6-1 6-5 6 4 6 3 6-4 6 3 6-4 6 1 6-12 6-2 6-6 6-3 6 3 6-7 6 4 6-6 6-14 6 8 6-1 6 9 6-8 6-3 6 13 6-2 6-16 6-5 6 2 6-2 6 5 6-11 6-10 6 2 6-2 6 1 6 0 6-2 6-4 6 9 6-6 6-4 6-5 6 3 6-6 6 7 6 5 6 10 6-5 6-12 6 0 6 5 6-1 6-2 6 16 6-8 6 2 6-7 6-2 6-1 6-5 6 13 6 1 6 2 6-3 6 6 6-5 6-1 6 12 6 3 6 6 6 10 6-4 6 5 6-1 6-10 6 3 6 2 6-1 6 6 6 7 6 3 6-5 6 0 6-8 6-1 6-8 6 11 6 0 6 6 6 1 6 9 6 4 6-8 6 8 6-6 6-12 6-4 6-5 6-1 6-3 6-14 6 4 6 0 6 1 6-3 6 13 6-5 6-3 6 13 6 1 6-9 6 1 6 4 6 1 6-11 6 2 6 1 6 1 6-14 6-5 6-5 6-12 6 0 6-7 6-4 6 4 6 9 6-1 6 3 6 9 6-8 6-2 6 6 6 2 6-1 6-10 6-3 6-3 6-9 6 7 6-4 6 9 6-2 6 2 6-9 6-1 6-5 6 5 6-6 6 1 6-9 6 7 6-4 6-2 6 1 6 3 6 8 6-5 6-1 6 5 6-3 6-4 6 2 6-5 6-4 6-4 6-3 6-5 6 8 6-6 6 0 6-1 6 3 6-5 6-7 6 0 6 0 6-12 6-3 6-1 6 4 6-2 6 0 6-6 6-8 6-6 6 1 6-8 6 1 6 6 6 3 6-3 6 0 6 1 6 1 6 3 6-4 6 6 6 1 6 5 6 1 6-4 6-3 6-6 6-1 6-5 6 8 6-1 6-4 6 6 6-3 6-1 6 0 6 0 6 2 6 6 6 4 6 4 6 7 6-4 6-5 6 5 6 2 6 3 6-1 6 5 6 11 6-5 6 2 6 0 6-1 6 5 6-3 6 7 6-8 6-5 6 4 6 3 6 3 6 0 6 2 6 8 6 3 6-3 6-6 6-4 6 0 6-3 6 9 6-2 6 4 6-8 6-3 6 5 6-3 6 2 6-5 6-3 6-2 6-3 6 3 6-5 6-2 6 1 6 4 6-2 6-1 6-6" stroke="#9467bd"/><path d="M0 328l6 1 6-2 6 2 6 3 6-4 6-2 6-2 6 4 6 8 6 5 6 0 6 7 6-5 6 7 6-1 6-9 6 11 6 8 6-3 6 2 6 1 6 2 6-5 6-1 6 3 6 2 6 6 6 2 6 11 6-1 6 5 6-5 6-1 6 10 6-1 6 7 6 3 6 0 6 2 6 2 6 1 6 8 6 6 6 2 6-1 6 6 6 3 6 9 6 17 6 8 6 3 6 3 6 0 6-1 6-1 6 2 6 2 6 7 6-14 6-14 6-18 6-5 6-10 6-4 6 2 6 5 6-3 6 1 6 11 6-7 6 3 6 6 6 0 6 2 6 4 6-5 6 1 6-6 6-5 6-4 6-3 6-1 6 1 6-9 6 8 6 3 6 2 6-3 6-3 6 1 6 0 6-9 6 2 6 11 6-10 6 3 6 0 6-2 6 4 6-7 6 2 6 7 6 0 6-1 6 1 6-1 6 7 6-3 6 5 6-5 6 4 6 0 6-12 6 1 6-4 6-2 6 8 6-4 6-5 6 8 6 1 6 8 6 3 6-4 6 1 6 6 6 5 6 1 6 1 6 0 6-3 6 9 6 0 6-5 6-2 6 3 6 3 6 0 6-4 6 1 6-8 6-6 6 5 6-1 6 3 6 7 6 5 6 1 6 11 6 5 6-1 6 5 6 3 6-3 6 1 6 1 6-9 6 0 6 0 6-1 6-7 6-1 6 1 6 2 6-5 6 4 6-5 6 0 6 7 6-3 6-1 6 6 6-1 6-1 6 2 6 6 6-10 6-3 6-4 6-4 6-4 6-3 6 3 6-4 6 2 6 3 6-3 6-2 6 5 6-1 6-6 6-3 6-7 6-1 6 1 6-6 6-4 6 3 6-5 6-2 6-5 6-4 6-2 6 9 6-2 6-3 6-3 6-1 6 3 6 1 6 8 6 1 6 6 6 1 6 3 6-7 6-3 6-2 6-3 6-11 6 1 6-3 6-4 6-3 6-3 6 0 6-5 6-4 6 1 6 1 6-2 6-2 6-3 6 0 6 5 6-4 6 5 6 3 6-3 6 3 6-7 6-7 6-6 6-2 6-2 6-2 6 0 6-9 6 1 6-6 6-4 6-3 6-5 6-7 6-5 6-1 6 0 6 0 6-4 6-5 6-4 6 0 6-9 6 3 6-3 6-4 6-1 6 2 6-1 6 2 6-2 6 1 6 2 6-3 6 2 6-2 6-2 6-5 6-3 6-1 6-6 6 0 6-2 6-1 6-9 6-2 6-1 6-4 6-3 6-8 6 0 6-4 6 1 6-6 6 0 6-3 6 0 6-4 6-3 6 4 6-4 6-3 6-3 6-4 6 1 6 2 6-3 6-6 6 1 6 1 6 0 6 0 6-4 6-2 6-5 6-5 6 0 6-3 6 3 6-2 6-3 6-1 6 2 6-1 6-5 6-1 6 1 6-3 6-4 6 0 6-1 6-3 6-1 6-3 6 0 6-1 6 1 6 0 6-4 6 0 6 0 6 0 6 0 6-2 6-2 6 2 6-1 6-3 6 2 6-1 6 0 6-2 6-1 6-2 6 0 6 1 6-3 6 2 6-1 6-1" stroke="#8c564b"/><path d="M0 328l6-7 6-5 6-11 6 5 6 0 6 6 6-1 6-7 6 9 6 3 6 7 6-2 6 11 6 13 6 4 6 12 6 2 6 0 6-4 6-4 6 10 6 9 6-2 6 14 6-8 6-16 6-15 6-13 6-4 6 5 6 1 6-6 6-6 6-12 6 9 6-5 6-8 6 7 6 5 6 7 6 4 6 8 6-2 6-7 6-18 6 2 6-4 6-12 6-12 6 1 6-4 6-3 6-4 6 5 6-12 6 1 6-8 6-13 6-4 6-3 6-4 6 3 6-5 6-4 6-1 6-4 6 0 6-8 6 3 6-3 6 9 6 5 6 4 6 6 6-9 6-6 6 1 6 1 6-3 6 1 6-12 6-9 6-1 6 6 6 2 6-3 6 2 6-2 6-7 6-4 6-2 6-7 6-4 6-2 6-8 6-5 6-6 6 0 6-6 6-3 6-6 6 4 6 4 6-3 6 8 6-4 6 8 6-3 6 3 6 3 6 5 6 1 6 3 6-3 6 5 6 1 6-2 6-4 6-3 6-6 6 6 6-1 6 3 6-3 6 1 6-2 6-1 6-1 6-7 6-3 6-6 6-6 6-1 6 1 6-2 6 3 6 0 6-4 6-5 6 3 6-3 6-3 6-10 6 0 6 2 6-1 6 6 6-7 6-6 6-2 6 4 6-3 6 0 6 2 6 0 6-4 6-3 6-6 6 0 6-7 6 0 6-5 6-6 6 0 6-2 6 1 6-3 6-4 6 1 6-1 6 4 6-1 6-4 6-1 6-3 6 0 6 0 6-2 6 0 6 1 6-1 6-2 6-8 6-2 6 2 6-3 6-3 6 0 6-2 6-1 6-3 6-1 6-4 6-1 6-2 6-2 6-1 6-1 6-1 6-1 6-1 6-2 6 0 6-2 6 0 6-2 6-1 6-1 6-1 6-1 6-1 6-1 6-3 6-1 6-2 6-2 6-1 6-1 6-1 6-1 6-1 6-2 6-1 6-1 6-2 6-2 6-1 6 0 6-2 6-1 6-2 6-1 6-1 6-2" stroke="#e377c2"/><path d="M0 328l6 0 6-10 6-3 6-3 6-2 6 1 6 4 6-16 6-6 6 9 6 1 6-19 6-10 6-10 6-2 6 5 6 3 6 0 6 4 6 4 6-4 6 8 6 5 6-2 6 5 6 0 6-4 6-8 6 2 6-10 6-5 6 2 6 15 6-3 6-5 6-8 6-12 6 8 6 16 6 5 6 0 6-17 6-5 6-3 6-3 6 2 6 1 6 0 6-1 6 7 6 5 6 2 6 2 6-12 6 1 6-5 6-2 6-8 6 2 6-4 6-11 6-7 6 5 6-2 6-5 6-12 6-1 6 2 6 3 6-7 6 2 6 6 6-4 6 2 6-2 6-7 6-6 6-8 6-4 6 5 6-8 6 3 6 1 6 0 6 6 6-2 6-5 6 0 6-4 6 0 6-2 6 8 6-3 6-1 6-4 6-6 6 2 6-1 6-1 6 1 6-3 6-3 6-4 6-1 6 5 6-1 6 2 6-6 6-4 6 4 6-4 6 5 6-1 6 1 6 0 6 0 6 6 6-4 6-3 6-4 6 0 6 6 6 2 6-1 6 3 6 7 6 4 6-1 6 1 6-1 6 2 6-6 6-7 6 1 6-2 6-5 6-1 6-2 6 6 6-3 6 0 6 0 6 2 6 4 6 6 6-2 6-6 6-1 6-2 6-4 6-1 6-3 6-1 6-3 6 4 6-2 6 0 6-4 6 0 6 4 6 1 6 1 6 2 6-2 6-1 6 1 6-1 6 5 6 7 6-1 6-5 6 5 6 2 6 0 6-4 6-3 6-5 6-3 6 2 6-5 6-1 6 0 6 2 6 2 6 1 6-2 6 1 6-5 6-5 6 1 6 1 6-1 6-3 6 3 6 0 6 2 6 3 6 4 6 0 6 0 6-2 6 2 6 4 6-1 6-2 6-2 6-1 6-4 6-2 6-3 6-4 6 2 6 2 6-9 6 2 6-3 6 2 6 1 6-1 6 3 6 3 6-3 6-2 6 4 6-4 6 2 6 2 6-1 6 1 6-1 6 1 6 2 6 1 6 1 6 2 6 2 6-1 6-1 6 0 6-5 6-3 6-4 6-2 6 6 6-2 6 0 6-6 6-1 6-5 6 1 6-3 6 1 6 1 6-7 6-2 6 3 6 1 6 0 6 2 6-4 6 0 6 3 6 0 6 1 6-5 6 5 6 0 6 3 6 0 6-4 6 0 6-1 6-4 6 5 6 1 6-6 6 3 6 2 6-2 6 3 6-5 6 0 6 2 6 0 6-5 6 3 6 1 6-4 6-4 6-1 6 2 6 3 6-6 6-2 6 1 6-5 6 1 6-1 6 2 6 1 6-1 6-1 6-1 6 0 6-3 6 1 6 0 6 2 6-4 6-1 6-2 6 1 6-3 6 4 6-5 6-3 6-1 6 0 6-3 6-3 6 1 6-2 6-3 6 0 6-2 6 0 6 1 6-3 6 0 6-1 6-1 6-2 6-1 6 1 6 0 6 0 6-2 6 2 6-2 6-1 6 1 6 1 6-1 6 0 6 1 6-3 6 0 6 2 6-1 6 0 6-1 6 0 6-3 6 0 6-5 6 1 6-1 6 0 6-3 6-1" stroke="#7f7f7f"/><path d="M0 328l6 1 6 0 6 6 6-6 6 2 6 8 6 4 6-2 6-6 6-6 6 2 6 8 6 4 6 2 6-5 6 10 6-7 6 2 6 0 6 0 6 17 6-3 6-28 6-10 6-4 6-3 6-3 6-1 6-4 6 3 6 1 6 4 6 8 6-3 6 2 6 5 6-1 6 4 6 11 6 12 6 2 6-16 6 13 6 11 6 0 6-11 6 0 6-3 6-9 6 9 6-8 6-4 6-10 6 6 6-6 6-5 6-2 6-11 6 4 6-1 6-7 6-3 6-11 6-4 6-2 6 5 6-13 6 7 6 2 6 2 6 0 6 1 6-9 6-6 6 2 6 1 6 1 6 6 6 2 6-2 6-1 6 0 6-13 6 7 6 3 6 8 6-10 6 0 6 0 6 2 6 0 6 4 6 9 6-19 6-2 6 9 6 2 6-5 6-2 6-6 6-1 6 2 6-3 6 0 6-16 6 2 6 0 6 0 6 3 6-2 6 9 6-1 6 11 6 10 6-2 6-2 6 6 6 12 6 0 6 8 6 11 6 8 6-2 6 6 6 2 6 1 6-1 6-17 6-6 6-1 6 4 6 1 6 12 6 10 6 6 6-4 6-2 6 8 6-11 6 0 6-8 6 3 6-2 6-1 6 0 6 11 6-2 6-3 6-4 6 14 6-8 6-2 6-1 6 6 6 9 6-1 6-5 6-1 6-15 6-11 6-5 6 2 6 3 6 1 6-2 6 13 6 6 6 12 6 13 6 2 6-3 6-13 6-1 6-6 6-7 6-4 6-5 6-2 6 0 6-1 6 3 6-13 6 7 6-4 6-8 6-3 6 7 6-10 6-1 6 2 6-18 6-4 6-7 6-1 6-1 6 10 6-2 6-7 6 4 6-5 6 3 6 1 6-9 6 12 6 0 6 7 6-7 6-1 6-5 6 11 6-6 6 3 6-2 6-5 6-18 6-9 6-2 6 2 6-3 6 3 6 0 6-6 6-11 6-10 6 6 6-6 6-5 6-8 6-2 6 2 6-8 6-5 6-1 6 4 6-5 6-1 6 1 6-8 6-2 6 2 6 3 6 6 6 4 6-2 6-4 6-1 6-1 6-2 6 0 6-6 6-2 6 1 6-4 6-2 6-7 6-3 6 1 6 2 6-5 6-2 6-3 6 6 6-7 6-10 6-8 6 3 6 3 6 3 6 6 6-2 6-1 6-2 6 0 6-1 6-1 6-2 6-6 6-3 6 0 6 2 6 3 6-5 6 3 6-6 6 4 6-4 6 1 6-2 6-3 6 1 6-5 6-4 6 0 6-5 6 4 6-6 6 4 6 2 6 0 6-4 6-1 6-4 6 0 6 0 6-3 6-1 6-3 6 0 6 0 6-2 6-3 6-1 6-1 6-2 6 2 6-2 6-4 6-3 6 3 6-2 6-1 6-1 6 0 6-1 6-1 6 0 6-5 6 1 6-2 6-1 6-2 6-2 6-1 6-2 6-2 6-2 6-1 6-2 6-2 6-2 6-1 6 0 6 0 6-3 6-1 6-3 6-2 6-1 6 1 6-2 6-2 6-2 6-1 6-1 6-2 6-2 6-2 6-1 6-2 6-1" stroke="#bcbd22"/><path d="M0 328l6-6 6-5 6-1 6-2 6 4 6 10 6 7 6-8 6 3 6 2 6 3 6-1 6-3 6 3 6 3 6 4 6 15 6-9 6-4 6-8 6 11 6 9 6-8 6 0 6 7 6-8 6-8 6-8 6-10 6 9 6-4 6-4 6-10 6 2 6-3 6-6 6 3 6-3 6-2 6 2 6 7 6 3 6-7 6 13 6-7 6-1 6 5 6 0 6 2 6-3 6-7 6-4 6-11 6 0 6-5 6-4 6-11 6-2 6 1 6-12 6-8 6-15 6 3 6 3 6-3 6 5 6 1 6-5 6-4 6-8 6-10 6 6 6-1 6-6 6 1 6 2 6-2 6-6 6-2 6-2 6-1 6-4 6 7 6 9 6 3 6-2 6 7 6 8 6-1 6-1 6-4 6-11 6 7 6-2 6 2 6-8 6-3 6-5 6-3 6-2 6-2 6-1 6 2 6-3 6-5 6 2 6-6 6 1 6-4 6 3 6 0 6 0 6 2 6 7 6-7 6 3 6 2 6-3 6 0 6 4 6-10 6-2 6-3 6 4 6-5 6-5 6 0 6 1 6-1 6-3 6-7 6-5 6-6 6 2 6-5 6 5 6 5 6-3 6-3 6-1 6-2 6-1 6 1 6 0 6 0 6 0 6-4 6 2 6-6 6-2 6 1 6-1 6-2 6 3 6-1 6-1 6-6 6-5 6-2 6 0 6 3 6-3 6 4 6-3 6-3 6 1 6 3 6-6 6 5 6 0 6-1 6-2 6-3 6-1 6-2 6 0 6-2 6-1 6-1 6 3 6-3 6-3 6-3 6 0 6-7 6-2 6 1 6-1 6-8 6-1 6-4 6-1 6 2 6-2 6-2 6-6 6-1 6-2 6-2 6 0 6-1 6 2 6 2 6-1 6-3 6 1 6-5 6-4 6-3 6-1 6-1 6-3 6-1 6-3 6-3 6-2 6 0 6-1 6-2 6-3 6-1 6-1 6-2 6-1 6-1 6 2 6-2 6-2 6 0 6 0 6-2 6-2 6-1 6 0 6-3 6-2 6-2 6-2 6-2 6 0 6-1 6 0 6-2 6-1 6-1 6-2 6-1 6-1 6-1 6-2 6-1 6-1 6-2 6-1 6-2 6-1 6-2 6-1" stroke="#17becf"/><path d="M0 328l6 14 6 2 6 0 6-3 6-8 6 3 6-11 6-5 6 4 6-1 6-2 6-11 6 2 6-3 6-3 6 0 6-11 6 3 6 1 6 7 6-1 6-6 6 2 6 0 6 4 6-4 6-6 6-3 6 3 6 15 6 2 6 12 6 8 6 0 6-3 6 11 6-2 6-12 6-9 6 5 6 6 6-4 6-5 6 6 6 12 6-8 6-10 6-8 6 2 6-2 6 6 6-5 6-5 6 14 6-9 6 10 6-9 6-2 6 4 6 12 6 1 6 6 6-3 6 8 6 0 6 1 6 14 6-9 6-8 6 3 6 1 6 8 6-12 6 4 6 2 6-9 6 1 6 4 6-6 6-2 6-3 6 5 6-2 6-10 6 3 6-9 6-2 6-3 6 9 6 5 6-5 6 4 6 3 6-15 6 11 6-7 6-7 6-3 6-7 6-9 6-9 6-8 6 3 6-4 6 3 6-8 6-1 6 2 6 2 6 4 6-3 6-4 6-4 6-4 6 0 6 1 6 0 6-15 6-3 6-6 6 4 6 0 6-5 6-1 6-5 6-2 6 6 6-8 6 6 6 5 6 4 6 2 6 4 6-3 6 8 6-4 6 9 6-9 6 6 6 11 6 7 6 2 6-7 6 2 6-17 6-5 6-10 6 4 6 5 6 4 6-4 6 4 6 2 6 7 6 4 6 0 6 4 6 3 6 2 6-6 6 4 6-1 6-7 6-4 6 1 6-9 6-7 6-9 6 0 6-5 6-11 6-9 6 0 6 8 6 5 6 0 6 5 6-2 6-5 6 0 6-12 6-5 6 4 6-9 6-3 6 1 6-9 6 1 6-3 6-8 6-6 6-5 6 1 6 0 6-5 6 2 6 5 6 11 6 13 6-1 6-7 6 2 6 3 6 0 6 0 6-3 6 5 6-1 6 1 6-3 6 0 6 0 6 1 6 4 6-9 6-2 6-6 6-1 6-4 6-3 6-2 6 2 6 0 6 0 6-3 6-6 6 6 6-5 6-2 6-6 6-4 6-4 6-2 6-2 6-1 6-3 6-5 6-2 6-5 6 0 6 3 6 0 6-4 6 3 6-4 6-9 6-2 6 3 6-4 6-1 6-2 6-1 6 4 6-1 6 2 6-4 6 2 6-3 6 1 6 2 6 1 6-1 6-2 6-4 6 0 6-2 6-1 6 1 6 0 6 0 6 2 6 2 6-3 6-2 6 3 6-5 6 0 6-2 6 2 6-2 6 1 6 0 6-4 6 0 6 0 6 3 6 0 6 1 6-2 6-6 6 0 6-1 6 1 6-1 6-1 6-4 6-4 6-3 6-1 6-4 6 0 6-2 6 0 6 2 6-3 6-1 6 0 6-1 6-2 6-3 6-1 6-2 6 0 6 0 6 0 6 0 6-2 6-1 6-1 6-3 6 0 6-1 6-3 6-1 6 0 6-2 6-2 6-1 6-1 6-2 6-3 6-1 6-1 6-2 6-1 6-2 6-1 6-1 6-1 6-2 6-1 6-2 6-2 6-1 6-2 6-1 6-1 6 0 6-2 6-1 6-1 6-2 6-1 6-2 6-1 6-1" stroke="#1f77b4"/><path d="M0 328l6 9 6 22 6-5 6 3 6-5 6-18 6 0 6-3 6 4 6-7 6 0 6-1 6-13 6-3 6 5 6-6 6-18 6-4 6 2 6-7 6-2 6 2 6-9 6-7 6 3 6-9 6 3 6-2 6-3 6-16 6 7 6 3 6 0 6 7 6 0 6 6 6 0 6-9 6-6 6 0 6 3 6 4 6 5 6-8 6-10 6-1 6-4 6-1 6-9 6-4 6-3 6 2 6-3 6-4 6-8 6-6 6 0 6 5 6 2 6-1 6 4 6 5 6 6 6-11 6 0 6-2 6 1 6-2 6 1 6 0 6 1 6-6 6 6 6 17 6 8 6 1 6-6 6-7 6-2 6-3 6-1 6 7 6 4 6-7 6-11 6-12 6 5 6-12 6-6 6-3 6 1 6-2 6 4 6 2 6 0 6-4 6-4 6-4 6 2 6-2 6 3 6 0 6-4 6 0 6-6 6-4 6-2 6-2 6-2 6-5 6-2 6-3 6 0 6 1 6-5 6 0 6-4 6 7 6-6 6-1 6 1 6 0 6-3 6 1 6 0 6-5 6-1 6 1 6-2 6 2 6 0 6-1 6-6 6 3 6 1 6 8 6 0 6-6 6 2 6-1 6-5 6 1 6 2 6-5 6 0 6-3 6-3 6 2 6-5 6-2 6-1 6-2 6 3 6 1 6 1 6-7 6-4 6-2 6-4 6 0 6-1 6-3 6-1 6-3 6 1 6 2 6-1 6 0 6-2 6-4 6 3 6-2 6-2 6-6 6-2 6 1 6-4 6-2 6-2 6 0 6-5 6-2 6-1 6 0 6-2 6 2 6 1 6-1 6-1 6 0 6-3 6-2 6 1 6 1 6-3 6-1 6-1 6 0 6-1 6-2 6-2 6-2 6-1 6-1 6 0 6-2 6-1 6-1 6-1 6-2 6-1 6-2 6-1 6-2 6-2 6 1 6-1 6 0 6-2 6-1 6-1 6-2 6-2 6-2 6-1 6-1 6-1 6-2 6-1 6-1 6-1 6-1 6-2 6-1 6-1 6-1 6-1 6-2 6-1 6-1 6-2 6-1 6-1 6-2" stroke="#ff7f0e"/><path d="M0 328l6 2 6 1 6 12 6 6 6-12 6 0 6-6 6-12 6-14 6-7 6 10 6-15 6-5 6 12 6-2 6-4 6 4 6 5 6 5 6 10 6-6 6-15 6-1 6-5 6-12 6-13 6-14 6-1 6-3 6 8 6-2 6-8 6-7 6 6 6 7 6-1 6-2 6-4 6 7 6 0 6-2 6 7 6-8 6 2 6 1 6-6 6 5 6 1 6-5 6 10 6-5 6 1 6-3 6 0 6 5 6-3 6-2 6 4 6 3 6-1 6-9 6-6 6-7 6-12 6-6 6-5 6-2 6-12 6-1 6 6 6-3 6-2 6 1 6-1 6 3 6 2 6-3 6 5 6 1 6 9 6-1 6-3 6 1 6-6 6-1 6-2 6-3 6 7 6-1 6 0 6 3 6-4 6 3 6 0 6 1 6-9 6 4 6 6 6-1 6 2 6 3 6-2 6 5 6-3 6 1 6 6 6 10 6 8 6 9 6-5 6-14 6 4 6-1 6 3 6 4 6-3 6-8 6 3 6 2 6-8 6 1 6 0 6-3 6-6 6-6 6 5 6-6 6-1 6-8 6 0 6-6 6-2 6 6 6 3 6 4 6 8 6 1 6-10 6-8 6-10 6-3 6-7 6 2 6-6 6 3 6 9 6 9 6-5 6-6 6 2 6 1 6 5 6 6 6-9 6-6 6 0 6 4 6-4 6-2 6-5 6 9 6-6 6-1 6-3 6 7 6-2 6 0 6 7 6-3 6 4 6 1 6-6 6 0 6 0 6-6 6 0 6-7 6 3 6-5 6-2 6-1 6-5 6 3 6-1 6 7 6 3 6-7 6-2 6-3 6 0 6 0 6-4 6-5 6-5 6-4 6-5 6-3 6 2 6-2 6 4 6-5 6-1 6-1 6 1 6 4 6-1 6 6 6 2 6-3 6 2 6-1 6-2 6-6 6-5 6-2 6 1 6 2 6-5 6-2 6-5 6-1 6 4 6 3 6-1 6 0 6-4 6-1 6 0 6-3 6-3 6 4 6 2 6 0 6-3 6-1 6 2 6 3 6 4 6 0 6 1 6 1 6-2 6 1 6-8 6 1 6-1 6-1 6 1 6-3 6 0 6-3 6-1 6-2 6 0 6 0 6-1 6 4 6 0 6-1 6-2 6-3 6 3 6-1 6-3 6-4 6-1 6-1 6-2 6 0 6 1 6 0 6-3 6-1 6-2 6 0 6-4 6-2 6-1 6-4 6-1 6 1 6-2 6-2 6 2 6-3 6-2 6-4 6-2 6-3 6-1 6 0 6-1 6-2 6-1 6-3 6-2 6-1 6-3 6 0 6-2 6-1 6-2 6-1 6-1 6 0 6-3 6-1 6-2 6 0 6-1 6-2 6-2 6-2 6-2 6-1 6-1 6-2 6-1 6-2 6-1 6-1 6-1 6-2 6-1 6-2 6-1 6-1 6-1 6-1 6-1 6-2 6-1" stroke="#2ca02c"/><path d="M0 328l6-1 6-3 6 3 6-7 6 5 6 1 6 12 6 7 6 7 6-5 6-3 6-2 6 1 6 2 6 0 6-10 6-13 6 5 6 6 6-8 6 3 6 7 6 4 6 8 6 0 6-6 6 15 6 3 6 1 6 9 6 9 6-9 6-6 6-16 6 13 6 7 6 1 6-2 6-2 6 1 6-9 6-7 6 1 6 1 6-11 6 0 6 12 6 4 6 17 6-10 6-1 6 6 6-15 6-19 6-3 6-8 6 1 6 5 6 2 6-4 6 8 6-2 6-15 6 4 6-10 6-6 6-10 6-2 6-6 6-10 6-6 6 6 6 4 6 6 6-1 6-5 6 10 6 4 6 0 6-2 6 1 6-3 6 12 6 1 6 9 6 6 6-2 6 4 6-3 6 5 6 2 6-18 6-6 6-11 6 3 6-6 6-5 6-3 6 0 6 1 6-13 6-8 6 1 6-2 6 14 6 4 6 3 6-1 6-1 6 2 6-7 6-11 6-6 6-1 6-4 6-7 6 2 6-4 6-4 6-7 6 2 6-1 6-10 6-12 6-6 6-4 6 5 6-2 6-5 6 1 6-3 6 7 6 1 6 3 6 4 6-9 6-2 6-2 6-9 6-5 6-1 6 0 6 2 6-6 6 4 6 7 6-5 6 2 6-1 6-7 6 11 6 2 6 0 6-5 6 3 6-2 6-8 6-1 6 0 6-7 6-1 6 0 6 2 6-3 6 3 6 7 6-2 6-1 6 2 6 3 6 2 6-2 6 3 6 8 6-4 6-2 6 0 6-4 6 2 6 0 6-3 6 5 6-7 6-6 6 4 6-8 6-1 6 2 6 5 6-7 6-4 6 7 6-3 6-4 6-3 6-7 6-5 6 0 6-2 6-2 6 5 6-4 6-5 6-4 6-1 6 0 6 2 6 0 6-1 6 1 6 3 6 2 6 1 6 4 6-2 6-1 6 1 6-6 6 6 6 11 6 1 6 1 6-1 6 2 6-3 6-5 6-5 6-6 6 1 6-3 6-1 6-3 6 0 6 4 6-2 6 0 6-4 6-4 6-2 6 7 6-4 6-2 6-3 6 1 6-2 6 4 6-2 6-3 6 4 6-3 6 1 6-2 6 1 6-2 6-1 6 2 6 3 6-3 6 0 6-1 6-5 6 2 6 1 6-5 6 1 6-7 6-2 6-4 6 4 6 2 6-3 6 1 6 2 6 5 6-2 6 5 6-1 6-6 6-3 6 0 6-2 6-4 6 1 6 0 6-5 6-1 6 0 6-3 6-1 6 1 6-2 6 0 6-3 6 2 6 0 6 0 6 2 6-3 6-3 6-2 6 1 6 1 6 0 6 1 6-2 6 1 6-1 6-1 6 1 6 0 6-2 6 0 6-1 6-5 6-3 6-1 6-2 6 0 6-4 6 2 6-1 6 1 6 0 6 2 6-1 6-2 6-2 6 0 6-1 6 0 6 0 6 0 6-1 6-3 6 0 6-1 6-1 6 0 6 0 6-1 6-4 6 0 6-2 6-2 6-2 6-3 6 0 6 0 6-1 6 0 6-2 6-1 6 0 6-1 6-3 6-2 6-2 6-2 6-1 6-2" stroke="#d62728"/><path d="M0 328l6 3 6 6 6 8 6-5 6-3 6 11 6 7 6-1 6-3 6 3 6-12 6 9 6 16 6 8 6-6 6-5 6 13 6-21 6 5 6 9 6-8 6 8 6-5 6-17 6-4 6 12 6 2 6 11 6 9 6-3 6-6 6-7 6-2 6-8 6 5 6-15 6-4 6-9 6 0 6-10 6-1 6-5 6-2 6-3 6-6 6 2 6-1 6 7 6-6 6-1 6-4 6-4 6 5 6-3 6-11 6 7 6 10 6 0 6-4 6-1 6-2 6 4 6 8 6-4 6 4 6 1 6 11 6 2 6-7 6-6 6 10 6-4 6-3 6 3 6-1 6 9 6 1 6 4 6 2 6-9 6-2 6 4 6-7 6-9 6-5 6-5 6-12 6 0 6-2 6-10 6 1 6-18 6 0 6 2 6-2 6-1 6 8 6 7 6 2 6 1 6 0 6-11 6 8 6-7 6-6 6 12 6 3 6-11 6-1 6 1 6 4 6-5 6 6 6-5 6-3 6-2 6-2 6-2 6-4 6 0 6 7 6 5 6-5 6 0 6 1 6 1 6-2 6 4 6 2 6 1 6-10 6 4 6-5 6 1 6-5 6 8 6 1 6 3 6-4 6-4 6 0 6-5 6-19 6-12 6-2 6 9 6 1 6-6 6-3 6-2 6 2 6 7 6-3 6 0 6 5 6 1 6 0 6 6 6-3 6-3 6-2 6-1 6 2 6 0 6-16 6 7 6-3 6-2 6-3 6-3 6 3 6-3 6-8 6-2 6 0 6 0 6-4 6-5 6 3 6 0 6 5 6-3 6 4 6-5 6 1 6 0 6 6 6 1 6 2 6 1 6 1 6 7 6 0 6-15 6 3 6-4 6 2 6-11 6-4 6 1 6-7 6-2 6 3 6-3 6-3 6-1 6 0 6 3 6-1 6 1 6-7 6 5 6-1 6 4 6-1 6 0 6 3 6 1 6 5 6-7 6 2 6-4 6-2 6 3 6 3 6 4 6-5 6-3 6 0 6-2 6 0 6 3 6-3 6 4 6 3 6 1 6 3 6-2 6-5 6-4 6 4 6-7 6-1 6 7 6 4 6-6 6-4 6-2 6-3 6-4 6 2 6-2 6-4 6-3 6 3 6-3 6 1 6-1 6 3 6 2 6 4 6-7 6 0 6 4 6 2 6-1 6 1 6-1 6-5 6-4 6 1 6-8 6-4 6 7 6 1 6-1 6-1 6-4 6-1 6-1 6-3 6-1 6 0 6-2 6-5 6 1 6-6 6 3 6-2 6-2 6-2 6-2 6-2 6 0 6 2 6-5 6-1 6-4 6-1 6-2 6 1 6-1 6 4 6-4 6-4 6-2 6-2 6-2 6-3 6 1 6-2 6-3 6 1 6-1 6-2 6-2 6-4 6-3 6 0 6-2 6 0 6-3 6-1 6 1 6-1 6 0 6-1 6 1 6-2 6-1 6 0 6-3 6 0 6-3 6-3 6-1 6-2 6-2 6-4 6 0 6 0 6-3 6-2 6-1 6 0 6-2 6-1 6 0 6-1 6-2 6-2 6 0 6-3 6-1 6-2 6-1 6 0 6-1 6-1 6-2" stroke="#9467bd"/><path d="M0 328l6-3 6 0 6-9 6-2 6 10 6-4 6-11 6 0 6-3 6 1 6 6 6-9 6-8 6 1 6 8 6-2 6 6 6-13 6-8 6 11 6 4 6-2 6 6 6 2 6 3 6-7 6-1 6-6 6-10 6-3 6-18 6-9 6-4 6-6 6-5 6 2 6 0 6-6 6 2 6-7 6 10 6-2 6 2 6 5 6 3 6 1 6 2 6-6 6 3 6 0 6 8 6-5 6-10 6-10 6-3 6-2 6-4 6 6 6-5 6 0 6-8 6-3 6-3 6-2 6-6 6-1 6-3 6-6 6-7 6-2 6 0 6-1 6-4 6-2 6-1 6 2 6 4 6-8 6-8 6-4 6 0 6 6 6-5 6-1 6-3 6-3 6-7 6-11 6-6 6-3 6 0 6 2 6 2 6 3 6-1 6 0 6-3 6 2 6 5 6-12 6 5 6 0 6-2 6-1 6-1 6-4 6 1 6 3 6-5 6-4 6-1 6-4 6-4 6 1 6 1 6-2 6 1 6-1 6-5 6 2 6-2 6 1 6 0 6 3 6 0 6 4 6-4 6-1 6 1 6-4 6-1 6 2 6-5 6 4 6 2 6-2 6-4 6 1 6-2 6 1 6-1 6-4 6-1 6-2 6-1 6 1 6-1 6-1 6 0 6 1 6-2 6-1 6-3 6-1 6-3 6 3 6-2 6-1 6 0 6-4 6 1 6 0 6-2 6-1 6-1 6-2 6 1 6-1 6 2 6-3 6 0 6-3 6-2 6-2 6 0 6 1 6-2 6 0 6 0 6-1 6-1 6-1 6 1 6-1 6 0 6-2 6-3 6 0 6 2 6-1 6-1 6-2 6-2 6 0 6-1 6 2 6 0 6-1 6 1 6-3 6 0 6-1 6-1 6-4 6-2 6 0 6-2 6-2 6-1 6-1 6-2 6-1 6-1 6-1 6-1 6-2 6 0 6-3 6 0 6-2 6-1 6-3 6-2 6-1 6-1 6-2 6 0 6-2 6-1 6-1 6-1 6-2 6-1 6-2 6-1 6-1 6-1 6-1" stroke="#8c564b"/><path d="M0 328l6 6 6 11 6 3 6-9 6 14 6 5 6 13 6 0 6-3 6 1 6 8 6-3 6 4 6 13 6-5 6 1 6-1 6-15 6-3 6-6 6 2 6 2 6-6 6 0 6 4 6 0 6 9 6-1 6-5 6-4 6 3 6 4 6 9 6 11 6-10 6-4 6-15 6-18 6-3 6-3 6-2 6 8 6 0 6-10 6 2 6 13 6 8 6 3 6-9 6 5 6 13 6-7 6 8 6-19 6 15 6-1 6-4 6 10 6-6 6 5 6 4 6-17 6-9 6-1 6-3 6-2 6 11 6-10 6-7 6-10 6-8 6-2 6 0 6-3 6 1 6-11 6-5 6-8 6-2 6-8 6-14 6-5 6-6 6 3 6 7 6 0 6-11 6 0 6-3 6-5 6 5 6-3 6-3 6-9 6-2 6-4 6 1 6 6 6-6 6-8 6 6 6-3 6 0 6-4 6 0 6 2 6-1 6 6 6 5 6 0 6 2 6-1 6-3 6 2 6 2 6-6 6-2 6-4 6-2 6-6 6 8 6-7 6 5 6-3 6-1 6-1 6-3 6-10 6 3 6 0 6 1 6 2 6 10 6 0 6-1 6 4 6-9 6-6 6-4 6-4 6 2 6 2 6 0 6 2 6-2 6-3 6 4 6-5 6-1 6 3 6 1 6 8 6-6 6-4 6 6 6 0 6 1 6-2 6-1 6 5 6-12 6-8 6-1 6 0 6 10 6 5 6-4 6 5 6-7 6 2 6-8 6 1 6 1 6 2 6-7 6 2 6 4 6-4 6 0 6-6 6-2 6-2 6-3 6-2 6-4 6 1 6 2 6-3 6-2 6-3 6-3 6-1 6-1 6 3 6-8 6-2 6 1 6-2 6 1 6 2 6 4 6-1 6 1 6-1 6 4 6-1 6-2 6-4 6 2 6 2 6-3 6-6 6-4 6 1 6-6 6-5 6 2 6-4 6-9 6 1 6 2 6 2 6-2 6-4 6-4 6-1 6 1 6 0 6 3 6 3 6-5 6-3 6-4 6-3 6-4 6 6 6-3 6-2 6-4 6 1 6-3 6 0 6 0 6-4 6 1 6-5 6-4 6-1 6 0 6-2 6-3 6-5 6-1 6-2 6-2 6-1 6-2 6 0 6-1 6 0 6 1 6 0 6 0 6-2 6-1 6-1 6-2 6-4 6-1 6-3 6-1 6 0 6 0 6-2 6 0 6-4 6 0 6-1 6-4 6-3 6 0 6-1 6 0 6-2 6 0 6 0 6-2 6-1 6-1 6-2 6-1 6-2 6-2 6-1 6-1 6-2 6-1 6 0 6-1 6-2 6 0 6-1 6-2 6-1 6-1 6-1 6-2 6-1 6-2 6-1 6-1 6-1 6-1 6-2 6-1 6-2" stroke="#e377c2"/><path d="M0 328l6-1 6 9 6 3 6-9 6 11 6-18 6 16 6 0 6-5 6 0 6 2 6-1 6 7 6 5 6-6 6 2 6 8 6-12 6 2 6-12 6-7 6 0 6 5 6-1 6 5 6 3 6 0 6 0 6-14 6-13 6-9 6-6 6 0 6-5 6-10 6 5 6 9 6 8 6 3 6-15 6-1 6 2 6-13 6 10 6 0 6-2 6 4 6 1 6-7 6-3 6 9 6-7 6-6 6 1 6 1 6-1 6-1 6-8 6-7 6-1 6-6 6-2 6-4 6 2 6 1 6-11 6-3 6 2 6 3 6 2 6-6 6-7 6 10 6-1 6-3 6 6 6 14 6-2 6-7 6-7 6 4 6-1 6 2 6-6 6-2 6 5 6-4 6 4 6-4 6 5 6-4 6 2 6-8 6 3 6-12 6 0 6 14 6-3 6-2 6 5 6 8 6 4 6-3 6 9 6-16 6-4 6-12 6 4 6-1 6-4 6 6 6 2 6-6 6-5 6-4 6-4 6-3 6-1 6-8 6-1 6-4 6-8 6-7 6 1 6-4 6-6 6-2 6 0 6 7 6-1 6-2 6 1 6-5 6 1 6 6 6 3 6-2 6 5 6-7 6-2 6-2 6 1 6-3 6 2 6-1 6-8 6 7 6 5 6-2 6 0 6-5 6 1 6 0 6-6 6-6 6-2 6 0 6-2 6 1 6 0 6 0 6-2 6 6 6 0 6-2 6-3 6-6 6-1 6 3 6-2 6 0 6-2 6-1 6-1 6 1 6 0 6 1 6-2 6 3 6 6 6-5 6 2 6-3 6 1 6 2 6-4 6 1 6-5 6 2 6-3 6-2 6 1 6-1 6-4 6-3 6 0 6-3 6 2 6-4 6 0 6-4 6-1 6 0 6-3 6 2 6 2 6 0 6-1 6 0 6 5 6-4 6-1 6-2 6 2 6-2 6-5 6 2 6 3 6 6 6-3 6 3 6-8 6-5 6-2 6 0 6-3 6 0 6-3 6 3 6-2 6-2 6-3 6 1 6-5 6-1 6-5 6 1 6-4 6 0 6 0 6-1 6-2 6 6 6-3 6-2 6-1 6 0 6 0 6-1 6 2 6-3 6-1 6-3 6-4 6 1 6 1 6-1 6-1 6-1 6-1 6-1 6-2 6-1 6-3 6-1 6-1 6-3 6-1 6-2 6 0 6-2 6-3 6-1 6-3 6-2 6-1 6 1 6-2 6 0 6-2 6-2 6-2 6-3 6-1 6-2 6-2 6-1 6-1 6-1 6-2 6-1 6-1 6-3 6-1 6-1 6-2 6-1 6-2 6-1 6-1 6-2 6-1 6-1 6-1 6-2 6-1" stroke="#7f7f7f"/><path d="M0 328l6-7 6 3 6-3 6-15 6-2 6-4 6-9 6 5 6-10 6-1 6 7 6 4 6 0 6 10 6 12 6 1 6-1 6-4 6 5 6 13 6-11 6 1 6 2 6 4 6-11 6 0 6-1 6-9 6 6 6 10 6 1 6-9 6-2 6 0 6-6 6 7 6-9 6-1 6-8 6-4 6-12 6-4 6-8 6 10 6 5 6-6 6-5 6 0 6-3 6 7 6-1 6 8 6 4 6-16 6 0 6 1 6 0 6-1 6-4 6 8 6 3 6 1 6-10 6 6 6-6 6 8 6-8 6-2 6-1 6-3 6 10 6 3 6-3 6-2 6 5 6-2 6 4 6-3 6-6 6-1 6-4 6-6 6-3 6 2 6 5 6 3 6-6 6-3 6 5 6-3 6-3 6 7 6-7 6-4 6-3 6 0 6-10 6 6 6-8 6 5 6 7 6-1 6-5 6-6 6 7 6 12 6 2 6 7 6-4 6-3 6-11 6 1 6-2 6-6 6 8 6-3 6-1 6 2 6 8 6 0 6 5 6-7 6-2 6 1 6-6 6-4 6 1 6-3 6-4 6 0 6 0 6 1 6 8 6 2 6 9 6-7 6-5 6 5 6 3 6 3 6-1 6-5 6-2 6-2 6 4 6-5 6-1 6-5 6 2 6 8 6 10 6 0 6 1 6-4 6 8 6 7 6-8 6 3 6-10 6 1 6 2 6 2 6-2 6-3 6-13 6-13 6-4 6 9 6-8 6 2 6-10 6-4 6 4 6 5 6 6 6 4 6 1 6-1 6-6 6-14 6-7 6-6 6-10 6-11 6 0 6-5 6-6 6-10 6-5 6-2 6-4 6-3 6-5 6 3 6-4 6-1 6-8 6-2 6 1 6-1 6-3 6 0 6-2 6-3 6-2 6 0 6-1 6 2 6 1 6-2 6 0 6 4 6-3 6-5 6-1 6-1 6 2 6 1 6-6 6-4 6 3 6-5 6 2 6 1 6-4 6-1 6 0 6-3 6 1 6-1 6 1 6-3 6-1 6-1 6 0 6-1 6-4 6-4 6-2 6 0 6 0 6 1 6-5 6-4 6-3 6-1 6-3 6-2 6-3 6-1 6 1 6-1 6-3 6-2 6-1 6-3 6 0 6-1 6-3 6-2 6-1 6-1 6-3 6 0 6-2 6-3 6-1 6-1 6-2 6 0 6-2 6-2 6 0 6-1 6-2 6-2 6-1 6-1 6-2 6-1 6-1 6-2 6-1 6-1 6-1 6-2 6-1 6-2 6-1 6-1 6-2" stroke="#bcbd22"/><path d="M0 328l6-3 6-1 6 0 6 0 6 2 6-1 6 5 6-8 6 1 6-3 6 1 6 1 6-3 6-2 6 3 6 2 6-2 6 8 6 8 6-5 6 2 6 9 6 4 6 1 6-1 6-1 6-1 6-2 6 4 6-2 6-1 6-4 6 0 6-3 6 0 6 4 6 2 6 2 6 1 6 1 6 0 6-1 6 3 6-4 6 6 6 0 6-2 6-2 6-2 6 1 6-2 6 5 6-2 6-8 6-2 6-7 6 1 6 5 6 3 6-4 6-2 6 7 6 2 6 1 6 5 6 10 6 6 6 2 6 2 6 3 6-2 6-3 6 1 6-3 6 1 6 1 6 10 6-2 6 0 6 0 6 3 6 4 6-1 6-2 6-6 6-2 6 3 6 1 6-4 6 0 6 1 6 2 6-1 6 0 6-7 6-3 6 7 6-8 6 0 6 1 6-1 6-3 6 0 6 0 6 0 6-8 6 0 6-3 6-2 6 1 6 2 6 4 6-2 6 4 6 5 6 5 6 5 6 0 6-1 6 4 6-6 6 1 6-2 6-1 6-7 6-3 6 0 6 4 6 4 6 0 6-1 6-3 6 2 6-1 6 2 6 7 6 0 6-5 6-4 6-5 6-5 6 6 6 1 6-6 6 3 6 5 6-2 6-2 6-1 6 1 6 1 6 4 6 3 6 4 6 4 6 1 6-7 6-1 6 0 6-3 6 2 6-2 6-5 6 5 6 1 6 0 6 2 6 3 6 0 6-10 6-4 6-3 6-5 6 0 6 3 6-3 6-5 6 6 6-3 6-5 6-1 6 1 6-4 6 2 6-3 6-5 6 0 6 1 6-3 6 0 6-1 6 9 6-4 6 4 6-1 6-2 6 2 6 2 6 4 6 0 6-3 6-2 6 2 6 1 6 5 6 2 6 3 6 6 6 0 6-6 6-4 6-6 6 6 6-4 6 5 6 2 6 6 6 4 6-1 6-1 6 0 6 0 6-2 6 0 6 6 6-7 6 1 6-4 6 0 6 5 6 1 6 4 6-4 6 5 6-1 6 4 6 2 6-9 6-1 6 2 6 7 6 3 6 2 6-5 6 7 6 9 6 1 6 0 6-5 6 5 6 7 6-1 6 2 6-2 6-8 6 2 6-9 6 3 6 4 6 7 6 5 6 5 6 0 6-2 6 4 6 1 6-1 6-1 6 2 6-4 6-2 6-3 6 7 6 7 6 14 6-1 6 2 6 10 6 4 6 4 6 14 6-9 6-14 6-6 6 9 6 8 6 0 6 2 6-4 6-5 6-10 6-5 6-4 6-16 6-8 6 3 6-1 6-7 6 1 6 6 6 10 6-7 6 15 6 7 6 17 6 3 6 2 6-2 6-8 6 0 6-1 6-9 6 16 6 6 6 12 6-2 6 9 6-7 6-7 6-15 6-5 6 1 6-9 6-7 6 1 6-3 6 1 6 4 6 13 6 11 6 4 6 4 6-6 6-4 6 2 6-9 6-5 6-10 6-3 6 4 6-7 6 5 6 0 6-1 6-2 6 11 6 15 6-3 6-8 6-1 6-6 6 0 6-1 6-2 6 0 6-6 6-4 6 0 6 6 6 2" stroke="#17becf"/><path d="M0 328l6 3 6-12 6-8 6 4 6-10 6 5 6-7 6-6 6 2 6 0 6-2 6-14 6-4 6-4 6-1 6 1 6-10 6 6 6 5 6 6 6-5 6-8 6 9 6-9 6 5 6 13 6-5 6-1 6-6 6-5 6 3 6 10 6 5 6 5 6-11 6 2 6 5 6 0 6 6 6 0 6-3 6-4 6 7 6-5 6 4 6-4 6 0 6 1 6-5 6-6 6-5 6-6 6-1 6-4 6 9 6 0 6-6 6-1 6 4 6-3 6 5 6-1 6 13 6-9 6 2 6-5 6-4 6-4 6-5 6-3 6-5 6-12 6-9 6-1 6-1 6 3 6-2 6-1 6-4 6-7 6-2 6 0 6-5 6 6 6-8 6-2 6-2 6 5 6-4 6 3 6-1 6-2 6 0 6 2 6-5 6 6 6-2 6-1 6 3 6 4 6-7 6 5 6 0 6 0 6 5 6 4 6-3 6-5 6-4 6-8 6 3 6 4 6 0 6-3 6 0 6-8 6 1 6-7 6-3 6-6 6-3 6-1 6-1 6-1 6 0 6-6 6 3 6-2 6 9 6-6 6 3 6-5 6-3 6 2 6-3 6-5 6 4 6 6 6-2 6-6 6-1 6-6 6 2 6-5 6-4 6-5 6-2 6 1 6 4 6-3 6 5 6 1 6-2 6-3 6-3 6-1 6-1 6-6 6 1 6-2 6-2 6-4 6-2 6 1 6-4 6 6 6 3 6-3 6 3 6 2 6 2 6-4 6-4 6-5 6-1 6-2 6-4 6-2 6 0 6 3 6 0 6 1 6 0 6 1 6-1 6 2 6-1 6 2 6-4 6-1 6-1 6 3 6-6 6-2 6 5 6-1 6 0 6-2 6-2 6-2 6 0 6-6 6 1 6-2 6 2 6-4 6 0 6 1 6-1 6-4 6-1 6 0 6 0 6-1 6-1 6-2 6 2 6-1 6 0 6 5 6 1 6 1 6-3 6 0 6-2 6-4 6 2 6 0 6 0 6-2 6-5 6 1 6 1 6-3 6-5 6-2 6 2 6-5 6-2 6 0 6-1 6-2 6 1 6-2 6-1 6-1 6-1 6-3 6 0 6-1 6-1 6-1 6-3 6-2 6 1 6-1 6-1 6 0 6-1 6-3 6-3 6-3 6 0 6-2 6-1 6-2 6-3 6-2 6 0 6-2 6-1 6-2 6 0 6-2 6-2 6-2 6-1 6-1 6-1 6-1 6-1 6-2 6-1 6-1 6-1 6-1 6-2 6-1 6-2 6-1 6-1 6-1" stroke="#1f77b4"/><path d="M0 328l6 3 6 0 6-6 6 7 6-3 6 1 6 1 6 5 6-2 6 4 6-3 6 4 6-2 6-2 6 7 6 2 6 0 6 9 6 1 6-3 6 3 6-5 6 5 6 4 6-2 6-2 6 1 6 0 6-4 6 2 6-7 6-2 6-2 6-1 6 2 6-5 6 2 6 0 6-3 6-5 6-4 6 1 6-4 6 1 6 4 6 4 6 6 6-1 6-4 6 4 6 1 6 4 6 1 6 4 6 4 6 3 6 2 6 1 6 1 6 1 6 4 6-3 6 6 6-1 6 4 6-1 6-2 6 8 6-2 6-6 6-3 6-2 6 8 6 0 6 3 6-4 6 1 6 2 6 7 6-4 6 2 6 1 6-5 6-1 6-1 6-10 6 2 6 1 6-2 6-6 6 5 6 1 6 3 6 6 6-3 6 3 6-2 6-1 6-1 6 0 6 4 6 0 6-2 6-1 6 1 6-5 6-2 6-1 6-3 6-1 6-3 6 7 6 5 6 2 6-1 6 8 6 1 6-1 6 1 6 1 6 6 6 0 6 8 6-3 6 3 6-5 6 8 6-1 6 0 6 3 6 6 6-5 6-1 6-6 6 1 6-1 6-1 6-3 6-1 6-3 6 2 6 6 6-8 6 0 6-2 6 2 6-4 6 0 6-4 6 2 6 1 6-1 6 2 6-1 6-6 6 2 6 1 6 0 6 4 6 5 6-5 6-3 6 7 6 5 6-3 6-4 6-3 6-2 6-6 6 0 6-5 6-5 6 4 6-3 6 0 6 2 6 4 6-2 6 1 6-4 6 7 6 3 6-4 6 0 6 1 6 0 6 5 6 3 6-4 6-2 6-7 6-1 6-2 6 11 6 0 6-8 6-2 6 0 6-5 6-3 6-1 6 1 6-1 6-3 6 3 6-2 6-2 6-5 6-3 6 3 6-7 6 0 6 3 6-1 6 1 6-5 6 5 6 5 6 1 6-7 6-4 6 4 6 7 6 1 6 5 6-3 6 0 6 0 6 2 6-6 6 3 6 4 6-5 6-6 6 1 6-4 6-9 6 2 6 0 6-3 6 8 6-1 6-3 6-1 6-4 6-4 6 1 6-3 6-2 6 5 6 3 6 2 6 1 6 1 6 5 6-1 6 6 6-4 6-2 6-5 6-2 6 1 6 4 6 0 6 3 6 1 6-1 6-2 6 3 6-4 6 3 6 2 6-7 6-9 6-10 6 2 6-10 6 1 6-3 6-6 6-9 6-1 6 5 6-2 6-1 6 4 6 1 6 7 6-1 6 2 6-4 6 7 6-2 6-8 6 0 6-1 6 6 6-2 6 0 6 1 6 5 6 0 6 3 6 1 6-1 6 0 6-1 6-3 6 4 6-5 6 3 6 3 6-1 6-3 6-1 6-2 6-2 6-3 6-1 6-6 6-3 6-9 6-2 6-4 6-5 6-1 6 3 6-8 6 1 6-3 6 3 6 8 6 0 6 0 6 0 6 2 6 3 6 4 6-2 6 5 6-2 6 2 6 4 6 3 6-2 6-1 6 0 6 1 6 4 6-3 6 3 6-2 6-3 6-2 6 0 6-2 6-2 6-2 6 1 6-9" stroke="#ff7f0e"/><path d="M0 328l6-9 6-18 6-1 6-3 6 6 6 2 6-11 6 4 6-1 6-2 6-13 6-7 6 1 6 8 6-1 6 1 6 2 6 0 6 0 6-3 6-6 6 0 6-6 6 1 6 2 6 3 6-1 6-4 6 1 6 5 6-2 6 5 6 2 6-2 6-7 6 2 6-5 6-2 6 1 6-1 6 3 6-11 6 8 6 4 6-3 6 6 6-2 6 6 6-3 6-4 6-3 6 0 6-3 6 1 6 2 6 0 6-5 6 1 6 3 6-2 6 7 6-6 6 13 6-4 6 9 6-1 6-11 6 4 6 0 6 6 6-14 6 7 6-2 6 1 6-4 6 5 6 1 6-1 6 1 6 4 6-20 6-4 6-7 6-11 6-4 6-4 6-10 6-17 6-3 6-5 6-3 6 4 6 3 6-3 6-3 6 2 6-8 6-2 6-6 6-6 6 0 6 7 6-3 6-2 6-2 6-8 6-3 6-7 6 1 6-2 6 1 6 1 6 1 6 0 6-7 6-3 6-6 6-2 6-4 6 0 6 6 6 3 6-3 6 6 6-2 6-6 6-6 6-2 6 5 6-1 6 3 6-3 6-2 6 2 6-3 6 5 6-3 6-3 6-1 6 1 6-3 6-1 6 2 6 0 6 1 6 0 6-2 6-2 6 0 6-1 6 0 6 0 6-5 6-3 6-3 6-1 6 1 6 2 6 2 6 2 6-3 6 7 6 0 6 3 6-2 6-8 6-2 6-3 6-4 6 2 6 2 6-3 6 0 6-2 6-5 6-7 6-2 6-3 6-4 6-1 6-3 6-1 6-4 6 0 6-3 6 1 6 1 6-4 6 0 6-1 6-2 6-2 6-1 6-3 6-1 6 1 6-4 6-4 6-2 6-2 6-2 6-1 6-2 6-1 6 0 6-3 6 2 6-2 6 0 6 1 6-3 6-1 6-1 6 0 6-1 6-2 6-1 6-1 6-2 6 0 6-1 6-2 6-1 6-2 6-1 6-1 6-1 6-1 6-1 6-2 6-1 6-2 6 0 6-2 6 0 6-2 6-1 6-1 6-1 6-2 6-1 6-1 6-2 6-1 6-1 6-2" stroke="#2ca02c"/><path d="M0 328l6 5 6 4 6-3 6-7 6-6 6 5 6-10 6-3 6-6 6 0 6 8 6-7 6 0 6-4 6 15 6 0 6-5 6 0 6 11 6-5 6-3 6 11 6-7 6-2 6-12 6-9 6-10 6 4 6 6 6 1 6-2 6-1 6-13 6 8 6 23 6 6 6-4 6-1 6-9 6 0 6 4 6-2 6-10 6-11 6-9 6-9 6-4 6-5 6 2 6 1 6-1 6-4 6 0 6-2 6 10 6 3 6 5 6-2 6 0 6 6 6 0 6 0 6-4 6-3 6 10 6 9 6 4 6-9 6 4 6 10 6 5 6-9 6 0 6-2 6 5 6 7 6 11 6-7 6-1 6 0 6-9 6-3 6-10 6-3 6-2 6-3 6 0 6-5 6-2 6-4 6 4 6-1 6-7 6-10 6-6 6 2 6-3 6-7 6 1 6-10 6-1 6-4 6-2 6-8 6-9 6-2 6-6 6 0 6 5 6 1 6 6 6 2 6 5 6 9 6 6 6 6 6 8 6-6 6 6 6-9 6 5 6-3 6-6 6-6 6 6 6 1 6-10 6-13 6 7 6-1 6 1 6 6 6 7 6-4 6 1 6-2 6-10 6-5 6-7 6 0 6-1 6 7 6 1 6 0 6-8 6 2 6-5 6 0 6 6 6-3 6-6 6-6 6-7 6-7 6-1 6 4 6 6 6-1 6-5 6 2 6-1 6-2 6 2 6 2 6-4 6 0 6 1 6 1 6 8 6-2 6-9 6-1 6 4 6 1 6-2 6-10 6-3 6 2 6 4 6 2 6-9 6 3 6-7 6 0 6-3 6 5 6-2 6-2 6-4 6 2 6-3 6-1 6 4 6 0 6 3 6-4 6-7 6-2 6-1 6 1 6-3 6-2 6-1 6-4 6-2 6 4 6-2 6-2 6-4 6-3 6-1 6 3 6 3 6-4 6-1 6-4 6-3 6-4 6-3 6 0 6-2 6 1 6 0 6-4 6-6 6 3 6-1 6 0 6 1 6-2 6 3 6-3 6 1 6-2 6-3 6-1 6-4 6-5 6-5 6-3 6-7 6 3 6 0 6-4 6-3 6 0 6-1 6-3 6 0 6-2 6 1 6-1 6-2 6 0 6-1 6-2 6-2 6-1 6-1 6 0 6-2 6-2 6-3 6-3 6-1 6-2 6-1 6-2 6 0 6-3 6-2 6-1 6-1 6 0 6-3 6-2 6 0 6-2 6-2 6-2 6-1 6-2 6-1 6-1 6-1 6-1 6-1 6-2 6-1 6-1 6-1 6-2 6-1 6-1 6-2 6-1 6-1 6-2" stroke="#d62728"/><path d="M0 328l6 13 6 4 6-1 6 9 6-4 6-10 6-8 6 6 6 6 6 2 6-3 6 1 6 1 6 3 6-3 6 5 6 4 6 20 6-4 6-3 6-10 6-10 6-17 6-1 6-1 6 9 6-6 6 4 6 10 6-15 6 19 6 9 6-5 6 0 6 1 6 7 6 7 6 3 6-1 6-5 6 8 6 5 6-4 6 5 6-13 6-11 6 4 6-12 6-9 6-15 6 2 6 3 6-8 6 11 6-14 6 6 6-14 6 1 6 8 6-8 6-12 6 6 6 7 6 4 6 7 6-17 6 2 6-3 6-7 6-9 6 8 6-5 6-10 6 2 6-7 6-3 6-3 6 1 6 2 6-7 6 1 6-2 6 7 6-6 6-2 6 3 6-9 6-1 6 1 6 4 6-6 6 4 6-11 6-9 6-1 6-3 6 8 6 3 6 1 6 4 6-4 6-11 6 5 6 3 6-9 6 8 6-6 6 0 6-5 6-3 6 0 6-3 6 3 6 5 6-4 6 2 6-9 6 3 6 0 6 6 6-7 6 3 6 7 6 6 6 3 6-5 6-1 6-3 6-3 6-2 6 9 6-3 6 5 6 2 6 1 6 8 6 9 6 9 6 1 6-2 6 6 6-4 6 6 6-2 6-3 6 1 6 7 6 3 6-2 6 6 6-11 6-3 6 1 6 0 6-2 6-6 6-4 6 6 6-4 6 7 6 0 6 1 6 2 6 14 6 6 6 10 6 1 6-10 6-10 6 5 6-9 6 5 6 3 6-8 6 6 6-7 6 6 6 1 6 8 6 7 6 0 6 20 6-11 6 2 6 8 6-2 6-7 6-1 6 3 6-2 6-4 6 6 6-9 6-13 6-9 6-12 6-2 6-7 6-7 6-4 6 3 6 8 6 10 6-3 6-5 6-4 6-5 6-5 6-3 6-1 6 12 6 5 6-1 6-7 6 3 6 8 6 5 6 2 6-9 6 0 6 4 6 8 6-5 6 4 6 1 6-4 6 2 6 7 6 11 6-8 6 6 6 16 6 4 6-10 6-8 6-13 6 1 6 7 6 2 6 9 6 8 6 6 6-2 6 2 6 2 6-11 6-7 6 5 6 11 6-4 6-8 6-8 6-3 6-14 6 2 6-11 6-10 6 10 6-1 6-11 6 0 6-1 6-15 6 0 6-7 6-1 6-4 6 3 6 0 6-3 6 8 6 1 6 2 6-3 6 4 6 7 6-1 6 6 6-14 6-1 6-6 6-5 6 1 6-2 6-7 6 6 6-2 6 1 6 4 6 0 6-3 6-5 6-7 6-7 6 3 6-8 6 1 6-1 6-3 6 0 6 3 6-7 6 2 6 5 6 10 6-1 6-5 6 1 6 2 6-2 6-1 6 9 6 4 6-4 6 10 6-3 6 8 6-7 6 8 6-7 6-6 6-1 6-6 6 2 6 2 6 1 6 1 6-7 6-11 6 8 6-7 6 0 6 5 6 7 6 6 6 0 6 0 6 3 6 1 6 4 6 1 6 4 6 1 6-3 6 0 6-3 6-9 6-4 6 2 6-6 6 1 6 3 6 3 6-2 6 0 6 6 6-4 6-13 6 2 6-5" stroke="#9467bd"/><path d="M0 328l6-12 6 3 6-3 6 7 6 1 6-7 6 5 6-11 6 2 6 1 6 2 6 5 6 7 6-18 6-2 6 8 6-10 6 5 6-6 6-12 6-4 6-5 6-2 6 1 6-7 6-1 6 11 6-2 6 1 6-4 6 11 6-14 6 3 6-7 6 1 6 6 6-3 6 4 6-1 6 4 6 3 6-1 6 3 6-12 6-13 6 4 6 8 6 3 6 4 6-3 6-5 6 10 6-11 6 6 6 8 6-8 6-2 6 3 6-1 6-3 6-3 6-3 6 8 6-2 6 6 6-1 6-2 6 8 6-10 6-1 6-7 6 7 6 1 6 2 6-6 6 0 6-2 6 2 6-1 6 1 6 0 6 0 6 2 6-16 6 3 6 1 6 8 6-10 6 5 6-7 6 7 6 0 6 0 6-2 6 1 6-6 6 7 6-8 6 2 6-9 6 0 6-7 6 3 6 7 6 5 6-5 6 0 6-5 6-8 6-7 6-4 6-5 6 3 6 3 6-9 6 7 6-11 6 4 6 1 6 0 6-3 6-6 6 6 6-9 6-5 6-5 6-4 6-3 6-3 6-2 6-6 6 4 6-3 6-1 6-16 6 1 6-2 6 6 6-4 6 3 6-4 6 6 6 2 6 0 6-2 6 4 6 0 6 2 6-8 6 3 6 1 6 3 6-11 6 0 6 3 6-3 6 8 6 4 6 8 6 5 6-3 6 2 6-1 6 4 6 2 6 4 6-1 6-1 6-6 6-6 6-4 6 1 6-5 6 1 6-6 6-13 6-5 6-5 6-8 6 0 6 1 6-9 6 6 6-2 6 2 6 2 6-9 6-6 6-2 6-1 6 1 6 0 6 1 6 4 6 5 6 0 6-3 6-3 6 3 6 7 6 2 6 3 6-3 6-4 6-3 6-5 6 4 6-2 6 3 6 0 6 5 6 0 6-8 6-1 6-1 6-1 6 4 6-3 6-1 6 1 6-7 6-4 6-5 6 0 6-1 6-1 6-3 6-3 6-3 6-1 6-1 6-3 6-1 6-2 6 0 6 0 6 0 6 1 6 0 6-4 6 0 6-3 6 0 6-3 6 0 6 1 6-4 6 1 6 3 6-1 6 0 6-2 6-5 6-2 6-4 6-3 6-2 6-1 6-4 6 2 6 0 6 0 6-2 6-2 6-3 6-2 6-1 6 0 6 0 6 0 6-3 6-1 6-1 6-1 6 2 6-3 6-5 6-1 6-1 6-3 6-1 6-2 6-1 6-2 6 0 6-2 6 0 6-2 6-1 6-2 6-3 6 0 6-2 6-2 6-1 6-1 6-1 6-1 6-2 6-1 6-1 6-2 6-1 6-2 6-1 6-1 6-2 6-1" stroke="#8c564b"/><path d="M0 328l6 6 6 4 6 1 6 3 6 3 6 4 6 5 6 1 6 0 6 6 6-1 6 3 6 12 6-5 6 2 6 9 6-2 6 17 6-6 6 12 6 10 6 6 6 2 6 4 6-2 6 6 6-2 6 1 6 13 6 3 6 7 6 10 6-12 6 2 6-3 6-12 6-1 6-4 6-3 6 0 6-4 6 4 6-4 6 5 6-1 6 1 6-6 6-6 6-9 6 0 6 1 6 6 6 3 6-2 6-5 6 0 6-2 6 4 6 2 6-6 6-5 6 4 6-1 6-3 6 3 6-4 6-3 6-4 6-11 6 2 6-6 6-3 6-3 6 3 6-1 6 0 6-8 6-1 6-6 6 0 6 2 6-1 6 8 6 2 6 2 6 0 6-1 6 4 6 4 6-6 6 4 6 2 6 3 6 2 6-6 6-5 6 7 6 1 6-6 6 1 6-1 6-6 6-9 6-5 6 2 6 1 6 0 6 3 6 3 6-7 6 0 6-3 6-4 6-1 6 1 6 0 6-5 6-1 6 10 6-4 6-5 6 2 6 4 6 3 6-4 6 5 6-2 6-3 6-1 6 0 6 4 6 4 6 1 6 5 6 1 6 5 6-4 6-6 6 5 6-5 6-2 6-1 6-3 6-2 6 4 6-10 6 2 6 8 6 0 6-1 6 2 6 6 6-5 6-1 6-1 6 1 6 0 6 2 6-3 6 0 6-4 6-3 6-1 6-2 6-5 6 5 6-1 6-6 6 3 6-4 6 2 6-1 6 0 6 0 6-3 6-1 6 7 6-9 6-1 6 1 6-5 6-6 6 8 6-3 6 5 6-1 6-3 6-1 6-1 6 2 6-2 6-2 6-3 6 2 6 0 6-6 6-5 6-2 6-5 6-4 6-6 6-4 6-2 6 0 6-3 6 3 6-3 6 6 6 0 6-1 6-5 6-12 6-3 6-3 6 3 6-8 6 3 6-4 6-1 6-10 6-3 6-4 6-2 6-2 6-7 6 0 6-2 6-1 6-1 6 0 6-2 6-6 6-6 6 2 6-1 6-2 6-3 6-2 6-2 6-3 6-4 6 3 6-2 6-4 6-5 6-3 6-1 6-1 6-2 6-2 6-3 6-4 6 0 6-1 6 2 6-3 6-3 6 0 6-3 6-5 6-4 6-3 6-2 6-3 6-1 6-1 6-2 6-3 6-3 6-2 6-1 6-3 6-2 6-3 6-5 6-4 6-2 6-2 6-1 6-2 6-2 6-1 6-2 6-3 6-3 6-3 6-4 6-2 6-1 6-4 6 0 6-3 6-2 6-3 6-3 6-2 6-2 6-1 6-2 6-2 6-3 6-3 6-2 6-3 6-2 6-2 6-2 6-2 6-2 6-2 6-2 6-2 6-2 6-3 6-2 6-1 6-3 6-2 6-3 6-2 6-2 6-2 6-2 6-2 6-1 6-3 6-2 6-2 6-2 6-2 6-2" stroke="#e377c2"/><path d="M0 328l6 21 6 2 6-8 6 11 6 7 6-6 6 9 6-13 6 8 6-5 6 14 6-5 6 8 6-5 6-12 6 3 6-5 6 6 6 1 6-3 6-3 6-3 6 10 6 2 6-2 6-1 6 6 6 4 6 1 6-7 6-2 6-11 6 16 6 1 6 1 6-1 6 9 6-17 6-6 6-3 6 2 6-11 6-12 6-18 6 1 6 8 6-2 6 7 6 0 6-9 6-16 6 2 6-1 6 3 6-1 6 10 6-9 6 3 6 0 6 8 6 1 6-8 6 14 6-6 6-5 6-2 6-6 6 7 6 1 6 2 6-7 6 1 6 6 6-3 6-2 6 7 6-7 6 18 6 5 6 7 6-1 6-13 6-4 6 10 6-6 6-16 6 4 6-2 6 13 6 0 6 7 6-4 6-4 6 7 6-6 6-2 6 3 6-9 6 2 6-4 6-1 6-1 6-5 6-9 6-4 6 3 6-3 6-8 6-2 6-2 6-3 6 0 6-5 6-6 6 7 6-3 6-5 6-5 6-12 6-9 6 3 6-3 6-2 6-4 6 6 6 10 6-3 6 0 6-11 6 0 6-1 6-4 6-8 6-8 6-2 6 5 6 0 6-10 6-1 6 1 6 9 6 0 6 6 6-2 6-6 6-4 6-1 6 5 6 7 6-4 6 2 6-5 6 0 6 5 6-3 6-4 6 3 6 1 6-2 6-6 6-2 6-3 6-1 6 5 6-2 6 4 6-4 6-5 6 4 6 2 6-1 6-4 6 2 6-4 6 2 6 9 6-5 6-8 6 3 6-9 6-9 6 0 6 8 6 0 6 4 6 1 6-10 6-4 6-5 6-2 6-9 6 0 6 9 6 1 6-5 6 0 6 1 6-1 6 3 6-2 6 2 6 0 6 1 6-2 6 4 6-6 6 4 6-6 6-8 6 5 6 6 6-4 6-8 6-2 6 1 6 0 6-2 6-3 6 4 6-3 6 5 6 4 6-9 6-10 6 1 6-8 6-2 6-3 6-2 6-2 6 2 6 1 6 1 6 6 6 1 6-1 6 3 6 0 6 5 6 2 6-2 6-1 6-4 6-2 6-2 6-1 6 1 6-4 6 4 6-3 6 2 6-2 6 0 6-1 6-2 6-2 6-3 6-1 6-2 6 0 6-3 6-3 6 1 6-4 6 0 6-5 6 0 6-4 6-1 6-2 6-6 6 3 6-4 6-3 6-2 6-2 6 2 6-4 6-1 6-2 6-1 6-2 6 6 6 1 6 0 6-3 6-3 6 1 6-2 6-4 6-1 6-3 6 2 6 0 6-1 6-2 6-2 6-2 6 1 6 0 6 0 6-1 6-5 6 0 6 2 6-3 6-1 6-2 6-2 6-1 6-3 6-1 6-2 6-1 6-1 6-3 6-1 6 0 6 0 6-1 6 1 6-3 6-3 6-1 6 0 6-1 6 0 6-1 6-1 6-2 6 0 6 0 6 0 6-1 6-1 6-1 6-3 6-1 6-1 6 0 6-2 6-1 6-2 6-1 6 0 6-1 6-1 6-2 6-1 6-1 6-2 6-1 6-1 6-2 6-1 6-1 6-1 6-1 6-2" stroke="#7f7f7f"/><path d="M0 328l6 6 6-7 6-1 6 6 6-1 6-4 6 1 6 7 6-7 6-4 6-1 6 7 6 5 6 0 6-8 6 3 6 4 6 4 6-10 6-10 6-14 6-13 6-3 6 0 6 7 6 6 6 11 6 3 6-3 6-3 6-4 6-1 6-2 6-4 6-3 6 3 6 3 6-1 6 5 6 7 6 0 6 2 6-8 6 0 6 13 6 7 6 0 6-6 6-2 6 7 6-7 6 2 6 9 6 5 6-3 6-5 6 0 6-11 6-11 6-1 6-3 6 6 6 1 6-1 6-5 6 9 6-5 6-6 6-9 6 4 6-7 6-3 6-2 6 6 6-11 6-10 6 1 6-13 6 8 6-1 6 0 6 3 6 7 6-5 6-11 6 9 6-9 6-6 6-1 6 3 6-2 6-4 6-2 6-8 6-1 6-5 6-5 6-2 6 2 6-3 6 0 6-2 6 1 6-4 6-7 6-6 6 7 6 1 6-4 6 7 6-4 6 2 6 8 6-7 6 4 6 4 6 7 6-9 6-2 6-3 6 3 6-5 6-13 6-2 6-15 6-5 6-3 6-4 6-3 6 0 6 1 6 9 6 0 6 6 6-14 6-3 6 4 6 0 6-2 6-6 6 4 6-6 6 0 6-1 6-3 6 3 6 2 6-1 6-8 6-4 6 2 6-3 6 3 6 2 6-1 6 4 6 1 6-2 6-7 6 1 6-3 6-1 6-5 6 1 6 0 6-10 6 0 6-2 6-2 6-3 6-1 6 1 6-2 6-3 6 0 6-1 6 0 6-5 6 2 6-4 6 2 6-1 6 0 6-1 6-2 6-1 6 0 6-2 6 2 6-4 6 0 6-3 6 0 6-3 6-2 6-5 6-1 6 2 6-1 6 1 6 4 6 0 6-1 6 0 6-1 6 1 6-3 6-2 6 0 6-1 6-1 6 4 6-4 6-1 6 1 6 0 6-2 6-4 6-3 6 1 6 2 6-1 6 2 6-1 6 0 6-2 6-2 6-2 6 0 6-1 6 0 6-2 6-5 6 1 6-2 6-1 6-3 6-2 6-1 6 0 6 0 6-3 6 0 6 0 6-3 6 0 6 1 6 0 6 1 6 0 6-2 6-1 6-2 6 1 6-1 6-2 6-2 6-2 6-3 6 1 6-4 6 0 6-2 6-1 6-2 6-2 6-1 6-2 6-2 6 0 6-2 6-2 6 0 6-2 6-2 6-2 6-1 6-1 6-2 6-2 6-1 6-2 6 0 6-2 6-1 6-1 6-2 6-1" stroke="#bcbd22"/><path d="M0 328l6-4 6 2 6 5 6-3 6 7 6-4 6-18 6 4 6-2 6 5 6-7 6-12 6-1 6 5 6-7 6 12 6-3 6 3 6 8 6 4 6 2 6-1 6-9 6 2 6-13 6-5 6 1 6-10 6 1 6-2 6 6 6-4 6-4 6-2 6 2 6 6 6-3 6-1 6 2 6-1 6 7 6 2 6 9 6-3 6-3 6-7 6-13 6 3 6-12 6-3 6-6 6 9 6-3 6 0 6-5 6 0 6 12 6 1 6-5 6-5 6 0 6 6 6-2 6 12 6-8 6-3 6 6 6-11 6-8 6 7 6 8 6-9 6-7 6 9 6-10 6-2 6 2 6 6 6-4 6-2 6 4 6-2 6 3 6-19 6 1 6 7 6 2 6-5 6 0 6-4 6 3 6-11 6 11 6-10 6 2 6-8 6 7 6 4 6-7 6-2 6 2 6-7 6-4 6-8 6-8 6 5 6-5 6-4 6 0 6 4 6-3 6-2 6-9 6 0 6 6 6 1 6-1 6 13 6 4 6 1 6 11 6 3 6 0 6 4 6 3 6 0 6-14 6-2 6-3 6 0 6-4 6-9 6 5 6-9 6 1 6 6 6-10 6 2 6 4 6-2 6-1 6-2 6 3 6-3 6-5 6 9 6 1 6 0 6-3 6-4 6 0 6 0 6 3 6-2 6-7 6-1 6 9 6-5 6 3 6 9 6 3 6 0 6-2 6-2 6 5 6 1 6-6 6-7 6 2 6-7 6 4 6-7 6 8 6-10 6 3 6 6 6-6 6-3 6-7 6 4 6-6 6 1 6 4 6 4 6 4 6 3 6 3 6 1 6-1 6 1 6-6 6-7 6 5 6-2 6-2 6 11 6 2 6 3 6 3 6-2 6 0 6-8 6-4 6 4 6-3 6-6 6-4 6-1 6-4 6 5 6 4 6-5 6-5 6 2 6-8 6-1 6 1 6-5 6-5 6 3 6 0 6-1 6-2 6 7 6-2 6-5 6 0 6-2 6-4 6 1 6-4 6 1 6 4 6-3 6 0 6-2 6-6 6-1 6-7 6 0 6-1 6-8 6 0 6-1 6 3 6 1 6-1 6 0 6-1 6-1 6 1 6-4 6 3 6-5 6-2 6-1 6 0 6-3 6-5 6-3 6-2 6-3 6 3 6-2 6 2 6-4 6 3 6-2 6-1 6 0 6-2 6 3 6 1 6 2 6-3 6 3 6 1 6 4 6 3 6-2 6-5 6-1 6 2 6 2 6-6 6 0 6-1 6 0 6-1 6 1 6-2 6 2 6-5 6-2 6 0 6 0 6 1 6-2 6-1 6-1 6 1 6-2 6-4 6-2 6-3 6 0 6 1 6-2 6-4 6 2 6 1 6-1 6 1 6-1 6 0 6 0 6-1 6 0 6-1 6-1 6-1 6 5 6-2 6-1 6 2 6 1 6-4 6-5 6-3 6 1 6-2 6 0 6-1 6-1 6 0 6-1 6 0 6 1 6 0 6-1 6 0 6-3 6-1 6 0 6-1 6-2 6 0 6-2 6 0 6-3 6-1 6-1 6 1 6-3 6-2 6-2 6-2 6-2 6-2 6-2" stroke="#17becf"/><path d="M0 328l6-11 6 1 6 2 6 3 6 5 6 2 6-1 6-3 6 1 6-2 6 7 6-14 6 5 6 14 6-2 6-5 6-9 6 5 6 10 6 18 6-7 6 5 6 1 6 1 6-4 6-8 6-7 6-9 6-2 6-13 6 2 6-12 6-2 6 0 6-11 6-5 6 0 6-16 6-3 6-4 6-8 6-7 6-6 6-3 6 0 6 1 6-1 6-3 6-5 6-7 6-3 6 9 6-9 6-2 6-2 6 2 6 5 6-3 6 3 6-1 6 4 6-9 6 5 6 4 6-5 6-13 6-1 6 5 6-4 6 1 6-5 6-5 6 7 6 0 6-2 6 4 6 2 6-4 6 0 6-4 6-2 6-3 6 3 6 1 6 5 6-4 6-2 6 4 6-6 6-1 6-1 6-7 6 2 6 8 6 4 6-6 6 9 6-2 6-11 6-4 6-4 6 3 6 3 6-6 6 0 6-4 6-2 6-4 6 3 6 4 6 2 6-9 6 6 6 8 6 3 6-5 6 1 6 2 6-2 6 8 6 3 6 0 6-3 6 4 6-5 6-1 6 0 6-2 6 0 6 1 6 2 6-5 6 3 6 0 6-3 6 5 6 3 6 0 6-4 6 0 6-3 6-6 6 0 6-4 6-1 6 4 6 5 6 3 6 4 6 4 6 1 6-7 6-6 6-3 6-3 6-5 6-2 6 3 6-8 6-8 6 2 6-5 6-7 6 3 6-5 6 0 6 2 6-2 6 1 6-1 6-8 6-2 6-4 6-6 6-3 6-4 6-4 6 5 6-8 6-8 6-5 6-1 6 0 6-1 6-4 6-2 6-5 6-4 6 2 6 1 6-1 6-1 6 1 6 1 6-1 6 1 6-3 6-1 6-4 6-3 6-3 6-4 6-1 6-1 6 2 6-2 6-1 6-2 6-1 6-3 6-2 6-2 6-1 6-2 6 2 6-4 6 0 6-1 6 1 6-3 6 0 6-1 6-1 6-1 6 0 6-2 6 0 6 0 6-2 6-2 6-1 6-2 6-2 6-3 6-1 6-1 6-3 6-1 6-1 6-1 6 0 6-2 6-1 6-1 6-1 6-1 6-1 6-2 6-1 6-1 6-1 6 0 6-2 6-1 6-1 6-2 6-1 6-1 6-2" stroke="#1f77b4"/><path d="M0 328l6-13 6-4 6 11 6-7 6-1 6-7 6-2 6-4 6 11 6 10 6 1 6 8 6-9 6 12 6-7 6 2 6-11 6-6 6 10 6-9 6 5 6 2 6 10 6-8 6-7 6 10 6-6 6-7 6 6 6 6 6-1 6 3 6 4 6-6 6 3 6-7 6-5 6-4 6 4 6 0 6-4 6 1 6 9 6 6 6-22 6 1 6 10 6 4 6-5 6-14 6-8 6 9 6 8 6 11 6 2 6 5 6 4 6-18 6 12 6 5 6-1 6-9 6-6 6 3 6 7 6 4 6-4 6 9 6-1 6 13 6-5 6 1 6 8 6 6 6-11 6 0 6 6 6-6 6-3 6-7 6-7 6-6 6-3 6-2 6-8 6-2 6-7 6-12 6 5 6-10 6-3 6 4 6-4 6 0 6-11 6-15 6-11 6 2 6-4 6-5 6 7 6 11 6 10 6 2 6-1 6-1 6 9 6-3 6 1 6 2 6-9 6-4 6 16 6 0 6 2 6-7 6-2 6-6 6-7 6-11 6 0 6-3 6 0 6-7 6-7 6-1 6 5 6-4 6-7 6 3 6-1 6 1 6-7 6 5 6-9 6 0 6-6 6-5 6 2 6-5 6 4 6 7 6 2 6-4 6 4 6 8 6 3 6-7 6 6 6-4 6 9 6 1 6-3 6-2 6 6 6-1 6-1 6-9 6-1 6 4 6-1 6 5 6 0 6-3 6-2 6-5 6 3 6 2 6-3 6 6 6 2 6 0 6-2 6 0 6-7 6-2 6-8 6 0 6-1 6 4 6 3 6-5 6-2 6-2 6 5 6 5 6 5 6-2 6 4 6-5 6 1 6 4 6 2 6-1 6-4 6-3 6 8 6-1 6 0 6-6 6 2 6 2 6 6 6-4 6 7 6 8 6-3 6-7 6 2 6-1 6-7 6-10 6-3 6 3 6 2 6-6 6-2 6 2 6-1 6-1 6 0 6 6 6 1 6 4 6 2 6 10 6 0 6 1 6 1 6-6 6 1 6 6 6 3 6-5 6 13 6 8 6-12 6-2 6 2 6-9 6-9 6 7 6 3 6 1 6-7 6-13 6-14 6-7 6-2 6 1 6-5 6 9 6-8 6-2 6-5 6-3 6-5 6-2 6-4 6 1 6 1 6-2 6 3 6 1 6-5 6-5 6-4 6-2 6-2 6-5 6-4 6 2 6-1 6 0 6-1 6 2 6-2 6 0 6 2 6-2 6-3 6 4 6 2 6 0 6-3 6-2 6-8 6 3 6 2 6 3 6 1 6 2 6-5 6 0 6 0 6 4 6-2 6 1 6 3 6-5 6 1 6-4 6-1 6-1 6 0 6-3 6-6 6-3 6-3 6 0 6 3 6-3 6 0 6-4 6-1 6-1 6-3 6 2 6-4 6-2 6-4 6-3 6 1 6-3 6-3 6 6 6 2 6-2 6-3 6 0 6-4 6-3 6-1 6 0 6-5 6-2 6-3 6-5 6-3 6-3 6-1 6-1 6-1 6-2 6-1 6 1 6 1 6-3 6-1 6-2 6-1 6-2 6 1 6-2 6-1 6-1 6 0 6-2 6-2 6-1" stroke="#ff7f0e"/><path d="M0 328l6-5 6 7 6-14 6 3 6-1 6-6 6-1 6 6 6 2 6 7 6-11 6 7 6 1 6-3 6-2 6-3 6 2 6 3 6-2 6 12 6 6 6-6 6 3 6 3 6-12 6-3 6 4 6-1 6-14 6 3 6 1 6 3 6-4 6-14 6-11 6 11 6 1 6 4 6 6 6 0 6-2 6 5 6 3 6 8 6 5 6 5 6-4 6-4 6 0 6 0 6-1 6 4 6 2 6 3 6-10 6-6 6 4 6 3 6 1 6 8 6-5 6-3 6-6 6-11 6 3 6 16 6-3 6-4 6-3 6 13 6-13 6 12 6-1 6 4 6-2 6-5 6-13 6-21 6-7 6 6 6-13 6 0 6-9 6-9 6 10 6 2 6 6 6-4 6 0 6 9 6-5 6 7 6-8 6-4 6-4 6 0 6-5 6-4 6-4 6-5 6-7 6-1 6 4 6 3 6-1 6-8 6-7 6-2 6-3 6 2 6-1 6-2 6-4 6 5 6-9 6 0 6 3 6 0 6 1 6-1 6-5 6-1 6 11 6 14 6 0 6-4 6 2 6-5 6-3 6-3 6 11 6-4 6-6 6-4 6-3 6-3 6-8 6-3 6 2 6-14 6 3 6 6 6-2 6-2 6-5 6-19 6 3 6-1 6-3 6 2 6-3 6 2 6-5 6 1 6-1 6 3 6 1 6 0 6 2 6 4 6-1 6 10 6 2 6-4 6 3 6-8 6 4 6 3 6 0 6-7 6 2 6-6 6 1 6 5 6-2 6 1 6 3 6 2 6 0 6-8 6-1 6-6 6 3 6-7 6-9 6-4 6-2 6-13 6 4 6-1 6 7 6 0 6-3 6 3 6-1 6-4 6-1 6-4 6 0 6-6 6 0 6 0 6 2 6 3 6 0 6-1 6-3 6 0 6-2 6 0 6-1 6 1 6 3 6 2 6 0 6-1 6-1 6-3 6 0 6-1 6-3 6-5 6-5 6 2 6-2 6 4 6-9 6 3 6 2 6-1 6-2 6 4 6-5 6-3 6-1 6-2 6 1 6 2 6-6 6 2 6 1 6 3 6-2 6 0 6 1 6 2 6-3 6 1 6 0 6 3 6 0 6 3 6 3 6-2 6-1 6-1 6-7 6-2 6 1 6-1 6 1 6 3 6-1 6-6 6 2 6 2 6-2 6 3 6 3 6 0 6-1 6-1 6 3 6-2 6 1 6-2 6 2 6-1 6-5 6-4 6-3 6-3 6-5 6 1 6-3 6-1 6 0 6-3 6-1 6 0 6 3 6-1 6-3 6-3 6-2 6-2 6-3 6-3 6-2 6-1 6-1 6 2 6-2 6-2 6-2 6 0 6 0 6-2 6 2 6-1 6-2 6 0 6-3 6 2 6 0 6-2 6 1 6 1 6 0 6-2 6 0 6-2 6-1 6 0 6 0 6 0 6 0 6-2 6-1 6 0 6-1 6-2 6 0 6-3 6-1 6-2 6-2 6-1 6-2 6-1 6 0 6-2 6-2 6-2 6 0 6-1 6-2 6-1 6 0 6-1 6-1 6-2 6-2 6-1 6-2 6-2 6-1 6-1 6-2 6-1" stroke="#2ca02c"/><path d="M0 328l6 0 6 15 6-10 6 3 6-10 6-8 6 5 6-1 6-11 6 4 6 1 6-6 6-3 6-4 6 1 6-1 6-1 6 1 6 20 6 1 6-1 6-6 6 6 6-7 6 1 6-6 6-7 6-1 6-10 6 5 6 1 6 7 6 0 6-11 6 1 6 11 6-7 6 1 6-2 6 1 6 0 6-10 6-1 6-7 6-6 6-4 6-9 6-8 6 3 6 2 6-1 6-6 6-11 6-15 6-4 6-3 6-1 6-8 6 4 6-11 6 4 6-6 6-10 6-3 6 2 6-3 6-8 6 1 6 5 6 3 6-2 6 2 6 0 6 1 6 4 6-5 6-1 6 1 6-6 6-6 6-5 6-1 6 0 6-4 6-4 6 3 6-5 6 1 6-3 6-1 6-3 6-1 6-6 6 1 6 4 6-3 6 2 6-2 6 0 6 3 6-4 6-8 6-4 6-3 6 0 6 4 6-7 6 2 6 2 6-2 6 5 6 2 6 1 6-3 6 0 6 0 6-1 6-5 6-3 6-5 6 0 6-7 6 0 6 2 6 2 6 0 6-1 6-3 6-1 6-2 6 1 6-4 6-4 6-3 6 2 6-5 6-3 6-3 6-1 6-1 6 0 6 3 6 0 6 3 6-1 6 2 6 2 6 0 6-2 6-7 6-1 6-4 6-2 6 1 6-1 6 0 6 0 6-3 6-4 6 0 6 0 6-2 6-2 6 1 6 2 6-3 6-1 6-1 6 0 6-1 6 1 6-1 6 0 6 0 6-3 6-3 6-4 6-1 6-1 6 0 6-1 6-2 6 0 6-2 6-1 6-3 6 0 6-1 6-3 6 0 6-2 6-2 6-1 6-2 6-1 6-3 6-2 6-1 6-2 6-1 6-1 6-1 6-2 6-1 6-2 6-1 6-1 6-1 6-1 6-1 6-2 6-1 6-1 6-1 6-2 6-1 6-1 6-2 6-1 6-1 6-2 6-1 6-1" stroke="#d62728"/><path d="M0 328l6-13 6 1 6 1 6 0 6 6 6-3 6-1 6 2 6 5 6 10 6 3 6 0 6-2 6-5 6-12 6 12 6-3 6 2 6 14 6-6 6-10 6 7 6 7 6 5 6-3 6 2 6-12 6 0 6-3 6-6 6-1 6 0 6 13 6-7 6 5 6 4 6-4 6 12 6 9 6-3 6 1 6 1 6 5 6-9 6-15 6 7 6-2 6 12 6 9 6 7 6 4 6 7 6-11 6 7 6 9 6 6 6-10 6 7 6-4 6 9 6 1 6 1 6 0 6 6 6-10 6-20 6-19 6 3 6-6 6 5 6 5 6-3 6-4 6 2 6-3 6 1 6 7 6-21 6-15 6-1 6 7 6 5 6 12 6 17 6 0 6-4 6-10 6 5 6 1 6 5 6 13 6 0 6 11 6 9 6 1 6-3 6-3 6-22 6 0 6-9 6-3 6 7 6-11 6-7 6 3 6 6 6-8 6-13 6-10 6 2 6 11 6-2 6 6 6-17 6 3 6-8 6-6 6-7 6-7 6-3 6 8 6-5 6-9 6 1 6-4 6 3 6 4 6 4 6 6 6-6 6-3 6-10 6 4 6-15 6-8 6-10 6 21 6-7 6-4 6 6 6 10 6-4 6 5 6 7 6-17 6 4 6 2 6-10 6 5 6 2 6-4 6-2 6 7 6-8 6 0 6 0 6 4 6 7 6-3 6-2 6-10 6 6 6-4 6-6 6 7 6-1 6-3 6-6 6 7 6 0 6-4 6-2 6 0 6-3 6 0 6-3 6-4 6 2 6-8 6 5 6-11 6 13 6 2 6-11 6 10 6-1 6 1 6-3 6 1 6 6 6-6 6 5 6 3 6 2 6-18 6-11 6 8 6-9 6 1 6-7 6-12 6 0 6-5 6-2 6-1 6-2 6-9 6 2 6-7 6 2 6-1 6-3 6-7 6-1 6-5 6-4 6-7 6-1 6-2 6 1 6 3 6 2 6 0 6-4 6 0 6 3 6-5 6-7 6 5 6 2 6-2 6 3 6-5 6-2 6 1 6-4 6 0 6 1 6-5 6 0 6-11 6 0 6 0 6-7 6 2 6-3 6 4 6-1 6-4 6 1 6-5 6-5 6 1 6-2 6 1 6 1 6-2 6 0 6-1 6-2 6-3 6 0 6-1 6 3 6-5 6-3 6-4 6 0 6-1 6 3 6 0 6-1 6 2 6-5 6-4 6-3 6-3 6 1 6-3 6-1 6 2 6 2 6-1 6-1 6-4 6-4 6 0 6 0 6 0 6-5 6-4 6-2 6-1 6 1 6 1 6-1 6-1 6 0 6 1 6-3 6-2 6 0 6-4 6-1 6-1 6-2 6-4 6-3 6-1 6-2 6 0 6-2 6 1 6-3 6-1 6 0 6-1 6-3 6-1 6-1 6-1 6-1 6-2 6-2 6-2 6-1 6-3 6-1 6-1 6-2 6-1 6-1 6-2 6-1 6-2 6-1 6-1 6-1 6-2 6-1 6-1" stroke="#9467bd"/><path d="M0 328l6 6 6 22 6 11 6 0 6-4 6-3 6-7 6-3 6 7 6-8 6-12 6-6 6 11 6 13 6-10 6 11 6 5 6 2 6-4 6-6 6-7 6-10 6 15 6-2 6-5 6-4 6 7 6 0 6 6 6-4 6-4 6-6 6-5 6 2 6-12 6 4 6 0 6-7 6-1 6 3 6-4 6-8 6-7 6-9 6-3 6-3 6-11 6-4 6 1 6-5 6-10 6 0 6-2 6 3 6 1 6 9 6-3 6-7 6-1 6 0 6 4 6 2 6 1 6-3 6 3 6 0 6-4 6-3 6-12 6 4 6-4 6-10 6-4 6-6 6 4 6-3 6 2 6-3 6 7 6-7 6 0 6-3 6 0 6 5 6-14 6 0 6-5 6 6 6 0 6-8 6 2 6 0 6 13 6-7 6 1 6-4 6-6 6-2 6-4 6 2 6 7 6-3 6 1 6-2 6 0 6 11 6 3 6-2 6-7 6 7 6-4 6-7 6-3 6-6 6-6 6-6 6 3 6-3 6-4 6 2 6-1 6 0 6-1 6 2 6 7 6-1 6-6 6-4 6-3 6-2 6 1 6 0 6-3 6-3 6-3 6 1 6 0 6 1 6-1 6-1 6-4 6 1 6 1 6-5 6-1 6-5 6-1 6-3 6-4 6-3 6-1 6 0 6-5 6-4 6-2 6-4 6-7 6-3 6 1 6-1 6 2 6-7 6-1 6-1 6-3 6-5 6-2 6-2 6-4 6-2 6-1 6 2 6-1 6 3 6 1 6 0 6-1 6 0 6-1 6-3 6-1 6 0 6 2 6-2 6-3 6 2 6-2 6 0 6-6 6 0 6-1 6-1 6 1 6-2 6 3 6 1 6-2 6 1 6 1 6-3 6-2 6-3 6 0 6 1 6 0 6-3 6 0 6 0 6 0 6-1 6-1 6-2 6-2 6-2 6 1 6-1 6-1 6-2 6-4 6-1 6-1 6-2 6 0 6 0 6-1 6-1 6 0 6-4 6 0 6 0 6-1 6-1 6 2 6 0 6-2 6-1 6-1 6 0 6 1 6-1 6-1 6-2 6 0 6-1 6-2 6 0 6-1 6-1 6-2 6 0 6-2 6-2 6 0 6-1 6-2 6 0 6-2 6-1 6-1 6-2 6-1 6-1 6-1 6-1 6-1 6-2 6-2 6-1 6-2 6-1 6-1 6-2 6-1 6-1 6-2" stroke="#8c564b"/><path d="M0 328l6 2 6-6 6 11 6 4 6-2 6 0 6-2 6-4 6 11 6-8 6 3 6 17 6-9 6-11 6 10 6 3 6 1 6 11 6-19 6 1 6 5 6-4 6-4 6-8 6-8 6 6 6 0 6 2 6 4 6-6 6-7 6 3 6-1 6 10 6 11 6 4 6-10 6-7 6-11 6 1 6-9 6 5 6 0 6 8 6 8 6 4 6-7 6-1 6 1 6 3 6 4 6-5 6 18 6-4 6-10 6-4 6-11 6 6 6 2 6 6 6 2 6-14 6-7 6 3 6-8 6 1 6-2 6 8 6-11 6 5 6-11 6-1 6 2 6-12 6-1 6 0 6-3 6 2 6-2 6 4 6 1 6 1 6-4 6 2 6-3 6-5 6-2 6 6 6-14 6-5 6-1 6-5 6-6 6-5 6-2 6-4 6 0 6-5 6-10 6 0 6 7 6 8 6 4 6 6 6 8 6-7 6 4 6-1 6 1 6-4 6 5 6 1 6-1 6 7 6-3 6 9 6 7 6 2 6 5 6-2 6 8 6-4 6-10 6 13 6-6 6 6 6-2 6 10 6-4 6 0 6 0 6-1 6 3 6-6 6 7 6 17 6-14 6 1 6 6 6-5 6-11 6 0 6-1 6-2 6 4 6 8 6-4 6 5 6 2 6-1 6-7 6 4 6 2 6-8 6-3 6-9 6-2 6-6 6-2 6-6 6-18 6 3 6-4 6-10 6-5 6-1 6 0 6 7 6 0 6 8 6-2 6-7 6 8 6 3 6-5 6-4 6 1 6-6 6 2 6-3 6 4 6 7 6 4 6-10 6-3 6-8 6-2 6 4 6-7 6-1 6-3 6-4 6 4 6 0 6 7 6-1 6-1 6 1 6 9 6 1 6 2 6-3 6 1 6-7 6-4 6-3 6-7 6 0 6-1 6-5 6 1 6-3 6-1 6-4 6 3 6 5 6-8 6 2 6-8 6 2 6-2 6 0 6 3 6 2 6 5 6-4 6-3 6-4 6 0 6 7 6 4 6 2 6-6 6-1 6-5 6-4 6-1 6 5 6 0 6 0 6-2 6-7 6-2 6-3 6-4 6-4 6-4 6-1 6 8 6 1 6 4 6-4 6-10 6-3 6-1 6 1 6-3 6-4 6-1 6-4 6-1 6-3 6-3 6-8 6-1 6-2 6 2 6 4 6-8 6-1 6-1 6 1 6-8 6-4 6 4 6-2 6 1 6-4 6-1 6-2 6-6 6-4 6-3 6 4 6 0 6-3 6-2 6-1 6-3 6-2 6 1 6-2 6-2 6-4 6-2 6 1 6-3 6-5 6-2 6-2 6 0 6 3 6-2 6-3 6 1 6-2 6-1 6-3 6 0 6 1 6-3 6-1 6-2 6 2 6-3 6 0 6 0 6 0 6-1 6 0 6-3 6-2 6-1 6-1 6 0 6 0 6 0 6-2 6-2 6 0 6 0 6 0 6 1 6-3 6 0 6 0 6-4 6-3 6-1 6-3 6 0 6-2 6-1 6-1 6-1 6-2 6 1 6-2 6 0 6-1 6 0 6-1 6-1 6-1 6-2 6 0 6-2 6-2 6-2 6-1" stroke="#e377c2"/><path d="M0 328l6 9 6-9 6 2 6-3 6 9 6-7 6 4 6 3 6 0 6 8 6-10 6-6 6 1 6-4 6-5 6-6 6 1 6-9 6 4 6-7 6-16 6 11 6-16 6-6 6 8 6 18 6 0 6 7 6-6 6-4 6 3 6-2 6-12 6-3 6-4 6-9 6 12 6-12 6-8 6 1 6 3 6-3 6-12 6-5 6 2 6 1 6-2 6-1 6 5 6-9 6 1 6-5 6 6 6 4 6 2 6-8 6-2 6-16 6-2 6-1 6-9 6 0 6 1 6-1 6 5 6-2 6 10 6-3 6-4 6-6 6-6 6-6 6 7 6 9 6-4 6 1 6 2 6 5 6-11 6 1 6 4 6 1 6-4 6-7 6 4 6 4 6 3 6-2 6 2 6-9 6-14 6-4 6-3 6 0 6 4 6-6 6-2 6-1 6-7 6 1 6 4 6-1 6-2 6 1 6 2 6 2 6-1 6-5 6 2 6 3 6 0 6-3 6-4 6 2 6 4 6-6 6-3 6 5 6-4 6-6 6 1 6 3 6-2 6-5 6 0 6-1 6 2 6-7 6 4 6-4 6 7 6-6 6 0 6 4 6-5 6 3 6-11 6-1 6-1 6 0 6-8 6 5 6 4 6 0 6-1 6-12 6-5 6 3 6 0 6 6 6 0 6 1 6-9 6 0 6 0 6 1 6 5 6 2 6-9 6-7 6 4 6 3 6 1 6-1 6 4 6 0 6 4 6-4 6-4 6 0 6 1 6-1 6 6 6 1 6-8 6 1 6 0 6-1 6-6 6-7 6 1 6 0 6-2 6-3 6-5 6-1 6 1 6-1 6 1 6-2 6-2 6-2 6-5 6 0 6-3 6-6 6 0 6-3 6 0 6 0 6 0 6-5 6-3 6-4 6 2 6 0 6 1 6-2 6-1 6 0 6 0 6-1 6 1 6 0 6-3 6 1 6 1 6-1 6-5 6-2 6-1 6-4 6-3 6-4 6-3 6 0 6-1 6-2 6-1 6-2 6 0 6-3 6 1 6-2 6-2 6-1 6-2 6-3 6 0 6-1 6 0 6-2 6-1 6-1 6-2 6-2 6-1 6-2 6-1 6-1 6-2 6-1 6-2 6-2 6-1 6-1 6-2 6-1 6-1 6-2" stroke="#7f7f7f"/><path d="M0 328l6-5 6 9 6-3 6-15 6 7 6 0 6-7 6-1 6-9 6-9 6 6 6 13 6-7 6-17 6-6 6 8 6 0 6-10 6-4 6 2 6-7 6 6 6 12 6 7 6 1 6 0 6-3 6 10 6-9 6 1 6-3 6-4 6 15 6 3 6-18 6 1 6 10 6 1 6 7 6-3 6 3 6 5 6 13 6 6 6 8 6-13 6-12 6-4 6 6 6-4 6 3 6-15 6-8 6-9 6-3 6 1 6 7 6 14 6 1 6-5 6 2 6 9 6 14 6 3 6-15 6-8 6-3 6 6 6-4 6-12 6 2 6 6 6-6 6-6 6-5 6 5 6 0 6-7 6-1 6-3 6 3 6-14 6 0 6 7 6 1 6 0 6 1 6-5 6-4 6-1 6 4 6 4 6-5 6-1 6-3 6 0 6-2 6-4 6 5 6 4 6 12 6 0 6 6 6-4 6 4 6-4 6 3 6-1 6 4 6-17 6-3 6 1 6-2 6 8 6 4 6-1 6 3 6-4 6-5 6-8 6 5 6-1 6-13 6 2 6-14 6-6 6-1 6 8 6-2 6-3 6 9 6-2 6 2 6-7 6-10 6 6 6-9 6 7 6 3 6-1 6 6 6-5 6-3 6-3 6-1 6 3 6 7 6-3 6-8 6 3 6 4 6-10 6 1 6-6 6 7 6-11 6-1 6-3 6 3 6 3 6 3 6 4 6-2 6 0 6-4 6 7 6-10 6-5 6 2 6 5 6 10 6-2 6-1 6-8 6-3 6-2 6-3 6-13 6 6 6 1 6 5 6-1 6 5 6-6 6 2 6 0 6 8 6-5 6 3 6-4 6-2 6 6 6 2 6-5 6-4 6-6 6 1 6-1 6-7 6-11 6 2 6-17 6-2 6 0 6 7 6-2 6 3 6-8 6 3 6-3 6 1 6 0 6-5 6-2 6-9 6 2 6-2 6-3 6 2 6 0 6-1 6 0 6-7 6-1 6-4 6-5 6 1 6-4 6 1 6 1 6-3 6 0 6 0 6 2 6-2 6-3 6-2 6-1 6 2 6-2 6-4 6-4 6-1 6-2 6-3 6-1 6 0 6-6 6 2 6 0 6 2 6 0 6-1 6 1 6-2 6 1 6 0 6-4 6 2 6-4 6 2 6 0 6-3 6-1 6 0 6 3 6-1 6 4 6-2 6-2 6-7 6-4 6-3 6-5 6 0 6 4 6-3 6-1 6 0 6 0 6-4 6-4 6-1 6-2 6-3 6-2 6-2 6 0 6-3 6-2 6-4 6 0 6-1 6-1 6-1 6-1 6-4 6-2 6-1 6 0 6-2 6-1 6-2 6 0 6-2 6 0 6-1 6-1 6-1 6-1 6 0 6-2 6-2 6-1 6-1 6-2 6-1 6 0 6-1 6-2 6-1 6-2 6-2 6-1 6-1 6-1 6-2 6-1 6-1 6-2 6-1 6-1 6-1 6-2 6-1" stroke="#bcbd22"/><path d="M0 328l6-6 6 5 6 5 6-16 6-2 6 7 6-16 6 5 6 9 6-9 6 7 6-11 6 6 6-15 6 7 6-1 6-9 6 3 6-18 6-3 6-5 6-7 6 1 6-11 6 4 6 3 6 0 6-5 6-5 6-2 6 8 6-7 6 12 6 20 6 0 6 2 6-6 6 4 6 5 6 4 6 0 6-9 6-8 6 4 6 4 6 7 6 7 6-7 6 0 6-6 6 10 6 0 6-14 6 6 6 7 6-3 6 5 6-1 6 13 6-5 6 9 6 4 6 0 6 6 6-5 6-11 6-3 6 1 6-13 6 6 6-7 6-7 6-3 6-3 6-3 6 0 6 12 6 4 6 5 6 5 6-3 6-6 6 6 6 9 6-9 6 7 6 10 6-6 6-5 6-12 6 1 6-6 6-2 6 4 6-5 6 1 6-2 6-1 6 5 6 1 6 1 6-4 6 5 6 6 6-11 6-2 6-2 6 0 6 6 6-17 6 0 6 4 6 5 6 1 6-6 6-14 6-2 6-11 6 5 6-1 6 0 6-1 6-1 6-1 6-5 6 4 6-10 6-5 6 4 6 3 6-2 6-4 6-13 6 4 6 9 6 0 6-2 6-3 6 6 6 3 6-7 6 4 6-1 6-5 6-8 6 1 6-4 6-7 6 2 6-7 6 3 6-11 6-8 6-4 6-7 6 2 6 2 6 1 6 0 6-8 6-6 6-5 6 1 6-1 6-4 6-5 6-1 6-7 6 0 6 5 6 3 6-1 6 0 6 4 6 5 6 6 6 2 6-3 6-1 6 0 6 2 6 1 6 6 6-5 6-9 6-2 6-2 6-6 6-1 6 3 6 6 6 0 6-2 6-1 6-4 6 2 6 2 6-3 6 3 6-2 6 2 6-1 6 3 6-3 6 1 6 4 6-3 6 5 6-2 6 1 6-4 6 0 6-7 6-2 6-3 6-2 6-1 6-2 6-1 6-3 6 1 6 0 6-4 6-5 6-3 6 0 6-2 6-4 6-6 6 2 6 2 6 0 6 0 6 3 6-1 6 0 6-8 6-1 6-2 6 0 6 0 6-1 6-1 6 2 6-2 6 1 6-4 6 1 6-1 6-2 6-3 6 2 6-2 6 1 6-1 6 2 6-2 6-5 6-2 6 2 6-2 6 0 6-4 6 2 6 1 6-1 6-3 6 2 6-4 6-2 6-2 6-4 6-2 6-1 6-1 6-1 6-2 6-2 6 0 6 3 6-2 6-3 6-3 6 0 6-1 6 0 6-4 6-1 6-2 6-4 6-3 6-2 6-2 6-3 6-1 6-1 6 0 6 0 6 0 6 0 6-2 6-2 6-1 6-1 6-1 6-1 6-1 6-1 6-1 6-1 6-1 6-2 6-2 6-1 6-2 6-1 6-2 6-1 6-1 6-1 6-2 6-1 6-2 6-1 6-1 6-1 6-1" stroke="#17becf"/></g></g><g><path d="M 38.952 114.228 L 38.952 27.072 " style="fill: none; stroke: #000000; stroke-width: 0.8; stroke-linejoin: miter; stroke-linecap: square"/></g><g><path d="M 38.952 114.228 L 436.968 114.228 " style="fill: none; stroke: #000000; stroke-width: 0.8; stroke-linejoin: miter; stroke-linecap: square"/></g><g><text style="font-size: 12px; font-family: 'DejaVu Sans', 'Bitstream Vera Sans', 'Computer Modern Sans Serif', 'Lucida Grande', 'Verdana', 'Geneva', 'Lucid', 'Arial', 'Helvetica', 'Avant Garde', sans-serif; text-anchor: middle" x="237.96" y="21.072" transform="translate(0.000 -0.360) rotate(-0 237.96 21.072)">Projected value of capital over 30 years</text></g></g><g><g><path d="M 38.952 259.2 L 436.968 259.2 L 436.968 171.9 L 38.952 171.9 z " style="fill: #ffffff"/></g><g><g><g><path d="M 38.952 259.2 L 38.952 171.9 " clip-path="url(#bp429e85f748)" style="fill: none; stroke: #b0b0b0; stroke-width: 0.8; stroke-linecap: square"/></g><g><g><path d="M 0 0 L 0 3.5 " transform="translate(38.952 259.2)" style="stroke: #000000; stroke-width: 0.8"/></g></g><g><text style="font-size: 10px; font-family: 'DejaVu Sans', 'Bitstream Vera Sans', 'Computer Modern Sans Serif', 'Lucida Grande', 'Verdana', 'Geneva', 'Lucid', 'Arial', 'Helvetica', 'Avant Garde', sans-serif; text-anchor: middle" x="38.952" y="273.798437" transform="translate(0.360 0.504) rotate(-0 38.952 273.798437)">0</text></g></g><g><g><path d="M 94.232 259.2 L 94.232 171.9 " clip-path="url(#bp429e85f748)" style="fill: none; stroke: #b0b0b0; stroke-width: 0.8; stroke-linecap: square"/></g><g><g><path d="M 0 0 L 0 3.5 " transform="translate(94.232 259.2)" style="stroke: #000000; stroke-width: 0.8"/></g></g><g><text style="font-size: 10px; font-family: 'DejaVu Sans', 'Bitstream Vera Sans', 'Computer Modern Sans Serif', 'Lucida Grande', 'Verdana', 'Geneva', 'Lucid', 'Arial', 'Helvetica', 'Avant Garde', sans-serif; text-anchor: middle" x="94.232" y="273.798437" transform="translate(0.360 0.504) rotate(-0 94.232 273.798437)">50</text></g></g><g><g><path d="M 149.512 259.2 L 149.512 171.9 " clip-path="url(#bp429e85f748)" style="fill: none; stroke: #b0b0b0; stroke-width: 0.8; stroke-linecap: square"/></g><g><g><path d="M 0 0 L 0 3.5 " transform="translate(149.512 259.2)" style="stroke: #000000; stroke-width: 0.8"/></g></g><g><text style="font-size: 10px; font-family: 'DejaVu Sans', 'Bitstream Vera Sans', 'Computer Modern Sans Serif', 'Lucida Grande', 'Verdana', 'Geneva', 'Lucid', 'Arial', 'Helvetica', 'Avant Garde', sans-serif; text-anchor: middle" x="149.512" y="273.798437" transform="translate(0.360 0.504) rotate(-0 149.512 273.798437)">100</text></g></g><g><g><path d="M 204.792 259.2 L 204.792 171.9 " clip-path="url(#bp429e85f748)" style="fill: none; stroke: #b0b0b0; stroke-width: 0.8; stroke-linecap: square"/></g><g><g><path d="M 0 0 L 0 3.5 " transform="translate(204.792 259.2)" style="stroke: #000000; stroke-width: 0.8"/></g></g><g><text style="font-size: 10px; font-family: 'DejaVu Sans', 'Bitstream Vera Sans', 'Computer Modern Sans Serif', 'Lucida Grande', 'Verdana', 'Geneva', 'Lucid', 'Arial', 'Helvetica', 'Avant Garde', sans-serif; text-anchor: middle" x="204.792" y="273.798437" transform="translate(0.360 0.504) rotate(-0 204.792 273.798437)">150</text></g></g><g><g><path d="M 260.072 259.2 L 260.072 171.9 " clip-path="url(#bp429e85f748)" style="fill: none; stroke: #b0b0b0; stroke-width: 0.8; stroke-linecap: square"/></g><g><g><path d="M 0 0 L 0 3.5 " transform="translate(260.072 259.2)" style="stroke: #000000; stroke-width: 0.8"/></g></g><g><text style="font-size: 10px; font-family: 'DejaVu Sans', 'Bitstream Vera Sans', 'Computer Modern Sans Serif', 'Lucida Grande', 'Verdana', 'Geneva', 'Lucid', 'Arial', 'Helvetica', 'Avant Garde', sans-serif; text-anchor: middle" x="260.072" y="273.798437" transform="translate(0.360 0.504) rotate(-0 260.072 273.798437)">200</text></g></g><g><g><path d="M 315.352 259.2 L 315.352 171.9 " clip-path="url(#bp429e85f748)" style="fill: none; stroke: #b0b0b0; stroke-width: 0.8; stroke-linecap: square"/></g><g><g><path d="M 0 0 L 0 3.5 " transform="translate(315.352 259.2)" style="stroke: #000000; stroke-width: 0.8"/></g></g><g><text style="font-size: 10px; font-family: 'DejaVu Sans', 'Bitstream Vera Sans', 'Computer Modern Sans Serif', 'Lucida Grande', 'Verdana', 'Geneva', 'Lucid', 'Arial', 'Helvetica', 'Avant Garde', sans-serif; text-anchor: middle" x="315.352" y="273.798437" transform="translate(0.360 0.504) rotate(-0 315.352 273.798437)">250</text></g></g><g><g><path d="M 370.632 259.2 L 370.632 171.9 " clip-path="url(#bp429e85f748)" style="fill: none; stroke: #b0b0b0; stroke-width: 0.8; stroke-linecap: square"/></g><g><g><path d="M 0 0 L 0 3.5 " transform="translate(370.632 259.2)" style="stroke: #000000; stroke-width: 0.8"/></g></g><g><text style="font-size: 10px; font-family: 'DejaVu Sans', 'Bitstream Vera Sans', 'Computer Modern Sans Serif', 'Lucida Grande', 'Verdana', 'Geneva', 'Lucid', 'Arial', 'Helvetica', 'Avant Garde', sans-serif; text-anchor: middle" x="370.632" y="273.798437" transform="translate(0.360 0.504) rotate(-0 370.632 273.798437)">300</text></g></g><g><g><path d="M 425.912 259.2 L 425.912 171.9 " clip-path="url(#bp429e85f748)" style="fill: none; stroke: #b0b0b0; stroke-width: 0.8; stroke-linecap: square"/></g><g><g><path d="M 0 0 L 0 3.5 " transform="translate(425.912 259.2)" style="stroke: #000000; stroke-width: 0.8"/></g></g><g><text style="font-size: 10px; font-family: 'DejaVu Sans', 'Bitstream Vera Sans', 'Computer Modern Sans Serif', 'Lucida Grande', 'Verdana', 'Geneva', 'Lucid', 'Arial', 'Helvetica', 'Avant Garde', sans-serif; text-anchor: middle" x="425.912" y="273.798437" transform="translate(0.360 0.504) rotate(-0 425.912 273.798437)">350</text></g></g><g><text style="font-size: 10px; font-family: 'DejaVu Sans', 'Bitstream Vera Sans', 'Computer Modern Sans Serif', 'Lucida Grande', 'Verdana', 'Geneva', 'Lucid', 'Arial', 'Helvetica', 'Avant Garde', sans-serif; text-anchor: middle" x="237.96" y="287.476562" transform="translate(0.396 0.864) rotate(-0 237.96 287.476562)">Months</text></g></g><g><g><g><path d="M 38.952 259.2 L 436.968 259.2 " clip-path="url(#bp429e85f748)" style="fill: none; stroke: #b0b0b0; stroke-width: 0.8; stroke-linecap: square"/></g><g><g><path d="M 0 0 L -3.5 0 " transform="translate(38.952 259.2)" style="stroke: #000000; stroke-width: 0.8"/></g></g><g><text style="font-size: 10px; font-family: 'DejaVu Sans', 'Bitstream Vera Sans', 'Computer Modern Sans Serif', 'Lucida Grande', 'Verdana', 'Geneva', 'Lucid', 'Arial', 'Helvetica', 'Avant Garde', sans-serif; text-anchor: end" x="31.952" y="262.999219" transform="translate(0.396 0.144) rotate(-0 31.952 262.999219)">0</text></g></g><g><g><path d="M 38.952 237.375 L 436.968 237.375 " clip-path="url(#bp429e85f748)" style="fill: none; stroke: #b0b0b0; stroke-width: 0.8; stroke-linecap: square"/></g><g><g><path d="M 0 0 L -3.5 0 " transform="translate(38.952 237.375)" style="stroke: #000000; stroke-width: 0.8"/></g></g><g><text style="font-size: 10px; font-family: 'DejaVu Sans', 'Bitstream Vera Sans', 'Computer Modern Sans Serif', 'Lucida Grande', 'Verdana', 'Geneva', 'Lucid', 'Arial', 'Helvetica', 'Avant Garde', sans-serif; text-anchor: end" x="31.952" y="241.174219" transform="translate(0.396 0.144) rotate(-0 31.952 241.174219)">25</text></g></g><g><g><path d="M 38.952 215.55 L 436.968 215.55 " clip-path="url(#bp429e85f748)" style="fill: none; stroke: #b0b0b0; stroke-width: 0.8; stroke-linecap: square"/></g><g><g><path d="M 0 0 L -3.5 0 " transform="translate(38.952 215.55)" style="stroke: #000000; stroke-width: 0.8"/></g></g><g><text style="font-size: 10px; font-family: 'DejaVu Sans', 'Bitstream Vera Sans', 'Computer Modern Sans Serif', 'Lucida Grande', 'Verdana', 'Geneva', 'Lucid', 'Arial', 'Helvetica', 'Avant Garde', sans-serif; text-anchor: end" x="31.952" y="219.349219" transform="translate(0.396 0.144) rotate(-0 31.952 219.349219)">50</text></g></g><g><g><path d="M 38.952 193.725 L 436.968 193.725 " clip-path="url(#bp429e85f748)" style="fill: none; stroke: #b0b0b0; stroke-width: 0.8; stroke-linecap: square"/></g><g><g><path d="M 0 0 L -3.5 0 " transform="translate(38.952 193.725)" style="stroke: #000000; stroke-width: 0.8"/></g></g><g><text style="font-size: 10px; font-family: 'DejaVu Sans', 'Bitstream Vera Sans', 'Computer Modern Sans Serif', 'Lucida Grande', 'Verdana', 'Geneva', 'Lucid', 'Arial', 'Helvetica', 'Avant Garde', sans-serif; text-anchor: end" x="31.952" y="197.524219" transform="translate(0.396 0.144) rotate(-0 31.952 197.524219)">75</text></g></g><g><g><path d="M 38.952 171.9 L 436.968 171.9 " clip-path="url(#bp429e85f748)" style="fill: none; stroke: #b0b0b0; stroke-width: 0.8; stroke-linecap: square"/></g><g><g><path d="M 0 0 L -3.5 0 " transform="translate(38.952 171.9)" style="stroke: #000000; stroke-width: 0.8"/></g></g><g><text style="font-size: 10px; font-family: 'DejaVu Sans', 'Bitstream Vera Sans', 'Computer Modern Sans Serif', 'Lucida Grande', 'Verdana', 'Geneva', 'Lucid', 'Arial', 'Helvetica', 'Avant Garde', sans-serif; text-anchor: end" x="31.952" y="175.699219" transform="translate(0.396 0.144) rotate(-0 31.952 175.699219)">100</text></g></g></g><g><path d="M 38.952 171.9 L 277.7616 171.9 L 278.8672 172.773 L 285.5008 172.773 L 286.6064 173.646 L 287.712 175.392 L 297.6624 175.392 L 298.768 177.138 L 299.8736 177.138 L 300.9792 178.884 L 302.0848 178.884 L 303.1904 179.757 L 308.7184 179.757 L 309.824 180.63 L 310.9296 180.63 L 312.0352 182.376 L 314.2464 182.376 L 315.352 183.249 L 319.7744 183.249 L 320.88 184.122 L 324.1968 184.122 L 325.3024 184.995 L 326.408 186.741 L 327.5136 187.614 L 330.8304 187.614 L 331.936 188.487 L 333.0416 188.487 L 334.1472 189.36 L 336.3584 189.36 L 337.464 191.106 L 339.6752 191.106 L 340.7808 192.852 L 341.8864 192.852 L 344.0976 196.344 L 345.2032 196.344 L 347.4144 198.09 L 352.9424 198.09 L 355.1536 199.836 L 357.3648 199.836 L 358.4704 200.709 L 360.6816 200.709 L 362.8928 202.455 L 368.4208 202.455 L 371.7376 205.074 L 375.0544 205.074 L 378.3712 207.693 L 379.4768 207.693 L 382.7936 210.312 L 388.3216 210.312 L 389.4272 212.058 L 391.6384 212.058 L 392.744 212.931 L 393.8496 212.931 L 394.9552 213.804 L 397.1664 213.804 L 398.272 214.677 L 400.4832 214.677 L 401.5888 217.296 L 403.8 217.296 L 404.9056 218.169 L 406.0112 219.915 L 407.1168 220.788 L 409.328 220.788 L 410.4336 221.661 L 413.7504 221.661 L 414.856 222.534 L 415.9616 222.534 L 418.1728 224.28 L 420.384 224.28 L 421.4896 225.153 L 429.2288 225.153 L 430.3344 226.026 L 431.44 226.026 L 433.6512 227.772 L 435.8624 227.772 L 436.968 228.645 L 436.968 228.645 " clip-path="url(#bp429e85f748)" style="fill: none; stroke: #800080; stroke-width: 1.5; stroke-linecap: square"/></g><g><path d="M 38.952 259.2 L 38.952 171.9 " style="fill: none; stroke: #000000; stroke-width: 0.8; stroke-linejoin: miter; stroke-linecap: square"/></g><g><path d="M 38.952 259.2 L 436.968 259.2 " style="fill: none; stroke: #000000; stroke-width: 0.8; stroke-linejoin: miter; stroke-linecap: square"/></g><g><text style="font-size: 12px; font-family: 'DejaVu Sans', 'Bitstream Vera Sans', 'Computer Modern Sans Serif', 'Lucida Grande', 'Verdana', 'Geneva', 'Lucid', 'Arial', 'Helvetica', 'Avant Garde', sans-serif; text-anchor: middle" x="237.96" y="165.9" transform="translate(0.000 -0.360) rotate(-0 237.96 165.9)">Percent of scenarios still paying</text></g></g></g><defs><clipPath id="bp23c7c8c218"><rect x="38.952" y="27.072" width="398.016" height="87.156"/></clipPath><clipPath id="bp429e85f748"><rect x="38.952" y="171.9" width="398.016" height="87.3"/></clipPath></defs></svg> </div>
</body></html>
